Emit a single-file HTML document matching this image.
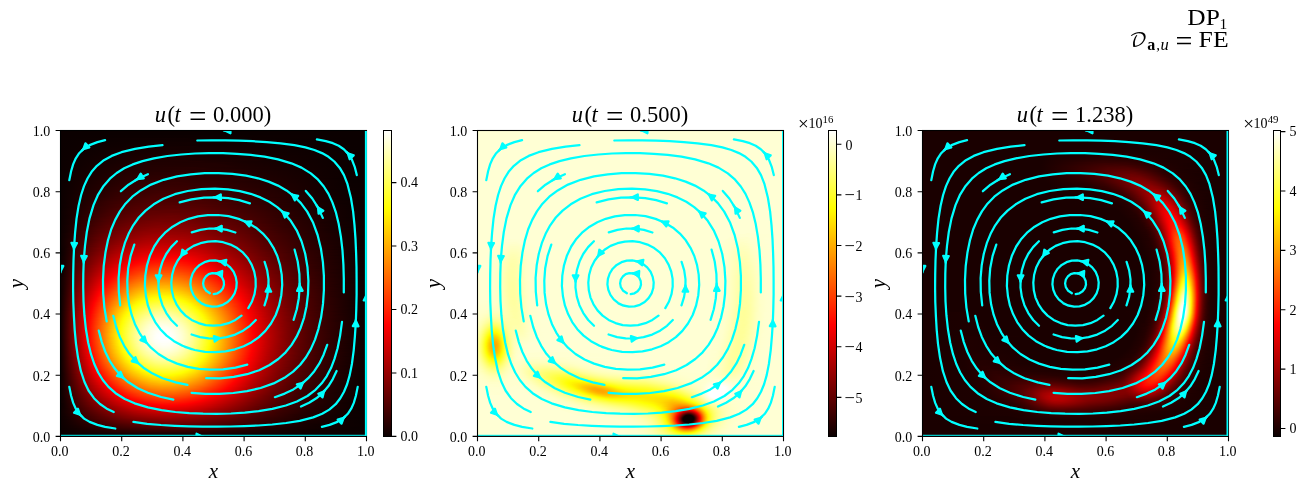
<!DOCTYPE html>
<html><head><meta charset="utf-8"><title>u(t)</title>
<style>
html,body{margin:0;padding:0;background:#fff}
#w{position:relative;width:1306px;height:491px;overflow:hidden;background:#fff}
.h{position:absolute;top:130px;width:307px;height:307px;overflow:hidden}
.h i{display:block;width:307px;height:1px}
svg{position:absolute;left:0;top:0}
text{font-family:"Liberation Serif",serif;fill:#000}
</style></head><body><div id="w">
<div class="h" style="left:60px"><i style="background:linear-gradient(90deg,#0b0000 0px,#0b0000 150px,#0b0000 300px,#0b0000 307px)"></i><i style="background:linear-gradient(90deg,#0b0000 0px,#0b0000 150px,#0b0000 300px,#0b0000 307px)"></i><i style="background:linear-gradient(90deg,#0b0000 0px,#0b0000 150px,#0b0000 300px,#0b0000 307px)"></i><i style="background:linear-gradient(90deg,#0b0000 0px,#0b0000 150px,#0b0000 300px,#0b0000 307px)"></i><i style="background:linear-gradient(90deg,#0b0000 0px,#0b0000 150px,#0b0000 300px,#0b0000 307px)"></i><i style="background:linear-gradient(90deg,#0b0000 0px,#0d0000 150px,#0b0000 300px,#0b0000 307px)"></i><i style="background:linear-gradient(90deg,#0b0000 0px,#0d0000 150px,#0b0000 300px,#0b0000 307px)"></i><i style="background:linear-gradient(90deg,#0b0000 0px,#0d0000 150px,#0b0000 300px,#0b0000 307px)"></i><i style="background:linear-gradient(90deg,#0b0000 0px,#100000 126px,#0d0000 132px,#0b0000 282px,#0b0000 307px)"></i><i style="background:linear-gradient(90deg,#0b0000 0px,#100000 150px,#0b0000 240px,#0b0000 307px)"></i><i style="background:linear-gradient(90deg,#0b0000 0px,#100000 134px,#0b0000 284px,#0b0000 307px)"></i><i style="background:linear-gradient(90deg,#0b0000 0px,#100000 118px,#0b0000 268px,#0b0000 307px)"></i><i style="background:linear-gradient(90deg,#0b0000 0px,#120000 129px,#0b0000 279px,#0b0000 307px)"></i><i style="background:linear-gradient(90deg,#0b0000 0px,#120000 129px,#0b0000 279px,#0b0000 307px)"></i><i style="background:linear-gradient(90deg,#0b0000 0px,#120000 113px,#0b0000 263px,#0b0000 307px)"></i><i style="background:linear-gradient(90deg,#0b0000 0px,#120000 102px,#0d0000 252px,#0b0000 307px)"></i><i style="background:linear-gradient(90deg,#0b0000 0px,#150000 133px,#120000 139px,#0b0000 289px,#0b0000 307px)"></i><i style="background:linear-gradient(90deg,#0b0000 0px,#150000 113px,#0b0000 263px,#0b0000 307px)"></i><i style="background:linear-gradient(90deg,#0b0000 0px,#150000 101px,#100000 228px,#0d0000 234px,#0b0000 307px)"></i><i style="background:linear-gradient(90deg,#0b0000 0px,#150000 93px,#120000 201px,#0b0000 290px,#0b0000 307px)"></i><i style="background:linear-gradient(90deg,#0b0000 0px,#180000 110px,#0d0000 260px,#0b0000 307px)"></i><i style="background:linear-gradient(90deg,#0b0000 0px,#180000 104px,#150000 182px,#120000 188px,#0b0000 307px)"></i><i style="background:linear-gradient(90deg,#0b0000 0px,#180000 95px,#150000 188px,#120000 194px,#0b0000 307px)"></i><i style="background:linear-gradient(90deg,#0b0000 0px,#180000 89px,#180000 166px,#150000 172px,#0b0000 304px,#0b0000 307px)"></i><i style="background:linear-gradient(90deg,#0b0000 0px,#1a0000 95px,#150000 197px,#120000 203px,#0b0000 307px)"></i><i style="background:linear-gradient(90deg,#0b0000 0px,#1a0000 90px,#180000 178px,#150000 184px,#0b0000 304px,#0b0000 307px)"></i><i style="background:linear-gradient(90deg,#0b0000 0px,#1a0000 84px,#180000 183px,#150000 189px,#0b0000 303px,#0b0000 307px)"></i><i style="background:linear-gradient(90deg,#0b0000 0px,#1a0000 80px,#1d0000 133px,#1a0000 139px,#0d0000 278px,#0b0000 307px)"></i><i style="background:linear-gradient(90deg,#0b0000 0px,#1a0000 75px,#1d0000 144px,#1a0000 150px,#0b0000 300px,#0b0000 307px)"></i><i style="background:linear-gradient(90deg,#0b0000 0px,#1d0000 87px,#1a0000 176px,#0b0000 282px,#0b0000 307px)"></i><i style="background:linear-gradient(90deg,#0b0000 0px,#1d0000 84px,#200000 126px,#1d0000 132px,#180000 199px,#150000 205px,#0b0000 303px,#0b0000 307px)"></i><i style="background:linear-gradient(90deg,#0b0000 0px,#1d0000 80px,#200000 140px,#1d0000 146px,#0b0000 296px,#0b0000 307px)"></i><i style="background:linear-gradient(90deg,#0b0000 0px,#200000 90px,#1d0000 170px,#1a0000 176px,#0b0000 298px,#0b0000 307px)"></i><i style="background:linear-gradient(90deg,#0b0000 0px,#200000 86px,#200000 155px,#1d0000 161px,#0b0000 297px,#0b0000 307px)"></i><i style="background:linear-gradient(90deg,#0b0000 0px,#200000 82px,#200000 161px,#1d0000 167px,#0b0000 296px,#0b0000 307px)"></i><i style="background:linear-gradient(90deg,#0b0000 0px,#220000 87px,#200000 166px,#1d0000 172px,#0b0000 294px,#0b0000 307px)"></i><i style="background:linear-gradient(90deg,#0b0000 0px,#220000 83px,#200000 170px,#1d0000 176px,#0b0000 294px,#0b0000 307px)"></i><i style="background:linear-gradient(90deg,#0b0000 0px,#220000 79px,#250000 135px,#220000 141px,#180000 218px,#150000 224px,#0b0000 304px,#0b0000 307px)"></i><i style="background:linear-gradient(90deg,#0b0000 0px,#220000 75px,#250000 143px,#220000 149px,#100000 265px,#0b0000 305px,#0b0000 307px)"></i><i style="background:linear-gradient(90deg,#0b0000 0px,#220000 73px,#250000 119px,#200000 181px,#1d0000 187px,#0b0000 295px,#0b0000 307px)"></i><i style="background:linear-gradient(90deg,#0b0000 0px,#220000 69px,#270000 123px,#1d0000 198px,#1a0000 204px,#0b0000 299px,#0b0000 307px)"></i><i style="background:linear-gradient(90deg,#0b0000 0px,#250000 75px,#250000 160px,#220000 166px,#0b0000 293px,#0b0000 307px)"></i><i style="background:linear-gradient(90deg,#0b0000 0px,#250000 73px,#2a0000 123px,#270000 129px,#200000 190px,#1d0000 196px,#0b0000 295px,#0b0000 307px)"></i><i style="background:linear-gradient(90deg,#0b0000 0px,#250000 70px,#2a0000 118px,#200000 193px,#1d0000 199px,#0b0000 294px,#0b0000 307px)"></i><i style="background:linear-gradient(90deg,#0b0000 0px,#270000 74px,#2a0000 143px,#270000 149px,#0b0000 295px,#0b0000 307px)"></i><i style="background:linear-gradient(90deg,#0b0000 0px,#270000 71px,#2d0000 122px,#150000 246px,#120000 252px,#0b0000 307px)"></i><i style="background:linear-gradient(90deg,#0b0000 0px,#270000 68px,#2d0000 109px,#2a0000 154px,#270000 160px,#0b0000 293px,#0b0000 307px)"></i><i style="background:linear-gradient(90deg,#0b0000 0px,#270000 66px,#2d0000 100px,#2a0000 158px,#270000 164px,#0b0000 294px,#0b0000 307px)"></i><i style="background:linear-gradient(90deg,#0b0000 0px,#2a0000 72px,#2f0000 122px,#270000 174px,#0d0000 278px,#0b0000 307px)"></i><i style="background:linear-gradient(90deg,#0b0000 0px,#1d0000 40px,#250000 56px,#2f0000 94px,#2d0000 154px,#2a0000 160px,#0b0000 292px,#0b0000 307px)"></i><i style="background:linear-gradient(90deg,#0b0000 0px,#2a0000 67px,#320000 117px,#250000 190px,#220000 196px,#0b0000 293px,#0b0000 307px)"></i><i style="background:linear-gradient(90deg,#0b0000 0px,#2d0000 71px,#320000 115px,#2d0000 162px,#270000 174px,#0b0000 295px,#0b0000 307px)"></i><i style="background:linear-gradient(90deg,#0b0000 0px,#2d0000 69px,#350000 119px,#320000 125px,#2d0000 166px,#270000 178px,#0b0000 294px,#0b0000 307px)"></i><i style="background:linear-gradient(90deg,#0b0000 0px,#2d0000 68px,#350000 107px,#320000 148px,#2f0000 153px,#0d0000 285px,#0b0000 307px)"></i><i style="background:linear-gradient(90deg,#0b0000 0px,#2d0000 65px,#350000 99px,#320000 152px,#2f0000 157px,#0d0000 285px,#0b0000 307px)"></i><i style="background:linear-gradient(90deg,#0b0000 0px,#2f0000 67px,#370000 105px,#320000 156px,#2f0000 161px,#0d0000 284px,#0b0000 307px)"></i><i style="background:linear-gradient(90deg,#0b0000 0px,#320000 71px,#370000 109px,#350000 150px,#2f0000 162px,#0d0000 286px,#0b0000 307px)"></i><i style="background:linear-gradient(90deg,#0b0000 0px,#1d0000 32px,#2d0000 58px,#3a0000 100px,#350000 154px,#2f0000 166px,#0d0000 285px,#0b0000 307px)"></i><i style="background:linear-gradient(90deg,#0b0000 0px,#320000 66px,#3a0000 102px,#370000 148px,#120000 265px,#0b0000 307px)"></i><i style="background:linear-gradient(90deg,#0b0000 0px,#320000 64px,#3c0000 104px,#370000 152px,#100000 272px,#0b0000 307px)"></i><i style="background:linear-gradient(90deg,#0b0000 0px,#320000 63px,#3c0000 95px,#3a0000 146px,#370000 152px,#100000 274px,#0b0000 307px)"></i><i style="background:linear-gradient(90deg,#0b0000 0px,#320000 61px,#3f0000 101px,#3a0000 151px,#350000 161px,#100000 274px,#0b0000 307px)"></i><i style="background:linear-gradient(90deg,#0b0000 0px,#1d0000 28px,#350000 62px,#3f0000 102px,#3c0000 145px,#120000 267px,#0b0000 307px)"></i><i style="background:linear-gradient(90deg,#0b0000 0px,#150000 16px,#350000 61px,#420000 104px,#3f0000 140px,#3c0000 146px,#100000 275px,#0b0000 307px)"></i><i style="background:linear-gradient(90deg,#0b0000 0px,#350000 60px,#420000 98px,#3f0000 145px,#3a0000 155px,#100000 276px,#0b0000 307px)"></i><i style="background:linear-gradient(90deg,#0b0000 0px,#370000 61px,#440000 99px,#420000 140px,#3c0000 152px,#100000 276px,#0b0000 307px)"></i><i style="background:linear-gradient(90deg,#0b0000 0px,#3a0000 64px,#440000 94px,#420000 144px,#3c0000 156px,#120000 270px,#0b0000 307px)"></i><i style="background:linear-gradient(90deg,#0b0000 0px,#1d0000 24px,#370000 57px,#440000 89px,#470000 128px,#440000 134px,#3a0000 170px,#270000 208px,#0b0000 298px,#0b0000 307px)"></i><i style="background:linear-gradient(90deg,#0b0000 0px,#1a0000 20px,#2f0000 44px,#440000 81px,#4a0000 119px,#470000 125px,#3f0000 160px,#2f0000 192px,#100000 279px,#0b0000 307px)"></i><i style="background:linear-gradient(90deg,#0b0000 0px,#1a0000 20px,#350000 50px,#470000 87px,#4a0000 129px,#2d0000 204px,#220000 226px,#0b0000 299px,#0b0000 307px)"></i><i style="background:linear-gradient(90deg,#0b0000 0px,#370000 53px,#4a0000 88px,#4a0000 136px,#440000 148px,#200000 236px,#0d0000 290px,#0b0000 307px)"></i><i style="background:linear-gradient(90deg,#0b0000 0px,#1d0000 22px,#370000 50px,#4a0000 85px,#4a0000 141px,#3c0000 169px,#150000 263px,#0b0000 307px)"></i><i style="background:linear-gradient(90deg,#0b0000 0px,#1a0000 18px,#3a0000 52px,#4c0000 88px,#4f0000 127px,#4c0000 132px,#420000 165px,#220000 229px,#0b0000 300px,#0b0000 307px)"></i><i style="background:linear-gradient(90deg,#0b0000 0px,#1a0000 18px,#350000 45px,#4c0000 82px,#510000 120px,#420000 168px,#320000 195px,#100000 280px,#0b0000 307px)"></i><i style="background:linear-gradient(90deg,#0b0000 0px,#1d0000 20px,#3f0000 56px,#510000 92px,#4f0000 139px,#270000 219px,#0b0000 299px,#0b0000 307px)"></i><i style="background:linear-gradient(90deg,#0b0000 0px,#1d0000 20px,#3c0000 51px,#4f0000 82px,#540000 110px,#4f0000 144px,#1d0000 244px,#0b0000 304px,#0b0000 307px)"></i><i style="background:linear-gradient(90deg,#0b0000 0px,#1a0000 17px,#2f0000 35px,#4a0000 69px,#570000 103px,#540000 132px,#4c0000 148px,#3f0000 180px,#220000 232px,#0b0000 301px,#0b0000 307px)"></i><i style="background:linear-gradient(90deg,#0b0000 0px,#150000 12px,#350000 40px,#4f0000 75px,#570000 99px,#540000 138px,#1a0000 252px,#0b0000 306px,#0b0000 307px)"></i><i style="background:linear-gradient(90deg,#0b0000 0px,#470000 59px,#590000 95px,#570000 135px,#200000 242px,#0b0000 302px,#0b0000 307px)"></i><i style="background:linear-gradient(90deg,#0b0000 0px,#440000 54px,#570000 85px,#5c0000 111px,#570000 140px,#1d0000 248px,#0b0000 305px,#0b0000 307px)"></i><i style="background:linear-gradient(90deg,#0b0000 0px,#220000 22px,#420000 50px,#590000 84px,#5f0000 116px,#4f0000 160px,#250000 231px,#0b0000 301px,#0b0000 307px)"></i><i style="background:linear-gradient(90deg,#0b0000 0px,#4a0000 57px,#5f0000 93px,#5c0000 136px,#200000 243px,#0b0000 303px,#0b0000 307px)"></i><i style="background:linear-gradient(90deg,#0b0000 0px,#2f0000 32px,#4a0000 55px,#5f0000 89px,#5f0000 133px,#1d0000 250px,#0b0000 304px,#0b0000 307px)"></i><i style="background:linear-gradient(90deg,#0b0000 0px,#1d0000 16px,#470000 51px,#5f0000 84px,#640000 110px,#5f0000 138px,#220000 241px,#0b0000 302px,#0b0000 307px)"></i><i style="background:linear-gradient(90deg,#0b0000 0px,#1d0000 16px,#420000 45px,#5f0000 79px,#660000 109px,#5f0000 142px,#220000 241px,#0b0000 302px,#0b0000 307px)"></i><i style="background:linear-gradient(90deg,#0b0000 0px,#150000 10px,#350000 32px,#590000 68px,#660000 94px,#690000 116px,#660000 122px,#5c0000 151px,#270000 231px,#0b0000 302px,#0b0000 307px)"></i><i style="background:linear-gradient(90deg,#0b0000 0px,#150000 9px,#4f0000 54px,#660000 86px,#6c0000 111px,#690000 117px,#640000 139px,#220000 242px,#0b0000 303px,#0b0000 307px)"></i><i style="background:linear-gradient(90deg,#0b0000 0px,#150000 9px,#4a0000 48px,#640000 78px,#6c0000 101px,#690000 132px,#4f0000 176px,#2f0000 220px,#100000 287px,#0b0000 307px)"></i><i style="background:linear-gradient(90deg,#0b0000 0px,#150000 9px,#420000 40px,#640000 74px,#6e0000 99px,#6c0000 131px,#470000 189px,#270000 234px,#0b0000 302px,#0b0000 307px)"></i><i style="background:linear-gradient(90deg,#0b0000 0px,#1a0000 12px,#4a0000 45px,#660000 75px,#710000 100px,#6e0000 130px,#4f0000 180px,#370000 211px,#1a0000 262px,#0b0000 306px,#0b0000 307px)"></i><i style="background:linear-gradient(90deg,#0b0000 0px,#1a0000 12px,#4a0000 44px,#690000 75px,#740000 102px,#710000 129px,#540000 175px,#2d0000 227px,#0d0000 294px,#0b0000 307px)"></i><i style="background:linear-gradient(90deg,#0b0000 0px,#1a0000 12px,#2a0000 21px,#5c0000 58px,#740000 90px,#740000 128px,#540000 177px,#350000 216px,#150000 274px,#0b0000 307px)"></i><i style="background:linear-gradient(90deg,#0b0000 0px,#150000 8px,#4a0000 42px,#6c0000 73px,#790000 99px,#760000 128px,#5c0000 169px,#3f0000 203px,#1a0000 263px,#0b0000 307px)"></i><i style="background:linear-gradient(90deg,#0b0000 0px,#150000 8px,#4a0000 41px,#6c0000 70px,#7b0000 97px,#790000 127px,#5c0000 171px,#3a0000 211px,#1a0000 265px,#0b0000 306px,#0b0000 307px)"></i><i style="background:linear-gradient(90deg,#0b0000 0px,#150000 8px,#3a0000 29px,#640000 60px,#790000 86px,#7e0000 108px,#790000 133px,#2f0000 229px,#120000 283px,#0b0000 307px)"></i><i style="background:linear-gradient(90deg,#0b0000 0px,#200000 14px,#570000 48px,#740000 74px,#810000 101px,#7e0000 127px,#640000 165px,#370000 217px,#1a0000 266px,#0b0000 306px,#0b0000 307px)"></i><i style="background:linear-gradient(90deg,#0b0000 0px,#1d0000 12px,#4f0000 41px,#740000 71px,#830000 98px,#810000 126px,#690000 161px,#370000 218px,#1a0000 267px,#0b0000 305px,#0b0000 307px)"></i><i style="background:linear-gradient(90deg,#0b0000 0px,#1d0000 12px,#420000 32px,#6c0000 62px,#810000 86px,#860000 106px,#810000 132px,#570000 184px,#320000 226px,#0d0000 294px,#0b0000 307px)"></i><i style="background:linear-gradient(90deg,#0b0000 0px,#1a0000 10px,#4a0000 36px,#740000 66px,#890000 96px,#860000 127px,#690000 166px,#3c0000 214px,#1a0000 267px,#0b0000 307px)"></i><i style="background:linear-gradient(90deg,#0b0000 0px,#1a0000 10px,#4f0000 38px,#790000 69px,#8b0000 94px,#890000 127px,#690000 168px,#3f0000 211px,#1a0000 267px,#0b0000 307px)"></i><i style="background:linear-gradient(90deg,#0b0000 0px,#150000 7px,#4f0000 37px,#790000 67px,#8e0000 93px,#8e0000 121px,#790000 153px,#3c0000 216px,#1a0000 267px,#0b0000 307px)"></i><i style="background:linear-gradient(90deg,#0b0000 0px,#150000 7px,#350000 22px,#710000 58px,#8b0000 83px,#930000 109px,#890000 136px,#370000 224px,#1a0000 269px,#0b0000 306px,#0b0000 307px)"></i><i style="background:linear-gradient(90deg,#0b0000 0px,#120000 5px,#4c0000 34px,#7b0000 64px,#8e0000 83px,#960000 104px,#930000 123px,#7e0000 152px,#3c0000 218px,#1a0000 269px,#0b0000 306px,#0b0000 307px)"></i><i style="background:linear-gradient(90deg,#0b0000 0px,#270000 15px,#610000 45px,#810000 67px,#930000 86px,#980000 106px,#930000 129px,#6c0000 173px,#510000 196px,#270000 247px,#0b0000 303px,#0b0000 307px)"></i><i style="background:linear-gradient(90deg,#0b0000 0px,#270000 15px,#5f0000 42px,#890000 71px,#9b0000 95px,#980000 125px,#7b0000 160px,#420000 214px,#220000 256px,#0b0000 305px,#0b0000 307px)"></i><i style="background:linear-gradient(90deg,#0b0000 0px,#1d0000 10px,#4f0000 33px,#810000 62px,#9b0000 88px,#a00000 112px,#960000 134px,#5f0000 188px,#4c0000 204px,#250000 252px,#0b0000 304px,#0b0000 307px)"></i><i style="background:linear-gradient(90deg,#0b0000 0px,#1a0000 8px,#640000 43px,#8b0000 68px,#9e0000 88px,#a30000 108px,#9b0000 131px,#740000 171px,#4c0000 205px,#250000 253px,#0b0000 303px,#0b0000 307px)"></i><i style="background:linear-gradient(90deg,#0b0000 0px,#1a0000 8px,#570000 35px,#890000 64px,#9e0000 84px,#a50000 100px,#a30000 123px,#8b0000 152px,#470000 211px,#220000 257px,#0b0000 304px,#0b0000 307px)"></i><i style="background:linear-gradient(90deg,#0b0000 0px,#2a0000 15px,#5f0000 38px,#8b0000 64px,#a30000 85px,#ab0000 108px,#a00000 132px,#810000 163px,#470000 212px,#220000 258px,#0b0000 305px,#0b0000 307px)"></i><i style="background:linear-gradient(90deg,#0b0000 0px,#740000 48px,#9b0000 73px,#ad0000 97px,#ab0000 121px,#930000 149px,#470000 213px,#220000 259px,#0b0000 305px,#0b0000 307px)"></i><i style="background:linear-gradient(90deg,#0b0000 0px,#6e0000 44px,#930000 65px,#ab0000 86px,#b30000 107px,#a80000 129px,#930000 152px,#4c0000 209px,#250000 255px,#0b0000 303px,#0b0000 307px)"></i><i style="background:linear-gradient(90deg,#0b0000 0px,#2f0000 16px,#660000 39px,#900000 61px,#ab0000 82px,#b50000 100px,#b30000 120px,#9b0000 148px,#4c0000 210px,#270000 253px,#0b0000 302px,#0b0000 307px)"></i><i style="background:linear-gradient(90deg,#0b0000 0px,#1d0000 8px,#710000 43px,#9e0000 68px,#b30000 88px,#b80000 102px,#b50000 122px,#9e0000 148px,#510000 207px,#2a0000 249px,#0b0000 303px,#0b0000 307px)"></i><i style="background:linear-gradient(90deg,#0b0000 0px,#1d0000 8px,#640000 36px,#980000 62px,#b30000 83px,#bd0000 103px,#b80000 124px,#9e0000 150px,#4c0000 212px,#220000 261px,#0b0000 305px,#0b0000 307px)"></i><i style="background:linear-gradient(90deg,#0b0000 0px,#1d0000 8px,#740000 42px,#a80000 70px,#b80000 85px,#c00000 99px,#bd0000 121px,#ab0000 142px,#4c0000 213px,#250000 257px,#0b0000 304px,#0b0000 307px)"></i><i style="background:linear-gradient(90deg,#0b0000 0px,#1d0000 8px,#570000 29px,#960000 57px,#b80000 80px,#c50000 98px,#c20000 119px,#ab0000 145px,#570000 205px,#2f0000 244px,#0b0000 302px,#0b0000 307px)"></i><i style="background:linear-gradient(90deg,#0b0000 0px,#1a0000 7px,#250000 10px,#860000 48px,#ad0000 69px,#c20000 86px,#ca0000 104px,#c50000 121px,#ab0000 147px,#590000 204px,#350000 239px,#150000 283px,#0b0000 307px)"></i><i style="background:linear-gradient(90deg,#0b0000 0px,#150000 5px,#5f0000 31px,#9e0000 58px,#bd0000 78px,#cd0000 96px,#ca0000 120px,#b00000 146px,#590000 206px,#350000 239px,#150000 283px,#0b0000 307px)"></i><i style="background:linear-gradient(90deg,#0b0000 0px,#120000 4px,#200000 8px,#740000 38px,#ab0000 63px,#c80000 83px,#d20000 104px,#cd0000 122px,#b30000 146px,#590000 206px,#2f0000 246px,#0b0000 302px,#0b0000 307px)"></i><i style="background:linear-gradient(90deg,#0b0000 0px,#100000 3px,#570000 27px,#a00000 56px,#c80000 79px,#d50000 97px,#d50000 116px,#c00000 139px,#570000 209px,#370000 239px,#1a0000 275px,#0b0000 307px)"></i><i style="background:linear-gradient(90deg,#0b0000 0px,#100000 3px,#640000 31px,#a80000 58px,#ca0000 78px,#da0000 96px,#d70000 119px,#c00000 142px,#590000 208px,#2f0000 247px,#0b0000 303px,#0b0000 307px)"></i><i style="background:linear-gradient(90deg,#0b0000 0px,#0d0000 2px,#4f0000 23px,#a30000 54px,#ca0000 75px,#dd0000 92px,#dd0000 118px,#c20000 143px,#5c0000 207px,#320000 245px,#120000 290px,#0b0000 307px)"></i><i style="background:linear-gradient(90deg,#0b0000 0px,#0d0000 2px,#6c0000 32px,#b30000 60px,#d20000 78px,#e20000 94px,#e20000 116px,#d20000 134px,#9e0000 168px,#740000 192px,#440000 227px,#220000 265px,#0b0000 305px,#0b0000 307px)"></i><i style="background:linear-gradient(90deg,#0b0000 0px,#0d0000 2px,#4f0000 22px,#890000 42px,#c00000 64px,#dd0000 82px,#ea0000 102px,#e40000 119px,#d20000 137px,#5c0000 209px,#320000 246px,#0d0000 298px,#0b0000 307px)"></i><i style="background:linear-gradient(90deg,#0b0000 0px,#0d0000 2px,#540000 23px,#a80000 52px,#cd0000 69px,#e70000 88px,#ef0000 106px,#e70000 122px,#c80000 147px,#660000 203px,#370000 241px,#120000 290px,#0b0000 307px)"></i><i style="background:linear-gradient(90deg,#0b0000 0px,#0d0000 2px,#5f0000 26px,#ab0000 52px,#d50000 71px,#ec0000 88px,#f20000 100px,#ef0000 118px,#d50000 141px,#690000 202px,#3c0000 237px,#1a0000 277px,#0b0000 307px)"></i><i style="background:linear-gradient(90deg,#0b0000 0px,#150000 4px,#740000 32px,#b30000 54px,#d70000 70px,#f20000 89px,#f70000 103px,#f40000 117px,#e20000 135px,#610000 208px,#370000 242px,#100000 294px,#0b0000 307px)"></i><i style="background:linear-gradient(90deg,#0b0000 0px,#150000 4px,#740000 31px,#b30000 53px,#da0000 69px,#f40000 86px,#fc0000 100px,#f90000 117px,#ea0000 132px,#bd0000 159px,#860000 187px,#4f0000 222px,#270000 260px,#0b0000 305px,#0b0000 307px)"></i><i style="background:linear-gradient(90deg,#0b0000 0px,#150000 4px,#6c0000 28px,#b80000 53px,#e40000 72px,#f90000 86px,#ff0200 96px,#ff0000 117px,#ea0000 135px,#ab0000 170px,#760000 197px,#4c0000 225px,#220000 267px,#0b0000 305px,#0b0000 307px)"></i><i style="background:linear-gradient(90deg,#0b0000 0px,#150000 4px,#5f0000 24px,#ab0000 47px,#e70000 71px,#ff0000 87px,#ff0800 100px,#ff0500 116px,#fc0000 125px,#d70000 149px,#760000 198px,#4c0000 226px,#270000 261px,#0b0000 304px,#0b0000 307px)"></i><i style="background:linear-gradient(90deg,#0b0000 0px,#120000 3px,#810000 33px,#ca0000 57px,#ea0000 70px,#ff0000 83px,#ff0d00 97px,#ff0a00 116px,#ff0000 127px,#d70000 151px,#7b0000 196px,#510000 223px,#2f0000 253px,#0b0000 303px,#0b0000 307px)"></i><i style="background:linear-gradient(90deg,#0b0000 0px,#120000 3px,#6e0000 27px,#c00000 52px,#f70000 74px,#ff0200 81px,#ff1000 93px,#ff1000 116px,#ff0000 130px,#dd0000 150px,#810000 194px,#510000 223px,#2d0000 256px,#0b0000 303px,#0b0000 307px)"></i><i style="background:linear-gradient(90deg,#0b0000 0px,#120000 3px,#740000 28px,#bd0000 50px,#e20000 63px,#ff0000 76px,#ff1200 89px,#ff1a00 106px,#ff1000 122px,#ff0000 134px,#bd0000 167px,#890000 191px,#5f0000 215px,#370000 246px,#1a0000 280px,#0b0000 307px)"></i><i style="background:linear-gradient(90deg,#0b0000 0px,#120000 3px,#540000 19px,#ab0000 43px,#ea0000 64px,#ff0000 74px,#ff1500 86px,#ff1f00 102px,#ff1a00 117px,#ff0200 135px,#e70000 149px,#8b0000 191px,#590000 219px,#320000 251px,#0b0000 303px,#0b0000 307px)"></i><i style="background:linear-gradient(90deg,#0b0000 0px,#120000 3px,#4a0000 16px,#c00000 48px,#ef0000 64px,#ff0200 72px,#ff1d00 88px,#ff2500 104px,#ff1d00 120px,#ff0000 139px,#810000 197px,#4c0000 229px,#250000 266px,#0b0000 305px,#0b0000 307px)"></i><i style="background:linear-gradient(90deg,#0b0000 0px,#100000 2px,#8e0000 33px,#dd0000 56px,#ff0200 70px,#ff1d00 84px,#ff2a00 98px,#ff2700 114px,#ff0d00 135px,#ff0000 141px,#830000 197px,#510000 226px,#2d0000 258px,#0b0000 303px,#0b0000 307px)"></i><i style="background:linear-gradient(90deg,#0b0000 0px,#100000 2px,#900000 33px,#dd0000 55px,#ff0000 67px,#ff1d00 80px,#ff2f00 96px,#ff2c00 115px,#ff1d00 128px,#ff0000 144px,#860000 196px,#570000 223px,#2f0000 255px,#0b0000 303px,#0b0000 307px)"></i><i style="background:linear-gradient(90deg,#0b0000 0px,#100000 2px,#9e0000 36px,#f20000 60px,#ff0200 66px,#ff1d00 77px,#ff3200 93px,#ff3700 106px,#ff2c00 121px,#ff1500 136px,#ff0000 146px,#900000 192px,#590000 222px,#320000 253px,#0b0000 303px,#0b0000 307px)"></i><i style="background:linear-gradient(90deg,#0b0000 0px,#100000 2px,#960000 33px,#dd0000 52px,#ff0000 63px,#ff2500 78px,#ff3a00 95px,#ff3a00 113px,#ff2500 130px,#ff0000 148px,#900000 193px,#5c0000 221px,#2f0000 256px,#0b0000 304px,#0b0000 307px)"></i><i style="background:linear-gradient(90deg,#0b0000 0px,#100000 2px,#8b0000 30px,#dd0000 51px,#ff0000 62px,#ff1f00 73px,#ff3c00 90px,#ff4100 104px,#ff3c00 117px,#ff2500 133px,#ff0000 150px,#9e0000 188px,#6e0000 211px,#440000 238px,#200000 274px,#0b0000 305px,#0b0000 307px)"></i><i style="background:linear-gradient(90deg,#0b0000 0px,#100000 2px,#8e0000 30px,#da0000 49px,#ff0000 60px,#ff2700 74px,#ff3f00 88px,#ff4700 98px,#ff4700 112px,#ff3200 129px,#ff0800 148px,#fc0000 152px,#8e0000 196px,#590000 224px,#2f0000 257px,#0b0000 303px,#0b0000 307px)"></i><i style="background:linear-gradient(90deg,#0b0000 0px,#100000 2px,#760000 24px,#d20000 46px,#ff0200 59px,#ff2f00 75px,#ff4700 89px,#ff4f00 102px,#ff4c00 113px,#ff3200 132px,#ff0000 153px,#8b0000 198px,#570000 226px,#320000 255px,#0d0000 299px,#0b0000 307px)"></i><i style="background:linear-gradient(90deg,#0b0000 0px,#100000 2px,#930000 30px,#ec0000 52px,#ff0000 57px,#ff2a00 71px,#ff4700 84px,#ff5400 98px,#ff5100 114px,#ff3f00 128px,#ff0d00 150px,#fc0000 156px,#a00000 190px,#690000 216px,#440000 240px,#220000 272px,#0b0000 306px,#0b0000 307px)"></i><i style="background:linear-gradient(90deg,#0b0000 0px,#100000 2px,#960000 30px,#f20000 52px,#ff0000 56px,#ff2200 66px,#ff4900 82px,#ff5900 95px,#ff5c00 108px,#ff4f00 122px,#ff2a00 140px,#ff0000 156px,#980000 194px,#660000 218px,#3c0000 247px,#200000 275px,#0b0000 306px,#0b0000 307px)"></i><i style="background:linear-gradient(90deg,#0b0000 0px,#100000 2px,#740000 22px,#e20000 47px,#ff0200 55px,#ff2a00 67px,#ff5100 83px,#ff6100 97px,#ff5e00 114px,#ff4400 131px,#ff0d00 153px,#fc0000 159px,#b50000 184px,#830000 204px,#540000 230px,#2f0000 259px,#0b0000 303px,#0b0000 307px)"></i><i style="background:linear-gradient(90deg,#0b0000 0px,#100000 2px,#6c0000 20px,#900000 28px,#e20000 46px,#ff0200 54px,#ff2c00 66px,#ff5400 81px,#ff6600 95px,#ff6900 108px,#ff5900 123px,#ff3a00 138px,#ff0000 159px,#b50000 185px,#810000 206px,#510000 232px,#2f0000 259px,#0b0000 303px,#0b0000 307px)"></i><i style="background:linear-gradient(90deg,#0b0000 0px,#100000 2px,#860000 25px,#ea0000 47px,#ff0000 52px,#ff3f00 70px,#ff6100 85px,#ff6e00 98px,#ff6b00 113px,#ff5c00 125px,#ff3700 141px,#ff0200 160px,#b50000 186px,#7e0000 208px,#4f0000 234px,#270000 267px,#0b0000 306px,#0b0000 307px)"></i><i style="background:linear-gradient(90deg,#0b0000 0px,#1d0000 4px,#bd0000 36px,#ff0000 51px,#ff3700 66px,#ff5c00 79px,#ff7100 93px,#ff7600 103px,#ff7100 115px,#ff5400 132px,#ff1000 157px,#ff0200 161px,#fc0000 163px,#ca0000 179px,#790000 211px,#4a0000 238px,#270000 268px,#0b0000 305px,#0b0000 307px)"></i><i style="background:linear-gradient(90deg,#0b0000 0px,#1d0000 4px,#a80000 31px,#ff0000 50px,#ff3a00 65px,#ff6600 81px,#ff7900 94px,#ff7e00 104px,#ff7100 120px,#ff4f00 136px,#ff1000 158px,#ff0000 163px,#a50000 193px,#660000 221px,#370000 253px,#100000 296px,#0b0000 307px)"></i><i style="background:linear-gradient(90deg,#0b0000 0px,#1d0000 4px,#cd0000 38px,#f90000 48px,#ff0000 49px,#ff3c00 64px,#ff6600 78px,#ff7e00 92px,#ff8300 104px,#ff7b00 117px,#ff5c00 133px,#ff2500 153px,#ff1000 159px,#ff0000 164px,#ad0000 191px,#7e0000 210px,#510000 234px,#2d0000 263px,#0b0000 304px,#0b0000 307px)"></i><i style="background:linear-gradient(90deg,#0b0000 0px,#1d0000 4px,#b80000 33px,#ca0000 37px,#ff0000 48px,#ff4100 64px,#ff6900 77px,#ff8300 90px,#ff8b00 104px,#ff8300 116px,#ff6e00 128px,#ff5600 138px,#ff0200 165px,#ad0000 192px,#790000 213px,#540000 233px,#2f0000 261px,#0b0000 303px,#0b0000 307px)"></i><i style="background:linear-gradient(90deg,#0b0000 0px,#1d0000 4px,#9b0000 27px,#ff0000 47px,#ff4700 64px,#ff6900 75px,#ff8300 86px,#ff9000 97px,#ff8e00 112px,#ff7900 126px,#ff5600 140px,#ff0000 167px,#df0000 176px,#a50000 196px,#740000 216px,#4a0000 240px,#270000 269px,#0b0000 305px,#0b0000 307px)"></i><i style="background:linear-gradient(90deg,#0b0000 0px,#1d0000 4px,#a30000 28px,#f90000 45px,#ff0200 47px,#ff3400 58px,#ff6400 71px,#ff7e00 80px,#ff9300 92px,#ff9800 104px,#ff9300 114px,#ff7b00 128px,#ff4900 146px,#ff0000 168px,#df0000 177px,#900000 204px,#5c0000 229px,#3a0000 252px,#120000 293px,#0b0000 307px)"></i><i style="background:linear-gradient(90deg,#0b0000 0px,#1d0000 4px,#960000 25px,#fc0000 45px,#ff1a00 51px,#ff4f00 63px,#ff7900 76px,#ff9300 87px,#ffa000 101px,#ff9800 115px,#ff8300 127px,#ff4f00 146px,#ff0200 168px,#ff0000 169px,#d50000 181px,#980000 202px,#640000 225px,#3c0000 251px,#1a0000 284px,#0b0000 306px,#0b0000 307px)"></i><i style="background:linear-gradient(90deg,#0b0000 0px,#1d0000 4px,#9e0000 26px,#ff0200 45px,#ff3f00 58px,#ff7100 71px,#ff8b00 80px,#ffa000 92px,#ffa500 102px,#ffa200 112px,#ff8e00 125px,#ff7900 134px,#ff6b00 138px,#ff4900 149px,#ff0000 170px,#d50000 182px,#a50000 198px,#710000 219px,#470000 243px,#220000 275px,#0b0000 306px,#0b0000 307px)"></i><i style="background:linear-gradient(90deg,#0b0000 0px,#180000 3px,#890000 22px,#ff0000 44px,#ff3700 55px,#ff7300 70px,#ff9b00 84px,#ffaa00 95px,#ffad00 107px,#ffa000 119px,#ff8600 131px,#ff4f00 149px,#ff0000 171px,#ca0000 186px,#8b0000 208px,#590000 232px,#2f0000 262px,#0b0000 304px,#0b0000 307px)"></i><i style="background:linear-gradient(90deg,#0b0000 0px,#180000 3px,#a80000 27px,#ff0000 43px,#ff5600 61px,#ff8600 74px,#ff9b00 82px,#ffb000 93px,#ffb500 106px,#ffaa00 117px,#ff8e00 130px,#ff6b00 142px,#ff0000 172px,#c00000 190px,#810000 213px,#510000 237px,#270000 270px,#0b0000 305px,#0b0000 307px)"></i><i style="background:linear-gradient(90deg,#0b0000 0px,#180000 3px,#810000 20px,#f70000 41px,#ff0200 43px,#ff4f00 58px,#ff8300 71px,#ffa800 84px,#ffba00 97px,#ffb700 112px,#ffa800 122px,#ff8e00 133px,#ff8000 137px,#ff4700 154px,#ff0200 172px,#ff0000 173px,#c20000 190px,#790000 217px,#470000 244px,#1d0000 281px,#0b0000 306px,#0b0000 307px)"></i><i style="background:linear-gradient(90deg,#0b0000 0px,#120000 2px,#890000 21px,#fc0000 41px,#ff1200 45px,#ff6100 61px,#ff9300 74px,#ffa800 81px,#ffbd00 93px,#ffc200 103px,#ffbd00 113px,#ffa800 125px,#ff8300 138px,#ff3c00 158px,#ff0200 173px,#ff0000 174px,#c20000 191px,#830000 213px,#510000 238px,#2f0000 263px,#0b0000 305px,#0b0000 307px)"></i><i style="background:linear-gradient(90deg,#0b0000 0px,#120000 2px,#8b0000 21px,#ff0000 41px,#ff3200 50px,#ff4400 54px,#ff7300 64px,#ffa000 76px,#ffbf00 89px,#ffca00 101px,#ffc500 113px,#ffad00 125px,#ff8300 140px,#ff2500 165px,#ff0200 174px,#b80000 195px,#7b0000 217px,#4f0000 240px,#270000 271px,#0b0000 305px,#0b0000 307px)"></i><i style="background:linear-gradient(90deg,#0b0000 0px,#120000 2px,#810000 19px,#fc0000 40px,#ff1f00 46px,#ff7100 62px,#ffa000 74px,#ffb700 82px,#ffcf00 96px,#ffd200 104px,#ffc500 117px,#ffa800 130px,#ff7300 146px,#ff0200 175px,#ad0000 199px,#830000 214px,#540000 237px,#2f0000 264px,#0b0000 304px,#0b0000 307px)"></i><i style="background:linear-gradient(90deg,#0b0000 0px,#120000 2px,#9b0000 23px,#fc0000 39px,#ff1200 43px,#ff5400 55px,#ff9300 69px,#ffb500 79px,#ffcc00 89px,#ffd700 98px,#ffd400 111px,#ffc200 122px,#ff9500 138px,#ff4900 158px,#ff0000 176px,#b50000 197px,#760000 220px,#4a0000 244px,#270000 271px,#0b0000 305px,#0b0000 307px)"></i><i style="background:linear-gradient(90deg,#0b0000 0px,#120000 2px,#710000 16px,#ff0000 39px,#ff6400 57px,#ffa800 73px,#ffca00 84px,#ffdc00 96px,#ffdf00 107px,#ffd200 118px,#ffb200 131px,#ff7600 148px,#ff0000 177px,#ba0000 196px,#830000 215px,#590000 235px,#2f0000 264px,#0b0000 304px,#0b0000 307px)"></i><i style="background:linear-gradient(90deg,#0b0000 0px,#120000 2px,#860000 19px,#fc0000 38px,#ff0800 40px,#ff5e00 55px,#ff9b00 68px,#ffc500 80px,#ffdc00 90px,#ffe700 102px,#ffdc00 116px,#ffb500 132px,#ff7300 150px,#ff0200 177px,#ff0000 178px,#c20000 194px,#830000 216px,#540000 238px,#2a0000 269px,#0b0000 305px,#0b0000 307px)"></i><i style="background:linear-gradient(90deg,#0b0000 0px,#120000 2px,#810000 18px,#ff0000 38px,#ff4c00 51px,#ff9800 66px,#ffc200 77px,#ffda00 85px,#ffec00 97px,#ffe900 111px,#ffd200 124px,#ffaa00 137px,#ff4100 163px,#ff0200 178px,#ab0000 202px,#810000 217px,#510000 240px,#2a0000 269px,#0b0000 305px,#0b0000 307px)"></i><i style="background:linear-gradient(90deg,#0b0000 0px,#0d0000 1px,#ca0000 29px,#fc0000 37px,#ff0200 38px,#ff4c00 50px,#ffa200 67px,#ffd200 80px,#ffec00 91px,#fff400 101px,#fff100 110px,#ffdf00 121px,#ffba00 134px,#ff7900 151px,#ff0000 179px,#b30000 200px,#760000 222px,#4f0000 242px,#2f0000 265px,#0d0000 301px,#0b0000 307px)"></i><i style="background:linear-gradient(90deg,#0b0000 0px,#0d0000 1px,#c00000 27px,#ff0000 37px,#ff5c00 52px,#ffa800 67px,#ffd200 78px,#ffe900 86px,#fff900 97px,#fffc00 105px,#ffef00 117px,#ffd400 128px,#ff9300 146px,#ff0800 178px,#ff0000 180px,#c20000 196px,#830000 217px,#540000 239px,#270000 272px,#0b0000 306px,#0b0000 307px)"></i><i style="background:linear-gradient(90deg,#0b0000 0px,#0d0000 1px,#b50000 25px,#fc0000 36px,#ff2500 42px,#ff8600 59px,#ffbf00 71px,#ffe700 83px,#fffc00 93px,#ffff03 108px,#fff900 114px,#ffec00 121px,#ffca00 133px,#ff7e00 152px,#ff0200 180px,#ad0000 203px,#710000 225px,#440000 249px,#200000 280px,#0b0000 306px,#0b0000 307px)"></i><i style="background:linear-gradient(90deg,#0b0000 0px,#0d0000 1px,#b00000 24px,#ff0000 36px,#ff5900 50px,#ffa500 64px,#ffdc00 77px,#fff600 86px,#ffff03 92px,#ffff0f 100px,#ffff0f 107px,#fffc00 116px,#ffe700 126px,#ffad00 142px,#ff0500 180px,#fc0000 182px,#c20000 197px,#8b0000 215px,#5f0000 234px,#350000 261px,#0d0000 301px,#0b0000 307px)"></i><i style="background:linear-gradient(90deg,#0b0000 0px,#0d0000 1px,#b30000 24px,#fc0000 35px,#ff0200 36px,#ff5100 48px,#ffa000 62px,#ffdf00 76px,#fffe00 87px,#ffff13 94px,#ffff1b 102px,#ffff17 109px,#fffe00 119px,#ffda00 132px,#ff8300 153px,#ff1000 178px,#ff0000 182px,#bd0000 199px,#900000 214px,#610000 233px,#350000 261px,#0d0000 301px,#0b0000 307px)"></i><i style="background:linear-gradient(90deg,#0b0000 0px,#0d0000 1px,#980000 20px,#ff0000 35px,#ff7300 53px,#ffb500 65px,#ffef00 79px,#ffff03 85px,#ffff1f 95px,#ffff22 108px,#ffff0f 117px,#ffff03 120px,#fff900 124px,#ffd400 135px,#ff9000 151px,#ff0a00 180px,#fc0000 183px,#b50000 202px,#8b0000 216px,#5c0000 236px,#370000 260px,#120000 295px,#0b0000 307px)"></i><i style="background:linear-gradient(90deg,#0b0000 0px,#0d0000 1px,#bd0000 25px,#fc0000 34px,#ff0200 35px,#ff7e00 54px,#ffba00 65px,#ffef00 77px,#ffff03 83px,#ffff1b 89px,#ffff2a 97px,#ffff2e 105px,#ffff1f 115px,#fffe00 124px,#ffd200 137px,#ff7900 157px,#ff0d00 180px,#ff0000 183px,#ba0000 201px,#8b0000 216px,#590000 238px,#2f0000 266px,#0b0000 304px,#0b0000 307px)"></i><i style="background:linear-gradient(90deg,#0b0000 0px,#0d0000 1px,#a30000 21px,#ff0000 34px,#ff7600 52px,#ffbf00 65px,#fff400 77px,#ffff03 81px,#ffff26 90px,#ffff36 98px,#ffff36 108px,#ffff26 116px,#fffe00 126px,#ffdc00 136px,#ff7900 158px,#ff2f00 173px,#ff0000 184px,#dd0000 192px,#9e0000 210px,#610000 234px,#370000 260px,#120000 295px,#0b0000 307px)"></i><i style="background:linear-gradient(90deg,#0b0000 0px,#0d0000 1px,#ba0000 24px,#ff0200 34px,#ff6100 48px,#ffc500 65px,#fff900 77px,#ffff07 80px,#ffff1f 85px,#ffff3a 94px,#ffff42 101px,#ffff3e 109px,#ffff32 115px,#ffff0f 125px,#ffff03 127px,#fff400 131px,#ffcc00 141px,#ff0500 183px,#fc0000 185px,#bd0000 201px,#8b0000 217px,#5c0000 237px,#320000 264px,#0d0000 301px,#0b0000 307px)"></i><i style="background:linear-gradient(90deg,#0b0000 0px,#0d0000 1px,#ad0000 22px,#fc0000 33px,#ff1f00 38px,#ff7e00 52px,#ffc200 64px,#fff400 74px,#fffe00 77px,#ffff1f 83px,#ffff42 93px,#ffff4a 100px,#ffff4a 108px,#ffff32 118px,#fffe00 130px,#ffcc00 142px,#ff0800 183px,#ff0000 185px,#c50000 199px,#830000 220px,#510000 243px,#2a0000 271px,#0b0000 305px,#0b0000 307px)"></i><i style="background:linear-gradient(90deg,#0b0000 0px,#0d0000 1px,#a80000 21px,#ff0000 33px,#ff6e00 49px,#ffbd00 62px,#fff900 74px,#ffff07 77px,#ffff1f 81px,#ffff2e 85px,#ffff36 86px,#ffff3a 88px,#ffff4e 94px,#ffff56 102px,#ffff52 109px,#ffff42 116px,#ffff17 127px,#fffe00 131px,#ffc500 145px,#ff1200 181px,#fc0000 186px,#c00000 201px,#900000 216px,#610000 235px,#3c0000 257px,#150000 292px,#0b0000 307px)"></i><i style="background:linear-gradient(90deg,#0b0000 0px,#0d0000 1px,#c80000 25px,#ff0200 33px,#ff7900 50px,#ffc700 63px,#fffe00 74px,#ffff0b 76px,#ffff32 83px,#ffff4a 89px,#ffff5e 99px,#ffff5e 107px,#ffff4e 115px,#ffff32 123px,#ffff26 125px,#ffff1b 128px,#ffff03 132px,#ffe900 138px,#ff8e00 157px,#ff2c00 176px,#ff0000 186px,#c50000 200px,#900000 216px,#640000 234px,#3c0000 257px,#150000 292px,#0b0000 307px)"></i><i style="background:linear-gradient(90deg,#0b0000 0px,#0d0000 1px,#e70000 29px,#fc0000 32px,#ff2200 37px,#ff9000 53px,#ffd700 65px,#fffe00 73px,#ffff26 79px,#ffff4a 87px,#ffff5e 93px,#ffff69 102px,#ffff65 108px,#ffff5a 114px,#ffff3e 122px,#ffff13 131px,#fffe00 134px,#ffd700 143px,#ff1700 181px,#ff0200 186px,#ad0000 207px,#760000 226px,#470000 250px,#220000 279px,#0b0000 306px,#0b0000 307px)"></i><i style="background:linear-gradient(90deg,#0b0000 0px,#0d0000 1px,#960000 18px,#ff0000 32px,#ff8e00 52px,#ffdc00 65px,#fffc00 71px,#fffe00 72px,#ffff2e 79px,#ffff52 87px,#ffff69 94px,#ffff71 101px,#ffff6d 109px,#ffff5a 117px,#ffff3a 125px,#ffff13 132px,#fffe00 135px,#ffd700 144px,#ff1500 182px,#ff0000 187px,#cf0000 198px,#980000 214px,#5f0000 237px,#370000 261px,#0d0000 301px,#0b0000 307px)"></i><i style="background:linear-gradient(90deg,#0b0000 0px,#0d0000 1px,#cd0000 25px,#ff0200 32px,#ff7600 48px,#ffca00 61px,#fffc00 70px,#fffe00 71px,#ffff2a 77px,#ffff4e 84px,#ffff6d 92px,#ffff79 99px,#ffff79 107px,#ffff69 115px,#ffff3e 126px,#ffff03 136px,#ffe400 142px,#ff1700 182px,#ff0200 187px,#ba0000 204px,#8b0000 219px,#610000 236px,#3a0000 259px,#120000 295px,#0b0000 307px)"></i><i style="background:linear-gradient(90deg,#0b0000 0px,#0d0000 1px,#fc0000 31px,#ff1200 34px,#ff5600 43px,#ffc200 59px,#fffe00 70px,#ffff32 77px,#ffff65 87px,#ffff69 89px,#ffff7d 95px,#ffff81 103px,#ffff81 108px,#ffff71 115px,#ffff61 120px,#ffff3a 128px,#ffff03 137px,#ffe400 143px,#ff9d00 157px,#ff6600 167px,#ff0200 187px,#ff0000 188px,#cf0000 199px,#9e0000 213px,#710000 229px,#440000 252px,#1d0000 284px,#0b0000 306px,#0b0000 307px)"></i><i style="background:linear-gradient(90deg,#0b0000 0px,#0d0000 1px,#890000 16px,#ff0000 31px,#ff9800 52px,#ffef00 66px,#fffe00 69px,#ffff3a 77px,#ffff6d 87px,#ffff85 95px,#ffff8d 103px,#ffff85 111px,#ffff65 121px,#ffff42 128px,#ffff0b 137px,#fffc00 139px,#ff8000 163px,#ff1700 183px,#ff0000 188px,#bd0000 204px,#7e0000 224px,#540000 243px,#270000 274px,#0b0000 305px,#0b0000 307px)"></i><i style="background:linear-gradient(90deg,#0b0000 0px,#0d0000 1px,#890000 16px,#ff0000 31px,#ff8000 48px,#ffdc00 62px,#fffe00 68px,#ffff3a 76px,#ffff5e 82px,#ffff7d 89px,#ffff91 97px,#ffff95 105px,#ffff89 113px,#ffff6d 121px,#ffff61 123px,#ffff56 126px,#ffff0b 138px,#fffc00 140px,#ffba00 153px,#ff4c00 173px,#ff0200 188px,#a50000 211px,#690000 233px,#3f0000 256px,#1d0000 284px,#0b0000 306px,#0b0000 307px)"></i><i style="background:linear-gradient(90deg,#0b0000 0px,#0d0000 1px,#930000 17px,#ff0200 31px,#ff6600 44px,#ffd400 60px,#fffc00 67px,#ffff03 68px,#ffff17 70px,#ffff2a 73px,#ffff4e 78px,#ffff6d 84px,#ffff81 88px,#ffff85 90px,#ffff95 95px,#ffff9d 102px,#ffff99 109px,#ffff85 117px,#ffff61 125px,#ffff3a 132px,#ffff03 140px,#ffe100 146px,#ff2a00 180px,#ff0000 189px,#cf0000 200px,#900000 218px,#5f0000 238px,#370000 262px,#120000 296px,#0b0000 307px)"></i><i style="background:linear-gradient(90deg,#0b0000 0px,#0d0000 1px,#830000 15px,#fc0000 30px,#ff2c00 36px,#ffa200 52px,#ffe400 62px,#ffff03 67px,#ffff42 75px,#ffff71 83px,#ffff99 93px,#ffffa4 102px,#ffffa0 109px,#ffff95 114px,#ffff81 120px,#ffff75 122px,#ffff5a 128px,#ffff17 138px,#ffff07 140px,#fffc00 142px,#ff3c00 177px,#ff0200 189px,#b50000 207px,#7b0000 226px,#4c0000 248px,#220000 279px,#0b0000 306px,#0b0000 307px)"></i><i style="background:linear-gradient(90deg,#0b0000 0px,#0d0000 1px,#9e0000 18px,#fc0000 30px,#ff2c00 36px,#ff9000 49px,#fff400 64px,#fffe00 66px,#ffff3a 73px,#ffff6d 81px,#ffff85 86px,#ffff9d 92px,#ffffa8 98px,#ffffac 105px,#ffffa4 110px,#ffff99 115px,#ffff75 124px,#ffff3a 134px,#fffe00 142px,#ff9d00 160px,#ff4400 176px,#ff0200 189px,#b30000 208px,#7b0000 226px,#4c0000 248px,#270000 275px,#0b0000 305px,#0b0000 307px)"></i><i style="background:linear-gradient(90deg,#0b0000 0px,#0d0000 1px,#c80000 23px,#ff0000 30px,#ff9300 49px,#ffe400 61px,#fffc00 65px,#ffff2e 71px,#ffff4e 75px,#ffff89 85px,#ffffa4 92px,#ffffb4 102px,#ffffac 110px,#ffff9d 116px,#ffff7d 124px,#ffff3a 135px,#ffff13 140px,#fffe00 143px,#ff4100 177px,#ff0000 190px,#c20000 204px,#900000 219px,#5c0000 240px,#370000 262px,#0d0000 301px,#0b0000 307px)"></i><i style="background:linear-gradient(90deg,#0b0000 0px,#0d0000 1px,#b00000 20px,#ff0200 30px,#ff9500 49px,#fff400 63px,#ffff03 65px,#ffff46 73px,#ffff79 81px,#ffff9d 88px,#ffffb4 96px,#ffffb8 101px,#ffffb8 108px,#ffffa4 116px,#ffff8d 122px,#ffff61 130px,#ffff1b 140px,#ffff03 143px,#ffe100 149px,#ff3700 179px,#ff0200 190px,#c00000 205px,#8b0000 221px,#5c0000 240px,#370000 262px,#0d0000 301px,#0b0000 307px)"></i><i style="background:linear-gradient(90deg,#0b0000 0px,#0d0000 1px,#a00000 18px,#f90000 29px,#ff0200 30px,#ff5400 40px,#ffd700 58px,#fffe00 64px,#ffff5a 75px,#ffff85 82px,#ffff9d 87px,#ffffb4 93px,#ffffc0 100px,#ffffc0 107px,#ffffa8 117px,#ffff85 125px,#ffff46 135px,#fffe00 144px,#ffb700 157px,#ff4400 177px,#ff0200 190px,#ab0000 211px,#7b0000 227px,#570000 243px,#2d0000 270px,#0b0000 305px,#0b0000 307px)"></i><i style="background:linear-gradient(90deg,#0b0000 0px,#0d0000 1px,#a00000 18px,#fc0000 29px,#ff2c00 35px,#ffb000 52px,#fff400 62px,#ffff03 64px,#ffff26 68px,#ffff6d 77px,#ffff9d 85px,#ffffc0 95px,#ffffc8 103px,#ffffc0 111px,#ffffa4 119px,#ffff95 123px,#ffff5a 133px,#fffe00 145px,#ff4100 178px,#ff0000 191px,#ba0000 207px,#830000 224px,#570000 243px,#2f0000 268px,#0b0000 304px,#0b0000 307px)"></i><i style="background:linear-gradient(90deg,#0b0000 0px,#0d0000 1px,#b30000 20px,#fc0000 29px,#ff1500 32px,#ff9500 48px,#fffe00 63px,#ffff5e 74px,#ffff69 76px,#ffff85 80px,#ffffa0 85px,#ffffc0 93px,#ffffcc 99px,#ffffcc 108px,#ffffb8 116px,#ffff91 125px,#ffff4a 136px,#ffff03 145px,#ffdf00 151px,#ff3700 180px,#ff0000 191px,#ba0000 207px,#7b0000 227px,#4c0000 249px,#250000 277px,#0b0000 306px,#0b0000 307px)"></i><i style="background:linear-gradient(90deg,#0b0000 0px,#0d0000 1px,#ab0000 19px,#f40000 28px,#ff0000 29px,#ff8800 46px,#ffe700 59px,#ffff03 63px,#ffff52 72px,#ffff91 81px,#ffffb4 88px,#ffffcc 95px,#ffffd4 102px,#ffffd0 109px,#ffffbc 116px,#ffff91 126px,#ffff56 135px,#fffe00 146px,#ff3f00 179px,#ff0200 191px,#b80000 208px,#790000 228px,#510000 246px,#270000 275px,#0b0000 305px,#0b0000 307px)"></i><i style="background:linear-gradient(90deg,#0b0000 0px,#0d0000 1px,#9b0000 17px,#ff0000 29px,#ffb700 52px,#fffc00 62px,#ffff32 68px,#ffff46 70px,#ffff89 79px,#ffffac 85px,#ffffcc 93px,#ffffd8 100px,#ffffd8 107px,#ffffcc 113px,#ffffb4 120px,#ffff7d 130px,#ffff32 140px,#ffff03 146px,#ffdf00 152px,#ff5100 176px,#ff0200 191px,#ad0000 211px,#830000 225px,#590000 242px,#370000 263px,#150000 293px,#0b0000 307px)"></i><i style="background:linear-gradient(90deg,#0b0000 0px,#0d0000 1px,#b50000 20px,#ff0000 29px,#ff8300 45px,#fff900 61px,#fffe00 62px,#ffff52 71px,#ffff95 80px,#ffffb4 86px,#ffffd4 94px,#ffffdf 102px,#ffffd8 110px,#ffffc4 117px,#ffffa0 125px,#ffff6d 133px,#ffff32 141px,#ffff1f 143px,#fffe00 147px,#ff4100 179px,#ff0000 192px,#cd0000 203px,#900000 220px,#590000 242px,#370000 263px,#150000 293px,#0b0000 307px)"></i><i style="background:linear-gradient(90deg,#0b0000 0px,#0d0000 1px,#790000 13px,#ff0200 29px,#ffca00 54px,#fff900 61px,#ffff03 62px,#ffff56 71px,#ffff99 80px,#ffffc8 89px,#ffffdc 96px,#ffffe3 103px,#ffffdf 109px,#ffffd0 115px,#ffffb4 122px,#ffff79 132px,#ffff2e 142px,#ffff1b 144px,#ffff03 147px,#ffe400 152px,#ff5400 176px,#ff0000 192px,#ba0000 208px,#830000 225px,#5c0000 241px,#3a0000 261px,#1a0000 288px,#0b0000 306px,#0b0000 307px)"></i><i style="background:linear-gradient(90deg,#0b0000 0px,#0d0000 1px,#8b0000 15px,#f90000 28px,#ff0200 29px,#ff7600 43px,#ffe100 57px,#fffc00 61px,#ffff22 65px,#ffff52 70px,#ffff9d 80px,#ffffcc 89px,#ffffe3 97px,#ffffe7 105px,#ffffdc 113px,#ffffb4 123px,#ffff7d 132px,#ffff3a 141px,#ffff26 143px,#fffe00 148px,#ff4900 178px,#ff0200 192px,#ba0000 208px,#830000 225px,#5c0000 241px,#370000 263px,#150000 293px,#0b0000 307px)"></i><i style="background:linear-gradient(90deg,#0b0000 0px,#0d0000 1px,#a50000 18px,#f90000 28px,#ff0200 29px,#ff4f00 38px,#ffc500 53px,#fffe00 61px,#ffff4a 69px,#ffff6d 73px,#ffffa0 80px,#ffffcc 88px,#ffffe3 95px,#ffffeb 102px,#ffffeb 107px,#ffffd8 115px,#ffffb8 123px,#ffff81 132px,#ffff46 140px,#ffff32 142px,#ffff0b 147px,#fffe00 148px,#ffca00 157px,#ff5600 176px,#ff0200 192px,#c00000 207px,#8b0000 222px,#5c0000 241px,#370000 263px,#150000 293px,#0b0000 307px)"></i><i style="background:linear-gradient(90deg,#0b0000 0px,#0d0000 1px,#c00000 21px,#f90000 28px,#ff0500 29px,#ffb000 50px,#fffe00 61px,#ffff2a 65px,#ffff81 75px,#ffffb4 83px,#ffffd8 90px,#ffffeb 98px,#ffffef 103px,#ffffef 107px,#ffffdc 115px,#ffffbc 123px,#ffff85 132px,#ffff17 146px,#ffff03 148px,#ffe400 153px,#ff6400 174px,#ff0200 192px,#b00000 211px,#7b0000 228px,#540000 245px,#2f0000 269px,#0b0000 305px,#0b0000 307px)"></i><i style="background:linear-gradient(90deg,#0b0000 0px,#0d0000 1px,#c00000 21px,#fc0000 28px,#ff1500 31px,#ff8800 45px,#fff400 59px,#ffff03 61px,#ffff52 69px,#ffffa0 79px,#ffffc8 86px,#ffffe7 94px,#fffff3 102px,#ffffef 109px,#ffffe3 114px,#ffffc4 122px,#ffff89 132px,#fffe00 149px,#ff4100 180px,#ff0200 192px,#ff0000 193px,#cf0000 203px,#900000 221px,#6c0000 234px,#440000 254px,#200000 282px,#0b0000 306px,#0b0000 307px)"></i><i style="background:linear-gradient(90deg,#0b0000 0px,#0d0000 1px,#830000 14px,#fc0000 28px,#ff0d00 30px,#ffb200 50px,#fffc00 60px,#ffff03 61px,#ffff2e 65px,#ffff7d 74px,#ffffa8 80px,#ffffcc 86px,#ffffef 96px,#fffff7 104px,#ffffef 111px,#ffffd0 120px,#ffffac 127px,#ffff6d 136px,#ffff13 147px,#fffe00 149px,#ff4900 179px,#ff0d00 190px,#ff0000 193px,#c00000 207px,#810000 226px,#540000 245px,#2f0000 269px,#0b0000 305px,#0b0000 307px)"></i><i style="background:linear-gradient(90deg,#0b0000 0px,#0d0000 1px,#960000 16px,#fc0000 28px,#ff0d00 30px,#ff7300 42px,#ffef00 58px,#fffc00 60px,#ffff0f 62px,#ffff3a 66px,#ffff6d 72px,#ffffa4 79px,#ffffc8 85px,#ffffe3 91px,#fffff7 99px,#fffff7 108px,#ffffe3 116px,#ffffc0 124px,#ffff8d 132px,#ffff5a 139px,#ffff46 141px,#ffff03 149px,#ffdc00 155px,#ff6600 174px,#ff0000 193px,#c50000 206px,#960000 219px,#6e0000 233px,#3c0000 259px,#180000 290px,#0b0000 306px,#0b0000 307px)"></i><i style="background:linear-gradient(90deg,#0b0000 0px,#0d0000 1px,#960000 16px,#fc0000 28px,#ff0500 29px,#ff6b00 41px,#ffef00 58px,#fffe00 60px,#ffff42 67px,#ffff56 69px,#ffff99 77px,#ffffc4 84px,#ffffdc 89px,#ffffef 94px,#fffffb 101px,#fffffb 107px,#ffffeb 114px,#ffffc8 123px,#ffff89 133px,#ffff17 147px,#ffff03 149px,#ffe400 154px,#ff6100 175px,#ff0000 193px,#b50000 210px,#7b0000 228px,#4c0000 250px,#2f0000 269px,#0b0000 305px,#0b0000 307px)"></i><i style="background:linear-gradient(90deg,#0b0000 0px,#0d0000 1px,#960000 16px,#fc0000 28px,#ff0500 29px,#ff6b00 41px,#ffef00 58px,#fffe00 60px,#ffff26 64px,#ffff61 70px,#ffffa8 79px,#ffffdc 88px,#fffff3 95px,#fffffb 100px,#fffffb 108px,#ffffeb 115px,#ffffd4 121px,#ffff99 131px,#ffff5e 139px,#ffff4a 141px,#ffff07 149px,#fffc00 150px,#ff5600 177px,#ff0000 193px,#b50000 210px,#760000 230px,#440000 254px,#200000 282px,#0b0000 306px,#0b0000 307px)"></i><i style="background:linear-gradient(90deg,#0b0000 0px,#0d0000 1px,#960000 16px,#fc0000 28px,#ff0500 29px,#ff6b00 41px,#ffbd00 51px,#fffe00 60px,#ffff5a 69px,#ffffb0 80px,#ffffdc 88px,#fffff7 96px,#ffffff 103px,#fffffb 109px,#ffffef 114px,#ffffcc 123px,#ffff8d 133px,#ffff1b 147px,#ffff07 149px,#fffe00 150px,#ff5100 178px,#ff0500 192px,#fc0000 194px,#bd0000 208px,#7e0000 227px,#4f0000 248px,#2f0000 269px,#0b0000 305px,#0b0000 307px)"></i><i style="background:linear-gradient(90deg,#0b0000 0px,#0d0000 1px,#960000 16px,#fc0000 28px,#ff0500 29px,#ff6b00 41px,#ffc500 52px,#fffe00 60px,#ffff5a 69px,#ffff79 73px,#ffff8d 75px,#ffffc4 83px,#ffffdf 89px,#fffffb 97px,#ffffff 105px,#fffff7 112px,#ffffdc 120px,#ffffb0 128px,#ffff85 134px,#ffff13 148px,#fffe00 150px,#ff4c00 179px,#ff0a00 191px,#fc0000 194px,#bd0000 208px,#8b0000 223px,#710000 232px,#440000 254px,#200000 282px,#0b0000 306px,#0b0000 307px)"></i><i style="background:linear-gradient(90deg,#0b0000 0px,#0d0000 1px,#960000 16px,#fc0000 28px,#ff0500 29px,#ff6b00 41px,#ffc500 52px,#fffe00 60px,#ffff5a 69px,#ffff9d 77px,#ffffa8 79px,#ffffc4 83px,#ffffdc 88px,#fffff7 95px,#ffffff 100px,#ffffff 108px,#ffffeb 116px,#ffffd8 121px,#ffff9d 131px,#ffff61 139px,#fffe00 150px,#ff4c00 179px,#ff1000 190px,#fc0000 194px,#ca0000 205px,#900000 221px,#710000 232px,#440000 254px,#200000 282px,#0b0000 306px,#0b0000 307px)"></i><i style="background:linear-gradient(90deg,#0b0000 0px,#0d0000 1px,#960000 16px,#fc0000 28px,#ff0500 29px,#ff6b00 41px,#ffbd00 51px,#fffe00 60px,#ffff5a 69px,#ffff9d 77px,#ffffa8 79px,#ffffc4 83px,#ffffdc 88px,#ffffe7 90px,#ffffeb 92px,#fffffb 97px,#ffffff 102px,#ffffff 108px,#fffff3 114px,#ffffd4 122px,#ffffa4 130px,#ffff69 138px,#fffe00 150px,#ff4c00 179px,#ff1000 190px,#fc0000 194px,#ca0000 205px,#900000 221px,#710000 232px,#440000 254px,#1a0000 287px,#0b0000 307px)"></i><i style="background:linear-gradient(90deg,#0b0000 0px,#0d0000 1px,#960000 16px,#fc0000 28px,#ff0500 29px,#ff6b00 41px,#fff100 58px,#fffe00 60px,#ffff5a 69px,#ffff79 73px,#ffff8d 75px,#ffffc4 83px,#ffffdf 89px,#fffff7 95px,#ffffff 100px,#ffffff 108px,#fffff3 114px,#ffffd4 122px,#ffffa4 130px,#ffff69 138px,#ffff26 146px,#fffe00 150px,#ff4c00 179px,#ff1500 189px,#fc0000 194px,#ca0000 205px,#900000 221px,#710000 232px,#440000 254px,#1a0000 287px,#0b0000 307px)"></i><i style="background:linear-gradient(90deg,#0b0000 0px,#0d0000 1px,#830000 14px,#fc0000 28px,#ff0d00 30px,#ff7300 42px,#ffef00 58px,#fffe00 60px,#ffff26 64px,#ffff61 70px,#ffffb0 80px,#ffffd8 87px,#fffff7 95px,#ffffff 100px,#ffffff 108px,#ffffef 115px,#ffffd4 122px,#ffffa4 130px,#ffff69 138px,#ffff26 146px,#fffe00 150px,#ff4c00 179px,#ff1500 189px,#fc0000 194px,#bd0000 208px,#7e0000 227px,#510000 247px,#2f0000 269px,#0b0000 304px,#0b0000 307px)"></i><i style="background:linear-gradient(90deg,#0b0000 0px,#0d0000 1px,#c00000 21px,#fc0000 28px,#ff0d00 30px,#ff9b00 47px,#fffe00 60px,#ffff26 64px,#ffff69 71px,#ffffa8 79px,#ffffd8 87px,#fffff3 94px,#ffffff 101px,#ffffff 108px,#ffffeb 116px,#ffffd8 121px,#ffff9d 131px,#ffff5a 140px,#ffff46 142px,#ffff0b 149px,#fffe00 150px,#ff4c00 179px,#ff1000 190px,#fc0000 194px,#bd0000 208px,#7e0000 227px,#510000 247px,#320000 267px,#0d0000 301px,#0b0000 307px)"></i><i style="background:linear-gradient(90deg,#0b0000 0px,#0d0000 1px,#c00000 21px,#fc0000 28px,#ff1500 31px,#ffba00 51px,#fffc00 60px,#ffff0f 62px,#ffff3a 66px,#ffff89 75px,#ffffc0 83px,#ffffdf 89px,#fffff7 96px,#ffffff 103px,#fffffb 110px,#ffffe3 118px,#ffffc8 124px,#ffff95 132px,#ffff75 136px,#ffff69 138px,#fffe00 150px,#ff4c00 179px,#ff0a00 191px,#fc0000 194px,#bd0000 208px,#810000 226px,#540000 245px,#2f0000 269px,#0b0000 304px,#0b0000 307px)"></i><i style="background:linear-gradient(90deg,#0b0000 0px,#0d0000 1px,#c00000 21px,#f90000 28px,#ff0500 29px,#ffa800 49px,#fffc00 60px,#ffff03 61px,#ffff2e 65px,#ffff65 71px,#ffffac 80px,#ffffd4 87px,#fffff3 95px,#fffffb 100px,#fffffb 109px,#ffffe7 116px,#ffffcc 123px,#ffff8d 133px,#ffff13 148px,#fffe00 150px,#ff3400 183px,#ff0200 193px,#b50000 210px,#7b0000 228px,#4c0000 249px,#220000 280px,#0b0000 305px,#0b0000 307px)"></i><i style="background:linear-gradient(90deg,#0b0000 0px,#0d0000 1px,#a50000 18px,#f90000 28px,#ff0200 29px,#ff7900 43px,#fff400 59px,#ffff03 61px,#ffff52 69px,#ffff9d 78px,#ffffa8 80px,#ffffd8 88px,#fffff3 96px,#fffffb 103px,#fffff7 110px,#ffffe3 117px,#ffffd4 121px,#ffffac 128px,#ffff75 136px,#ffff1b 147px,#ffff07 149px,#fffe00 150px,#ff5100 178px,#ff0000 193px,#b50000 210px,#7b0000 228px,#4c0000 249px,#270000 275px,#0b0000 305px,#0b0000 307px)"></i><i style="background:linear-gradient(90deg,#0b0000 0px,#0d0000 1px,#790000 13px,#f90000 28px,#ff0200 29px,#ff7600 43px,#fff900 60px,#fffe00 61px,#ffff3e 67px,#ffff71 73px,#ffffa0 79px,#ffffd0 87px,#fffff3 97px,#fffff7 105px,#fffff3 111px,#ffffd0 121px,#ffffb8 126px,#ffff9d 130px,#ffff91 132px,#ffff69 137px,#ffff65 138px,#ffff07 149px,#fffc00 150px,#ff5600 177px,#ff0000 193px,#c50000 206px,#960000 219px,#660000 236px,#3f0000 257px,#1a0000 287px,#0b0000 307px)"></i><i style="background:linear-gradient(90deg,#0b0000 0px,#0d0000 1px,#b50000 20px,#ff0200 29px,#ffc500 53px,#fffe00 61px,#ffff42 68px,#ffff56 70px,#ffffa4 80px,#ffffcc 87px,#ffffeb 95px,#fffff7 103px,#fffff3 109px,#ffffdc 118px,#ffffc0 124px,#ffff89 133px,#ffff0f 148px,#ffff03 149px,#ffe400 154px,#ff4900 179px,#ff0000 193px,#b80000 209px,#830000 225px,#590000 242px,#2f0000 268px,#0b0000 304px,#0b0000 307px)"></i><i style="background:linear-gradient(90deg,#0b0000 0px,#0d0000 1px,#9b0000 17px,#ff0000 29px,#ff8300 45px,#ffef00 59px,#fffc00 61px,#ffff22 65px,#ffff52 70px,#ffff8d 77px,#ffffc0 85px,#ffffd0 89px,#ffffdc 91px,#ffffef 99px,#fffff3 104px,#ffffef 110px,#ffffd8 118px,#ffffb8 125px,#ffff85 133px,#ffff1f 146px,#ffff0b 148px,#ffff03 149px,#ffdc00 155px,#ff4900 179px,#ff1200 189px,#ff0000 193px,#c80000 205px,#980000 218px,#640000 237px,#3f0000 257px,#1a0000 287px,#0b0000 307px)"></i><i style="background:linear-gradient(90deg,#0b0000 0px,#0d0000 1px,#ab0000 19px,#ff0000 29px,#ffaa00 50px,#fff900 61px,#ffff03 62px,#ffff46 69px,#ffff89 77px,#ffffbc 85px,#ffffdc 92px,#ffffeb 99px,#ffffef 104px,#ffffeb 110px,#ffffd4 118px,#ffffc0 123px,#ffff91 131px,#ffff3e 142px,#ffff2a 144px,#fffe00 149px,#ff3700 182px,#ff0200 192px,#ff0000 193px,#cf0000 203px,#980000 218px,#610000 238px,#370000 262px,#120000 296px,#0b0000 307px)"></i><i style="background:linear-gradient(90deg,#0b0000 0px,#0d0000 1px,#d50000 24px,#fc0000 29px,#ff2f00 35px,#ffb700 52px,#fffe00 62px,#ffff3a 68px,#ffff7d 76px,#ffffb8 85px,#ffffd8 92px,#ffffe7 99px,#ffffeb 104px,#ffffe7 110px,#ffffd8 116px,#ffffbc 123px,#ffff79 134px,#fffe00 149px,#ff4100 180px,#ff0200 192px,#b30000 210px,#8b0000 222px,#570000 243px,#370000 262px,#120000 296px,#0b0000 307px)"></i><i style="background:linear-gradient(90deg,#0b0000 0px,#0d0000 1px,#ba0000 21px,#fc0000 29px,#ff1d00 33px,#ffbd00 53px,#fffc00 62px,#ffff2a 67px,#ffff5a 72px,#ffff9d 81px,#ffffc0 88px,#ffffdc 95px,#ffffe7 104px,#ffffe3 110px,#ffffd4 116px,#ffffb8 123px,#ffff89 131px,#ffff46 140px,#ffff1f 145px,#ffff0b 147px,#fffc00 149px,#ff5100 177px,#ff1a00 187px,#fc0000 193px,#c20000 206px,#900000 220px,#710000 231px,#440000 253px,#220000 279px,#0b0000 306px,#0b0000 307px)"></i><i style="background:linear-gradient(90deg,#0b0000 0px,#0d0000 1px,#a00000 18px,#f90000 29px,#ff0500 30px,#ff7e00 45px,#ffec00 60px,#ffff03 63px,#ffff65 74px,#ffff9d 82px,#ffffbc 88px,#ffffd8 95px,#ffffe3 104px,#ffffdc 112px,#ffffc0 120px,#ffffa4 126px,#ffff71 134px,#ffff13 146px,#fffe00 148px,#ffca00 157px,#ff5600 176px,#ff0000 192px,#b50000 209px,#7b0000 227px,#4f0000 247px,#2f0000 268px,#0b0000 304px,#0b0000 307px)"></i><i style="background:linear-gradient(90deg,#0b0000 0px,#0d0000 1px,#b00000 20px,#f90000 29px,#ff0200 30px,#ff9300 48px,#fff600 62px,#fffc00 63px,#ffff2a 68px,#ffff3e 70px,#ffff85 79px,#ffffb4 87px,#ffffd0 94px,#ffffdc 101px,#ffffdc 109px,#ffffc8 117px,#ffffa0 126px,#ffff6d 134px,#ffff07 147px,#fffc00 148px,#ff4900 178px,#ff0000 192px,#c50000 205px,#960000 218px,#690000 234px,#3f0000 256px,#1d0000 284px,#0b0000 306px,#0b0000 307px)"></i><i style="background:linear-gradient(90deg,#0b0000 0px,#0d0000 1px,#c80000 23px,#ff0000 30px,#ff9000 48px,#fff400 62px,#ffff03 64px,#ffff42 71px,#ffff8d 81px,#ffffbc 90px,#ffffd4 98px,#ffffd8 106px,#ffffd4 110px,#ffffc0 118px,#ffff95 127px,#ffff5a 136px,#ffff03 147px,#ffe400 152px,#ff3c00 180px,#ff0000 192px,#c80000 204px,#980000 217px,#640000 236px,#3f0000 256px,#200000 281px,#0b0000 306px,#0b0000 307px)"></i><i style="background:linear-gradient(90deg,#0b0000 0px,#0d0000 1px,#9e0000 18px,#ff0000 30px,#ffba00 54px,#fffe00 64px,#ffff5e 75px,#ffff99 84px,#ffffc4 94px,#ffffd0 100px,#ffffd4 105px,#ffffc8 113px,#ffffb8 118px,#ffff91 127px,#ffff56 136px,#fffe00 147px,#ff4100 179px,#ff0200 191px,#ba0000 207px,#830000 224px,#570000 242px,#2d0000 269px,#0b0000 305px,#0b0000 307px)"></i><i style="background:linear-gradient(90deg,#0b0000 0px,#0d0000 1px,#830000 15px,#fc0000 30px,#ff2c00 36px,#ffb000 53px,#fff900 64px,#ffff03 65px,#ffff36 71px,#ffff75 79px,#ffff9d 86px,#ffffb4 91px,#ffffcc 101px,#ffffcc 108px,#ffffb4 118px,#ffff91 126px,#ffff52 136px,#ffff03 146px,#ffdf00 152px,#ff6100 173px,#ff0a00 189px,#fc0000 192px,#ca0000 203px,#900000 219px,#570000 242px,#370000 261px,#120000 295px,#0b0000 307px)"></i><i style="background:linear-gradient(90deg,#0b0000 0px,#0d0000 1px,#930000 17px,#ff0200 31px,#ff8e00 49px,#ffdc00 60px,#fffc00 65px,#ffff32 71px,#ffff5a 76px,#ffff8d 84px,#ffffa8 90px,#ffffbc 96px,#ffffc4 101px,#ffffc4 109px,#ffffb4 116px,#ffff95 124px,#ffff5a 134px,#fffe00 146px,#ff4400 178px,#ff0000 191px,#b50000 208px,#7b0000 226px,#4f0000 246px,#2f0000 267px,#0d0000 301px,#0b0000 307px)"></i><i style="background:linear-gradient(90deg,#0b0000 0px,#0d0000 1px,#890000 16px,#f90000 30px,#ff0200 31px,#ffa200 52px,#fff900 65px,#fffe00 66px,#ffff42 74px,#ffff75 81px,#ffff99 88px,#ffffb8 97px,#ffffc0 106px,#ffffb4 114px,#ffff99 122px,#ffff61 132px,#ffff36 138px,#fffe00 145px,#ffb000 159px,#ff3c00 179px,#ff0200 190px,#ff0000 191px,#d50000 200px,#980000 216px,#690000 233px,#3f0000 255px,#220000 279px,#0b0000 306px,#0b0000 307px)"></i><i style="background:linear-gradient(90deg,#0b0000 0px,#0d0000 1px,#c00000 23px,#ff0000 31px,#ffad00 54px,#fffc00 66px,#ffff0b 68px,#ffff3e 74px,#ffff65 80px,#ffff89 86px,#ffffac 95px,#ffffb8 103px,#ffffb4 110px,#ffff9d 119px,#ffff79 127px,#ffff4e 134px,#ffff0b 143px,#fffc00 145px,#ff3400 180px,#ff0200 190px,#ba0000 206px,#830000 223px,#590000 240px,#370000 261px,#1a0000 286px,#0b0000 307px)"></i><i style="background:linear-gradient(90deg,#0b0000 0px,#0d0000 1px,#fc0000 31px,#ff2c00 37px,#ffa200 53px,#fff100 65px,#ffff03 68px,#ffff17 70px,#ffff5a 79px,#ffff81 86px,#ffffa4 95px,#ffffb0 103px,#ffffac 111px,#ffff95 119px,#ffff7d 125px,#ffff42 135px,#ffff07 143px,#fffe00 144px,#ff4400 177px,#ff0000 190px,#ba0000 206px,#8b0000 220px,#570000 241px,#2f0000 266px,#0b0000 304px,#0b0000 307px)"></i><i style="background:linear-gradient(90deg,#0b0000 0px,#0d0000 1px,#dd0000 27px,#ff0200 32px,#ff5e00 44px,#ffd400 61px,#fffe00 68px,#ffff5a 80px,#ffff7d 87px,#ffff85 89px,#ffff8d 90px,#ffff91 92px,#ffff9d 95px,#ffffa8 104px,#ffffa4 111px,#ffff95 117px,#ffff71 126px,#ffff3a 135px,#fffe00 143px,#ffa800 159px,#ff4c00 175px,#ff0200 189px,#ff0000 190px,#cd0000 201px,#a00000 213px,#760000 227px,#4c0000 247px,#270000 273px,#0b0000 306px,#0b0000 307px)"></i><i style="background:linear-gradient(90deg,#0b0000 0px,#0d0000 1px,#760000 14px,#a30000 20px,#ff0000 32px,#ff8e00 51px,#ffef00 66px,#fffe00 69px,#ffff52 80px,#ffff75 87px,#ffff95 95px,#ffffa0 103px,#ffff9d 111px,#ffff89 118px,#ffff5a 129px,#ffff1f 138px,#ffff03 142px,#ffe100 148px,#ff4400 176px,#ff0200 189px,#b80000 206px,#830000 222px,#5c0000 238px,#370000 260px,#120000 295px,#0b0000 307px)"></i><i style="background:linear-gradient(90deg,#0b0000 0px,#0d0000 1px,#f70000 31px,#ff0500 33px,#ff7b00 49px,#ffe400 65px,#fffe00 70px,#ffff4a 80px,#ffff6d 87px,#ffff89 94px,#ffff95 100px,#ffff99 107px,#ffff8d 114px,#ffff7d 119px,#ffff52 129px,#ffff0b 140px,#fffc00 142px,#ff1700 184px,#ff0000 189px,#ba0000 205px,#8b0000 219px,#590000 239px,#370000 260px,#120000 295px,#0b0000 307px)"></i><i style="background:linear-gradient(90deg,#0b0000 0px,#0d0000 1px,#c00000 24px,#f90000 32px,#ff0200 33px,#ff7100 48px,#ffdf00 65px,#fffe00 71px,#ffff3a 79px,#ffff5e 85px,#ffff81 94px,#ffff8d 101px,#ffff8d 110px,#ffff7d 117px,#ffff5a 126px,#ffff13 138px,#ffff03 140px,#ffe400 146px,#ff2f00 179px,#ff0200 188px,#ad0000 208px,#710000 228px,#470000 249px,#270000 272px,#0b0000 305px,#0b0000 307px)"></i><i style="background:linear-gradient(90deg,#0b0000 0px,#0d0000 1px,#cd0000 26px,#ff0000 33px,#ff8800 52px,#ffda00 65px,#fffc00 71px,#fffe00 72px,#ffff32 79px,#ffff5e 87px,#ffff7d 96px,#ffff85 103px,#ffff85 109px,#ffff75 117px,#ffff52 126px,#ffff0b 138px,#fffc00 140px,#ffa500 157px,#ff2c00 179px,#ff0000 188px,#ba0000 204px,#810000 222px,#5c0000 237px,#370000 259px,#120000 294px,#0b0000 307px)"></i><i style="background:linear-gradient(90deg,#0b0000 0px,#0d0000 1px,#d20000 27px,#fc0000 33px,#ff2a00 39px,#ffa500 57px,#ffdf00 67px,#fffe00 73px,#ffff2a 79px,#ffff5e 89px,#ffff75 97px,#ffff7d 104px,#ffff79 111px,#ffff65 119px,#ffff4a 126px,#ffff03 138px,#ffe400 144px,#ff1f00 181px,#ff0000 188px,#cd0000 199px,#900000 216px,#590000 238px,#370000 259px,#120000 294px,#0b0000 307px)"></i><i style="background:linear-gradient(90deg,#0b0000 0px,#0d0000 1px,#b30000 23px,#ff0200 34px,#ff8600 53px,#ffcf00 65px,#fffe00 74px,#ffff32 82px,#ffff56 90px,#ffff69 96px,#ffff71 101px,#ffff71 110px,#ffff5a 120px,#ffff32 129px,#ffff03 137px,#ffe400 143px,#ff9300 159px,#ff5100 171px,#ff0000 187px,#b80000 204px,#790000 224px,#510000 242px,#2a0000 269px,#0b0000 305px,#0b0000 307px)"></i><i style="background:linear-gradient(90deg,#0b0000 0px,#0d0000 1px,#d50000 28px,#ff0000 34px,#ff8800 54px,#ffcf00 66px,#fffc00 75px,#ffff0f 78px,#ffff1f 80px,#ffff36 85px,#ffff42 87px,#ffff5e 95px,#ffff69 104px,#ffff65 111px,#ffff56 118px,#ffff1f 131px,#fffe00 136px,#ffbd00 150px,#ff0200 186px,#ff0000 187px,#cd0000 198px,#8b0000 217px,#5c0000 236px,#370000 258px,#1a0000 285px,#0b0000 306px,#0b0000 307px)"></i><i style="background:linear-gradient(90deg,#0b0000 0px,#0d0000 1px,#a00000 21px,#fc0000 34px,#ff0200 35px,#ff7100 51px,#ffc500 65px,#fffc00 76px,#ffff13 80px,#ffff2a 84px,#ffff4e 93px,#ffff5e 101px,#ffff5e 110px,#ffff52 116px,#ffff36 124px,#ffff0b 133px,#fffe00 135px,#ffbd00 149px,#ff1700 181px,#ff0500 185px,#fc0000 187px,#c80000 199px,#900000 215px,#590000 237px,#370000 258px,#1a0000 285px,#0b0000 306px,#0b0000 307px)"></i><i style="background:linear-gradient(90deg,#0b0000 0px,#0d0000 1px,#a50000 22px,#ff0000 35px,#ff8600 55px,#ffca00 67px,#fffe00 78px,#ffff1f 84px,#ffff3e 91px,#ffff52 99px,#ffff56 108px,#ffff4a 115px,#ffff32 123px,#ffff07 132px,#fffe00 133px,#ffda00 142px,#ff0200 185px,#a50000 208px,#6e0000 227px,#420000 250px,#220000 277px,#0b0000 305px,#0b0000 307px)"></i><i style="background:linear-gradient(90deg,#0b0000 0px,#0d0000 1px,#e20000 31px,#fc0000 35px,#ff2500 41px,#ff9300 58px,#ffd400 70px,#fffc00 79px,#fffe00 80px,#ffff1f 86px,#ffff42 96px,#ffff4a 103px,#ffff4a 109px,#ffff36 119px,#ffff13 128px,#ffff07 130px,#fff900 133px,#ffc700 145px,#ff0d00 182px,#ff0000 185px,#c00000 200px,#8b0000 216px,#5c0000 235px,#370000 257px,#120000 294px,#0b0000 307px)"></i><i style="background:linear-gradient(90deg,#0b0000 0px,#0d0000 1px,#ca0000 28px,#ff0000 36px,#ff8e00 58px,#ffc500 68px,#fffc00 81px,#ffff13 86px,#ffff1f 88px,#ffff2a 92px,#ffff36 96px,#ffff3e 101px,#ffff3e 110px,#ffff2e 118px,#ffff13 126px,#ffff07 128px,#fffe00 130px,#ffc200 145px,#ff0a00 182px,#fc0000 185px,#b00000 204px,#7b0000 221px,#4c0000 243px,#270000 270px,#0b0000 304px,#0b0000 307px)"></i><i style="background:linear-gradient(90deg,#0b0000 0px,#0d0000 1px,#e20000 32px,#fc0000 36px,#ff2500 42px,#ff8e00 59px,#ffdf00 75px,#fffe00 84px,#ffff1b 90px,#ffff2e 98px,#ffff36 106px,#ffff2e 114px,#ffff17 122px,#fffe00 128px,#ffda00 138px,#ff9b00 152px,#ff0800 182px,#ff0000 184px,#cf0000 195px,#900000 213px,#5c0000 234px,#370000 257px,#1a0000 284px,#0b0000 306px,#0b0000 307px)"></i><i style="background:linear-gradient(90deg,#0b0000 0px,#0d0000 1px,#df0000 32px,#ff0000 37px,#ff7100 55px,#ffc200 70px,#fff600 83px,#ffff03 87px,#ffff1f 95px,#ffff2a 104px,#ffff26 112px,#ffff13 120px,#fffe00 125px,#ffe400 134px,#ff9b00 151px,#ff1200 179px,#ff0000 183px,#b30000 202px,#7b0000 220px,#4c0000 242px,#270000 270px,#0b0000 304px,#0b0000 307px)"></i><i style="background:linear-gradient(90deg,#0b0000 0px,#120000 2px,#810000 18px,#fc0000 37px,#ff0200 38px,#ff6600 54px,#ffb200 68px,#ffe100 79px,#fffe00 89px,#ffff13 95px,#ffff1f 103px,#ffff1f 109px,#ffff13 116px,#fffe00 123px,#ffda00 135px,#ff9500 151px,#ff0200 182px,#ad0000 203px,#830000 217px,#5f0000 232px,#3c0000 252px,#1a0000 283px,#0b0000 307px)"></i><i style="background:linear-gradient(90deg,#0b0000 0px,#120000 2px,#7e0000 18px,#ff0000 38px,#ff7e00 59px,#ffc200 73px,#ffe700 83px,#fffc00 91px,#ffff13 102px,#ffff13 110px,#fffe00 120px,#ffd700 134px,#ff9500 150px,#ff0200 181px,#ff0000 182px,#cf0000 193px,#860000 215px,#540000 237px,#370000 256px,#1a0000 283px,#0b0000 307px)"></i><i style="background:linear-gradient(90deg,#0b0000 0px,#120000 2px,#ef0000 36px,#ff0200 39px,#ff5c00 54px,#ffb700 72px,#ffe700 85px,#fffe00 96px,#ffff07 103px,#ffff07 110px,#fffe00 114px,#fff400 121px,#ffcf00 134px,#ff9d00 147px,#ff0000 181px,#ba0000 198px,#830000 216px,#5f0000 231px,#370000 255px,#120000 293px,#0b0000 307px)"></i><i style="background:linear-gradient(90deg,#0b0000 0px,#120000 2px,#9b0000 23px,#fc0000 39px,#ff2200 45px,#ff7100 59px,#ffb500 73px,#ffdf00 85px,#fff400 95px,#fffc00 103px,#fff900 113px,#ffe400 125px,#ffc200 136px,#ff7900 154px,#ff1200 176px,#fc0000 181px,#c00000 196px,#810000 216px,#540000 236px,#370000 255px,#1d0000 280px,#0b0000 306px,#0b0000 307px)"></i><i style="background:linear-gradient(90deg,#0b0000 0px,#120000 2px,#ab0000 26px,#ff0000 40px,#ff5c00 56px,#ff9800 68px,#ffc500 79px,#ffe400 90px,#fff400 101px,#fff100 113px,#ffdc00 125px,#ffb500 138px,#ff4f00 162px,#ff0200 179px,#b30000 199px,#8b0000 212px,#5f0000 230px,#370000 254px,#120000 292px,#0b0000 307px)"></i><i style="background:linear-gradient(90deg,#0b0000 0px,#120000 2px,#a80000 26px,#fc0000 40px,#ff1200 44px,#ff6100 58px,#ff9b00 70px,#ffca00 83px,#ffe400 94px,#ffec00 104px,#ffe900 113px,#ffd700 124px,#ffb500 136px,#ff6900 155px,#ff0200 178px,#ff0000 179px,#dd0000 187px,#a30000 203px,#6e0000 222px,#440000 244px,#220000 273px,#0b0000 305px,#0b0000 307px)"></i><i style="background:linear-gradient(90deg,#0b0000 0px,#180000 3px,#8e0000 22px,#fc0000 41px,#ff0200 42px,#ff3c00 52px,#ff8b00 68px,#ffbd00 81px,#ffda00 93px,#ffe400 105px,#ffdf00 115px,#ffcf00 124px,#ffaa00 137px,#ff7100 152px,#ff0200 177px,#ff0000 178px,#d20000 189px,#980000 206px,#660000 225px,#3a0000 251px,#1a0000 282px,#0b0000 306px,#0b0000 307px)"></i><i style="background:linear-gradient(90deg,#0b0000 0px,#180000 3px,#dd0000 36px,#ff0000 42px,#ff4700 55px,#ff5900 59px,#ff8800 69px,#ffb500 81px,#ffd200 93px,#ffdc00 103px,#ffda00 113px,#ffc500 125px,#ff9d00 139px,#ff3c00 163px,#ff0200 176px,#ff0000 177px,#b50000 196px,#8b0000 210px,#610000 227px,#3f0000 247px,#220000 272px,#0b0000 305px,#0b0000 307px)"></i><i style="background:linear-gradient(90deg,#0b0000 0px,#180000 3px,#ea0000 39px,#ff0000 43px,#ff3200 52px,#ff4400 56px,#ff7e00 68px,#ffb000 82px,#ffca00 93px,#ffd400 103px,#ffcf00 115px,#ffba00 127px,#ff8800 143px,#ff0000 176px,#ba0000 194px,#8b0000 209px,#5c0000 229px,#350000 254px,#1a0000 282px,#0b0000 306px,#0b0000 307px)"></i><i style="background:linear-gradient(90deg,#0b0000 0px,#1d0000 4px,#c50000 33px,#ff0200 44px,#ff6100 63px,#ff9500 76px,#ffbd00 90px,#ffca00 101px,#ffca00 113px,#ffb200 127px,#ff8800 141px,#ff1500 170px,#ff0000 175px,#ba0000 193px,#7e0000 213px,#4c0000 237px,#270000 266px,#0b0000 305px,#0b0000 307px)"></i><i style="background:linear-gradient(90deg,#0b0000 0px,#1d0000 4px,#b00000 30px,#fc0000 44px,#ff1200 48px,#ff6400 65px,#ff9800 79px,#ffb500 91px,#ffc200 100px,#ffbf00 115px,#ffa800 128px,#ff7b00 143px,#ff0000 174px,#c20000 190px,#900000 206px,#610000 225px,#370000 251px,#1a0000 281px,#0b0000 306px,#0b0000 307px)"></i><i style="background:linear-gradient(90deg,#0b0000 0px,#1d0000 4px,#cd0000 36px,#ff0200 46px,#ff4700 60px,#ff8300 75px,#ffa800 88px,#ffba00 101px,#ffb700 115px,#ffa000 128px,#ff7b00 141px,#ff0800 171px,#ff0000 173px,#c20000 189px,#8b0000 207px,#5c0000 227px,#370000 251px,#1a0000 281px,#0b0000 306px,#0b0000 307px)"></i><i style="background:linear-gradient(90deg,#0b0000 0px,#1d0000 4px,#d50000 38px,#e70000 42px,#ff0200 47px,#ff4900 62px,#ff8300 77px,#ffa800 92px,#ffb200 102px,#ffb000 114px,#ff9b00 127px,#ff7100 142px,#ff0000 172px,#c20000 188px,#830000 209px,#590000 228px,#370000 250px,#1a0000 280px,#0b0000 307px)"></i><i style="background:linear-gradient(90deg,#0b0000 0px,#1d0000 4px,#f20000 45px,#ff0200 48px,#ff3f00 61px,#ff7100 74px,#ff9800 88px,#ffa800 100px,#ffa800 114px,#ff9300 127px,#ff6400 144px,#ff0200 170px,#b30000 192px,#7e0000 210px,#540000 230px,#370000 250px,#1a0000 280px,#0b0000 307px)"></i><i style="background:linear-gradient(90deg,#0b0000 0px,#1d0000 4px,#ef0000 45px,#ff0200 49px,#ff4c00 66px,#ff7900 79px,#ff9500 91px,#ffa200 104px,#ff9b00 118px,#ff8600 129px,#ff5900 145px,#ff0200 169px,#b30000 191px,#900000 203px,#610000 222px,#3c0000 245px,#200000 272px,#0b0000 304px,#0b0000 307px)"></i><i style="background:linear-gradient(90deg,#0b0000 0px,#250000 6px,#b00000 33px,#ff0200 50px,#ff4900 67px,#ff7100 79px,#ff8b00 90px,#ff9800 101px,#ff9500 115px,#ff8300 127px,#ff6e00 136px,#ff2200 159px,#ff0000 168px,#b50000 189px,#6e0000 215px,#440000 238px,#220000 269px,#0b0000 304px,#0b0000 307px)"></i><i style="background:linear-gradient(90deg,#0b0000 0px,#100000 2px,#9e0000 30px,#c20000 38px,#ff0000 51px,#ff4700 68px,#ff7100 82px,#ff8600 92px,#ff9000 102px,#ff8e00 115px,#ff7900 128px,#ff5e00 139px,#ff1500 161px,#ff0000 167px,#c20000 184px,#980000 198px,#660000 218px,#3f0000 241px,#220000 268px,#0b0000 305px,#0b0000 307px)"></i><i style="background:linear-gradient(90deg,#0b0000 0px,#100000 2px,#960000 29px,#f90000 51px,#ff0000 52px,#ff4900 71px,#ff7100 85px,#ff8600 99px,#ff8600 114px,#ff7100 128px,#ff4f00 142px,#ff4100 146px,#ff0500 164px,#fc0000 166px,#b30000 188px,#900000 200px,#610000 220px,#3c0000 243px,#1d0000 274px,#0b0000 305px,#0b0000 307px)"></i><i style="background:linear-gradient(90deg,#0b0000 0px,#100000 2px,#b30000 36px,#fc0000 53px,#ff1200 58px,#ff3f00 70px,#ff6900 85px,#ff7e00 99px,#ff7e00 114px,#ff6b00 127px,#ff4f00 139px,#ff0a00 161px,#ff0000 164px,#d50000 176px,#a00000 193px,#690000 215px,#420000 238px,#220000 267px,#0b0000 304px,#0b0000 307px)"></i><i style="background:linear-gradient(90deg,#0b0000 0px,#100000 2px,#b80000 38px,#ff0000 55px,#ff3200 68px,#ff6100 85px,#ff7600 100px,#ff7300 116px,#ff5c00 131px,#ff2200 152px,#ff0000 162px,#a50000 190px,#690000 214px,#420000 237px,#220000 266px,#0b0000 305px,#0b0000 307px)"></i><i style="background:linear-gradient(90deg,#0b0000 0px,#100000 2px,#b80000 39px,#ff0000 56px,#ff3c00 74px,#ff5e00 88px,#ff6b00 98px,#ff6e00 112px,#ff5c00 127px,#ff3c00 141px,#ff0200 160px,#a50000 189px,#690000 213px,#3c0000 240px,#1a0000 276px,#0b0000 307px)"></i><i style="background:linear-gradient(90deg,#0b0000 0px,#100000 2px,#b00000 38px,#ff0000 58px,#ff2c00 71px,#ff5400 87px,#ff6400 100px,#ff6400 115px,#ff4c00 131px,#ff2500 147px,#ff1700 151px,#ff0000 159px,#ea0000 165px,#a50000 188px,#690000 212px,#3c0000 239px,#1d0000 272px,#0b0000 305px,#0b0000 307px)"></i><i style="background:linear-gradient(90deg,#0b0000 0px,#100000 2px,#b80000 41px,#fc0000 59px,#ff1200 65px,#ff3a00 79px,#ff4f00 89px,#ff5c00 101px,#ff5c00 114px,#ff4700 130px,#ff1000 152px,#ff0200 156px,#fc0000 158px,#b50000 181px,#890000 197px,#5c0000 218px,#3c0000 239px,#220000 265px,#0b0000 304px,#0b0000 307px)"></i><i style="background:linear-gradient(90deg,#0b0000 0px,#100000 2px,#c00000 44px,#ff0200 62px,#ff2f00 77px,#ff4c00 92px,#ff5400 105px,#ff5100 116px,#ff3f00 130px,#ff0000 155px,#a50000 185px,#740000 205px,#4c0000 226px,#270000 258px,#0d0000 298px,#0b0000 307px)"></i><i style="background:linear-gradient(90deg,#0b0000 0px,#100000 2px,#b30000 42px,#f70000 61px,#ff0500 65px,#ff2a00 78px,#ff4400 93px,#ff4c00 106px,#ff4700 119px,#ff2f00 134px,#ff0000 153px,#a50000 184px,#710000 205px,#470000 229px,#270000 257px,#0b0000 302px,#0b0000 307px)"></i><i style="background:linear-gradient(90deg,#0b0000 0px,#120000 3px,#350000 11px,#c50000 48px,#f70000 63px,#ff0500 67px,#ff2a00 82px,#ff3f00 96px,#ff4400 110px,#ff3700 125px,#ff1500 142px,#ff0000 150px,#930000 189px,#610000 212px,#3c0000 236px,#220000 263px,#0b0000 303px,#0b0000 307px)"></i><i style="background:linear-gradient(90deg,#0b0000 0px,#120000 3px,#900000 35px,#f20000 63px,#ff0200 69px,#ff2500 83px,#ff3a00 99px,#ff3700 118px,#ff1f00 134px,#ff0000 148px,#860000 193px,#540000 218px,#2f0000 247px,#150000 281px,#0b0000 307px)"></i><i style="background:linear-gradient(90deg,#0b0000 0px,#120000 3px,#890000 34px,#e20000 60px,#ff0000 70px,#ff2500 88px,#ff3200 102px,#ff2f00 117px,#ff1a00 133px,#ff0000 145px,#830000 193px,#510000 219px,#2d0000 248px,#120000 287px,#0b0000 307px)"></i><i style="background:linear-gradient(90deg,#0b0000 0px,#120000 3px,#9e0000 41px,#ea0000 65px,#ff0200 74px,#ff1d00 88px,#ff2a00 102px,#ff2700 117px,#ff0d00 136px,#ff0000 142px,#7b0000 195px,#4c0000 221px,#270000 253px,#0b0000 301px,#0b0000 307px)"></i><i style="background:linear-gradient(90deg,#0b0000 0px,#150000 4px,#890000 36px,#d70000 61px,#ff0000 77px,#ff1500 88px,#ff2200 104px,#ff1d00 119px,#ff0800 134px,#ff0000 139px,#760000 196px,#470000 223px,#270000 252px,#0b0000 301px,#0b0000 307px)"></i><i style="background:linear-gradient(90deg,#0b0000 0px,#150000 4px,#8e0000 39px,#dd0000 65px,#ff0000 80px,#ff1500 95px,#ff1a00 108px,#ff1000 124px,#ff0000 135px,#c80000 160px,#7b0000 192px,#4a0000 220px,#2d0000 245px,#120000 285px,#0b0000 307px)"></i><i style="background:linear-gradient(90deg,#0b0000 0px,#0d0000 2px,#660000 28px,#b80000 54px,#f20000 77px,#ff0000 86px,#ff1000 100px,#ff0d00 118px,#ff0000 130px,#d50000 152px,#760000 193px,#4a0000 219px,#2d0000 244px,#120000 284px,#0b0000 307px)"></i><i style="background:linear-gradient(90deg,#0b0000 0px,#0d0000 2px,#640000 28px,#b80000 56px,#e20000 73px,#ff0000 91px,#ff0800 105px,#ff0500 118px,#fc0000 126px,#e70000 140px,#690000 198px,#440000 222px,#270000 249px,#0d0000 296px,#0b0000 307px)"></i><i style="background:linear-gradient(90deg,#0b0000 0px,#0d0000 2px,#790000 36px,#c00000 61px,#ea0000 81px,#fc0000 98px,#ff0000 113px,#ef0000 130px,#cd0000 150px,#740000 191px,#470000 218px,#270000 248px,#0d0000 295px,#0b0000 307px)"></i><i style="background:linear-gradient(90deg,#0b0000 0px,#100000 3px,#640000 30px,#c50000 66px,#e40000 83px,#f40000 98px,#f70000 111px,#ec0000 126px,#ca0000 148px,#660000 196px,#3c0000 225px,#200000 257px,#0b0000 302px,#0b0000 307px)"></i><i style="background:linear-gradient(90deg,#0b0000 0px,#120000 4px,#200000 8px,#810000 42px,#c50000 69px,#e40000 89px,#ec0000 100px,#ef0000 110px,#e20000 128px,#c00000 150px,#690000 193px,#3f0000 221px,#220000 253px,#0b0000 300px,#0b0000 307px)"></i><i style="background:linear-gradient(90deg,#0b0000 0px,#150000 5px,#810000 43px,#c00000 70px,#dd0000 89px,#e40000 104px,#e20000 120px,#cd0000 138px,#890000 175px,#640000 194px,#3c0000 222px,#200000 255px,#0b0000 300px,#0b0000 307px)"></i><i style="background:linear-gradient(90deg,#0b0000 0px,#1d0000 8px,#5f0000 32px,#a00000 58px,#c80000 79px,#dd0000 99px,#da0000 120px,#c50000 139px,#590000 199px,#370000 225px,#1a0000 263px,#0b0000 304px,#0b0000 307px)"></i><i style="background:linear-gradient(90deg,#0b0000 0px,#1d0000 8px,#890000 50px,#b80000 73px,#cd0000 90px,#d50000 104px,#d20000 120px,#b80000 143px,#5c0000 195px,#370000 224px,#200000 252px,#0b0000 299px,#0b0000 307px)"></i><i style="background:linear-gradient(90deg,#0b0000 0px,#1d0000 8px,#860000 51px,#b00000 73px,#c80000 92px,#cd0000 108px,#c80000 123px,#ab0000 147px,#660000 186px,#3a0000 219px,#220000 248px,#0d0000 293px,#0b0000 307px)"></i><i style="background:linear-gradient(90deg,#0b0000 0px,#3c0000 22px,#810000 51px,#b30000 79px,#c50000 101px,#c20000 120px,#b00000 138px,#890000 164px,#660000 184px,#3a0000 217px,#200000 249px,#0d0000 293px,#0b0000 307px)"></i><i style="background:linear-gradient(90deg,#0b0000 0px,#2a0000 15px,#710000 46px,#a30000 73px,#b80000 93px,#bd0000 109px,#b30000 130px,#890000 161px,#660000 181px,#370000 218px,#1d0000 252px,#0b0000 300px,#0b0000 307px)"></i><i style="background:linear-gradient(90deg,#0b0000 0px,#1a0000 8px,#7e0000 55px,#a30000 78px,#b50000 102px,#b00000 124px,#960000 148px,#4c0000 197px,#270000 234px,#100000 282px,#0b0000 307px)"></i><i style="background:linear-gradient(90deg,#0b0000 0px,#270000 15px,#6c0000 48px,#960000 74px,#ab0000 96px,#ab0000 119px,#960000 143px,#440000 201px,#250000 236px,#100000 280px,#0b0000 307px)"></i><i style="background:linear-gradient(90deg,#0b0000 0px,#120000 5px,#6c0000 51px,#930000 77px,#a30000 97px,#a30000 120px,#8e0000 144px,#440000 199px,#250000 234px,#120000 274px,#0b0000 307px)"></i><i style="background:linear-gradient(90deg,#0b0000 0px,#1a0000 10px,#540000 40px,#810000 68px,#980000 91px,#9e0000 111px,#900000 135px,#4c0000 191px,#370000 209px,#1d0000 245px,#0b0000 297px,#0b0000 307px)"></i><i style="background:linear-gradient(90deg,#0b0000 0px,#1d0000 12px,#4f0000 39px,#810000 73px,#930000 97px,#960000 111px,#890000 135px,#370000 206px,#200000 238px,#0d0000 287px,#0b0000 307px)"></i><i style="background:linear-gradient(90deg,#0b0000 0px,#150000 8px,#540000 45px,#810000 80px,#8b0000 98px,#8e0000 111px,#810000 136px,#370000 204px,#200000 236px,#100000 277px,#0b0000 307px)"></i><i style="background:linear-gradient(90deg,#0b0000 0px,#150000 8px,#570000 50px,#790000 79px,#860000 105px,#7e0000 130px,#570000 171px,#3c0000 194px,#200000 233px,#0d0000 284px,#0b0000 307px)"></i><i style="background:linear-gradient(90deg,#0b0000 0px,#1a0000 12px,#570000 54px,#740000 82px,#7e0000 108px,#740000 135px,#2f0000 206px,#180000 247px,#0b0000 300px,#0b0000 307px)"></i><i style="background:linear-gradient(90deg,#0b0000 0px,#150000 9px,#570000 58px,#710000 88px,#760000 111px,#6c0000 136px,#2d0000 206px,#180000 245px,#0b0000 298px,#0b0000 307px)"></i><i style="background:linear-gradient(90deg,#0b0000 0px,#1d0000 16px,#4f0000 56px,#660000 83px,#6e0000 105px,#690000 128px,#540000 157px,#2d0000 202px,#150000 250px,#0b0000 302px,#0b0000 307px)"></i><i style="background:linear-gradient(90deg,#0b0000 0px,#270000 27px,#420000 49px,#5f0000 83px,#660000 111px,#5c0000 139px,#270000 207px,#120000 255px,#0b0000 307px)"></i><i style="background:linear-gradient(90deg,#0b0000 0px,#1a0000 17px,#350000 40px,#570000 80px,#5f0000 112px,#4f0000 149px,#270000 202px,#120000 254px,#0b0000 307px)"></i><i style="background:linear-gradient(90deg,#0b0000 0px,#1a0000 19px,#270000 30px,#4c0000 74px,#570000 106px,#4f0000 138px,#220000 207px,#100000 259px,#0b0000 307px)"></i><i style="background:linear-gradient(90deg,#0b0000 0px,#1d0000 24px,#3f0000 64px,#4c0000 91px,#4f0000 116px,#4c0000 121px,#420000 150px,#2f0000 177px,#150000 234px,#0b0000 295px,#0b0000 307px)"></i><i style="background:linear-gradient(90deg,#0b0000 0px,#150000 17px,#350000 57px,#440000 91px,#470000 117px,#440000 123px,#3a0000 153px,#1a0000 213px,#0d0000 272px,#0b0000 307px)"></i><i style="background:linear-gradient(90deg,#0b0000 0px,#1a0000 27px,#2f0000 57px,#3c0000 89px,#3f0000 119px,#3c0000 125px,#320000 157px,#1d0000 199px,#0d0000 261px,#0b0000 307px)"></i><i style="background:linear-gradient(90deg,#0b0000 0px,#350000 84px,#350000 133px,#2f0000 145px,#120000 228px,#0b0000 300px,#0b0000 307px)"></i><i style="background:linear-gradient(90deg,#0b0000 0px,#1d0000 44px,#250000 60px,#2f0000 96px,#2d0000 136px,#270000 148px,#100000 233px,#0b0000 307px)"></i><i style="background:linear-gradient(90deg,#0b0000 0px,#250000 81px,#250000 141px,#220000 147px,#100000 224px,#0b0000 304px,#0b0000 307px)"></i><i style="background:linear-gradient(90deg,#0b0000 0px,#200000 94px,#1d0000 148px,#1a0000 154px,#0d0000 236px,#0b0000 307px)"></i><i style="background:linear-gradient(90deg,#0b0000 0px,#180000 97px,#150000 160px,#120000 166px,#0b0000 272px,#0b0000 307px)"></i><i style="background:linear-gradient(90deg,#0b0000 0px,#100000 126px,#0b0000 276px,#0b0000 307px)"></i><i style="background:linear-gradient(90deg,#0b0000 0px,#0b0000 150px,#0b0000 300px,#0b0000 307px)"></i></div>
<div class="h" style="left:477px"><i style="background:linear-gradient(90deg,#ffffd4 0px,#ffffd4 150px,#ffffd4 300px,#ffffd4 307px)"></i><i style="background:linear-gradient(90deg,#ffffd4 0px,#ffffd4 150px,#ffffd4 300px,#ffffd4 307px)"></i><i style="background:linear-gradient(90deg,#ffffd4 0px,#ffffd4 150px,#ffffd4 300px,#ffffd4 307px)"></i><i style="background:linear-gradient(90deg,#ffffd4 0px,#ffffd4 150px,#ffffd4 300px,#ffffd4 307px)"></i><i style="background:linear-gradient(90deg,#ffffd4 0px,#ffffd4 150px,#ffffd4 300px,#ffffd4 307px)"></i><i style="background:linear-gradient(90deg,#ffffd4 0px,#ffffd4 150px,#ffffd4 300px,#ffffd4 307px)"></i><i style="background:linear-gradient(90deg,#ffffd4 0px,#ffffd4 150px,#ffffd4 300px,#ffffd4 307px)"></i><i style="background:linear-gradient(90deg,#ffffd4 0px,#ffffd4 150px,#ffffd4 300px,#ffffd4 307px)"></i><i style="background:linear-gradient(90deg,#ffffd4 0px,#ffffd4 150px,#ffffd4 300px,#ffffd4 307px)"></i><i style="background:linear-gradient(90deg,#ffffd4 0px,#ffffd4 150px,#ffffd4 300px,#ffffd4 307px)"></i><i style="background:linear-gradient(90deg,#ffffd4 0px,#ffffd4 150px,#ffffd4 300px,#ffffd4 307px)"></i><i style="background:linear-gradient(90deg,#ffffd4 0px,#ffffd4 150px,#ffffd4 300px,#ffffd4 307px)"></i><i style="background:linear-gradient(90deg,#ffffd4 0px,#ffffd4 150px,#ffffd4 300px,#ffffd4 307px)"></i><i style="background:linear-gradient(90deg,#ffffd4 0px,#ffffd4 150px,#ffffd4 300px,#ffffd4 307px)"></i><i style="background:linear-gradient(90deg,#ffffd4 0px,#ffffd4 150px,#ffffd4 300px,#ffffd4 307px)"></i><i style="background:linear-gradient(90deg,#ffffd4 0px,#ffffd4 150px,#ffffd4 300px,#ffffd4 307px)"></i><i style="background:linear-gradient(90deg,#ffffd4 0px,#ffffd4 150px,#ffffd4 300px,#ffffd4 307px)"></i><i style="background:linear-gradient(90deg,#ffffd4 0px,#ffffd4 150px,#ffffd4 300px,#ffffd4 307px)"></i><i style="background:linear-gradient(90deg,#ffffd4 0px,#ffffd4 150px,#ffffd4 300px,#ffffd4 307px)"></i><i style="background:linear-gradient(90deg,#ffffd4 0px,#ffffd4 150px,#ffffd4 300px,#ffffd4 307px)"></i><i style="background:linear-gradient(90deg,#ffffd4 0px,#ffffd4 150px,#ffffd4 300px,#ffffd4 307px)"></i><i style="background:linear-gradient(90deg,#ffffd4 0px,#ffffd4 150px,#ffffd4 300px,#ffffd4 307px)"></i><i style="background:linear-gradient(90deg,#ffffd4 0px,#ffffd4 150px,#ffffd4 300px,#ffffd4 307px)"></i><i style="background:linear-gradient(90deg,#ffffd4 0px,#ffffd4 150px,#ffffd4 300px,#ffffd4 307px)"></i><i style="background:linear-gradient(90deg,#ffffd4 0px,#ffffd4 150px,#ffffd4 300px,#ffffd4 307px)"></i><i style="background:linear-gradient(90deg,#ffffd4 0px,#ffffd4 150px,#ffffd4 300px,#ffffd4 307px)"></i><i style="background:linear-gradient(90deg,#ffffd4 0px,#ffffd4 150px,#ffffd4 300px,#ffffd4 307px)"></i><i style="background:linear-gradient(90deg,#ffffd4 0px,#ffffd4 150px,#ffffd4 300px,#ffffd4 307px)"></i><i style="background:linear-gradient(90deg,#ffffd4 0px,#ffffd4 150px,#ffffd4 300px,#ffffd4 307px)"></i><i style="background:linear-gradient(90deg,#ffffd4 0px,#ffffd4 150px,#ffffd4 300px,#ffffd4 307px)"></i><i style="background:linear-gradient(90deg,#ffffd4 0px,#ffffd4 150px,#ffffd4 300px,#ffffd4 307px)"></i><i style="background:linear-gradient(90deg,#ffffd4 0px,#ffffd4 150px,#ffffd4 300px,#ffffd4 307px)"></i><i style="background:linear-gradient(90deg,#ffffd4 0px,#ffffd4 150px,#ffffd4 300px,#ffffd4 307px)"></i><i style="background:linear-gradient(90deg,#ffffd4 0px,#ffffd4 150px,#ffffd4 300px,#ffffd4 307px)"></i><i style="background:linear-gradient(90deg,#ffffd4 0px,#ffffd4 150px,#ffffd4 300px,#ffffd4 307px)"></i><i style="background:linear-gradient(90deg,#ffffd4 0px,#ffffd4 150px,#ffffd4 300px,#ffffd4 307px)"></i><i style="background:linear-gradient(90deg,#ffffd4 0px,#ffffd4 150px,#ffffd4 300px,#ffffd4 307px)"></i><i style="background:linear-gradient(90deg,#ffffd4 0px,#ffffd4 150px,#ffffd4 300px,#ffffd4 307px)"></i><i style="background:linear-gradient(90deg,#ffffd4 0px,#ffffd4 150px,#ffffd4 300px,#ffffd4 307px)"></i><i style="background:linear-gradient(90deg,#ffffd4 0px,#ffffd4 150px,#ffffd4 300px,#ffffd4 307px)"></i><i style="background:linear-gradient(90deg,#ffffd4 0px,#ffffd4 150px,#ffffd4 300px,#ffffd4 307px)"></i><i style="background:linear-gradient(90deg,#ffffd4 0px,#ffffd4 150px,#ffffd4 300px,#ffffd4 307px)"></i><i style="background:linear-gradient(90deg,#ffffd4 0px,#ffffd4 150px,#ffffd4 300px,#ffffd4 307px)"></i><i style="background:linear-gradient(90deg,#ffffd4 0px,#ffffd4 150px,#ffffd4 300px,#ffffd4 307px)"></i><i style="background:linear-gradient(90deg,#ffffd4 0px,#ffffd4 150px,#ffffd4 300px,#ffffd4 307px)"></i><i style="background:linear-gradient(90deg,#ffffd4 0px,#ffffd4 150px,#ffffd4 300px,#ffffd4 307px)"></i><i style="background:linear-gradient(90deg,#ffffd4 0px,#ffffd4 150px,#ffffd4 300px,#ffffd4 307px)"></i><i style="background:linear-gradient(90deg,#ffffd4 0px,#ffffd4 150px,#ffffd4 300px,#ffffd4 307px)"></i><i style="background:linear-gradient(90deg,#ffffd4 0px,#ffffd4 150px,#ffffd4 300px,#ffffd4 307px)"></i><i style="background:linear-gradient(90deg,#ffffd4 0px,#ffffd4 150px,#ffffd4 300px,#ffffd4 307px)"></i><i style="background:linear-gradient(90deg,#ffffd4 0px,#ffffd4 150px,#ffffd4 300px,#ffffd4 307px)"></i><i style="background:linear-gradient(90deg,#ffffd4 0px,#ffffd4 150px,#ffffd4 300px,#ffffd4 307px)"></i><i style="background:linear-gradient(90deg,#ffffd4 0px,#ffffd4 150px,#ffffd4 300px,#ffffd4 307px)"></i><i style="background:linear-gradient(90deg,#ffffd4 0px,#ffffd4 150px,#ffffd4 300px,#ffffd4 307px)"></i><i style="background:linear-gradient(90deg,#ffffd4 0px,#ffffd4 150px,#ffffd4 300px,#ffffd4 307px)"></i><i style="background:linear-gradient(90deg,#ffffd4 0px,#ffffd4 150px,#ffffd4 300px,#ffffd4 307px)"></i><i style="background:linear-gradient(90deg,#ffffd4 0px,#ffffd4 150px,#ffffd4 300px,#ffffd4 307px)"></i><i style="background:linear-gradient(90deg,#ffffd4 0px,#ffffd4 150px,#ffffd4 300px,#ffffd4 307px)"></i><i style="background:linear-gradient(90deg,#ffffd4 0px,#ffffd4 150px,#ffffd4 300px,#ffffd4 307px)"></i><i style="background:linear-gradient(90deg,#ffffd4 0px,#ffffd4 150px,#ffffd4 300px,#ffffd4 307px)"></i><i style="background:linear-gradient(90deg,#ffffd4 0px,#ffffd4 150px,#ffffd4 300px,#ffffd4 307px)"></i><i style="background:linear-gradient(90deg,#ffffd4 0px,#ffffd4 150px,#ffffd4 300px,#ffffd4 307px)"></i><i style="background:linear-gradient(90deg,#ffffd4 0px,#ffffd4 150px,#ffffd4 300px,#ffffd4 307px)"></i><i style="background:linear-gradient(90deg,#ffffd4 0px,#ffffd4 150px,#ffffd4 300px,#ffffd4 307px)"></i><i style="background:linear-gradient(90deg,#ffffd4 0px,#ffffd4 150px,#ffffd4 300px,#ffffd4 307px)"></i><i style="background:linear-gradient(90deg,#ffffd4 0px,#ffffd4 150px,#ffffd4 300px,#ffffd4 307px)"></i><i style="background:linear-gradient(90deg,#ffffd4 0px,#ffffd4 150px,#ffffd4 300px,#ffffd4 307px)"></i><i style="background:linear-gradient(90deg,#ffffd4 0px,#ffffd4 150px,#ffffd4 300px,#ffffd4 307px)"></i><i style="background:linear-gradient(90deg,#ffffd4 0px,#ffffd4 150px,#ffffd4 300px,#ffffd4 307px)"></i><i style="background:linear-gradient(90deg,#ffffd4 0px,#ffffd4 150px,#ffffd4 300px,#ffffd4 307px)"></i><i style="background:linear-gradient(90deg,#ffffd4 0px,#ffffd4 150px,#ffffd4 300px,#ffffd4 307px)"></i><i style="background:linear-gradient(90deg,#ffffd4 0px,#ffffd4 150px,#ffffd4 300px,#ffffd4 307px)"></i><i style="background:linear-gradient(90deg,#ffffd4 0px,#ffffd4 150px,#ffffd4 300px,#ffffd4 307px)"></i><i style="background:linear-gradient(90deg,#ffffd4 0px,#ffffd4 150px,#ffffd4 300px,#ffffd4 307px)"></i><i style="background:linear-gradient(90deg,#ffffd4 0px,#ffffd4 150px,#ffffd4 300px,#ffffd4 307px)"></i><i style="background:linear-gradient(90deg,#ffffd4 0px,#ffffd4 150px,#ffffd4 300px,#ffffd4 307px)"></i><i style="background:linear-gradient(90deg,#ffffd4 0px,#ffffd4 150px,#ffffd4 300px,#ffffd4 307px)"></i><i style="background:linear-gradient(90deg,#ffffd4 0px,#ffffd4 150px,#ffffd4 300px,#ffffd4 307px)"></i><i style="background:linear-gradient(90deg,#ffffd4 0px,#ffffd4 150px,#ffffd4 300px,#ffffd4 307px)"></i><i style="background:linear-gradient(90deg,#ffffd4 0px,#ffffd4 150px,#ffffd4 300px,#ffffd4 307px)"></i><i style="background:linear-gradient(90deg,#ffffd4 0px,#ffffd4 150px,#ffffd4 300px,#ffffd4 307px)"></i><i style="background:linear-gradient(90deg,#ffffd4 0px,#ffffd4 150px,#ffffd4 300px,#ffffd4 307px)"></i><i style="background:linear-gradient(90deg,#ffffd4 0px,#ffffd4 150px,#ffffd4 300px,#ffffd4 307px)"></i><i style="background:linear-gradient(90deg,#ffffd4 0px,#ffffd4 150px,#ffffd4 300px,#ffffd4 307px)"></i><i style="background:linear-gradient(90deg,#ffffd4 0px,#ffffd4 150px,#ffffd4 300px,#ffffd4 307px)"></i><i style="background:linear-gradient(90deg,#ffffd4 0px,#ffffd4 150px,#ffffd4 300px,#ffffd4 307px)"></i><i style="background:linear-gradient(90deg,#ffffd4 0px,#ffffd4 150px,#ffffd4 300px,#ffffd4 307px)"></i><i style="background:linear-gradient(90deg,#ffffd4 0px,#ffffd4 150px,#ffffd4 300px,#ffffd4 307px)"></i><i style="background:linear-gradient(90deg,#ffffd4 0px,#ffffd4 150px,#ffffd4 300px,#ffffd4 307px)"></i><i style="background:linear-gradient(90deg,#ffffd4 0px,#ffffd4 150px,#ffffd4 300px,#ffffd4 307px)"></i><i style="background:linear-gradient(90deg,#ffffd4 0px,#ffffd4 150px,#ffffd4 300px,#ffffd4 307px)"></i><i style="background:linear-gradient(90deg,#ffffd4 0px,#ffffd4 150px,#ffffd4 300px,#ffffd4 307px)"></i><i style="background:linear-gradient(90deg,#ffffd4 0px,#ffffd4 150px,#ffffd4 300px,#ffffd4 307px)"></i><i style="background:linear-gradient(90deg,#ffffd4 0px,#ffffd4 150px,#ffffd4 300px,#ffffd4 307px)"></i><i style="background:linear-gradient(90deg,#ffffd4 0px,#ffffd4 150px,#ffffd4 300px,#ffffd4 307px)"></i><i style="background:linear-gradient(90deg,#ffffd4 0px,#ffffd4 150px,#ffffd4 300px,#ffffd4 307px)"></i><i style="background:linear-gradient(90deg,#ffffd4 0px,#ffffd4 150px,#ffffd4 300px,#ffffd4 307px)"></i><i style="background:linear-gradient(90deg,#ffffd4 0px,#ffffd4 150px,#ffffd4 300px,#ffffd4 307px)"></i><i style="background:linear-gradient(90deg,#ffffd4 0px,#ffffd4 150px,#ffffd4 300px,#ffffd4 307px)"></i><i style="background:linear-gradient(90deg,#ffffd4 0px,#ffffd4 150px,#ffffd4 300px,#ffffd4 307px)"></i><i style="background:linear-gradient(90deg,#ffffd4 0px,#ffffd4 150px,#ffffd4 300px,#ffffd4 307px)"></i><i style="background:linear-gradient(90deg,#ffffd4 0px,#ffffd4 150px,#ffffd4 300px,#ffffd4 307px)"></i><i style="background:linear-gradient(90deg,#ffffd4 0px,#ffffd4 150px,#ffffd4 300px,#ffffd4 307px)"></i><i style="background:linear-gradient(90deg,#ffffd4 0px,#ffffd4 150px,#ffffd4 268px,#ffffd0 270px,#ffffd4 283px,#ffffd4 307px)"></i><i style="background:linear-gradient(90deg,#ffffd4 0px,#ffffd4 150px,#ffffd4 261px,#ffffd0 263px,#ffffd4 303px,#ffffd4 307px)"></i><i style="background:linear-gradient(90deg,#ffffd4 0px,#ffffd4 150px,#ffffd4 257px,#ffffd0 259px,#ffffd4 307px)"></i><i style="background:linear-gradient(90deg,#ffffd4 0px,#ffffd4 150px,#ffffd4 255px,#ffffd0 257px,#ffffd4 307px)"></i><i style="background:linear-gradient(90deg,#ffffd4 0px,#ffffd4 150px,#ffffd4 251px,#ffffd0 253px,#ffffcc 270px,#ffffd0 272px,#ffffd4 298px,#ffffd4 307px)"></i><i style="background:linear-gradient(90deg,#ffffd4 0px,#ffffd4 150px,#ffffd4 250px,#ffffd0 252px,#ffffcc 268px,#ffffd4 289px,#ffffd4 307px)"></i><i style="background:linear-gradient(90deg,#ffffd4 0px,#ffffd4 27px,#ffffd0 29px,#ffffd4 45px,#ffffd4 195px,#ffffd4 248px,#ffffd0 250px,#ffffcc 262px,#ffffc8 264px,#ffffcc 265px,#ffffc8 266px,#ffffcc 268px,#ffffd4 291px,#ffffd4 307px)"></i><i style="background:linear-gradient(90deg,#ffffd4 0px,#ffffd4 25px,#ffffd0 27px,#ffffd4 61px,#ffffd4 211px,#ffffd4 246px,#ffffd0 248px,#ffffcc 259px,#ffffc8 261px,#ffffcc 274px,#ffffd0 276px,#ffffd4 297px,#ffffd4 307px)"></i><i style="background:linear-gradient(90deg,#ffffd4 0px,#ffffd0 42px,#ffffd4 44px,#ffffd4 194px,#ffffd4 245px,#ffffd0 247px,#ffffcc 257px,#ffffc8 259px,#ffffc8 270px,#ffffcc 272px,#ffffd4 290px,#ffffd4 307px)"></i><i style="background:linear-gradient(90deg,#ffffd4 0px,#ffffd4 22px,#ffffd0 24px,#ffffcc 39px,#ffffd0 41px,#ffffd4 51px,#ffffd4 201px,#ffffd4 244px,#ffffd0 246px,#ffffcc 256px,#ffffc8 258px,#ffffc4 266px,#ffffc8 268px,#ffffd0 281px,#ffffd4 291px,#ffffd4 307px)"></i><i style="background:linear-gradient(90deg,#ffffd4 0px,#ffffd4 21px,#ffffd0 23px,#ffffcc 41px,#ffffd0 43px,#ffffd4 56px,#ffffd4 206px,#ffffd4 244px,#ffffd0 246px,#ffffcc 255px,#ffffc4 260px,#ffffc4 269px,#ffffcc 274px,#ffffd4 291px,#ffffd4 307px)"></i><i style="background:linear-gradient(90deg,#ffffd4 0px,#ffffd4 20px,#ffffd0 22px,#ffffcc 33px,#ffffc8 35px,#ffffcc 44px,#ffffd0 46px,#ffffd4 56px,#ffffd4 206px,#ffffd4 243px,#ffffd0 245px,#ffffcc 254px,#ffffc4 259px,#ffffc4 263px,#ffffc0 264px,#ffffc4 266px,#ffffc8 274px,#ffffd0 279px,#ffffd4 300px,#ffffd4 307px)"></i><i style="background:linear-gradient(90deg,#ffffd4 0px,#ffffd4 19px,#ffffd0 21px,#ffffcc 31px,#ffffc8 33px,#ffffc8 42px,#ffffd0 47px,#ffffd4 60px,#ffffd4 210px,#ffffd4 243px,#ffffd0 245px,#ffffcc 253px,#ffffc4 258px,#ffffc0 267px,#ffffcc 275px,#ffffd4 292px,#ffffd4 307px)"></i><i style="background:linear-gradient(90deg,#ffffd4 0px,#ffffd4 18px,#ffffd0 20px,#ffffcc 29px,#ffffc4 34px,#ffffc4 40px,#ffffd0 48px,#ffffd4 61px,#ffffd4 211px,#ffffd4 242px,#ffffd0 244px,#ffffcc 253px,#ffffc0 261px,#ffffc0 269px,#ffffcc 277px,#ffffd4 293px,#ffffd4 307px)"></i><i style="background:linear-gradient(90deg,#ffffd4 0px,#ffffd4 17px,#ffffd0 19px,#ffffd0 25px,#ffffc4 33px,#ffffc4 42px,#ffffd0 48px,#ffffd4 64px,#ffffd4 214px,#ffffd4 242px,#ffffd0 244px,#ffffcc 252px,#ffffc0 260px,#ffffbc 264px,#ffffc0 265px,#ffffbc 266px,#ffffc8 274px,#ffffd0 282px,#ffffd4 298px,#ffffd4 307px)"></i><i style="background:linear-gradient(90deg,#ffffd4 0px,#ffffd4 17px,#ffffd0 19px,#ffffcc 27px,#ffffc0 35px,#ffffc4 43px,#ffffd0 49px,#ffffd4 62px,#ffffd4 212px,#ffffd4 242px,#ffffd0 244px,#ffffcc 252px,#ffffbc 262px,#ffffc0 271px,#ffffcc 277px,#ffffd4 294px,#ffffd4 307px)"></i><i style="background:linear-gradient(90deg,#ffffd4 0px,#ffffd4 16px,#ffffd0 18px,#ffffcc 26px,#ffffc0 34px,#ffffc0 41px,#ffffcc 47px,#ffffd4 58px,#ffffd4 208px,#ffffd4 241px,#ffffd0 243px,#ffffcc 251px,#ffffbc 261px,#ffffbc 269px,#ffffd0 281px,#ffffd4 302px,#ffffd4 307px)"></i><i style="background:linear-gradient(90deg,#ffffd4 0px,#ffffd4 15px,#ffffd0 17px,#ffffcc 25px,#ffffbc 35px,#ffffc0 42px,#ffffd0 50px,#ffffd4 66px,#ffffd4 216px,#ffffd4 241px,#ffffd0 243px,#ffffcc 251px,#ffffbc 261px,#ffffbc 264px,#ffffb8 265px,#ffffbc 267px,#ffffc0 272px,#ffffd0 282px,#ffffd4 300px,#ffffd4 307px)"></i><i style="background:linear-gradient(90deg,#ffffd4 0px,#ffffd4 15px,#ffffd0 17px,#ffffcc 25px,#ffffbc 33px,#ffffbc 40px,#ffffd0 51px,#ffffd4 64px,#ffffd4 214px,#ffffd4 241px,#ffffd0 243px,#ffffcc 251px,#ffffbc 259px,#ffffb8 267px,#ffffd0 283px,#ffffd4 301px,#ffffd4 307px)"></i><i style="background:linear-gradient(90deg,#ffffd4 0px,#ffffd4 14px,#ffffd0 16px,#ffffcc 24px,#ffffb8 35px,#ffffbc 42px,#ffffcc 48px,#ffffd4 61px,#ffffd4 211px,#ffffd4 240px,#ffffd0 242px,#ffffd0 248px,#ffffb8 262px,#ffffb8 268px,#ffffd0 283px,#ffffd4 301px,#ffffd4 307px)"></i><i style="background:linear-gradient(90deg,#ffffd4 0px,#ffffd4 14px,#ffffd0 16px,#ffffcc 24px,#ffffb8 34px,#ffffb8 40px,#ffffd0 52px,#ffffd4 65px,#ffffd4 215px,#ffffd4 240px,#ffffd0 242px,#ffffcc 250px,#ffffb8 261px,#ffffb8 269px,#ffffcc 280px,#ffffd4 294px,#ffffd4 307px)"></i><i style="background:linear-gradient(90deg,#ffffd4 0px,#ffffd4 13px,#ffffd0 15px,#ffffcc 23px,#ffffb4 35px,#ffffb8 41px,#ffffcc 49px,#ffffd4 62px,#ffffd4 212px,#ffffd4 240px,#ffffd0 242px,#ffffcc 250px,#ffffb4 263px,#ffffb8 270px,#ffffcc 280px,#ffffd4 294px,#ffffd4 307px)"></i><i style="background:linear-gradient(90deg,#ffffd4 0px,#ffffd4 13px,#ffffd0 15px,#ffffcc 23px,#ffffb4 33px,#ffffb4 39px,#ffffd0 53px,#ffffd4 66px,#ffffd4 216px,#ffffd4 240px,#ffffd0 242px,#ffffcc 250px,#ffffb4 263px,#ffffb8 271px,#ffffd0 283px,#ffffd4 304px,#ffffd4 307px)"></i><i style="background:linear-gradient(90deg,#ffffd4 0px,#ffffd4 13px,#ffffd0 15px,#ffffcc 22px,#ffffb4 32px,#ffffb4 35px,#ffffb0 36px,#ffffbc 44px,#ffffc8 48px,#ffffd0 53px,#ffffd4 66px,#ffffd4 216px,#ffffd4 240px,#ffffd0 242px,#ffffcc 250px,#ffffb4 262px,#ffffb4 269px,#ffffcc 281px,#ffffd4 295px,#ffffd4 307px)"></i><i style="background:linear-gradient(90deg,#ffffd4 0px,#ffffd4 12px,#ffffd0 14px,#ffffcc 22px,#ffffb0 34px,#ffffb4 41px,#ffffc8 48px,#ffffd0 55px,#ffffd4 65px,#ffffd4 215px,#ffffd4 240px,#ffffd0 242px,#ffffcc 250px,#ffffb4 262px,#ffffb4 269px,#ffffcc 281px,#ffffd4 295px,#ffffd4 307px)"></i><i style="background:linear-gradient(90deg,#ffffd4 0px,#ffffd4 12px,#ffffd0 14px,#ffffd0 19px,#ffffb0 33px,#ffffb0 39px,#ffffcc 50px,#ffffd4 63px,#ffffd4 213px,#ffffd4 240px,#ffffd0 242px,#ffffcc 250px,#ffffb0 264px,#ffffb4 270px,#ffffd0 284px,#ffffd4 302px,#ffffd4 307px)"></i><i style="background:linear-gradient(90deg,#ffffd4 0px,#ffffd4 12px,#ffffd0 14px,#ffffcc 21px,#ffffb0 32px,#ffffac 37px,#ffffbc 45px,#ffffc8 49px,#ffffd0 54px,#ffffd4 67px,#ffffd4 217px,#ffffd4 240px,#ffffd0 242px,#ffffcc 250px,#ffffb0 264px,#ffffb0 268px,#ffffd0 284px,#ffffd4 302px,#ffffd4 307px)"></i><i style="background:linear-gradient(90deg,#ffffd4 0px,#ffffd0 18px,#ffffc0 26px,#ffffb4 30px,#ffffac 35px,#ffffb0 40px,#ffffcc 51px,#ffffd4 61px,#ffffd4 211px,#ffffd4 240px,#ffffd0 242px,#ffffcc 250px,#ffffb4 260px,#ffffb0 268px,#ffffcc 282px,#ffffd4 296px,#ffffd4 307px)"></i><i style="background:linear-gradient(90deg,#ffffd4 0px,#ffffd0 18px,#ffffb0 32px,#ffffac 34px,#ffffac 39px,#ffffc8 49px,#ffffd0 56px,#ffffd4 66px,#ffffd4 216px,#ffffd4 240px,#ffffd0 242px,#ffffcc 250px,#ffffb4 260px,#ffffb0 268px,#ffffcc 282px,#ffffd4 296px,#ffffd4 307px)"></i><i style="background:linear-gradient(90deg,#ffffd4 0px,#ffffd0 18px,#ffffac 33px,#ffffac 39px,#ffffcc 51px,#ffffd4 64px,#ffffd4 214px,#ffffd4 240px,#ffffd0 242px,#ffffcc 250px,#ffffb0 262px,#ffffb0 270px,#ffffc8 280px,#ffffd0 287px,#ffffd4 300px,#ffffd4 307px)"></i><i style="background:linear-gradient(90deg,#ffffd4 0px,#ffffd4 11px,#ffffd0 13px,#ffffcc 20px,#ffffb8 28px,#ffffac 32px,#ffffa8 36px,#ffffb8 44px,#ffffcc 51px,#ffffd4 64px,#ffffd4 214px,#ffffd4 240px,#ffffd0 242px,#ffffcc 250px,#ffffb0 262px,#ffffac 267px,#ffffd0 285px,#ffffd4 303px,#ffffd4 307px)"></i><i style="background:linear-gradient(90deg,#ffffd4 0px,#ffffd4 11px,#ffffd0 13px,#ffffcc 20px,#ffffa8 34px,#ffffac 40px,#ffffc8 49px,#ffffd0 56px,#ffffd4 66px,#ffffd4 216px,#ffffd4 240px,#ffffd0 242px,#ffffcc 250px,#ffffb0 262px,#ffffac 267px,#ffffb4 272px,#ffffcc 282px,#ffffd4 296px,#ffffd4 307px)"></i><i style="background:linear-gradient(90deg,#ffffd4 0px,#ffffd4 11px,#ffffd0 13px,#ffffcc 20px,#ffffa8 34px,#ffffac 40px,#ffffc8 49px,#ffffd0 56px,#ffffd4 66px,#ffffd4 216px,#ffffd4 240px,#ffffd0 242px,#ffffcc 250px,#ffffb0 262px,#ffffac 267px,#ffffb4 273px,#ffffc8 280px,#ffffd0 287px,#ffffd4 300px,#ffffd4 307px)"></i><i style="background:linear-gradient(90deg,#ffffd4 0px,#ffffd4 11px,#ffffd0 13px,#ffffcc 20px,#ffffa8 33px,#ffffa8 38px,#ffffcc 51px,#ffffd4 64px,#ffffd4 214px,#ffffd4 240px,#ffffd0 242px,#ffffcc 250px,#ffffac 263px,#ffffac 269px,#ffffcc 283px,#ffffd4 297px,#ffffd4 307px)"></i><i style="background:linear-gradient(90deg,#ffffd4 0px,#ffffd4 11px,#ffffd0 13px,#ffffcc 20px,#ffffac 31px,#ffffa8 36px,#ffffac 40px,#ffffc8 49px,#ffffd0 56px,#ffffd4 66px,#ffffd4 216px,#ffffd4 240px,#ffffd0 242px,#ffffcc 250px,#ffffac 263px,#ffffac 270px,#ffffc8 281px,#ffffd0 288px,#ffffd4 301px,#ffffd4 307px)"></i><i style="background:linear-gradient(90deg,#ffffd4 0px,#ffffd0 17px,#ffffb8 27px,#ffffac 31px,#ffffa8 36px,#ffffac 40px,#ffffc8 49px,#ffffd0 56px,#ffffd4 66px,#ffffd4 216px,#ffffd4 240px,#ffffd0 242px,#ffffcc 250px,#ffffac 263px,#ffffac 270px,#ffffc8 281px,#ffffd0 288px,#ffffd4 301px,#ffffd4 307px)"></i><i style="background:linear-gradient(90deg,#ffffd4 0px,#ffffd0 17px,#ffffb8 27px,#ffffa8 32px,#ffffa8 38px,#ffffcc 51px,#ffffd4 64px,#ffffd4 214px,#ffffd4 240px,#ffffd0 242px,#ffffcc 250px,#ffffac 263px,#ffffa8 267px,#ffffbc 277px,#ffffc8 281px,#ffffd0 288px,#ffffd4 301px,#ffffd4 307px)"></i><i style="background:linear-gradient(90deg,#ffffd4 0px,#ffffd0 17px,#ffffb8 27px,#ffffa8 32px,#ffffa8 34px,#ffffa4 35px,#ffffac 40px,#ffffc8 49px,#ffffd0 56px,#ffffd4 66px,#ffffd4 216px,#ffffd4 240px,#ffffd0 242px,#ffffcc 250px,#ffffac 263px,#ffffa8 268px,#ffffb4 274px,#ffffc8 281px,#ffffd0 288px,#ffffd4 301px,#ffffd4 307px)"></i><i style="background:linear-gradient(90deg,#ffffd4 0px,#ffffd0 17px,#ffffb8 27px,#ffffa8 32px,#ffffa4 36px,#ffffb0 42px,#ffffc8 49px,#ffffd0 56px,#ffffd4 66px,#ffffd4 216px,#ffffd4 240px,#ffffd0 242px,#ffffcc 250px,#ffffac 263px,#ffffa8 268px,#ffffb8 276px,#ffffcc 283px,#ffffd4 297px,#ffffd4 307px)"></i><i style="background:linear-gradient(90deg,#ffffd4 0px,#ffffd0 16px,#ffffc0 24px,#ffffac 30px,#ffffa4 35px,#ffffa8 39px,#ffffc8 49px,#ffffd0 56px,#ffffd4 66px,#ffffd4 216px,#ffffd4 240px,#ffffd0 242px,#ffffcc 250px,#ffffa8 264px,#ffffa8 269px,#ffffc8 282px,#ffffd0 287px,#ffffd4 303px,#ffffd4 307px)"></i><i style="background:linear-gradient(90deg,#ffffd4 0px,#ffffd0 16px,#ffffc0 24px,#ffffa8 31px,#ffffa4 36px,#ffffb0 42px,#ffffc8 49px,#ffffd0 56px,#ffffd4 66px,#ffffd4 216px,#ffffd4 240px,#ffffd0 242px,#ffffcc 250px,#ffffa8 264px,#ffffa8 269px,#ffffcc 284px,#ffffd4 297px,#ffffd4 307px)"></i><i style="background:linear-gradient(90deg,#ffffd4 0px,#ffffd0 16px,#ffffc0 24px,#ffffa8 31px,#ffffa4 36px,#ffffb0 42px,#ffffc8 49px,#ffffd0 56px,#ffffd4 66px,#ffffd4 216px,#ffffd4 240px,#ffffd0 242px,#ffffcc 250px,#ffffa8 264px,#ffffa8 270px,#ffffcc 284px,#ffffd4 297px,#ffffd4 307px)"></i><i style="background:linear-gradient(90deg,#ffffd4 0px,#ffffd0 16px,#ffffc0 24px,#ffffa8 31px,#ffffa4 36px,#ffffb0 42px,#ffffc8 49px,#ffffd0 56px,#ffffd4 66px,#ffffd4 216px,#ffffd4 240px,#ffffd0 242px,#ffffcc 250px,#ffffa8 263px,#ffffa8 270px,#ffffcc 284px,#ffffd4 298px,#ffffd4 307px)"></i><i style="background:linear-gradient(90deg,#ffffd4 0px,#ffffd0 16px,#ffffc0 24px,#ffffa8 31px,#ffffa4 36px,#ffffb0 42px,#ffffc8 49px,#ffffd0 56px,#ffffd4 66px,#ffffd4 216px,#ffffd4 240px,#ffffd0 242px,#ffffcc 250px,#ffffa8 263px,#ffffa8 266px,#ffffa4 267px,#ffffac 272px,#ffffc8 282px,#ffffd0 289px,#ffffd4 302px,#ffffd4 307px)"></i><i style="background:linear-gradient(90deg,#ffffd4 0px,#ffffd0 16px,#ffffc0 24px,#ffffac 29px,#ffffa4 34px,#ffffa4 38px,#ffffcc 51px,#ffffd4 64px,#ffffd4 214px,#ffffd4 240px,#ffffd0 242px,#ffffcc 250px,#ffffa8 263px,#ffffa4 268px,#ffffb0 274px,#ffffc8 282px,#ffffd0 289px,#ffffd4 302px,#ffffd4 307px)"></i><i style="background:linear-gradient(90deg,#ffffd4 0px,#ffffd0 16px,#ffffc4 22px,#ffffa4 32px,#ffffa4 38px,#ffffcc 51px,#ffffd4 64px,#ffffd4 214px,#ffffd4 240px,#ffffd0 242px,#ffffcc 250px,#ffffa8 263px,#ffffa4 268px,#ffffb0 274px,#ffffcc 284px,#ffffd4 298px,#ffffd4 307px)"></i><i style="background:linear-gradient(90deg,#ffffd4 0px,#ffffd0 16px,#ffffc4 22px,#ffffa4 32px,#ffffa4 38px,#ffffcc 51px,#ffffd4 64px,#ffffd4 214px,#ffffd4 240px,#ffffd0 242px,#ffffcc 250px,#ffffa8 263px,#ffffa4 268px,#ffffb4 276px,#ffffc8 282px,#ffffd0 289px,#ffffd4 302px,#ffffd4 307px)"></i><i style="background:linear-gradient(90deg,#ffffd4 0px,#ffffd0 16px,#ffffc4 22px,#ffffa4 32px,#ffffa4 38px,#ffffcc 51px,#ffffd4 64px,#ffffd4 214px,#ffffd4 240px,#ffffd0 242px,#ffffcc 250px,#ffffa8 263px,#ffffa4 268px,#ffffb4 276px,#ffffc8 282px,#ffffd0 289px,#ffffd4 302px,#ffffd4 307px)"></i><i style="background:linear-gradient(90deg,#ffffd4 0px,#ffffd0 16px,#ffffc4 22px,#ffffa4 32px,#ffffa4 34px,#ffffa0 35px,#ffffac 41px,#ffffc4 48px,#ffffd0 55px,#ffffd4 68px,#ffffd4 218px,#ffffd4 240px,#ffffd0 242px,#ffffcc 250px,#ffffa8 263px,#ffffa4 268px,#ffffa8 272px,#ffffc8 282px,#ffffd0 289px,#ffffd4 302px,#ffffd4 307px)"></i><i style="background:linear-gradient(90deg,#ffffd4 0px,#ffffd0 16px,#ffffc4 22px,#ffffa4 32px,#ffffa0 36px,#ffffb4 44px,#ffffc4 48px,#ffffd0 55px,#ffffd4 68px,#ffffd4 218px,#ffffd4 240px,#ffffd0 242px,#ffffcc 250px,#ffffa4 264px,#ffffa4 270px,#ffffc8 283px,#ffffd0 288px,#ffffd4 304px,#ffffd4 307px)"></i><i style="background:linear-gradient(90deg,#ffffd4 0px,#ffffd0 16px,#ffffc4 22px,#ffffa4 32px,#ffffa0 36px,#ffffa8 40px,#ffffc8 50px,#ffffd0 55px,#ffffd4 68px,#ffffd4 218px,#ffffd4 240px,#ffffd0 242px,#ffffcc 250px,#ffffa4 264px,#ffffa4 270px,#ffffc8 283px,#ffffd0 288px,#ffffd4 304px,#ffffd4 307px)"></i><i style="background:linear-gradient(90deg,#ffffd4 0px,#ffffd0 16px,#ffffc4 22px,#ffffa4 32px,#ffffa0 36px,#ffffa8 40px,#ffffc8 50px,#ffffd0 55px,#ffffd4 68px,#ffffd4 218px,#ffffd4 240px,#ffffd0 242px,#ffffcc 250px,#ffffa4 264px,#ffffa4 270px,#ffffb0 275px,#ffffc4 281px,#ffffd0 289px,#ffffd4 302px,#ffffd4 307px)"></i><i style="background:linear-gradient(90deg,#ffffd4 0px,#ffffd0 16px,#ffffc4 22px,#ffffa4 32px,#ffffa0 37px,#ffffc8 50px,#ffffd0 55px,#ffffd4 71px,#ffffd4 221px,#ffffd4 240px,#ffffd0 242px,#ffffcc 250px,#ffffa4 264px,#ffffa0 268px,#ffffac 274px,#ffffc4 281px,#ffffd0 289px,#ffffd4 302px,#ffffd4 307px)"></i><i style="background:linear-gradient(90deg,#ffffd4 0px,#ffffd0 16px,#ffffc4 22px,#ffffa4 32px,#ffffa0 37px,#ffffb4 44px,#ffffc4 48px,#ffffd0 55px,#ffffd4 71px,#ffffd4 221px,#ffffd4 240px,#ffffd0 242px,#ffffcc 250px,#ffffa4 264px,#ffffa0 268px,#ffffac 274px,#ffffc4 281px,#ffffd0 289px,#ffffd4 302px,#ffffd4 307px)"></i><i style="background:linear-gradient(90deg,#ffffd4 0px,#ffffd0 16px,#ffffc4 22px,#ffffa4 32px,#ffffa0 37px,#ffffb4 44px,#ffffc8 50px,#ffffd0 55px,#ffffd4 71px,#ffffd4 221px,#ffffd4 240px,#ffffd0 242px,#ffffcc 250px,#ffffa4 264px,#ffffa0 269px,#ffffac 274px,#ffffc4 281px,#ffffd0 289px,#ffffd4 302px,#ffffd4 307px)"></i><i style="background:linear-gradient(90deg,#ffffd4 0px,#ffffd0 16px,#ffffc4 22px,#ffffa4 32px,#ffffa0 37px,#ffffb4 44px,#ffffc8 50px,#ffffd0 57px,#ffffd4 67px,#ffffd4 217px,#ffffd4 240px,#ffffd0 242px,#ffffcc 250px,#ffffb8 257px,#ffffa4 263px,#ffffa0 269px,#ffffb4 277px,#ffffc4 281px,#ffffd0 289px,#ffffd4 302px,#ffffd4 307px)"></i><i style="background:linear-gradient(90deg,#ffffd4 0px,#ffffd0 16px,#ffffc0 24px,#ffffa8 30px,#ffffa0 35px,#ffffa4 39px,#ffffc4 49px,#ffffd0 55px,#ffffd4 71px,#ffffd4 221px,#ffffd4 240px,#ffffd0 242px,#ffffcc 250px,#ffffb8 257px,#ffffa0 265px,#ffffa0 269px,#ffffb4 277px,#ffffc4 281px,#ffffd0 289px,#ffffd4 302px,#ffffd4 307px)"></i><i style="background:linear-gradient(90deg,#ffffd4 0px,#ffffd0 16px,#ffffc0 24px,#ffffa8 30px,#ffffa0 35px,#ffffa4 39px,#ffffc4 49px,#ffffd0 55px,#ffffd4 71px,#ffffd4 221px,#ffffd4 240px,#ffffd0 242px,#ffffcc 250px,#ffffb8 257px,#ffffa4 263px,#ffffa0 268px,#ffffa0 270px,#ffffc8 283px,#ffffd0 290px,#ffffd4 300px,#ffffd4 307px)"></i><i style="background:linear-gradient(90deg,#ffffd4 0px,#ffffd0 16px,#ffffc0 24px,#ffffa8 30px,#ffffa0 35px,#ffffa4 39px,#ffffcc 52px,#ffffd4 65px,#ffffd4 215px,#ffffd4 240px,#ffffd0 242px,#ffffcc 250px,#ffffb8 257px,#ffffa4 263px,#ffffa0 268px,#ffffa4 272px,#ffffc8 283px,#ffffd0 290px,#ffffd4 300px,#ffffd4 307px)"></i><i style="background:linear-gradient(90deg,#ffffd4 0px,#ffffd0 16px,#ffffc0 24px,#ffffa4 32px,#ffffa0 37px,#ffffac 42px,#ffffc8 50px,#ffffd0 57px,#ffffd4 67px,#ffffd4 217px,#ffffd4 240px,#ffffd0 242px,#ffffcc 250px,#ffffa4 263px,#ffffa0 268px,#ffffa4 272px,#ffffc8 283px,#ffffd0 290px,#ffffd4 303px,#ffffd4 307px)"></i><i style="background:linear-gradient(90deg,#ffffd4 0px,#ffffd0 16px,#ffffc0 24px,#ffffa4 32px,#ffffa0 37px,#ffffa8 41px,#ffffc4 49px,#ffffd0 55px,#ffffd4 71px,#ffffd4 221px,#ffffd4 240px,#ffffd0 242px,#ffffcc 250px,#ffffa4 263px,#ffffa0 268px,#ffffa4 272px,#ffffc8 283px,#ffffd0 290px,#ffffd4 303px,#ffffd4 307px)"></i><i style="background:linear-gradient(90deg,#ffffd4 0px,#ffffd0 16px,#ffffc0 24px,#ffffa4 32px,#ffffa0 37px,#ffffa8 41px,#ffffc4 49px,#ffffd0 55px,#ffffd4 71px,#ffffd4 221px,#ffffd4 240px,#ffffd0 242px,#ffffcc 250px,#ffffa4 263px,#ffffa0 265px,#ffffa0 270px,#ffffb4 277px,#ffffc8 283px,#ffffd0 290px,#ffffd4 303px,#ffffd4 307px)"></i><i style="background:linear-gradient(90deg,#ffffd4 0px,#ffffd0 16px,#ffffc0 24px,#ffffa4 32px,#ffffa0 37px,#ffffa8 41px,#ffffcc 52px,#ffffd4 65px,#ffffd4 215px,#ffffd4 240px,#ffffd0 242px,#ffffd0 247px,#ffffb8 257px,#ffffa0 264px,#ffffa0 271px,#ffffc8 283px,#ffffd0 290px,#ffffd4 303px,#ffffd4 307px)"></i><i style="background:linear-gradient(90deg,#ffffd4 0px,#ffffd0 16px,#ffffc0 24px,#ffffa4 32px,#ffffa0 37px,#ffffa8 41px,#ffffc8 51px,#ffffd0 56px,#ffffd4 69px,#ffffd4 219px,#ffffd4 240px,#ffffd0 242px,#ffffd0 247px,#ffffb8 257px,#ffffa4 262px,#ffff9d 268px,#ffffa8 274px,#ffffc0 280px,#ffffd0 288px,#ffffd4 306px,#ffffd4 307px)"></i><i style="background:linear-gradient(90deg,#ffffd4 0px,#ffffd0 16px,#ffffc0 24px,#ffffa0 34px,#ffffa0 38px,#ffffc8 51px,#ffffd0 56px,#ffffd4 69px,#ffffd4 219px,#ffffd4 240px,#ffffd0 242px,#ffffd0 247px,#ffffb8 257px,#ffffa4 262px,#ffff9d 268px,#ffffa8 274px,#ffffc8 283px,#ffffd0 290px,#ffffd4 303px,#ffffd4 307px)"></i><i style="background:linear-gradient(90deg,#ffffd4 0px,#ffffd0 16px,#ffffc0 24px,#ffffa4 33px,#ffffa0 38px,#ffffc8 51px,#ffffd0 56px,#ffffd4 69px,#ffffd4 219px,#ffffd4 240px,#ffffd0 242px,#ffffd0 247px,#ffffb8 257px,#ffffa4 262px,#ffff9d 268px,#ffffa8 274px,#ffffc8 283px,#ffffd0 290px,#ffffd4 303px,#ffffd4 307px)"></i><i style="background:linear-gradient(90deg,#ffffd4 0px,#ffffd0 16px,#ffffc0 24px,#ffffa4 33px,#ffffa0 38px,#ffffb4 45px,#ffffc4 49px,#ffffd0 56px,#ffffd4 69px,#ffffd4 219px,#ffffd4 240px,#ffffd0 242px,#ffffd0 247px,#ffffc0 254px,#ffffa0 264px,#ffff9d 269px,#ffffa8 274px,#ffffc8 283px,#ffffd0 290px,#ffffd4 303px,#ffffd4 307px)"></i><i style="background:linear-gradient(90deg,#ffffd4 0px,#ffffd0 16px,#ffffbc 26px,#ffffa8 31px,#ffffa0 36px,#ffffa4 40px,#ffffc0 48px,#ffffd0 56px,#ffffd4 69px,#ffffd4 219px,#ffffd4 240px,#ffffd0 242px,#ffffd0 247px,#ffffc0 254px,#ffffa0 263px,#ffff9d 269px,#ffffa8 274px,#ffffc8 283px,#ffffd0 290px,#ffffd4 303px,#ffffd4 307px)"></i><i style="background:linear-gradient(90deg,#ffffd4 0px,#ffffcc 19px,#ffffb8 27px,#ffffa4 33px,#ffffa0 38px,#ffffb4 45px,#ffffc8 51px,#ffffd0 56px,#ffffd4 69px,#ffffd4 219px,#ffffd4 240px,#ffffd0 242px,#ffffcc 249px,#ffffc0 254px,#ffffa0 263px,#ffff9d 269px,#ffffa8 274px,#ffffc8 283px,#ffffd0 290px,#ffffd4 303px,#ffffd4 307px)"></i><i style="background:linear-gradient(90deg,#ffffd4 0px,#ffffcc 19px,#ffffb8 27px,#ffffa4 33px,#ffffa0 38px,#ffffb4 45px,#ffffc8 51px,#ffffd0 56px,#ffffd4 69px,#ffffd4 219px,#ffffd4 240px,#ffffd0 242px,#ffffcc 249px,#ffffc0 254px,#ffffa0 263px,#ffff9d 270px,#ffffb0 276px,#ffffc8 283px,#ffffd0 290px,#ffffd4 303px,#ffffd4 307px)"></i><i style="background:linear-gradient(90deg,#ffffd4 0px,#ffffd0 8px,#ffffcc 18px,#ffffbc 26px,#ffffa4 33px,#ffffa0 38px,#ffffac 43px,#ffffc8 51px,#ffffd0 56px,#ffffd4 69px,#ffffd4 219px,#ffffd4 240px,#ffffd0 242px,#ffffcc 249px,#ffffb8 256px,#ffffa0 263px,#ffff9d 270px,#ffffb0 276px,#ffffc8 283px,#ffffd0 290px,#ffffd4 303px,#ffffd4 307px)"></i><i style="background:linear-gradient(90deg,#ffffd4 0px,#ffffd0 5px,#ffffcc 18px,#ffffbc 26px,#ffffa8 32px,#ffffa0 37px,#ffffac 43px,#ffffc8 51px,#ffffd0 56px,#ffffd4 69px,#ffffd4 219px,#ffffd4 240px,#ffffd0 242px,#ffffcc 249px,#ffffb8 256px,#ffffa4 261px,#ffff9d 265px,#ffffa0 272px,#ffffbc 279px,#ffffc8 284px,#ffffd0 289px,#ffffd4 305px,#ffffd4 307px)"></i><i style="background:linear-gradient(90deg,#ffffd4 0px,#ffffd0 2px,#ffffcc 17px,#ffffc0 24px,#ffffa4 34px,#ffffa4 36px,#ffffa0 37px,#ffffac 43px,#ffffc8 51px,#ffffd0 58px,#ffffd4 66px,#ffffd4 216px,#ffffd4 240px,#ffffd0 242px,#ffffcc 249px,#ffffb8 256px,#ffffa4 261px,#ffff9d 265px,#ffffa0 272px,#ffffbc 279px,#ffffc8 284px,#ffffd0 289px,#ffffd4 305px,#ffffd4 307px)"></i><i style="background:linear-gradient(90deg,#ffffd0 0px,#ffffcc 16px,#ffffbc 26px,#ffffa4 34px,#ffffa4 40px,#ffffcc 53px,#ffffd4 64px,#ffffd4 214px,#ffffd4 240px,#ffffd0 242px,#ffffcc 249px,#ffffb8 256px,#ffffa4 261px,#ffff9d 265px,#ffffa0 272px,#ffffbc 279px,#ffffc8 284px,#ffffd0 289px,#ffffd4 305px,#ffffd4 307px)"></i><i style="background:linear-gradient(90deg,#ffffd0 0px,#ffffcc 14px,#ffffc8 16px,#ffffc4 22px,#ffffa4 35px,#ffffa4 40px,#ffffcc 53px,#ffffd4 64px,#ffffd4 214px,#ffffd4 240px,#ffffd0 242px,#ffffcc 249px,#ffffb4 257px,#ffffa0 262px,#ffff99 268px,#ffffa4 273px,#ffffc8 283px,#ffffd0 290px,#ffffd4 303px,#ffffd4 307px)"></i><i style="background:linear-gradient(90deg,#ffffd0 0px,#ffffcc 12px,#ffffc8 14px,#ffffc0 24px,#ffffa4 35px,#ffffa4 40px,#ffffcc 53px,#ffffd4 64px,#ffffd4 214px,#ffffd4 239px,#ffffd0 241px,#ffffcc 249px,#ffffb4 257px,#ffffa0 262px,#ffff99 268px,#ffffa4 273px,#ffffc8 283px,#ffffd0 290px,#ffffd4 303px,#ffffd4 307px)"></i><i style="background:linear-gradient(90deg,#ffffd0 0px,#ffffcc 10px,#ffffc8 12px,#ffffc0 23px,#ffffb4 29px,#ffffa8 33px,#ffffa4 38px,#ffffa8 42px,#ffffc4 50px,#ffffd0 56px,#ffffd4 69px,#ffffd4 219px,#ffffd4 239px,#ffffd0 241px,#ffffcc 249px,#ffffac 259px,#ffffa0 262px,#ffff99 268px,#ffffa4 273px,#ffffc8 283px,#ffffd0 290px,#ffffd4 300px,#ffffd4 307px)"></i><i style="background:linear-gradient(90deg,#ffffd0 0px,#ffffcc 8px,#ffffc4 13px,#ffffc0 23px,#ffffa4 36px,#ffffa4 40px,#ffffcc 53px,#ffffd4 64px,#ffffd4 214px,#ffffd4 239px,#ffffd0 241px,#ffffcc 249px,#ffffac 259px,#ffff9d 263px,#ffff99 268px,#ffffa4 273px,#ffffc8 283px,#ffffd0 290px,#ffffd4 300px,#ffffd4 307px)"></i><i style="background:linear-gradient(90deg,#ffffd0 0px,#ffffc8 10px,#ffffc0 15px,#ffffbc 25px,#ffffa4 35px,#ffffa4 40px,#ffffcc 53px,#ffffd4 66px,#ffffd4 216px,#ffffd4 239px,#ffffd0 241px,#ffffd0 246px,#ffffc0 253px,#ffff9d 263px,#ffff99 268px,#ffffa4 273px,#ffffc8 283px,#ffffd0 290px,#ffffd4 300px,#ffffd4 307px)"></i><i style="background:linear-gradient(90deg,#ffffd0 0px,#ffffc8 9px,#ffffc0 13px,#ffffb8 27px,#ffffa8 34px,#ffffa4 39px,#ffffb0 45px,#ffffcc 53px,#ffffd4 66px,#ffffd4 216px,#ffffd4 239px,#ffffd0 241px,#ffffd0 246px,#ffffc0 253px,#ffffa8 259px,#ffff99 266px,#ffffa0 272px,#ffffc0 280px,#ffffd0 288px,#ffffd4 304px,#ffffd4 307px)"></i><i style="background:linear-gradient(90deg,#ffffd0 0px,#ffffc4 10px,#ffffb8 16px,#ffffb8 26px,#ffffa4 37px,#ffffa8 42px,#ffffc8 52px,#ffffd0 57px,#ffffd4 70px,#ffffd4 220px,#ffffd4 239px,#ffffd0 241px,#ffffd0 246px,#ffffc0 253px,#ffffa4 260px,#ffff99 266px,#ffffa0 272px,#ffffc0 280px,#ffffd0 288px,#ffffd4 304px,#ffffd4 307px)"></i><i style="background:linear-gradient(90deg,#ffffd0 0px,#ffffc0 10px,#ffffb4 16px,#ffffb4 28px,#ffffa4 37px,#ffffa8 42px,#ffffc8 52px,#ffffd0 57px,#ffffd4 70px,#ffffd4 220px,#ffffd4 239px,#ffffd0 241px,#ffffcc 248px,#ffffc0 253px,#ffffa4 260px,#ffff99 266px,#ffffa0 272px,#ffffc0 280px,#ffffd0 288px,#ffffd4 304px,#ffffd4 307px)"></i><i style="background:linear-gradient(90deg,#ffffd0 0px,#ffffb0 16px,#ffffb0 23px,#ffffb4 25px,#ffffac 33px,#ffffa4 38px,#ffffa8 42px,#ffffc8 52px,#ffffd0 57px,#ffffd4 70px,#ffffd4 220px,#ffffd4 239px,#ffffd0 241px,#ffffcc 248px,#ffffb8 255px,#ffffa0 261px,#ffff99 267px,#ffffa4 273px,#ffffc0 280px,#ffffd0 288px,#ffffd4 304px,#ffffd4 307px)"></i><i style="background:linear-gradient(90deg,#ffffcc 0px,#ffffc8 4px,#ffffac 15px,#ffffb0 30px,#ffffa4 38px,#ffffa8 42px,#ffffc8 52px,#ffffd0 57px,#ffffd4 70px,#ffffd4 220px,#ffffd4 239px,#ffffd0 241px,#ffffcc 248px,#ffffb8 255px,#ffffa0 261px,#ffff99 265px,#ffff9d 270px,#ffffa8 274px,#ffffc0 280px,#ffffd0 288px,#ffffd4 304px,#ffffd4 307px)"></i><i style="background:linear-gradient(90deg,#ffffcc 0px,#ffffbc 8px,#ffffac 12px,#ffffa4 19px,#ffffb0 29px,#ffffa4 37px,#ffffa8 42px,#ffffcc 54px,#ffffd4 64px,#ffffd4 214px,#ffffd4 239px,#ffffd0 241px,#ffffcc 248px,#ffffb8 255px,#ffffa0 261px,#ffff99 265px,#ffff9d 270px,#ffffa8 274px,#ffffc4 281px,#ffffd0 289px,#ffffd4 302px,#ffffd4 307px)"></i><i style="background:linear-gradient(90deg,#ffffcc 0px,#ffffc4 4px,#ffffa4 13px,#ffffa0 18px,#ffffa4 23px,#ffffac 28px,#ffffa8 37px,#ffffa4 39px,#ffffb0 45px,#ffffc8 52px,#ffffd0 57px,#ffffd4 70px,#ffffd4 220px,#ffffd4 239px,#ffffd0 241px,#ffffcc 248px,#ffffb4 256px,#ffff9d 262px,#ffff99 267px,#ffffa8 274px,#ffffc4 281px,#ffffd0 288px,#ffffd4 304px,#ffffd4 307px)"></i><i style="background:linear-gradient(90deg,#ffffcc 0px,#ffffb4 8px,#ffffa4 11px,#ffff99 16px,#ffff99 20px,#ffffac 29px,#ffffa8 42px,#ffffcc 54px,#ffffd4 65px,#ffffd4 215px,#ffffd4 238px,#ffffd0 240px,#ffffcc 248px,#ffffb4 256px,#ffff9d 262px,#ffff99 267px,#ffffa8 274px,#ffffc4 281px,#ffffd0 288px,#ffffd4 304px,#ffffd4 307px)"></i><i style="background:linear-gradient(90deg,#ffffcc 0px,#ffffb4 7px,#ffffa8 9px,#ffff91 15px,#ffff91 20px,#ffffa8 28px,#ffffac 33px,#ffffa8 35px,#ffffa8 42px,#ffffcc 54px,#ffffd4 65px,#ffffd4 215px,#ffffd4 238px,#ffffd0 240px,#ffffcc 248px,#ffffa8 259px,#ffff99 264px,#ffff99 268px,#ffffb0 276px,#ffffc4 281px,#ffffd0 288px,#ffffd4 304px,#ffffd4 307px)"></i><i style="background:linear-gradient(90deg,#ffffc8 0px,#ffffc4 2px,#ffff8d 14px,#ffff85 18px,#ffff99 25px,#ffffa8 30px,#ffffa8 42px,#ffffbc 49px,#ffffcc 54px,#ffffd4 65px,#ffffd4 215px,#ffffd4 238px,#ffffd0 240px,#ffffd0 245px,#ffffc0 252px,#ffff9d 262px,#ffff99 267px,#ffffa0 271px,#ffffc4 281px,#ffffd0 287px,#ffffd4 305px,#ffffd4 307px)"></i><i style="background:linear-gradient(90deg,#ffffc8 0px,#ffffb0 6px,#ffff8d 12px,#ffff7d 16px,#ffff7d 19px,#ffff85 21px,#ffff85 22px,#ffff91 24px,#ffffa4 29px,#ffffa8 34px,#ffffa8 42px,#ffffbc 49px,#ffffcc 54px,#ffffd4 65px,#ffffd4 215px,#ffffd4 238px,#ffffd0 240px,#ffffd0 245px,#ffffc0 252px,#ffffa4 259px,#ffff99 265px,#ffff9d 270px,#ffffc4 281px,#ffffd0 287px,#ffffd4 305px,#ffffd4 307px)"></i><i style="background:linear-gradient(90deg,#ffffc8 0px,#ffffac 6px,#ffff7d 13px,#ffff71 17px,#ffff79 21px,#ffff9d 28px,#ffffa8 32px,#ffffa8 42px,#ffffbc 49px,#ffffcc 54px,#ffffd4 65px,#ffffd4 215px,#ffffd4 238px,#ffffd0 240px,#ffffcc 247px,#ffffc0 252px,#ffffa4 259px,#ffff99 265px,#ffff9d 270px,#ffffc8 282px,#ffffd0 289px,#ffffd4 299px,#ffffd4 307px)"></i><i style="background:linear-gradient(90deg,#ffffc4 0px,#ffffb4 4px,#ffff79 12px,#ffff69 16px,#ffff69 19px,#ffff79 23px,#ffff9d 29px,#ffffa8 33px,#ffffa8 41px,#ffffb4 47px,#ffffc4 51px,#ffffd0 58px,#ffffd4 68px,#ffffd4 218px,#ffffd4 238px,#ffffd0 240px,#ffffcc 247px,#ffffb8 254px,#ffffa0 260px,#ffff99 266px,#ffff99 268px,#ffffac 274px,#ffffc8 282px,#ffffd0 289px,#ffffd4 299px,#ffffd4 307px)"></i><i style="background:linear-gradient(90deg,#ffffc4 0px,#ffffb0 4px,#ffff69 13px,#ffff5a 17px,#ffff69 22px,#ffff95 28px,#ffffa8 33px,#ffffac 43px,#ffffc8 53px,#ffffd0 58px,#ffffd4 68px,#ffffd4 218px,#ffffd4 238px,#ffffd0 240px,#ffffcc 247px,#ffffb8 254px,#ffffa0 260px,#ffff99 264px,#ffff99 268px,#ffffac 274px,#ffffc8 282px,#ffffd0 289px,#ffffd4 299px,#ffffd4 307px)"></i><i style="background:linear-gradient(90deg,#ffffc0 0px,#ffffac 4px,#ffff79 10px,#ffff65 12px,#ffff52 15px,#ffff4e 18px,#ffff65 23px,#ffff95 29px,#ffffa4 32px,#ffffac 37px,#ffffac 43px,#ffffc8 53px,#ffffd0 58px,#ffffd4 68px,#ffffd4 218px,#ffffd4 237px,#ffffd0 239px,#ffffcc 247px,#ffffb4 255px,#ffff9d 261px,#ffff99 266px,#ffffa4 272px,#ffffc0 279px,#ffffd0 287px,#ffffd4 303px,#ffffd4 307px)"></i><i style="background:linear-gradient(90deg,#ffffc0 0px,#ffffa8 4px,#ffff52 13px,#ffff42 16px,#ffff42 19px,#ffff4e 21px,#ffff99 30px,#ffffac 36px,#ffffac 42px,#ffffb8 48px,#ffffc8 53px,#ffffd0 58px,#ffffd4 68px,#ffffd4 218px,#ffffd4 237px,#ffffd0 239px,#ffffcc 247px,#ffffac 257px,#ffff99 263px,#ffff99 267px,#ffffa8 273px,#ffffc4 280px,#ffffd0 287px,#ffffd4 303px,#ffffd4 307px)"></i><i style="background:linear-gradient(90deg,#ffffbc 0px,#ffffb4 2px,#ffff91 6px,#ffff4e 12px,#ffff3e 14px,#ffff32 17px,#ffff36 19px,#ffff42 21px,#ffff65 25px,#ffff8d 29px,#ffffa4 33px,#ffffac 37px,#ffffb0 44px,#ffffcc 55px,#ffffd4 65px,#ffffd4 215px,#ffffd4 237px,#ffffd0 239px,#ffffd0 244px,#ffffc0 251px,#ffff9d 261px,#ffff99 266px,#ffffa8 273px,#ffffc4 280px,#ffffd0 287px,#ffffd4 303px,#ffffd4 307px)"></i><i style="background:linear-gradient(90deg,#ffffbc 0px,#ffffb0 2px,#ffff95 5px,#ffff42 12px,#ffff2a 15px,#ffff26 17px,#ffff26 19px,#ffff32 21px,#ffff91 30px,#ffffa8 34px,#ffffb0 41px,#ffffb4 46px,#ffffcc 54px,#ffffd4 65px,#ffffd4 215px,#ffffd4 237px,#ffffd0 239px,#ffffd0 244px,#ffffc0 251px,#ffffa8 257px,#ffff99 264px,#ffff9d 269px,#ffffc4 280px,#ffffd0 287px,#ffffd4 303px,#ffffd4 307px)"></i><i style="background:linear-gradient(90deg,#ffffbc 0px,#ffff91 5px,#ffff36 12px,#ffff22 14px,#ffff17 17px,#ffff1b 19px,#ffff2e 22px,#ffff8d 30px,#ffff9d 32px,#ffffb0 38px,#ffffb4 45px,#ffffcc 55px,#ffffd4 65px,#ffffd4 215px,#ffffd4 237px,#ffffd0 239px,#ffffcc 246px,#ffffc0 251px,#ffffa4 258px,#ffff99 264px,#ffff9d 269px,#ffffbc 277px,#ffffcc 284px,#ffffd4 294px,#ffffd4 307px)"></i><i style="background:linear-gradient(90deg,#ffffb8 0px,#ffff95 4px,#ffff56 9px,#ffff2a 12px,#ffff0f 15px,#ffff07 17px,#ffff0b 19px,#ffff22 22px,#ffff7d 29px,#ffff91 31px,#ffffa4 34px,#ffffb0 37px,#ffffb4 45px,#ffffcc 55px,#ffffd4 65px,#ffffd4 215px,#ffffd4 237px,#ffffd0 239px,#ffffcc 246px,#ffffb8 253px,#ffffa0 259px,#ffff99 263px,#ffff99 267px,#ffffac 273px,#ffffc8 281px,#ffffd0 288px,#ffffd4 298px,#ffffd4 307px)"></i><i style="background:linear-gradient(90deg,#ffffb8 0px,#ffff9d 3px,#ffff79 6px,#ffff3a 10px,#ffff07 14px,#fffe00 15px,#fff900 17px,#ffff03 20px,#ffff22 23px,#ffff79 29px,#ffff99 32px,#ffffb0 37px,#ffffb8 46px,#ffffd0 56px,#ffffd4 72px,#ffffd4 222px,#ffffd4 236px,#ffffd0 238px,#ffffcc 246px,#ffffb4 254px,#ffffa0 259px,#ffff99 263px,#ffff99 267px,#ffffac 273px,#ffffc8 281px,#ffffd0 288px,#ffffd4 298px,#ffffd4 307px)"></i><i style="background:linear-gradient(90deg,#ffffb4 0px,#ffff99 3px,#ffff81 5px,#ffff13 12px,#fffc00 14px,#fff100 16px,#fff600 20px,#fffe00 21px,#ffff26 24px,#ffff81 30px,#ffffa4 34px,#ffffb4 38px,#ffffb8 46px,#ffffc4 50px,#ffffd0 57px,#ffffd4 67px,#ffffd4 217px,#ffffd4 236px,#ffffd0 238px,#ffffcc 246px,#ffffac 256px,#ffff99 262px,#ffff99 266px,#ffffa4 271px,#ffffc0 278px,#ffffd0 286px,#ffffd4 302px,#ffffd4 307px)"></i><i style="background:linear-gradient(90deg,#ffffb4 0px,#ffff89 4px,#ffff07 12px,#fff900 13px,#ffec00 15px,#ffe700 18px,#fff400 21px,#fffc00 22px,#ffff1b 24px,#ffff6d 29px,#ffff89 31px,#ffffa4 34px,#ffffb4 38px,#ffffbc 47px,#ffffd0 57px,#ffffd4 67px,#ffffd4 217px,#ffffd4 236px,#ffffd0 238px,#ffffd0 243px,#ffffc0 250px,#ffff9d 260px,#ffff99 265px,#ffffa8 272px,#ffffc4 279px,#ffffd0 286px,#ffffd4 302px,#ffffd4 307px)"></i><i style="background:linear-gradient(90deg,#ffffb0 0px,#ffff91 3px,#ffff75 5px,#ffff56 7px,#ffff0b 11px,#fffc00 12px,#ffe900 14px,#ffdc00 17px,#ffdf00 19px,#fff400 22px,#fffe00 23px,#ffff69 29px,#ffff91 32px,#ffffa8 35px,#ffffb8 39px,#ffffbc 46px,#ffffd0 56px,#ffffd4 69px,#ffffd4 219px,#ffffd4 236px,#ffffd0 238px,#ffffcc 245px,#ffffc0 250px,#ffffa4 257px,#ffff99 263px,#ffff9d 268px,#ffffc4 279px,#ffffd0 286px,#ffffd4 302px,#ffffd4 307px)"></i><i style="background:linear-gradient(90deg,#ffffb0 0px,#ffff9d 2px,#ffff61 6px,#fffe00 11px,#ffe100 14px,#ffd700 16px,#ffd400 18px,#ffdc00 20px,#fff600 23px,#ffff07 24px,#ffff52 28px,#ffff81 31px,#ffff99 33px,#ffffb4 37px,#ffffbc 42px,#ffffc0 48px,#ffffd0 56px,#ffffd4 66px,#ffffd4 216px,#ffffd4 236px,#ffffd0 238px,#ffffcc 245px,#ffffb8 252px,#ffffa0 258px,#ffff99 264px,#ffff9d 268px,#ffffc4 279px,#ffffd0 285px,#ffffd4 303px,#ffffd4 307px)"></i><i style="background:linear-gradient(90deg,#ffffac 0px,#ffff8d 3px,#ffff5a 6px,#ffff0b 10px,#fff900 11px,#ffe100 13px,#ffcc00 16px,#ffcc00 18px,#ffd400 20px,#ffe400 22px,#fffc00 24px,#ffff0f 25px,#ffff4e 28px,#ffff8d 32px,#ffffa0 34px,#ffffb0 36px,#ffffbc 40px,#ffffc4 49px,#ffffd0 55px,#ffffd4 68px,#ffffd4 218px,#ffffd4 235px,#ffffd0 237px,#ffffcc 245px,#ffffb8 252px,#ffffa0 258px,#ffff99 262px,#ffff99 266px,#ffffac 272px,#ffffc8 280px,#ffffd0 287px,#ffffd4 300px,#ffffd4 307px)"></i><i style="background:linear-gradient(90deg,#ffffac 0px,#ffff89 3px,#ffff56 6px,#ffff03 10px,#ffda00 13px,#ffc500 16px,#ffc200 17px,#ffcc00 20px,#fff600 24px,#ffff07 25px,#ffff32 27px,#ffff6d 30px,#ffff89 32px,#ffffa8 35px,#ffffb4 37px,#ffffbc 39px,#ffffc8 51px,#ffffd0 55px,#ffffd4 65px,#ffffd4 215px,#ffffd4 235px,#ffffd0 237px,#ffffcc 245px,#ffffb4 253px,#ffff9d 259px,#ffff99 264px,#ffffa4 270px,#ffffc0 277px,#ffffd0 285px,#ffffd4 301px,#ffffd4 307px)"></i><i style="background:linear-gradient(90deg,#ffffa8 0px,#ffff95 2px,#ffff52 6px,#ffff0f 9px,#fffc00 10px,#ffdf00 12px,#ffc200 15px,#ffbd00 17px,#ffbf00 19px,#ffcc00 21px,#ffff03 25px,#ffff69 30px,#ffff89 32px,#ffffa8 35px,#ffffb4 37px,#ffffc0 40px,#ffffc8 50px,#ffffd4 58px,#ffffd4 208px,#ffffd4 235px,#ffffd0 237px,#ffffd0 242px,#ffffc0 249px,#ffff9d 259px,#ffff99 264px,#ffffa8 271px,#ffffc4 278px,#ffffd0 286px,#ffffd4 299px,#ffffd4 307px)"></i><i style="background:linear-gradient(90deg,#ffffa8 0px,#ffff85 3px,#ffff4e 6px,#ffff0b 9px,#fff600 10px,#ffcf00 13px,#ffb700 16px,#ffb500 18px,#ffc700 21px,#ffec00 24px,#fffc00 25px,#ffff65 30px,#ffff95 33px,#ffffb0 36px,#ffffc0 40px,#ffffd0 54px,#ffffd4 59px,#ffffd4 209px,#ffffd4 235px,#ffffd0 237px,#ffffcc 244px,#ffffc0 249px,#ffffa4 256px,#ffff99 262px,#ffff9d 267px,#ffffb8 275px,#ffffc8 280px,#ffffd0 285px,#ffffd4 301px,#ffffd4 307px)"></i><i style="background:linear-gradient(90deg,#ffffa8 0px,#ffff91 2px,#ffff5e 5px,#ffff1b 8px,#ffff03 9px,#ffbf00 14px,#ffb200 16px,#ffb200 19px,#ffcc00 22px,#fff600 25px,#ffff0b 26px,#ffff4e 29px,#ffff85 32px,#ffffa8 35px,#ffffbc 38px,#ffffc8 44px,#ffffd0 54px,#ffffd4 56px,#ffffd4 206px,#ffffd4 235px,#ffffd0 237px,#ffffcc 244px,#ffffb8 251px,#ffffa0 257px,#ffff99 263px,#ffff9d 267px,#ffffc4 278px,#ffffd0 285px,#ffffd4 301px,#ffffd4 307px)"></i><i style="background:linear-gradient(90deg,#ffffa8 0px,#ffff81 3px,#ffff46 6px,#fffe00 9px,#ffc500 13px,#ffb200 15px,#ffaa00 17px,#ffaa00 18px,#ffb500 20px,#ffe400 24px,#fff400 25px,#ffff07 26px,#ffff4e 29px,#ffff85 32px,#ffffa8 35px,#ffffc0 39px,#ffffc8 43px,#ffffd4 55px,#ffffd4 205px,#ffffd4 234px,#ffffd0 236px,#ffffcc 244px,#ffffb4 252px,#ffffa0 257px,#ffff99 261px,#ffff99 265px,#ffffac 271px,#ffffc8 279px,#ffffd0 286px,#ffffd4 299px,#ffffd4 307px)"></i><i style="background:linear-gradient(90deg,#ffffa4 0px,#ffff9d 1px,#ffff5a 5px,#fffc00 9px,#ffcf00 12px,#ffb700 14px,#ffaa00 16px,#ffaa00 19px,#ffba00 21px,#fff100 25px,#ffff07 26px,#ffff4a 29px,#ffff81 32px,#ffff9d 34px,#ffffb8 37px,#ffffc8 42px,#ffffd4 54px,#ffffd4 204px,#ffffd4 234px,#ffffd0 236px,#ffffd0 241px,#ffffb8 251px,#ffff9d 258px,#ffff99 263px,#ffffa4 269px,#ffffc0 276px,#ffffd0 284px,#ffffd4 300px,#ffffd4 307px)"></i><i style="background:linear-gradient(90deg,#ffffa4 0px,#ffff8d 2px,#ffff56 5px,#fffc00 9px,#ffbf00 13px,#ffad00 15px,#ffa500 17px,#ffa800 19px,#ffb700 21px,#ffff03 26px,#ffff4a 29px,#ffff81 32px,#ffff9d 34px,#ffffb8 37px,#ffffc8 41px,#ffffd4 52px,#ffffd4 202px,#ffffd4 234px,#ffffd0 236px,#ffffcc 243px,#ffffc0 248px,#ffffa8 254px,#ffff99 261px,#ffff9d 266px,#ffffb0 272px,#ffffc8 279px,#ffffd0 286px,#ffffd4 296px,#ffffd4 307px)"></i><i style="background:linear-gradient(90deg,#ffffa4 0px,#ffff8d 2px,#ffff56 5px,#fffc00 9px,#ffda00 11px,#ffb500 14px,#ffaa00 15px,#ffa200 17px,#ffa200 18px,#ffad00 20px,#ffc200 22px,#ffff03 26px,#ffff4a 29px,#ffff81 32px,#ffff9d 34px,#ffffb8 37px,#ffffcc 42px,#ffffd4 50px,#ffffd4 200px,#ffffd4 234px,#ffffd0 236px,#ffffcc 243px,#ffffb8 250px,#ffffa4 255px,#ffff99 261px,#ffff9d 266px,#ffffc0 276px,#ffffd0 284px,#ffffd4 300px,#ffffd4 307px)"></i><i style="background:linear-gradient(90deg,#ffffa4 0px,#ffff8d 2px,#ffff56 5px,#ffff13 8px,#fff900 9px,#ffbf00 13px,#ffaa00 15px,#ffa200 17px,#ffa200 18px,#ffad00 20px,#ffc200 22px,#ffff03 26px,#ffff4a 29px,#ffff81 32px,#ffff9d 34px,#ffffb8 37px,#ffffc8 40px,#ffffd4 48px,#ffffd4 198px,#ffffd4 233px,#ffffd0 235px,#ffffcc 243px,#ffffb4 251px,#ffffa0 256px,#ffff99 262px,#ffff9d 266px,#ffffc4 277px,#ffffd0 284px,#ffffd4 300px,#ffffd4 307px)"></i><i style="background:linear-gradient(90deg,#ffffa4 0px,#ffff8d 2px,#ffff56 5px,#fffc00 9px,#ffbf00 13px,#ffad00 15px,#ffa500 17px,#ffa800 19px,#ffb700 21px,#ffff03 26px,#ffff4a 29px,#ffff81 32px,#ffff9d 34px,#ffffc0 38px,#ffffd0 43px,#ffffd4 56px,#ffffd4 206px,#ffffd4 233px,#ffffd0 235px,#ffffd0 240px,#ffffb8 250px,#ffff9d 257px,#ffff99 262px,#ffff99 264px,#ffffac 270px,#ffffc8 278px,#ffffd0 285px,#ffffd4 298px,#ffffd4 307px)"></i><i style="background:linear-gradient(90deg,#ffffa4 0px,#ffff8d 2px,#ffff5a 5px,#ffff13 8px,#fffc00 9px,#ffcf00 12px,#ffb700 14px,#ffa800 16px,#ffa500 17px,#ffb000 20px,#ffc500 22px,#ffff03 26px,#ffff4a 29px,#ffff81 32px,#ffff9d 34px,#ffffc0 38px,#ffffd0 43px,#ffffd4 56px,#ffffd4 206px,#ffffd4 233px,#ffffd0 235px,#ffffcc 242px,#ffffc0 247px,#ffff9d 257px,#ffff99 262px,#ffffa8 269px,#ffffc0 275px,#ffffd0 283px,#ffffd4 299px,#ffffd4 307px)"></i><i style="background:linear-gradient(90deg,#ffffa8 0px,#ffff8d 2px,#ffff5a 5px,#fffe00 9px,#ffc500 13px,#ffb200 15px,#ffaa00 17px,#ffad00 19px,#ffc700 22px,#fff400 25px,#ffff07 26px,#ffff4e 29px,#ffff85 32px,#ffffa0 34px,#ffffb4 36px,#ffffcc 41px,#ffffd4 51px,#ffffd4 201px,#ffffd4 233px,#ffffd0 235px,#ffffcc 242px,#ffffb8 249px,#ffffa4 254px,#ffff99 260px,#ffff9d 265px,#ffffb8 273px,#ffffc8 278px,#ffffd0 285px,#ffffd4 295px,#ffffd4 307px)"></i><i style="background:linear-gradient(90deg,#ffffa8 0px,#ffff91 2px,#ffff5e 5px,#ffff03 9px,#ffc700 13px,#ffb500 15px,#ffad00 17px,#ffb200 19px,#ffb700 20px,#ffda00 23px,#fff600 25px,#ffff0b 26px,#ffff4e 29px,#ffff85 32px,#ffffa0 34px,#ffffb4 36px,#ffffc0 38px,#ffffd0 43px,#ffffd4 56px,#ffffd4 206px,#ffffd4 232px,#ffffd0 234px,#ffffcc 242px,#ffffb4 250px,#ffffa0 255px,#ffff99 261px,#ffff9d 265px,#ffffc4 276px,#ffffd0 283px,#ffffd4 299px,#ffffd4 307px)"></i><i style="background:linear-gradient(90deg,#ffffa8 0px,#ffff91 2px,#ffff5e 5px,#ffff1f 8px,#ffff07 9px,#fff600 10px,#ffcc00 13px,#ffba00 15px,#ffb200 17px,#ffbd00 20px,#ffdc00 23px,#fff900 25px,#ffff0f 26px,#ffff52 29px,#ffff89 32px,#ffffac 35px,#ffffbc 37px,#ffffcc 41px,#ffffd4 51px,#ffffd4 201px,#ffffd4 232px,#ffffd0 234px,#ffffd0 239px,#ffffb8 249px,#ffff9d 256px,#ffff99 261px,#ffff99 263px,#ffffac 269px,#ffffc8 277px,#ffffd0 284px,#ffffd4 297px,#ffffd4 307px)"></i><i style="background:linear-gradient(90deg,#ffffa8 0px,#ffff95 2px,#ffff75 4px,#ffff0f 9px,#fff900 10px,#ffc700 14px,#ffba00 17px,#ffbd00 19px,#ffcc00 21px,#ffe100 23px,#fffe00 25px,#ffff56 29px,#ffff99 33px,#ffffbc 37px,#ffffcc 41px,#ffffd4 51px,#ffffd0 67px,#ffffd4 115px,#ffffd4 232px,#ffffd0 234px,#ffffd0 239px,#ffffc0 246px,#ffff9d 256px,#ffff99 261px,#ffffa4 267px,#ffffc0 274px,#ffffd0 282px,#ffffd4 300px,#ffffd4 307px)"></i><i style="background:linear-gradient(90deg,#ffffac 0px,#ffff89 3px,#ffff52 6px,#fffe00 10px,#ffcf00 14px,#ffc200 16px,#ffbf00 17px,#ffca00 20px,#ffdc00 22px,#fff600 24px,#ffff07 25px,#ffff6d 30px,#ffff8d 32px,#ffffac 35px,#ffffc8 39px,#ffffd0 44px,#ffffd4 49px,#ffffd0 51px,#ffffd4 155px,#ffffd4 232px,#ffffd0 234px,#ffffcc 241px,#ffffb8 248px,#ffffa4 253px,#ffff99 259px,#ffff9d 264px,#ffffb8 272px,#ffffc8 277px,#ffffd0 284px,#ffffd4 294px,#ffffd4 307px)"></i><i style="background:linear-gradient(90deg,#ffffac 0px,#ffff99 2px,#ffff7d 4px,#ffff32 8px,#ffff07 10px,#fff600 11px,#ffdf00 13px,#ffca00 16px,#ffc700 17px,#ffd200 20px,#ffef00 23px,#fffc00 24px,#ffff22 26px,#ffff71 30px,#ffff91 32px,#ffffb8 36px,#ffffc8 39px,#ffffd0 43px,#ffffd0 46px,#ffffd4 47px,#ffffd0 49px,#ffffd4 171px,#ffffd4 232px,#ffffd0 234px,#ffffcc 241px,#ffffb8 248px,#ffffa0 254px,#ffff99 260px,#ffff9d 264px,#ffffc4 275px,#ffffd0 282px,#ffffd4 298px,#ffffd4 307px)"></i><i style="background:linear-gradient(90deg,#ffffb0 0px,#ffff81 4px,#ffff36 8px,#ffff0f 10px,#fffe00 11px,#ffe700 13px,#ffd200 16px,#ffd400 19px,#ffe900 22px,#ffff03 24px,#ffff65 29px,#ffff85 31px,#ffffa8 34px,#ffffc0 37px,#ffffd0 42px,#ffffd4 192px,#ffffd4 231px,#ffffd0 233px,#ffffcc 241px,#ffffb4 249px,#ffffa0 254px,#ffff99 260px,#ffffa4 266px,#ffffc8 276px,#ffffd0 283px,#ffffd4 296px,#ffffd4 307px)"></i><i style="background:linear-gradient(90deg,#ffffb0 0px,#ffff91 3px,#ffff75 5px,#ffff07 11px,#fff900 12px,#ffe100 15px,#ffda00 17px,#ffdc00 19px,#fff100 22px,#fffc00 23px,#ffff32 26px,#ffff5a 28px,#ffff89 31px,#ffffac 34px,#ffffc4 38px,#ffffd0 42px,#ffffd4 192px,#ffffd4 231px,#ffffd0 233px,#ffffd0 238px,#ffffc0 245px,#ffffa0 254px,#ffff99 260px,#ffffa8 267px,#ffffc0 273px,#ffffd0 281px,#ffffd4 299px,#ffffd4 307px)"></i><i style="background:linear-gradient(90deg,#ffffb0 0px,#ffff95 3px,#ffff79 5px,#ffff36 9px,#ffff13 11px,#ffff03 12px,#ffe400 16px,#ffe700 19px,#fff100 21px,#fffc00 22px,#ffff07 23px,#ffff5e 28px,#ffff8d 31px,#ffffac 34px,#ffffbc 36px,#ffffcc 40px,#ffffd0 45px,#ffffcc 55px,#ffffd0 108px,#ffffd4 110px,#ffffd4 231px,#ffffd0 233px,#ffffcc 240px,#ffffc0 245px,#ffff9d 255px,#ffff99 260px,#ffffa4 265px,#ffffc4 274px,#ffffd0 282px,#ffffd4 295px,#ffffd4 307px)"></i><i style="background:linear-gradient(90deg,#ffffb4 0px,#ffff99 3px,#ffff61 7px,#ffff1f 11px,#ffff03 13px,#ffec00 17px,#fff400 20px,#fffc00 21px,#ffff13 23px,#ffff75 29px,#ffff9d 32px,#ffffb8 35px,#ffffcc 40px,#ffffd0 44px,#ffffcc 46px,#ffffcc 88px,#ffffd0 90px,#ffffd4 151px,#ffffd4 231px,#ffffd0 233px,#ffffcc 240px,#ffffb8 247px,#ffffa4 252px,#ffff99 259px,#ffffa4 265px,#ffffbc 271px,#ffffd0 281px,#ffffd4 297px,#ffffd4 307px)"></i><i style="background:linear-gradient(90deg,#ffffb4 0px,#ffffb0 1px,#ffff85 5px,#ffff1b 12px,#ffff03 14px,#fff600 18px,#fffe00 20px,#ffff13 22px,#ffff3e 25px,#ffff89 30px,#ffffa8 33px,#ffffc4 37px,#ffffcc 41px,#ffffc8 57px,#ffffc8 82px,#ffffcc 84px,#ffffd4 133px,#ffffd4 231px,#ffffd0 233px,#ffffcc 240px,#ffffb8 247px,#ffffa4 252px,#ffff99 259px,#ffffac 267px,#ffffc8 275px,#ffffd0 282px,#ffffd4 295px,#ffffd4 307px)"></i><i style="background:linear-gradient(90deg,#ffffb8 0px,#ffff95 4px,#ffff61 8px,#ffff26 12px,#ffff0b 15px,#ffff03 17px,#ffff07 19px,#ffff0b 20px,#ffff2a 23px,#ffff8d 30px,#ffffac 33px,#ffffc4 37px,#ffffcc 39px,#ffffc4 55px,#ffffc4 79px,#ffffc8 81px,#ffffd0 107px,#ffffd4 149px,#ffffd4 230px,#ffffd0 232px,#ffffcc 240px,#ffffb4 248px,#ffffa0 253px,#ffff9d 261px,#ffffa8 265px,#ffffc8 275px,#ffffd0 282px,#ffffd4 292px,#ffffd4 307px)"></i><i style="background:linear-gradient(90deg,#ffffb8 0px,#ffffac 2px,#ffff8d 5px,#ffff4e 10px,#ffff32 12px,#ffff1f 14px,#ffff13 16px,#ffff13 18px,#ffff22 21px,#ffff36 23px,#ffff6d 27px,#ffff9d 31px,#ffffb0 33px,#ffffc8 38px,#ffffc4 51px,#ffffc0 53px,#ffffc0 78px,#ffffc4 80px,#ffffd0 109px,#ffffd4 167px,#ffffd4 230px,#ffffd0 232px,#ffffd0 237px,#ffffc0 244px,#ffffa0 253px,#ffff9d 261px,#ffffb0 267px,#ffffc4 273px,#ffffd0 280px,#ffffd4 296px,#ffffd4 307px)"></i><i style="background:linear-gradient(90deg,#ffffbc 0px,#ffffa8 3px,#ffff7d 7px,#ffff4a 11px,#ffff26 15px,#ffff22 17px,#ffff22 19px,#ffff42 23px,#ffff99 30px,#ffffb8 34px,#ffffc8 38px,#ffffc4 46px,#ffffbc 51px,#ffffbc 79px,#ffffc0 81px,#ffffc8 97px,#ffffcc 102px,#ffffd0 115px,#ffffd0 150px,#ffffd4 152px,#ffffd0 168px,#ffffd4 192px,#ffffd4 230px,#ffffd0 232px,#ffffcc 239px,#ffffc0 244px,#ffffa0 253px,#ffff9d 260px,#ffffb0 267px,#ffffc8 274px,#ffffd0 281px,#ffffd4 294px,#ffffd4 307px)"></i><i style="background:linear-gradient(90deg,#ffffbc 0px,#ffffb0 2px,#ffff99 5px,#ffff42 13px,#ffff36 15px,#ffff2e 17px,#ffff32 19px,#ffff3e 21px,#ffff4e 23px,#ffff89 28px,#ffffac 32px,#ffffc4 36px,#ffffc8 41px,#ffffbc 50px,#ffffb8 51px,#ffffbc 52px,#ffffb8 54px,#ffffb4 76px,#ffffb8 78px,#ffffc0 91px,#ffffc4 93px,#ffffd0 114px,#ffffd4 230px,#ffffd0 232px,#ffffcc 239px,#ffffb8 246px,#ffffa0 253px,#ffff9d 259px,#ffffa8 264px,#ffffc4 272px,#ffffd0 280px,#ffffd4 296px,#ffffd4 307px)"></i><i style="background:linear-gradient(90deg,#ffffc0 0px,#ffffb4 2px,#ffff95 6px,#ffff56 12px,#ffff3e 16px,#ffff3e 18px,#ffff4a 21px,#ffff6d 25px,#ffff99 29px,#ffffb8 33px,#ffffc8 38px,#ffffc4 44px,#ffffbc 46px,#ffffb0 59px,#ffffb0 79px,#ffffb4 81px,#ffffc0 96px,#ffffc4 98px,#ffffcc 111px,#ffffd0 124px,#ffffd4 229px,#ffffd0 231px,#ffffcc 239px,#ffffa4 252px,#ffff9d 256px,#ffffa0 261px,#ffffc0 270px,#ffffd0 279px,#ffffd4 295px,#ffffd4 307px)"></i><i style="background:linear-gradient(90deg,#ffffc0 0px,#ffffb8 2px,#ffff89 8px,#ffff61 12px,#ffff4a 17px,#ffff4e 19px,#ffff56 21px,#ffff89 27px,#ffff9d 29px,#ffffb4 32px,#ffffc4 36px,#ffffc8 40px,#ffffb4 50px,#ffffac 58px,#ffffa8 68px,#ffffa8 78px,#ffffb0 83px,#ffffb4 90px,#ffffc0 98px,#ffffcc 114px,#ffffd0 135px,#ffffd4 229px,#ffffd0 231px,#ffffcc 239px,#ffffa4 252px,#ffff9d 256px,#ffffa0 260px,#ffffc8 273px,#ffffd0 280px,#ffffd4 293px,#ffffd4 307px)"></i><i style="background:linear-gradient(90deg,#ffffc4 0px,#ffffa0 6px,#ffff65 13px,#ffff5a 16px,#ffff5a 19px,#ffff61 21px,#ffffb0 31px,#ffffc0 34px,#ffffc8 38px,#ffffc0 44px,#ffffb4 48px,#ffffac 53px,#ffffa8 55px,#ffffa0 68px,#ffffa0 79px,#ffffac 87px,#ffffc4 107px,#ffffcc 120px,#ffffd0 141px,#ffffd4 229px,#ffffd0 231px,#ffffcc 238px,#ffffb8 246px,#ffffa0 253px,#ffffa0 259px,#ffffc8 273px,#ffffd0 280px,#ffffd4 290px,#ffffd4 307px)"></i><i style="background:linear-gradient(90deg,#ffffc4 0px,#ffffac 5px,#ffff7d 11px,#ffff65 16px,#ffff65 19px,#ffff79 23px,#ffffa8 29px,#ffffc0 34px,#ffffc8 38px,#ffffc0 44px,#ffffac 51px,#ffffa0 59px,#ffff99 69px,#ffff99 80px,#ffffa8 90px,#ffffb0 97px,#ffffbc 103px,#ffffc8 116px,#ffffcc 129px,#ffffd0 158px,#ffffd4 229px,#ffffd0 231px,#ffffcc 238px,#ffffc0 243px,#ffffa8 250px,#ffffa0 255px,#ffffa4 260px,#ffffcc 274px,#ffffd4 288px,#ffffd4 307px)"></i><i style="background:linear-gradient(90deg,#ffffc4 0px,#ffffc0 2px,#ffff71 15px,#ffff71 19px,#ffff89 24px,#ffffac 29px,#ffffc0 33px,#ffffc8 37px,#ffffc4 42px,#ffffb4 47px,#ffffa0 55px,#ffff95 64px,#ffff8d 74px,#ffff99 88px,#ffffc0 110px,#ffffc8 123px,#ffffcc 136px,#ffffd0 203px,#ffffd4 205px,#ffffd4 228px,#ffffd0 230px,#ffffcc 238px,#ffffa4 252px,#ffffa0 257px,#ffffcc 274px,#ffffd4 288px,#ffffd4 307px)"></i><i style="background:linear-gradient(90deg,#ffffc8 0px,#ffffb4 5px,#ffff85 13px,#ffff79 17px,#ffff81 21px,#ffffb4 30px,#ffffc4 34px,#ffffc8 39px,#ffffbc 45px,#ffffa0 53px,#ffff89 67px,#ffff85 77px,#ffff8d 87px,#ffffb8 109px,#ffffc4 121px,#ffffcc 142px,#ffffd0 206px,#ffffd4 208px,#ffffd4 228px,#ffffd0 230px,#ffffcc 238px,#ffffa4 252px,#ffffa4 258px,#ffffb8 266px,#ffffcc 273px,#ffffd4 287px,#ffffd4 307px)"></i><i style="background:linear-gradient(90deg,#ffffc8 0px,#ffffb8 5px,#ffff91 12px,#ffff85 16px,#ffff85 19px,#ffffa8 27px,#ffffb4 29px,#ffffc4 33px,#ffffc8 38px,#ffffc4 42px,#ffff95 57px,#ffff81 67px,#ffff79 76px,#ffff7d 77px,#ffff79 78px,#ffff7d 80px,#ffff81 87px,#ffffac 107px,#ffffbc 117px,#ffffc4 128px,#ffffc8 144px,#ffffc8 171px,#ffffcc 173px,#ffffd4 226px,#ffffd0 231px,#ffffcc 238px,#ffffa8 251px,#ffffa4 256px,#ffffb4 264px,#ffffc4 269px,#ffffd0 277px,#ffffd4 293px,#ffffd4 307px)"></i><i style="background:linear-gradient(90deg,#ffffc8 0px,#ffffc4 2px,#ffff91 14px,#ffff8d 18px,#ffffa0 24px,#ffffc0 31px,#ffffc8 35px,#ffffc8 40px,#ffffbc 45px,#ffff95 56px,#ffff89 62px,#ffff7d 66px,#ffff75 71px,#ffff71 72px,#ffff75 73px,#ffff71 75px,#ffff71 84px,#ffff8d 98px,#ffff9d 103px,#ffffb8 118px,#ffffc4 135px,#ffffcc 191px,#ffffd0 193px,#ffffd4 227px,#ffffd0 229px,#ffffd0 235px,#ffffc0 243px,#ffffac 249px,#ffffa8 254px,#ffffa8 258px,#ffffcc 272px,#ffffd4 286px,#ffffd4 307px)"></i><i style="background:linear-gradient(90deg,#ffffcc 0px,#ffffbc 5px,#ffff99 14px,#ffff95 18px,#ffffa4 24px,#ffffbc 29px,#ffffc8 34px,#ffffcc 37px,#ffffc4 42px,#ffffc0 44px,#ffff81 62px,#ffff6d 70px,#ffff65 80px,#ffff6d 90px,#ffffa4 111px,#ffffb8 124px,#ffffc0 140px,#ffffc4 161px,#ffffc8 184px,#ffffcc 186px,#ffffd4 226px,#ffffd0 228px,#ffffd0 235px,#ffffc0 243px,#ffffac 250px,#ffffa8 256px,#ffffb8 264px,#ffffc8 269px,#ffffd0 277px,#ffffd4 290px,#ffffd4 307px)"></i><i style="background:linear-gradient(90deg,#ffffcc 0px,#ffffc0 5px,#ffffa8 11px,#ffff9d 17px,#ffffa0 21px,#ffffc4 31px,#ffffcc 36px,#ffffc8 42px,#ffff79 64px,#ffff75 66px,#ffff65 71px,#ffff5e 78px,#ffff5e 80px,#ffff5a 81px,#ffff5e 82px,#ffff5a 84px,#ffff5e 86px,#ffff61 91px,#ffff75 99px,#ffff8d 106px,#ffffa8 118px,#ffffb4 128px,#ffffbc 142px,#ffffc0 160px,#ffffc4 181px,#ffffc8 183px,#ffffd0 206px,#ffffd0 222px,#ffffd4 223px,#ffffd0 225px,#ffffd0 235px,#ffffbc 245px,#ffffb0 249px,#ffffac 254px,#ffffb0 259px,#ffffcc 271px,#ffffd4 285px,#ffffd4 307px)"></i><i style="background:linear-gradient(90deg,#ffffcc 0px,#ffffc0 6px,#ffffa8 13px,#ffffa4 18px,#ffffb0 24px,#ffffc4 30px,#ffffcc 35px,#ffffcc 40px,#ffffb8 48px,#ffffb0 49px,#ffffac 51px,#ffffa4 52px,#ffff9d 55px,#ffff95 56px,#ffff95 57px,#ffff8d 58px,#ffff8d 59px,#ffff85 60px,#ffff81 62px,#ffff69 68px,#ffff5a 75px,#ffff52 80px,#ffff4e 85px,#ffff52 86px,#ffff4e 87px,#ffff61 97px,#ffff91 112px,#ffffa8 124px,#ffffb4 137px,#ffffbc 161px,#ffffbc 173px,#ffffc0 175px,#ffffd0 207px,#ffffd0 235px,#ffffb0 251px,#ffffb0 257px,#ffffd0 273px,#ffffd4 294px,#ffffd4 307px)"></i><i style="background:linear-gradient(90deg,#ffffcc 0px,#ffffc8 4px,#ffffac 14px,#ffffac 20px,#ffffcc 33px,#ffffcc 41px,#ffffb8 48px,#ffff7d 63px,#ffff75 64px,#ffff75 65px,#ffff6d 66px,#ffff5e 72px,#ffff4a 79px,#ffff42 84px,#ffff46 85px,#ffff42 86px,#ffff46 87px,#ffff42 89px,#ffff52 97px,#ffff89 114px,#ffff99 121px,#ffffa8 131px,#ffffb4 152px,#ffffb4 167px,#ffffb8 169px,#ffffc0 185px,#ffffc4 187px,#ffffd0 211px,#ffffd0 235px,#ffffc0 245px,#ffffb4 251px,#ffffb4 258px,#ffffcc 270px,#ffffd4 284px,#ffffd4 307px)"></i><i style="background:linear-gradient(90deg,#ffffd0 0px,#ffffb0 16px,#ffffb0 20px,#ffffcc 32px,#ffffcc 41px,#ffffb8 49px,#ffff99 57px,#ffff8d 59px,#ffff79 64px,#ffff71 65px,#ffff71 66px,#ffff69 67px,#ffff65 69px,#ffff5e 70px,#ffff5a 72px,#ffff4a 77px,#ffff36 87px,#ffff3a 94px,#ffff65 108px,#ffff81 116px,#ffff9d 130px,#ffffac 149px,#ffffb0 171px,#ffffb4 173px,#ffffcc 204px,#ffffd0 217px,#ffffd0 236px,#ffffb8 251px,#ffffb8 258px,#ffffd0 272px,#ffffd4 293px,#ffffd4 307px)"></i><i style="background:linear-gradient(90deg,#ffffd0 0px,#ffffb4 16px,#ffffb8 22px,#ffffcc 32px,#ffffd0 39px,#ffffc0 47px,#ffffa4 55px,#ffff5a 71px,#ffff5a 72px,#ffff4e 74px,#ffff4a 76px,#ffff32 83px,#ffff2a 90px,#ffff2a 94px,#ffff46 104px,#ffff71 116px,#ffff85 124px,#ffff95 132px,#ffffa4 151px,#ffffa8 170px,#ffffb0 175px,#ffffbc 190px,#ffffc4 195px,#ffffd0 214px,#ffffd0 238px,#ffffbc 251px,#ffffbc 259px,#ffffc8 265px,#ffffd0 273px,#ffffd4 289px,#ffffd4 307px)"></i><i style="background:linear-gradient(90deg,#ffffd0 0px,#ffffb8 16px,#ffffbc 22px,#ffffcc 31px,#ffffd0 39px,#ffffc4 47px,#ffffac 54px,#ffffa4 55px,#ffffa0 57px,#ffff65 69px,#ffff52 74px,#ffff4a 75px,#ffff4a 76px,#ffff42 77px,#ffff3e 79px,#ffff36 80px,#ffff32 82px,#ffff22 87px,#ffff1f 96px,#ffff3a 106px,#ffff69 119px,#ffff7d 127px,#ffff8d 135px,#ffff9d 153px,#ffffa0 170px,#ffffac 178px,#ffffc8 204px,#ffffd0 218px,#ffffd0 230px,#ffffd4 232px,#ffffcc 244px,#ffffc0 252px,#ffffc0 259px,#ffffcc 267px,#ffffd4 283px,#ffffd4 307px)"></i><i style="background:linear-gradient(90deg,#ffffd0 0px,#ffffbc 17px,#ffffc4 26px,#ffffcc 30px,#ffffd0 38px,#ffffcc 44px,#ffffb8 52px,#ffff95 60px,#ffff52 74px,#ffff26 84px,#ffff13 91px,#ffff13 93px,#ffff0f 94px,#ffff1b 102px,#ffff36 111px,#ffff5e 121px,#ffff79 132px,#ffff89 142px,#ffff95 159px,#ffff99 171px,#ffffa8 181px,#ffffbc 197px,#ffffc8 205px,#ffffd0 222px,#ffffd4 240px,#ffffc4 254px,#ffffc8 264px,#ffffd0 269px,#ffffd4 293px,#ffffd4 307px)"></i><i style="background:linear-gradient(90deg,#ffffd0 0px,#ffffc8 10px,#ffffc0 15px,#ffffc4 24px,#ffffd0 32px,#ffffd0 42px,#ffffc0 50px,#ffffa4 58px,#ffff42 78px,#ffff36 80px,#ffff13 88px,#ffff07 92px,#ffff03 97px,#ffff13 107px,#ffff36 117px,#ffff5e 127px,#ffff75 138px,#ffff85 151px,#ffff8d 169px,#ffffc8 208px,#ffffd4 233px,#ffffd8 235px,#ffffd8 244px,#ffffc8 254px,#ffffcc 267px,#ffffd0 269px,#ffffd4 290px,#ffffd4 307px)"></i><i style="background:linear-gradient(90deg,#ffffd0 0px,#ffffcc 8px,#ffffc4 13px,#ffffc4 22px,#ffffcc 27px,#ffffd0 37px,#ffffd0 43px,#ffffbc 53px,#ffff99 62px,#ffff6d 70px,#ffff3a 80px,#ffff17 86px,#ffff17 87px,#ffff0b 89px,#fffe00 93px,#fff900 99px,#ffff03 109px,#ffff26 119px,#ffff36 123px,#ffff3e 124px,#ffff42 126px,#ffff5e 134px,#ffff71 145px,#ffff7d 158px,#ffff81 168px,#ffffc4 208px,#ffffd0 223px,#ffffd4 231px,#ffffdc 236px,#ffffdf 243px,#ffffcc 256px,#ffffd0 275px,#ffffd4 277px,#ffffd4 307px)"></i><i style="background:linear-gradient(90deg,#ffffd0 0px,#ffffc8 16px,#ffffcc 29px,#ffffd0 31px,#ffffd0 44px,#ffffbc 54px,#ffff91 65px,#ffff32 82px,#ffff03 90px,#fff400 96px,#ffef00 106px,#fffe00 116px,#ffff42 131px,#ffff56 138px,#ffff6d 154px,#ffff75 168px,#ffffb0 200px,#ffffc4 210px,#ffffd0 227px,#ffffe3 237px,#ffffe3 242px,#ffffe7 243px,#ffffd0 256px,#ffffcc 263px,#ffffd0 265px,#ffffd4 294px,#ffffd4 307px)"></i><i style="background:linear-gradient(90deg,#ffffd0 0px,#ffffcc 12px,#ffffc8 14px,#ffffcc 28px,#ffffd0 30px,#ffffd0 45px,#ffffbc 55px,#ffffa4 62px,#ffff8d 67px,#ffff56 77px,#ffff0f 88px,#fffe00 91px,#ffe700 101px,#ffe400 111px,#fffe00 122px,#ffff26 130px,#ffff4a 140px,#ffff5e 152px,#ffff69 168px,#ffffc4 213px,#ffffd4 229px,#ffffdf 233px,#ffffeb 240px,#ffffeb 246px,#ffffd8 254px,#ffffd0 259px,#ffffd4 301px,#ffffd4 307px)"></i><i style="background:linear-gradient(90deg,#ffffd0 0px,#ffffcc 21px,#ffffd0 37px,#ffffd0 46px,#ffffc4 54px,#ffff95 67px,#ffff52 79px,#ffff46 81px,#ffff26 85px,#ffff03 91px,#ffec00 97px,#ffda00 105px,#ffd700 113px,#ffef00 123px,#ffff03 128px,#ffff1b 133px,#ffff3a 141px,#ffff4e 152px,#ffff61 172px,#ffffac 204px,#ffffb8 208px,#ffffd4 228px,#fffff3 239px,#fffff7 243px,#ffffdf 253px,#ffffd4 257px,#ffffd0 265px,#ffffd4 289px,#ffffd4 307px)"></i><i style="background:linear-gradient(90deg,#ffffd0 0px,#ffffcc 25px,#ffffd0 27px,#ffffd0 37px,#ffffd4 38px,#ffffd0 40px,#ffffd0 47px,#ffffc0 57px,#ffffa0 66px,#ffff89 71px,#ffff4e 81px,#ffff07 91px,#fffc00 93px,#ffdc00 102px,#ffcc00 109px,#ffcc00 117px,#ffe700 126px,#fffe00 132px,#ffff22 140px,#ffff36 147px,#ffff42 155px,#ffff52 171px,#ffff65 179px,#ffff71 185px,#ffffb4 209px,#ffffcc 223px,#ffffd8 229px,#fffff7 237px,#ffffff 243px,#fffff3 248px,#ffffe3 252px,#ffffd0 261px,#ffffd4 295px,#ffffd4 307px)"></i><i style="background:linear-gradient(90deg,#ffffd4 0px,#ffffd0 2px,#ffffcc 22px,#ffffd0 24px,#ffffd0 35px,#ffffd4 37px,#ffffcc 52px,#ffffc0 58px,#ffffa4 66px,#ffff8d 72px,#ffff5e 80px,#ffff07 92px,#fffc00 94px,#ffcc00 106px,#ffbd00 114px,#ffc200 119px,#ffd200 125px,#fffc00 136px,#ffff17 142px,#ffff2e 151px,#ffff42 169px,#ffff69 187px,#ffffac 208px,#ffffd0 226px,#ffffff 238px,#ffffff 246px,#fffff3 249px,#fffff3 250px,#ffffe7 252px,#ffffd4 259px,#ffffd0 269px,#ffffd4 279px,#ffffd4 307px)"></i><i style="background:linear-gradient(90deg,#ffffd4 0px,#ffffd0 2px,#ffffd0 33px,#ffffd4 35px,#ffffd0 50px,#ffffc0 60px,#ffff91 73px,#ffff61 81px,#ffff0b 93px,#fffe00 95px,#ffc700 107px,#ffb700 113px,#ffb200 118px,#ffc500 126px,#fff900 139px,#ffff03 142px,#ffff1b 149px,#ffff36 171px,#ffff65 190px,#ffffb0 212px,#ffffc8 223px,#ffffd8 228px,#fffffb 235px,#ffffff 237px,#ffffff 248px,#fffff3 250px,#ffffdc 256px,#ffffd0 264px,#ffffd4 285px,#ffffd4 307px)"></i><i style="background:linear-gradient(90deg,#ffffd4 0px,#ffffd0 5px,#ffffd0 32px,#ffffd4 34px,#ffffd0 51px,#ffffc0 61px,#ffffa8 69px,#ffff91 75px,#ffff61 83px,#ffff03 96px,#ffe100 102px,#ffb200 113px,#ffaa00 118px,#ffb000 123px,#ffc200 129px,#ffef00 140px,#fffe00 145px,#ffff17 155px,#ffff2a 172px,#ffff52 188px,#ffff75 198px,#ffffa0 209px,#ffffa4 211px,#ffffb8 217px,#ffffc0 221px,#ffffd0 226px,#fffff7 233px,#ffffff 235px,#ffffff 248px,#ffffdc 256px,#ffffd0 264px,#ffffd4 285px,#ffffd4 307px)"></i><i style="background:linear-gradient(90deg,#ffffd4 0px,#ffffd0 10px,#ffffd4 44px,#ffffd0 46px,#ffffd0 53px,#ffffc0 63px,#ffffa8 71px,#ffff95 76px,#ffff52 87px,#fffe00 98px,#ffec00 102px,#ffca00 108px,#ffad00 115px,#ffa500 120px,#ffaa00 125px,#ffc200 132px,#ffe700 141px,#fffc00 149px,#ffff0f 161px,#ffff22 175px,#ffff2e 179px,#ffff3a 185px,#ffff69 199px,#ffff8d 207px,#ffffb8 219px,#ffffbc 221px,#ffffd0 226px,#fffffb 233px,#ffffff 235px,#ffffff 248px,#ffffdc 256px,#ffffd0 264px,#ffffd4 282px,#ffffd4 307px)"></i><i style="background:linear-gradient(90deg,#ffffd4 0px,#ffffd0 13px,#ffffd4 46px,#ffffd0 48px,#ffffcc 58px,#ffffb8 68px,#ffff95 78px,#ffff65 86px,#ffff1f 96px,#ffff07 99px,#ffff03 100px,#ffdf00 106px,#ffad00 116px,#ffa200 122px,#ffa800 127px,#ffbf00 134px,#ffda00 140px,#fff400 149px,#fffe00 158px,#ffff0f 171px,#ffff2e 186px,#ffff52 196px,#ffff56 198px,#ffff61 200px,#ffff95 211px,#ffffc0 223px,#ffffe3 229px,#fffffb 232px,#ffffff 234px,#ffffff 249px,#ffffe7 253px,#ffffd4 259px,#ffffd0 270px,#ffffd4 272px,#ffffd4 307px)"></i><i style="background:linear-gradient(90deg,#ffffd4 0px,#ffffd0 16px,#ffffd4 47px,#ffffd0 49px,#ffffd0 56px,#ffffc4 64px,#ffffb8 70px,#ffff99 79px,#ffff5a 90px,#ffff0b 101px,#fffc00 103px,#ffc200 113px,#ffa800 120px,#ffa500 127px,#ffbd00 135px,#ffdc00 143px,#ffef00 151px,#fffe00 166px,#ffff0b 176px,#ffff26 188px,#ffff42 196px,#ffff65 204px,#ffff7d 208px,#ffff9d 215px,#ffffb8 222px,#ffffff 233px,#ffffff 248px,#ffffdf 255px,#ffffd4 259px,#ffffd0 269px,#ffffd4 274px,#ffffd4 307px)"></i><i style="background:linear-gradient(90deg,#ffffd4 0px,#ffffd0 21px,#ffffd4 39px,#ffffd0 58px,#ffffc0 68px,#ffffac 76px,#ffff99 81px,#ffff56 93px,#ffff07 104px,#fffc00 105px,#ffc500 115px,#ffb500 119px,#ffa800 125px,#ffad00 130px,#ffe700 149px,#fff400 160px,#fffe00 176px,#ffff22 192px,#ffff46 201px,#ffff81 211px,#ffffb4 222px,#fffff3 231px,#ffffff 233px,#ffffff 248px,#ffffe3 253px,#ffffd4 259px,#ffffd0 269px,#ffffd4 274px,#ffffd4 307px)"></i><i style="background:linear-gradient(90deg,#ffffd4 0px,#ffffd0 24px,#ffffd4 29px,#ffffd4 50px,#ffffd0 52px,#ffffd0 59px,#ffffc4 67px,#ffffc0 71px,#ffffac 78px,#ffff95 84px,#ffff52 96px,#ffff13 105px,#ffff03 107px,#ffdf00 113px,#ffba00 121px,#ffb000 126px,#ffb500 132px,#ffbd00 136px,#ffdf00 147px,#ffef00 158px,#fff900 178px,#ffff03 185px,#ffff22 197px,#ffff95 217px,#ffffa8 221px,#fffff3 231px,#ffffff 233px,#ffffff 247px,#ffffdf 254px,#ffffd4 258px,#ffffd0 268px,#ffffd4 276px,#ffffd4 307px)"></i><i style="background:linear-gradient(90deg,#ffffd4 0px,#ffffd0 23px,#ffffd4 25px,#ffffd4 51px,#ffffd0 53px,#ffffd0 61px,#ffffc4 69px,#ffffc0 73px,#ffffac 80px,#ffff8d 88px,#ffff56 98px,#ffff36 103px,#fffe00 110px,#ffd200 119px,#ffbd00 126px,#ffba00 132px,#ffe400 151px,#ffef00 167px,#fff600 183px,#ffff03 192px,#ffff17 198px,#ffff3e 205px,#ffff56 208px,#ffff7d 215px,#ffff8d 217px,#ffff95 219px,#ffffd0 227px,#fffffb 232px,#ffffff 234px,#ffffff 247px,#ffffe7 251px,#ffffd4 257px,#ffffd0 265px,#ffffd4 281px,#ffffd4 307px)"></i><i style="background:linear-gradient(90deg,#ffffd4 0px,#ffffd4 53px,#ffffd0 55px,#ffffd0 63px,#ffffc8 68px,#ffffc4 73px,#ffffb0 81px,#ffff81 93px,#ffff5a 100px,#ffff36 106px,#ffff03 113px,#ffe400 119px,#ffcf00 125px,#ffc700 129px,#ffca00 137px,#ffdf00 147px,#ffe900 157px,#fff100 186px,#fffe00 196px,#ffff1b 202px,#ffff52 210px,#ffff85 218px,#ffffff 233px,#ffffff 246px,#ffffe7 250px,#ffffd4 256px,#ffffd0 266px,#ffffd4 279px,#ffffd4 307px)"></i><i style="background:linear-gradient(90deg,#ffffd4 0px,#ffffd4 55px,#ffffd0 57px,#ffffd0 65px,#ffffc8 70px,#ffffc4 75px,#ffffac 85px,#ffff85 95px,#ffff4e 105px,#ffff2a 111px,#fffe00 117px,#ffdc00 126px,#ffd400 131px,#ffd700 140px,#ffe700 152px,#ffec00 189px,#fff600 197px,#ffff03 201px,#ffff65 215px,#ffff8d 220px,#ffff91 221px,#ffffa4 223px,#fffff3 232px,#ffffff 234px,#ffffff 244px,#ffffdc 252px,#ffffd0 258px,#ffffd4 292px,#ffffd4 307px)"></i><i style="background:linear-gradient(90deg,#ffffd4 0px,#ffffd4 56px,#ffffd0 58px,#ffffd0 67px,#ffffcc 69px,#ffffc8 75px,#ffffb0 86px,#ffff85 98px,#ffff79 100px,#ffff5e 106px,#ffff07 120px,#fff900 123px,#ffe700 129px,#ffe100 135px,#ffe400 144px,#ffec00 155px,#ffe400 189px,#ffe900 196px,#fff900 202px,#fffe00 203px,#ffff1b 207px,#ffff56 215px,#ffff99 223px,#ffffe3 231px,#fffffb 235px,#ffffff 237px,#ffffff 243px,#ffffdf 250px,#ffffd4 254px,#ffffd0 262px,#ffffd4 286px,#ffffd4 307px)"></i><i style="background:linear-gradient(90deg,#ffffd4 0px,#ffffd4 58px,#ffffd0 60px,#ffffd0 69px,#ffffcc 71px,#ffffc8 77px,#ffffb4 87px,#ffff91 98px,#ffff5a 110px,#ffff1b 121px,#fffe00 127px,#fff100 134px,#ffef00 163px,#ffe100 183px,#ffe100 197px,#fff100 203px,#fffe00 206px,#ffff46 215px,#ffff52 216px,#ffff56 217px,#ffffc8 229px,#ffffe7 233px,#fffff7 237px,#fffff7 242px,#ffffd4 252px,#ffffd0 260px,#ffffd4 289px,#ffffd4 307px)"></i><i style="background:linear-gradient(90deg,#ffffd4 0px,#ffffd4 60px,#ffffd0 62px,#ffffd0 71px,#ffffcc 73px,#ffffc8 79px,#ffffac 93px,#ffff89 103px,#ffff4a 117px,#ffff2e 122px,#ffff07 132px,#fffc00 138px,#fff400 161px,#ffd400 196px,#ffe900 204px,#ffff03 209px,#ffff2a 214px,#ffffc8 230px,#ffffdc 233px,#ffffeb 237px,#ffffeb 242px,#ffffd0 253px,#ffffd4 303px,#ffffd4 307px)"></i><i style="background:linear-gradient(90deg,#ffffd4 0px,#ffffd4 61px,#ffffd0 63px,#ffffd0 73px,#ffffcc 75px,#ffffc4 85px,#ffffa8 97px,#ffff8d 105px,#ffff1f 132px,#ffff0b 142px,#fffc00 157px,#ffe100 182px,#ffcc00 195px,#ffd200 200px,#ffe400 206px,#fffe00 211px,#ffff2a 216px,#ffff56 220px,#ffffa8 228px,#ffffb8 230px,#ffffc4 231px,#ffffdc 236px,#ffffdf 242px,#ffffd0 252px,#ffffcc 257px,#ffffd0 259px,#ffffd4 293px,#ffffd4 307px)"></i><i style="background:linear-gradient(90deg,#ffffd4 0px,#ffffd4 63px,#ffffd0 65px,#ffffd0 76px,#ffffcc 78px,#ffffc8 84px,#ffffb8 94px,#ffff8d 109px,#ffff46 127px,#ffff42 129px,#ffff32 133px,#ffff1f 142px,#ffff13 152px,#ffff03 160px,#fff100 172px,#ffdf00 183px,#ffc500 195px,#ffc700 200px,#ffd200 205px,#fff900 213px,#ffff03 214px,#ffff61 223px,#ffff91 227px,#ffffc4 233px,#ffffd4 237px,#ffffd4 246px,#ffffd0 248px,#ffffcc 258px,#ffffd0 263px,#ffffd4 287px,#ffffd4 307px)"></i><i style="background:linear-gradient(90deg,#ffffd4 0px,#ffffd4 65px,#ffffd0 67px,#ffffd0 78px,#ffffcc 80px,#ffffc4 90px,#ffffac 102px,#ffff89 114px,#ffff5e 126px,#ffff5a 128px,#ffff42 135px,#ffff0f 161px,#ffff03 165px,#ffef00 177px,#ffc200 193px,#ffba00 198px,#ffc200 204px,#ffcf00 208px,#fff600 215px,#fffe00 216px,#ffff2a 220px,#ffff75 226px,#ffff9d 230px,#ffffc0 235px,#ffffcc 241px,#ffffd0 271px,#ffffd4 273px,#ffffd4 307px)"></i><i style="background:linear-gradient(90deg,#ffffd4 0px,#ffffd4 67px,#ffffd0 69px,#ffffd0 80px,#ffffcc 82px,#ffffc8 90px,#ffffb0 104px,#ffff81 121px,#ffff5e 132px,#ffff2a 155px,#fffe00 171px,#ffec00 180px,#ffc700 191px,#ffb500 196px,#ffb200 202px,#ffb700 206px,#ffbf00 209px,#ffec00 216px,#fffc00 218px,#ffff13 220px,#ffff56 225px,#ffff99 231px,#ffffb0 235px,#ffffc0 240px,#ffffcc 256px,#ffffd4 279px,#ffffd4 307px)"></i><i style="background:linear-gradient(90deg,#ffffd4 0px,#ffffd4 70px,#ffffd0 72px,#ffffd0 83px,#ffffcc 85px,#ffffc4 96px,#ffffa0 114px,#ffff5e 139px,#ffff4a 149px,#ffff13 168px,#fffe00 175px,#ffdf00 185px,#ffb200 195px,#ffa200 202px,#ffa500 206px,#ffb500 211px,#ffdc00 217px,#fff900 220px,#ffff03 221px,#ffff42 225px,#ffff75 229px,#ffff99 233px,#ffffb4 239px,#ffffc4 249px,#ffffd0 264px,#ffffd4 285px,#ffffd4 307px)"></i><i style="background:linear-gradient(90deg,#ffffd4 0px,#ffffd4 72px,#ffffd0 74px,#ffffd0 86px,#ffffcc 88px,#ffffc4 99px,#ffffa4 117px,#ffff5a 148px,#ffff52 152px,#ffff1f 168px,#ffff1b 170px,#fffe00 177px,#ffe700 184px,#ffa500 197px,#ff9500 202px,#ff9500 209px,#ffa000 212px,#ffc500 217px,#ffd700 219px,#fff900 222px,#ffff07 223px,#ffff2a 225px,#ffff56 228px,#ffff79 231px,#ffff99 235px,#ffffb4 242px,#ffffcc 257px,#ffffd4 278px,#ffffd4 307px)"></i><i style="background:linear-gradient(90deg,#ffffd4 0px,#ffffd4 74px,#ffffd0 76px,#ffffd0 88px,#ffffcc 90px,#ffffc8 99px,#ffffa8 119px,#ffff69 149px,#ffff3e 163px,#ffff07 178px,#fffe00 179px,#ffef00 183px,#ffa000 197px,#ff9500 199px,#ff8000 204px,#ff7b00 208px,#ff8000 211px,#ffa000 216px,#ffb200 218px,#fffe00 224px,#ffff42 228px,#ffff69 231px,#ffff8d 235px,#ffffa0 239px,#ffffb4 244px,#ffffcc 257px,#ffffd4 280px,#ffffd4 307px)"></i><i style="background:linear-gradient(90deg,#ffffd4 0px,#ffffd4 77px,#ffffd0 79px,#ffffd0 91px,#ffffcc 93px,#ffffc4 106px,#ffff99 132px,#ffff75 150px,#ffff42 166px,#ffff17 177px,#ffff03 180px,#fff900 182px,#ffd200 189px,#ff8300 200px,#ff6600 205px,#ff5e00 210px,#ff6e00 214px,#ff8800 217px,#fff600 225px,#ffff07 226px,#ffff2a 228px,#ffff5a 231px,#ffff81 235px,#ffffa4 241px,#ffffb8 247px,#ffffc8 255px,#ffffd0 265px,#ffffd4 286px,#ffffd4 307px)"></i><i style="background:linear-gradient(90deg,#ffffd4 0px,#ffffd4 79px,#ffffd0 81px,#ffffd0 94px,#ffffcc 96px,#ffffc8 106px,#ffffbc 114px,#ffffac 127px,#ffff95 139px,#ffff91 143px,#ffff79 153px,#ffff52 165px,#ffff36 173px,#ffff0f 180px,#fffe00 182px,#ffe100 187px,#ffc200 191px,#ff8800 198px,#ff6b00 201px,#ff4700 206px,#ff3c00 210px,#ff4900 214px,#ff7300 218px,#fff400 226px,#ffff03 227px,#ffff3a 230px,#ffff56 232px,#ffff75 235px,#ffff95 239px,#ffffb0 245px,#ffffc8 255px,#ffffd0 265px,#ffffd4 286px,#ffffd4 307px)"></i><i style="background:linear-gradient(90deg,#ffffd4 0px,#ffffd4 82px,#ffffd0 84px,#ffffd0 97px,#ffffcc 99px,#ffffc8 109px,#ffffc0 114px,#ffffb8 124px,#ffff95 146px,#ffff7d 156px,#ffff46 172px,#ffff2e 177px,#ffff03 183px,#ffdf00 188px,#ff9300 196px,#ff3200 205px,#ff1700 209px,#ff1700 213px,#ff3200 216px,#ff4f00 218px,#fff100 227px,#fffe00 228px,#ffff17 229px,#ffff4a 232px,#ffff81 237px,#ffffa4 243px,#ffffc0 251px,#ffffcc 259px,#ffffd4 275px,#ffffd4 307px)"></i><i style="background:linear-gradient(90deg,#ffffd4 0px,#ffffd4 84px,#ffffd0 86px,#ffffd0 101px,#ffffcc 103px,#ffffc8 113px,#ffffc4 115px,#ffffbc 125px,#ffffb0 133px,#ffffa0 146px,#ffff89 156px,#ffff4a 174px,#ffff2a 179px,#ffff03 184px,#ffda00 189px,#ff8e00 196px,#ff5900 200px,#ff2c00 203px,#ff0800 206px,#ff0000 207px,#f40000 208px,#e70000 211px,#ea0000 213px,#f90000 215px,#ff0800 216px,#ff2700 218px,#ffba00 225px,#fff100 228px,#ffff03 229px,#ffff3a 232px,#ffff5a 234px,#ffff81 238px,#ffff9d 242px,#ffffb0 246px,#ffffb4 248px,#ffffc4 253px,#ffffd0 263px,#ffffd4 289px,#ffffd4 307px)"></i><i style="background:linear-gradient(90deg,#ffffd4 0px,#ffffd4 87px,#ffffd0 89px,#ffffd0 104px,#ffffcc 106px,#ffffc8 117px,#ffffc4 119px,#ffffb8 134px,#ffffac 142px,#ffffa4 149px,#ffff8d 158px,#ffff5e 172px,#ffff3e 178px,#ffff1f 182px,#fffe00 185px,#ffdc00 189px,#ffb000 193px,#ff6b00 198px,#ff0500 204px,#e20000 206px,#ba0000 210px,#b50000 212px,#c00000 214px,#ca0000 215px,#ea0000 217px,#ff0000 218px,#ffba00 226px,#fff400 229px,#ffff07 230px,#ffff42 233px,#ffff75 237px,#ffff95 241px,#ffffbc 250px,#ffffcc 258px,#ffffd4 279px,#ffffd4 307px)"></i><i style="background:linear-gradient(90deg,#ffffd4 0px,#ffffd4 90px,#ffffd0 92px,#ffffd0 108px,#ffffcc 110px,#ffffc8 122px,#ffffc4 124px,#ffffb8 140px,#ffffa4 153px,#ffff81 165px,#ffff69 172px,#ffff46 178px,#ffff1f 183px,#ffff07 185px,#fffc00 186px,#ffbd00 192px,#ff7100 197px,#ff1000 202px,#f70000 203px,#bd0000 206px,#930000 209px,#830000 211px,#860000 213px,#9b0000 215px,#bd0000 217px,#ec0000 219px,#ff0800 220px,#ff9000 225px,#ffe900 229px,#fff900 230px,#ffff0f 231px,#ffff26 232px,#ffff4a 234px,#ffff71 237px,#ffff99 242px,#ffffbc 250px,#ffffcc 258px,#ffffd4 278px,#ffffd4 307px)"></i><i style="background:linear-gradient(90deg,#ffffd4 0px,#ffffd4 93px,#ffffd0 95px,#ffffd0 111px,#ffffcc 113px,#ffffc8 127px,#ffffc4 129px,#ffffbc 142px,#ffffac 152px,#ffff95 162px,#ffff71 172px,#ffff52 178px,#ffff26 183px,#ffff03 186px,#ffef00 188px,#ffb000 193px,#ff6900 197px,#ff1000 201px,#f40000 202px,#c50000 204px,#ad0000 205px,#640000 209px,#570000 210px,#510000 211px,#540000 213px,#5c0000 214px,#7e0000 216px,#ab0000 218px,#e40000 220px,#ff0500 221px,#ff7e00 225px,#ffca00 228px,#fff100 230px,#ffff07 231px,#ffff32 233px,#ffff61 236px,#ffff89 240px,#ffffa4 244px,#ffffbc 250px,#ffffcc 258px,#ffffd4 278px,#ffffd4 307px)"></i><i style="background:linear-gradient(90deg,#ffffd4 0px,#ffffd4 96px,#ffffd0 98px,#ffffd0 115px,#ffffcc 117px,#ffffc8 132px,#ffffc4 134px,#ffffbc 147px,#ffffa0 161px,#ffff81 171px,#ffff5a 178px,#ffff3a 182px,#fffc00 187px,#ffda00 190px,#ff9d00 194px,#ff6100 197px,#fc0000 201px,#8b0000 205px,#470000 208px,#350000 209px,#220000 211px,#250000 213px,#2f0000 214px,#510000 216px,#860000 218px,#e70000 221px,#ff0a00 222px,#ff6b00 225px,#ffa500 227px,#ffe900 230px,#fffc00 231px,#ffff3e 234px,#ffff5e 236px,#ffff81 239px,#ffff99 242px,#ffffbc 250px,#ffffcc 258px,#ffffd4 278px,#ffffd4 307px)"></i><i style="background:linear-gradient(90deg,#ffffd4 0px,#ffffd4 99px,#ffffd0 101px,#ffffd0 120px,#ffffcc 122px,#ffffc8 138px,#ffffc4 140px,#ffffbc 151px,#ffff9d 165px,#ffff81 173px,#ffff5a 179px,#ffff42 182px,#ffff1f 185px,#ffff03 187px,#ffdc00 190px,#ffad00 193px,#ff7100 196px,#ff4100 198px,#ff0800 200px,#ea0000 201px,#8b0000 204px,#370000 207px,#0d0000 209px,#0b0000 214px,#180000 215px,#470000 217px,#860000 219px,#f20000 222px,#ff1700 223px,#ff5e00 225px,#ff9b00 227px,#ffcf00 229px,#fff900 231px,#ffff0f 232px,#ffff4e 235px,#ffff75 238px,#ffff99 242px,#ffffc0 251px,#ffffcc 259px,#ffffd4 275px,#ffffd4 307px)"></i><i style="background:linear-gradient(90deg,#ffffd4 0px,#ffffd4 103px,#ffffd0 105px,#ffffd0 125px,#ffffcc 127px,#ffffc8 143px,#ffffc4 145px,#ffffc0 151px,#ffffa4 165px,#ffff8d 172px,#ffff69 178px,#ffff52 181px,#ffff26 185px,#ffff07 187px,#fff900 188px,#ffcf00 191px,#ff9b00 194px,#ff6e00 196px,#ff3a00 198px,#ff1a00 199px,#f90000 200px,#350000 206px,#180000 207px,#0b0000 208px,#0b0000 215px,#100000 216px,#4c0000 218px,#6e0000 219px,#e20000 222px,#ff0a00 223px,#ff5400 225px,#ffb000 228px,#ffe100 230px,#fff400 231px,#ffff0b 232px,#ffff3a 234px,#ffff69 237px,#ffff91 241px,#ffffa8 245px,#ffffc0 251px,#ffffd0 261px,#ffffd4 290px,#ffffd4 307px)"></i><i style="background:linear-gradient(90deg,#ffffd4 0px,#ffffd4 106px,#ffffd0 108px,#ffffd0 130px,#ffffcc 132px,#ffffc8 147px,#ffffbc 155px,#ffffb8 159px,#ffff9d 169px,#ffff85 175px,#ffff5a 181px,#ffff3a 184px,#fffc00 188px,#ffd400 191px,#ff9d00 194px,#ff6e00 196px,#ff1500 199px,#f20000 200px,#1d0000 206px,#0b0000 207px,#0b0000 216px,#180000 217px,#5f0000 219px,#ff0000 223px,#ff4c00 225px,#ff9000 227px,#ffc700 229px,#fff400 231px,#ffff0b 232px,#ffff3a 234px,#ffff69 237px,#ffff81 239px,#ffffa0 243px,#ffffb8 248px,#ffffcc 258px,#ffffd4 274px,#ffffd4 307px)"></i><i style="background:linear-gradient(90deg,#ffffd4 0px,#ffffd4 110px,#ffffd0 112px,#ffffd0 135px,#ffffcc 137px,#ffffc8 151px,#ffffb4 163px,#ffff99 172px,#ffff7d 177px,#ffff71 179px,#ffff4a 183px,#ffff32 185px,#ffff03 188px,#ffe700 190px,#ffc700 192px,#ff6e00 196px,#ff3200 198px,#ff1000 199px,#ef0000 200px,#320000 205px,#100000 206px,#0b0000 208px,#0b0000 216px,#100000 217px,#590000 219px,#fc0000 223px,#ff4c00 225px,#ff9000 227px,#ffc700 229px,#fff600 231px,#ffff0f 232px,#ffff4e 235px,#ffff79 238px,#ffff95 241px,#ffffb4 247px,#ffffc8 254px,#ffffd0 264px,#ffffd4 282px,#ffffd4 307px)"></i><i style="background:linear-gradient(90deg,#ffffd4 0px,#ffffd4 114px,#ffffd0 116px,#ffffd0 140px,#ffffcc 142px,#ffffcc 149px,#ffffc0 157px,#ffffbc 161px,#ffffa8 169px,#ffff95 174px,#ffff75 179px,#ffff52 183px,#ffff3a 185px,#ffff0b 188px,#fff900 189px,#ffca00 192px,#ff8b00 195px,#ff5400 197px,#ff1200 199px,#ef0000 200px,#2f0000 205px,#0d0000 206px,#0b0000 216px,#120000 217px,#5c0000 219px,#ff0200 223px,#ff7300 226px,#ffcc00 229px,#fff900 231px,#ffff13 232px,#ffff52 235px,#ffff85 239px,#ffff9d 242px,#ffffc0 250px,#ffffcc 258px,#ffffd4 274px,#ffffd4 307px)"></i><i style="background:linear-gradient(90deg,#ffffd4 0px,#ffffd4 118px,#ffffd0 120px,#ffffd0 144px,#ffffcc 146px,#ffffc8 155px,#ffffb8 165px,#ffff99 174px,#ffff81 178px,#ffff56 183px,#ffff32 186px,#fffe00 189px,#ffcf00 192px,#ffa800 194px,#ff7600 196px,#ff3c00 198px,#ff1a00 199px,#f40000 200px,#370000 205px,#150000 206px,#0b0000 207px,#0b0000 216px,#200000 217px,#690000 219px,#e40000 222px,#ff0d00 223px,#ff5900 225px,#ff9b00 227px,#ffd200 229px,#fffe00 231px,#ffff46 234px,#ffff71 237px,#ffff89 239px,#ffffa4 243px,#ffffac 245px,#ffffb4 246px,#ffffcc 256px,#ffffd4 277px,#ffffd4 307px)"></i><i style="background:linear-gradient(90deg,#ffffd4 0px,#ffffd4 122px,#ffffd0 124px,#ffffd0 147px,#ffffcc 149px,#ffffc8 157px,#ffffb0 169px,#ffff99 175px,#ffff79 180px,#ffff52 184px,#ffff36 186px,#ffff07 189px,#fff400 190px,#ffd700 192px,#ffb000 194px,#ff6400 197px,#ff0200 200px,#4a0000 205px,#270000 206px,#0d0000 207px,#0b0000 215px,#1a0000 216px,#5c0000 218px,#f70000 222px,#ff1d00 223px,#ff6600 225px,#ffa500 227px,#ffda00 229px,#fff100 230px,#ffff07 231px,#ffff22 232px,#ffff4a 234px,#ffff75 237px,#ffff8d 239px,#ffffac 244px,#ffffc4 251px,#ffffd0 261px,#ffffd4 285px,#ffffd4 307px)"></i><i style="background:linear-gradient(90deg,#ffffd4 0px,#ffffd4 127px,#ffffd0 129px,#ffffd0 150px,#ffffcc 152px,#ffffc8 159px,#ffffb4 169px,#ffff9d 175px,#ffff7d 180px,#ffff56 184px,#ffff3e 186px,#fffc00 190px,#ffdf00 192px,#ff8b00 196px,#ff5400 198px,#ff1000 200px,#ec0000 201px,#830000 204px,#440000 206px,#150000 208px,#0b0000 209px,#0b0000 213px,#100000 214px,#3f0000 216px,#7b0000 218px,#c20000 220px,#ea0000 221px,#ff1000 222px,#ff7900 225px,#ffb500 227px,#fff900 230px,#ffff13 231px,#ffff42 233px,#ffff71 236px,#ffff99 240px,#ffffc0 249px,#ffffd0 259px,#ffffd4 288px,#ffffd4 307px)"></i><i style="background:linear-gradient(90deg,#ffffd4 0px,#ffffd4 132px,#ffffd0 134px,#ffffd0 152px,#ffffcc 154px,#ffffc8 160px,#ffffb8 168px,#ffffa4 174px,#ffff81 180px,#ffff5e 184px,#ffff46 186px,#ffff07 190px,#fff600 191px,#ffc200 194px,#ff6400 198px,#ff0500 201px,#c20000 203px,#830000 205px,#510000 207px,#320000 209px,#270000 210px,#270000 212px,#2f0000 213px,#510000 215px,#830000 217px,#e40000 220px,#ff0a00 221px,#ff6e00 224px,#ffaa00 226px,#ffdc00 228px,#fff100 229px,#ffff07 230px,#ffff22 231px,#ffff4a 233px,#ffff75 236px,#ffff95 239px,#ffffac 243px,#ffffc4 250px,#ffffd0 260px,#ffffd4 284px,#ffffd4 307px)"></i><i style="background:linear-gradient(90deg,#ffffd4 0px,#ffffd4 136px,#ffffd0 138px,#ffffd0 153px,#ffffcc 155px,#ffffc8 161px,#ffffb8 169px,#ffff99 177px,#ffff75 182px,#ffff56 185px,#ffff32 188px,#fffe00 191px,#ffcf00 194px,#ff9000 197px,#ff0200 202px,#ad0000 205px,#6e0000 208px,#5c0000 210px,#590000 211px,#640000 213px,#830000 215px,#b30000 217px,#ec0000 219px,#ff0d00 220px,#ff8800 224px,#ffd400 227px,#fffe00 229px,#ffff42 232px,#ffff65 234px,#ffff89 237px,#ffffa4 241px,#ffffac 243px,#ffffb4 244px,#ffffcc 254px,#ffffd4 275px,#ffffd4 307px)"></i><i style="background:linear-gradient(90deg,#ffffd4 0px,#ffffd4 139px,#ffffd0 141px,#ffffd0 154px,#ffffcc 156px,#ffffc8 162px,#ffffb8 170px,#ffff95 178px,#ffff71 183px,#ffff52 186px,#ffff3a 188px,#ffff0b 191px,#fff900 192px,#ffdc00 194px,#ffb700 196px,#ff8b00 198px,#ff0800 203px,#ef0000 204px,#c20000 206px,#a30000 208px,#980000 209px,#930000 211px,#9e0000 213px,#ba0000 215px,#e40000 217px,#ff0000 218px,#ffa200 224px,#ffe700 227px,#fff900 228px,#ffff13 229px,#ffff52 232px,#ffff85 236px,#ffff9d 239px,#ffffc0 247px,#ffffcc 255px,#ffffd4 271px,#ffffd4 307px)"></i><i style="background:linear-gradient(90deg,#ffffd4 0px,#ffffd4 142px,#ffffd0 144px,#ffffd0 155px,#ffffcc 157px,#ffffc8 163px,#ffffb0 173px,#ffff8d 180px,#ffff5a 186px,#ffff1b 191px,#ffff07 192px,#fff600 193px,#ffda00 195px,#ff8b00 199px,#ff1a00 204px,#ff0800 205px,#f40000 206px,#e40000 207px,#d20000 209px,#cd0000 211px,#cf0000 212px,#e20000 214px,#ff0200 216px,#ff4400 219px,#ffbd00 224px,#fff900 227px,#ffff0f 228px,#ffff4e 231px,#ffff69 233px,#ffff8d 236px,#ffffb0 242px,#ffffc4 248px,#ffffd0 258px,#ffffd4 284px,#ffffd4 307px)"></i><i style="background:linear-gradient(90deg,#ffffd4 0px,#ffffd4 144px,#ffffd0 146px,#ffffd0 156px,#ffffcc 158px,#ffffc8 164px,#ffffb4 172px,#ffff9d 178px,#ffff7d 183px,#ffff42 189px,#ffff17 192px,#ffff07 193px,#fff600 194px,#ffda00 196px,#ff4400 204px,#ff1a00 207px,#ff0a00 209px,#ff0500 210px,#ff1000 213px,#ff2700 215px,#ff5c00 218px,#ffd700 224px,#fffc00 226px,#ffff4a 230px,#ffff75 233px,#ffff89 235px,#ffffa0 238px,#ffffb8 243px,#ffffcc 253px,#ffffd4 273px,#ffffd4 307px)"></i><i style="background:linear-gradient(90deg,#ffffd4 0px,#ffffd4 145px,#ffffd0 147px,#ffffd0 157px,#ffffc4 165px,#ffffc4 167px,#ffffac 175px,#ffff89 182px,#ffff4e 189px,#ffff36 191px,#ffff07 194px,#fff600 195px,#ffbd00 199px,#ff8b00 202px,#ff5400 206px,#ff3f00 209px,#ff3c00 211px,#ff4f00 214px,#ff7600 217px,#ffef00 224px,#fffe00 225px,#ffff2a 227px,#ffff4e 229px,#ffff81 233px,#ffffa0 237px,#ffffc0 245px,#ffffcc 253px,#ffffd4 269px,#ffffd4 307px)"></i><i style="background:linear-gradient(90deg,#ffffd4 0px,#ffffd4 146px,#ffffd0 148px,#ffffd0 158px,#ffffc4 166px,#ffffb8 172px,#ffff99 180px,#ffff69 187px,#ffff42 191px,#ffff0b 195px,#fff900 196px,#ff9500 204px,#ff7900 207px,#ff6e00 210px,#ff7300 212px,#ff8800 215px,#ffbd00 219px,#fff600 223px,#ffff0b 224px,#ffff42 227px,#ffff75 231px,#ffff89 233px,#ffffa4 237px,#ffffc0 244px,#ffffcc 252px,#ffffd4 268px,#ffffd4 307px)"></i><i style="background:linear-gradient(90deg,#ffffd4 0px,#ffffd4 147px,#ffffd0 149px,#ffffd0 158px,#ffffc4 166px,#ffffc0 170px,#ffffa4 178px,#ffff91 182px,#ffff71 187px,#ffff5a 190px,#ffff1f 195px,#ffff03 197px,#ffc200 203px,#ffa800 206px,#ff9b00 209px,#ffa000 212px,#ffb200 215px,#fff600 221px,#ffff03 222px,#ffff26 224px,#ffff56 227px,#ffff79 230px,#ffffa0 235px,#ffffbc 242px,#ffffcc 250px,#ffffd4 271px,#ffffd4 307px)"></i><i style="background:linear-gradient(90deg,#ffffd4 0px,#ffffd4 147px,#ffffd0 149px,#ffffd0 159px,#ffffc4 167px,#ffffb8 173px,#ffffa0 180px,#ffff79 187px,#ffff52 192px,#ffff0f 198px,#fffe00 199px,#ffca00 206px,#ffc200 210px,#ffcf00 214px,#fff900 219px,#ffff07 220px,#ffff42 224px,#ffff85 230px,#ffffa0 234px,#ffffbc 241px,#ffffcc 249px,#ffffd4 272px,#ffffd4 307px)"></i><i style="background:linear-gradient(90deg,#ffffd4 0px,#ffffd4 148px,#ffffd0 150px,#ffffd0 159px,#ffffcc 161px,#ffffc8 167px,#ffffb4 175px,#ffff91 184px,#ffff6d 190px,#ffff4e 194px,#ffff07 201px,#fffe00 202px,#fff100 204px,#ffe400 208px,#ffe700 212px,#fffc00 216px,#ffff13 218px,#ffff5a 224px,#ffff7d 228px,#ffff89 229px,#ffffac 235px,#ffffc4 243px,#ffffcc 250px,#ffffd4 266px,#ffffd4 307px)"></i><i style="background:linear-gradient(90deg,#ffffd4 0px,#ffffd4 148px,#ffffd0 150px,#ffffd0 160px,#ffffc4 168px,#ffffb4 176px,#ffff8d 186px,#ffff69 192px,#ffff2a 200px,#ffff0b 205px,#ffff03 207px,#ffff03 211px,#ffff0b 213px,#ffff3a 219px,#ffff75 225px,#ffff99 230px,#ffffb8 237px,#ffffcc 247px,#ffffd4 270px,#ffffd4 307px)"></i><i style="background:linear-gradient(90deg,#ffffd4 0px,#ffffd4 149px,#ffffd0 151px,#ffffd0 160px,#ffffcc 162px,#ffffc8 168px,#ffffb0 178px,#ffff85 189px,#ffff32 203px,#ffff26 206px,#ffff26 211px,#ffff3e 216px,#ffff7d 224px,#ffff9d 229px,#ffffc0 239px,#ffffcc 247px,#ffffd4 268px,#ffffd4 307px)"></i><i style="background:linear-gradient(90deg,#ffffd4 0px,#ffffd4 149px,#ffffd0 151px,#ffffd0 161px,#ffffc4 169px,#ffffc0 173px,#ffffac 180px,#ffff89 190px,#ffff6d 195px,#ffff46 204px,#ffff42 209px,#ffff4a 213px,#ffff69 219px,#ffff91 225px,#ffffb0 232px,#ffffc8 242px,#ffffd0 253px,#ffffd4 274px,#ffffd4 307px)"></i><i style="background:linear-gradient(90deg,#ffffd4 0px,#ffffd4 150px,#ffffd0 152px,#ffffd0 161px,#ffffcc 163px,#ffffc8 169px,#ffffb4 179px,#ffff81 194px,#ffff75 196px,#ffff5a 205px,#ffff5a 210px,#ffff6d 216px,#ffff95 224px,#ffffb8 233px,#ffffcc 244px,#ffffd4 267px,#ffffd4 307px)"></i></div>
<div class="h" style="left:922px"><i style="background:linear-gradient(90deg,#1a0000 0px,#1a0000 150px,#1a0000 300px,#1a0000 307px)"></i><i style="background:linear-gradient(90deg,#1a0000 0px,#1a0000 150px,#1a0000 300px,#1a0000 307px)"></i><i style="background:linear-gradient(90deg,#1a0000 0px,#1a0000 150px,#1a0000 300px,#1a0000 307px)"></i><i style="background:linear-gradient(90deg,#1a0000 0px,#1a0000 150px,#1a0000 300px,#1a0000 307px)"></i><i style="background:linear-gradient(90deg,#1a0000 0px,#1a0000 150px,#1a0000 300px,#1a0000 307px)"></i><i style="background:linear-gradient(90deg,#1a0000 0px,#1a0000 150px,#1a0000 300px,#1a0000 307px)"></i><i style="background:linear-gradient(90deg,#1a0000 0px,#1a0000 150px,#1a0000 300px,#1a0000 307px)"></i><i style="background:linear-gradient(90deg,#1a0000 0px,#1a0000 150px,#1a0000 300px,#1a0000 307px)"></i><i style="background:linear-gradient(90deg,#1a0000 0px,#1a0000 150px,#1a0000 300px,#1a0000 307px)"></i><i style="background:linear-gradient(90deg,#1a0000 0px,#1a0000 150px,#1a0000 300px,#1a0000 307px)"></i><i style="background:linear-gradient(90deg,#1a0000 0px,#1a0000 150px,#1a0000 300px,#1a0000 307px)"></i><i style="background:linear-gradient(90deg,#1a0000 0px,#1a0000 150px,#1a0000 300px,#1a0000 307px)"></i><i style="background:linear-gradient(90deg,#1a0000 0px,#1a0000 150px,#1a0000 300px,#1a0000 307px)"></i><i style="background:linear-gradient(90deg,#1a0000 0px,#1a0000 150px,#1a0000 300px,#1a0000 307px)"></i><i style="background:linear-gradient(90deg,#1a0000 0px,#1a0000 150px,#1a0000 300px,#1a0000 307px)"></i><i style="background:linear-gradient(90deg,#1a0000 0px,#1a0000 150px,#1a0000 300px,#1a0000 307px)"></i><i style="background:linear-gradient(90deg,#1a0000 0px,#1a0000 150px,#1a0000 300px,#1a0000 307px)"></i><i style="background:linear-gradient(90deg,#1a0000 0px,#1a0000 150px,#1a0000 300px,#1a0000 307px)"></i><i style="background:linear-gradient(90deg,#1a0000 0px,#1a0000 150px,#1d0000 195px,#1a0000 201px,#1a0000 307px)"></i><i style="background:linear-gradient(90deg,#1a0000 0px,#1a0000 149px,#1d0000 155px,#1a0000 305px,#1a0000 307px)"></i><i style="background:linear-gradient(90deg,#1a0000 0px,#1a0000 142px,#1d0000 148px,#1a0000 298px,#1a0000 307px)"></i><i style="background:linear-gradient(90deg,#1a0000 0px,#1a0000 138px,#1d0000 144px,#1a0000 294px,#1a0000 307px)"></i><i style="background:linear-gradient(90deg,#1a0000 0px,#1a0000 134px,#1d0000 140px,#200000 186px,#1d0000 192px,#1a0000 307px)"></i><i style="background:linear-gradient(90deg,#1a0000 0px,#1a0000 131px,#1d0000 137px,#200000 205px,#1d0000 211px,#1a0000 307px)"></i><i style="background:linear-gradient(90deg,#1a0000 0px,#1a0000 128px,#1d0000 134px,#200000 213px,#1d0000 219px,#1a0000 307px)"></i><i style="background:linear-gradient(90deg,#1a0000 0px,#1a0000 126px,#1d0000 132px,#220000 190px,#1a0000 261px,#1a0000 307px)"></i><i style="background:linear-gradient(90deg,#1a0000 0px,#1a0000 125px,#1d0000 131px,#250000 187px,#1a0000 258px,#1a0000 307px)"></i><i style="background:linear-gradient(90deg,#1a0000 0px,#1a0000 124px,#1d0000 130px,#270000 182px,#1a0000 258px,#1a0000 307px)"></i><i style="background:linear-gradient(90deg,#1a0000 0px,#1a0000 122px,#1d0000 128px,#2a0000 185px,#270000 191px,#220000 222px,#1a0000 250px,#1a0000 307px)"></i><i style="background:linear-gradient(90deg,#1a0000 0px,#1a0000 122px,#200000 134px,#2d0000 187px,#1a0000 253px,#1a0000 307px)"></i><i style="background:linear-gradient(90deg,#1a0000 0px,#1a0000 121px,#200000 133px,#2f0000 180px,#2a0000 212px,#1d0000 238px,#1a0000 307px)"></i><i style="background:linear-gradient(90deg,#1a0000 0px,#1a0000 120px,#200000 132px,#320000 180px,#2f0000 206px,#1d0000 242px,#1a0000 302px,#1a0000 307px)"></i><i style="background:linear-gradient(90deg,#1a0000 0px,#1a0000 120px,#320000 168px,#350000 202px,#1d0000 242px,#1a0000 307px)"></i><i style="background:linear-gradient(90deg,#1a0000 0px,#1a0000 119px,#3a0000 183px,#370000 206px,#200000 238px,#1a0000 268px,#1a0000 307px)"></i><i style="background:linear-gradient(90deg,#1a0000 0px,#1a0000 119px,#3c0000 180px,#3c0000 191px,#3f0000 193px,#350000 213px,#200000 240px,#1a0000 270px,#1a0000 307px)"></i><i style="background:linear-gradient(90deg,#1a0000 0px,#1a0000 119px,#420000 185px,#3f0000 207px,#220000 238px,#1a0000 266px,#1a0000 307px)"></i><i style="background:linear-gradient(90deg,#1a0000 0px,#1a0000 119px,#440000 183px,#470000 201px,#3a0000 218px,#220000 239px,#1a0000 269px,#1a0000 307px)"></i><i style="background:linear-gradient(90deg,#1a0000 0px,#1a0000 119px,#2f0000 151px,#4a0000 187px,#4a0000 206px,#220000 241px,#1a0000 271px,#1a0000 307px)"></i><i style="background:linear-gradient(90deg,#1a0000 0px,#1a0000 119px,#370000 161px,#4c0000 185px,#4f0000 206px,#3f0000 221px,#270000 238px,#1d0000 256px,#1a0000 298px,#1a0000 307px)"></i><i style="background:linear-gradient(90deg,#1a0000 0px,#1a0000 119px,#2f0000 150px,#4f0000 186px,#540000 200px,#4f0000 213px,#270000 239px,#1a0000 265px,#1a0000 307px)"></i><i style="background:linear-gradient(90deg,#1a0000 0px,#1a0000 119px,#2f0000 150px,#570000 193px,#570000 210px,#270000 242px,#1d0000 258px,#1a0000 300px,#1a0000 307px)"></i><i style="background:linear-gradient(90deg,#1a0000 0px,#1a0000 119px,#2f0000 150px,#5c0000 196px,#5f0000 206px,#4f0000 220px,#2f0000 237px,#200000 252px,#1a0000 277px,#1a0000 307px)"></i><i style="background:linear-gradient(90deg,#1a0000 0px,#1a0000 120px,#370000 160px,#610000 198px,#5f0000 213px,#470000 227px,#2a0000 242px,#1d0000 260px,#1a0000 307px)"></i><i style="background:linear-gradient(90deg,#1a0000 0px,#1a0000 120px,#2f0000 151px,#470000 175px,#640000 198px,#640000 213px,#4c0000 227px,#320000 239px,#220000 252px,#1a0000 274px,#1a0000 307px)"></i><i style="background:linear-gradient(90deg,#1a0000 0px,#1a0000 120px,#370000 162px,#690000 202px,#6c0000 209px,#5c0000 222px,#2f0000 242px,#200000 257px,#1a0000 277px,#1a0000 307px)"></i><i style="background:linear-gradient(90deg,#1a0000 0px,#1a0000 121px,#370000 163px,#690000 200px,#6e0000 210px,#690000 217px,#4f0000 230px,#350000 241px,#220000 254px,#1a0000 277px,#1a0000 307px)"></i><i style="background:linear-gradient(90deg,#1a0000 0px,#1a0000 121px,#320000 159px,#470000 178px,#6c0000 201px,#710000 209px,#6e0000 217px,#5c0000 227px,#320000 244px,#200000 258px,#1a0000 280px,#1a0000 307px)"></i><i style="background:linear-gradient(90deg,#1a0000 0px,#1a0000 122px,#370000 167px,#590000 190px,#6e0000 202px,#760000 211px,#710000 219px,#570000 231px,#2f0000 247px,#200000 260px,#1a0000 280px,#1a0000 307px)"></i><i style="background:linear-gradient(90deg,#1a0000 0px,#1a0000 122px,#320000 163px,#4c0000 184px,#740000 205px,#790000 215px,#710000 222px,#2d0000 250px,#1d0000 265px,#1a0000 307px)"></i><i style="background:linear-gradient(90deg,#1a0000 0px,#1a0000 123px,#2f0000 163px,#4a0000 184px,#760000 206px,#7b0000 216px,#710000 225px,#3a0000 245px,#220000 259px,#1a0000 279px,#1a0000 307px)"></i><i style="background:linear-gradient(90deg,#1a0000 0px,#1a0000 123px,#2f0000 165px,#470000 184px,#790000 208px,#7e0000 216px,#790000 223px,#570000 237px,#4c0000 240px,#2a0000 254px,#1d0000 268px,#1a0000 304px,#1a0000 307px)"></i><i style="background:linear-gradient(90deg,#1a0000 0px,#1a0000 124px,#250000 146px,#2a0000 161px,#3f0000 181px,#610000 198px,#790000 208px,#810000 216px,#7e0000 223px,#710000 230px,#370000 249px,#220000 261px,#1a0000 280px,#1a0000 307px)"></i><i style="background:linear-gradient(90deg,#1a0000 0px,#1a0000 125px,#200000 137px,#2a0000 164px,#3c0000 181px,#610000 199px,#7e0000 211px,#830000 219px,#7e0000 226px,#6e0000 233px,#370000 251px,#250000 260px,#1a0000 276px,#1a0000 307px)"></i><i style="background:linear-gradient(90deg,#1a0000 0px,#1a0000 126px,#200000 138px,#270000 163px,#3a0000 182px,#590000 197px,#810000 213px,#860000 221px,#810000 227px,#6e0000 235px,#370000 252px,#250000 261px,#1a0000 277px,#1a0000 307px)"></i><i style="background:linear-gradient(90deg,#1a0000 0px,#1a0000 127px,#200000 139px,#270000 166px,#370000 182px,#4c0000 193px,#810000 213px,#890000 221px,#860000 227px,#6e0000 237px,#370000 253px,#250000 262px,#1a0000 278px,#1a0000 307px)"></i><i style="background:linear-gradient(90deg,#1a0000 0px,#1a0000 128px,#1d0000 134px,#270000 169px,#3a0000 186px,#5c0000 201px,#860000 216px,#8b0000 224px,#860000 230px,#660000 241px,#350000 255px,#220000 264px,#1a0000 282px,#1a0000 307px)"></i><i style="background:linear-gradient(90deg,#1a0000 0px,#1a0000 129px,#1d0000 135px,#250000 168px,#320000 183px,#470000 194px,#890000 218px,#8e0000 224px,#8b0000 230px,#7e0000 236px,#370000 255px,#220000 265px,#1a0000 282px,#1a0000 307px)"></i><i style="background:linear-gradient(90deg,#1a0000 0px,#1a0000 130px,#1d0000 136px,#220000 167px,#320000 185px,#4c0000 198px,#890000 218px,#900000 225px,#8e0000 231px,#7b0000 239px,#3f0000 254px,#2a0000 261px,#1d0000 272px,#1a0000 307px)"></i><i style="background:linear-gradient(90deg,#1a0000 0px,#1a0000 132px,#1d0000 138px,#220000 170px,#2f0000 185px,#4a0000 199px,#890000 219px,#960000 227px,#8b0000 235px,#760000 242px,#370000 257px,#220000 267px,#1a0000 283px,#1a0000 307px)"></i><i style="background:linear-gradient(90deg,#1a0000 0px,#1a0000 134px,#1d0000 140px,#220000 173px,#320000 189px,#440000 198px,#6c0000 211px,#890000 219px,#980000 227px,#930000 235px,#7e0000 242px,#3f0000 256px,#270000 264px,#1a0000 279px,#1a0000 307px)"></i><i style="background:linear-gradient(90deg,#1a0000 0px,#1a0000 136px,#1d0000 142px,#200000 170px,#2d0000 188px,#440000 200px,#6c0000 212px,#8e0000 221px,#9b0000 229px,#980000 235px,#810000 243px,#420000 256px,#250000 266px,#1a0000 280px,#1a0000 307px)"></i><i style="background:linear-gradient(90deg,#1a0000 0px,#1a0000 139px,#1d0000 145px,#200000 173px,#2d0000 190px,#3f0000 199px,#5c0000 209px,#8b0000 221px,#9e0000 229px,#9e0000 235px,#930000 240px,#6e0000 248px,#3a0000 259px,#220000 269px,#1a0000 285px,#1a0000 307px)"></i><i style="background:linear-gradient(90deg,#1a0000 0px,#1a0000 143px,#1d0000 149px,#200000 176px,#2d0000 192px,#3f0000 201px,#5c0000 210px,#900000 223px,#a30000 231px,#a00000 237px,#8e0000 243px,#420000 258px,#270000 266px,#1d0000 276px,#1a0000 300px,#1a0000 307px)"></i><i style="background:linear-gradient(90deg,#1a0000 0px,#1a0000 147px,#1d0000 153px,#200000 179px,#2f0000 195px,#4c0000 207px,#960000 225px,#a80000 233px,#a30000 239px,#890000 246px,#4f0000 256px,#320000 263px,#220000 270px,#1a0000 284px,#1a0000 307px)"></i><i style="background:linear-gradient(90deg,#1a0000 0px,#1a0000 150px,#220000 185px,#320000 198px,#420000 205px,#640000 214px,#960000 225px,#ab0000 233px,#ab0000 238px,#9e0000 243px,#3f0000 260px,#220000 270px,#1a0000 286px,#1a0000 307px)"></i><i style="background:linear-gradient(90deg,#1a0000 0px,#1a0000 150px,#200000 183px,#2a0000 195px,#3f0000 205px,#570000 212px,#a00000 228px,#b00000 235px,#ad0000 240px,#a00000 244px,#790000 251px,#4f0000 258px,#320000 264px,#220000 271px,#1a0000 285px,#1a0000 307px)"></i><i style="background:linear-gradient(90deg,#1a0000 0px,#1a0000 150px,#200000 186px,#2d0000 199px,#3a0000 205px,#640000 216px,#a00000 228px,#b50000 235px,#b30000 241px,#980000 247px,#470000 260px,#350000 264px,#220000 272px,#1a0000 284px,#1a0000 307px)"></i><i style="background:linear-gradient(90deg,#1a0000 0px,#1a0000 150px,#1d0000 182px,#270000 197px,#3f0000 208px,#740000 220px,#b00000 232px,#ba0000 237px,#b80000 241px,#ab0000 245px,#860000 251px,#510000 259px,#2f0000 266px,#200000 274px,#1a0000 287px,#1a0000 307px)"></i><i style="background:linear-gradient(90deg,#1a0000 0px,#1a0000 150px,#1d0000 184px,#2a0000 200px,#3f0000 209px,#660000 218px,#ad0000 231px,#c00000 237px,#bd0000 242px,#ad0000 246px,#710000 255px,#4f0000 260px,#320000 266px,#200000 274px,#1a0000 287px,#1a0000 307px)"></i><i style="background:linear-gradient(90deg,#1a0000 0px,#1a0000 150px,#1d0000 186px,#270000 200px,#3f0000 210px,#6c0000 220px,#ad0000 231px,#c20000 237px,#c50000 241px,#b00000 247px,#860000 253px,#590000 259px,#3c0000 264px,#250000 271px,#1a0000 283px,#1a0000 307px)"></i><i style="background:linear-gradient(90deg,#1a0000 0px,#1a0000 150px,#1d0000 188px,#270000 201px,#420000 212px,#790000 223px,#b00000 232px,#c20000 236px,#ca0000 240px,#c00000 245px,#a30000 250px,#570000 260px,#3a0000 265px,#220000 273px,#1a0000 287px,#1a0000 307px)"></i><i style="background:linear-gradient(90deg,#1a0000 0px,#1a0000 150px,#1d0000 190px,#2a0000 204px,#3f0000 212px,#640000 220px,#960000 228px,#bd0000 234px,#cf0000 240px,#c80000 245px,#ab0000 250px,#540000 261px,#3c0000 265px,#250000 272px,#1a0000 284px,#1a0000 307px)"></i><i style="background:linear-gradient(90deg,#1a0000 0px,#1a0000 150px,#1d0000 192px,#270000 204px,#3c0000 212px,#5f0000 220px,#c80000 236px,#d20000 241px,#cd0000 245px,#c00000 248px,#930000 254px,#510000 262px,#2f0000 269px,#200000 276px,#1a0000 288px,#1a0000 307px)"></i><i style="background:linear-gradient(90deg,#1a0000 0px,#1a0000 150px,#1d0000 194px,#270000 205px,#3c0000 213px,#570000 219px,#740000 224px,#c20000 235px,#d50000 239px,#d50000 244px,#c00000 249px,#ab0000 252px,#660000 260px,#4a0000 264px,#2d0000 270px,#200000 276px,#1a0000 289px,#1a0000 307px)"></i><i style="background:linear-gradient(90deg,#1a0000 0px,#1a0000 150px,#1d0000 195px,#270000 206px,#3c0000 214px,#5c0000 221px,#860000 227px,#c20000 235px,#da0000 240px,#dd0000 243px,#d20000 247px,#c00000 250px,#6c0000 260px,#610000 261px,#3c0000 267px,#270000 272px,#1a0000 284px,#1a0000 307px)"></i><i style="background:linear-gradient(90deg,#1a0000 0px,#1a0000 150px,#1d0000 197px,#2d0000 210px,#440000 217px,#6c0000 224px,#c80000 236px,#dd0000 240px,#dd0000 246px,#c00000 251px,#570000 263px,#2f0000 270px,#200000 277px,#1a0000 289px,#1a0000 307px)"></i><i style="background:linear-gradient(90deg,#1a0000 0px,#1a0000 150px,#1d0000 198px,#2a0000 209px,#2f0000 212px,#4a0000 219px,#6e0000 225px,#c80000 236px,#dd0000 240px,#e20000 242px,#e20000 246px,#d50000 249px,#c00000 252px,#640000 262px,#470000 266px,#320000 270px,#250000 274px,#1a0000 286px,#1a0000 307px)"></i><i style="background:linear-gradient(90deg,#1a0000 0px,#1a0000 150px,#1d0000 199px,#2a0000 210px,#420000 218px,#640000 224px,#d50000 238px,#e40000 242px,#e70000 246px,#d50000 250px,#ab0000 255px,#5f0000 263px,#370000 269px,#220000 276px,#1a0000 288px,#1a0000 307px)"></i><i style="background:linear-gradient(90deg,#1a0000 0px,#1a0000 150px,#1a0000 192px,#250000 208px,#370000 216px,#4c0000 221px,#760000 227px,#cd0000 237px,#e40000 241px,#ec0000 245px,#df0000 249px,#cd0000 252px,#810000 260px,#5c0000 264px,#3a0000 269px,#250000 275px,#1a0000 285px,#1a0000 307px)"></i><i style="background:linear-gradient(90deg,#1a0000 0px,#1a0000 150px,#1a0000 193px,#250000 209px,#370000 217px,#540000 223px,#830000 229px,#d20000 238px,#ea0000 242px,#ef0000 246px,#e40000 249px,#d20000 252px,#a50000 257px,#5f0000 264px,#3c0000 269px,#250000 275px,#1a0000 287px,#1a0000 307px)"></i><i style="background:linear-gradient(90deg,#1a0000 0px,#1a0000 150px,#1a0000 195px,#220000 208px,#2f0000 215px,#420000 220px,#5f0000 225px,#900000 231px,#c00000 236px,#e40000 241px,#f20000 245px,#ef0000 248px,#da0000 252px,#ab0000 257px,#640000 264px,#3f0000 269px,#2d0000 273px,#200000 279px,#1a0000 289px,#1a0000 307px)"></i><i style="background:linear-gradient(90deg,#1a0000 0px,#1a0000 150px,#1a0000 196px,#220000 209px,#2f0000 216px,#4a0000 222px,#690000 227px,#d70000 239px,#ef0000 243px,#f40000 247px,#e70000 251px,#b30000 257px,#710000 263px,#470000 268px,#2a0000 274px,#1d0000 281px,#1a0000 307px)"></i><i style="background:linear-gradient(90deg,#1a0000 0px,#1a0000 150px,#1a0000 197px,#220000 210px,#2f0000 217px,#4a0000 223px,#7e0000 230px,#d50000 239px,#ef0000 243px,#f70000 245px,#f40000 249px,#ec0000 251px,#cd0000 255px,#760000 263px,#510000 267px,#270000 275px,#1d0000 283px,#1a0000 301px,#1a0000 307px)"></i><i style="background:linear-gradient(90deg,#1a0000 0px,#1a0000 150px,#1a0000 198px,#250000 213px,#3c0000 221px,#610000 227px,#8e0000 232px,#da0000 240px,#ef0000 243px,#f90000 246px,#f90000 249px,#f20000 251px,#dd0000 254px,#9e0000 260px,#710000 264px,#470000 269px,#320000 273px,#200000 279px,#1a0000 291px,#1a0000 307px)"></i><i style="background:linear-gradient(90deg,#1a0000 0px,#1a0000 150px,#1a0000 199px,#250000 214px,#3a0000 221px,#570000 226px,#890000 232px,#cf0000 239px,#f40000 244px,#fc0000 246px,#f90000 250px,#e20000 254px,#8e0000 262px,#6c0000 265px,#420000 270px,#270000 276px,#1a0000 286px,#1a0000 307px)"></i><i style="background:linear-gradient(90deg,#1a0000 0px,#1a0000 150px,#1a0000 200px,#220000 213px,#2f0000 219px,#510000 226px,#830000 232px,#d50000 240px,#f40000 244px,#ff0000 247px,#fc0000 250px,#ef0000 253px,#cd0000 257px,#660000 266px,#440000 270px,#270000 276px,#1d0000 284px,#1a0000 302px,#1a0000 307px)"></i><i style="background:linear-gradient(90deg,#1a0000 0px,#1a0000 150px,#1a0000 201px,#250000 215px,#3a0000 222px,#5c0000 228px,#a80000 236px,#e40000 242px,#f90000 245px,#ff0200 248px,#ff0000 251px,#ef0000 254px,#bd0000 259px,#610000 267px,#470000 270px,#2d0000 275px,#1d0000 282px,#1a0000 307px)"></i><i style="background:linear-gradient(90deg,#1a0000 0px,#1a0000 150px,#1a0000 202px,#250000 216px,#370000 222px,#440000 225px,#710000 231px,#e20000 242px,#f70000 245px,#ff0200 247px,#ff0500 250px,#ff0000 252px,#ec0000 255px,#da0000 257px,#710000 266px,#4c0000 270px,#370000 273px,#220000 279px,#1a0000 290px,#1a0000 307px)"></i><i style="background:linear-gradient(90deg,#1a0000 0px,#1a0000 150px,#1a0000 203px,#220000 215px,#2d0000 220px,#470000 226px,#640000 230px,#930000 235px,#df0000 242px,#fc0000 246px,#ff0800 250px,#ff0500 252px,#ff0000 253px,#ea0000 256px,#a50000 262px,#690000 267px,#3f0000 272px,#270000 277px,#1a0000 287px,#1a0000 307px)"></i><i style="background:linear-gradient(90deg,#1a0000 0px,#1a0000 150px,#1a0000 204px,#220000 215px,#320000 222px,#440000 226px,#710000 232px,#d20000 241px,#f70000 245px,#ff0200 247px,#ff0a00 249px,#ff0500 253px,#ff0000 254px,#dd0000 258px,#790000 266px,#510000 270px,#370000 274px,#270000 278px,#1d0000 284px,#1a0000 302px,#1a0000 307px)"></i><i style="background:linear-gradient(90deg,#1a0000 0px,#1a0000 150px,#1a0000 205px,#250000 218px,#370000 224px,#5c0000 230px,#810000 234px,#ec0000 244px,#fc0000 246px,#ff0d00 249px,#ff0a00 253px,#fc0000 255px,#d70000 259px,#740000 267px,#4c0000 271px,#320000 275px,#200000 281px,#1a0000 293px,#1a0000 307px)"></i><i style="background:linear-gradient(90deg,#1a0000 0px,#1a0000 150px,#1a0000 206px,#250000 218px,#3a0000 225px,#5f0000 231px,#a50000 238px,#ea0000 244px,#fc0000 246px,#ff1000 250px,#ff0d00 253px,#fc0000 256px,#ea0000 258px,#6c0000 268px,#3f0000 273px,#270000 278px,#1a0000 288px,#1a0000 307px)"></i><i style="background:linear-gradient(90deg,#1a0000 0px,#1a0000 150px,#1a0000 206px,#220000 217px,#2f0000 223px,#4c0000 229px,#760000 234px,#f20000 245px,#ff0200 247px,#ff0d00 249px,#ff1500 251px,#ff1000 254px,#ff0200 256px,#ef0000 258px,#b30000 263px,#890000 266px,#510000 271px,#370000 275px,#250000 279px,#1a0000 289px,#1a0000 307px)"></i><i style="background:linear-gradient(90deg,#1a0000 0px,#1a0000 150px,#1a0000 207px,#250000 219px,#2a0000 222px,#440000 228px,#5f0000 232px,#900000 237px,#ef0000 245px,#ff0200 247px,#ff1000 249px,#ff1700 252px,#ff1000 255px,#ff0000 257px,#ec0000 259px,#760000 268px,#4c0000 272px,#2d0000 277px,#1d0000 284px,#1a0000 307px)"></i><i style="background:linear-gradient(90deg,#1a0000 0px,#1a0000 150px,#1a0000 208px,#250000 220px,#370000 226px,#540000 231px,#810000 236px,#ec0000 245px,#ff0000 247px,#ff1500 250px,#ff1a00 253px,#ff1500 255px,#fc0000 258px,#cd0000 262px,#6e0000 269px,#470000 273px,#2a0000 278px,#1d0000 284px,#1a0000 307px)"></i><i style="background:linear-gradient(90deg,#1a0000 0px,#1a0000 150px,#1a0000 208px,#250000 221px,#3a0000 227px,#5f0000 233px,#7b0000 236px,#f40000 246px,#ff0000 247px,#ff1500 250px,#ff1d00 252px,#ff1a00 255px,#ff0500 258px,#ef0000 260px,#740000 269px,#5c0000 271px,#3c0000 275px,#270000 279px,#1a0000 289px,#1a0000 307px)"></i><i style="background:linear-gradient(90deg,#1a0000 0px,#1a0000 150px,#1a0000 209px,#250000 221px,#3a0000 228px,#5c0000 233px,#8e0000 238px,#f20000 246px,#fc0000 247px,#ff1d00 251px,#ff2200 254px,#ff1500 257px,#ff0200 259px,#ea0000 261px,#790000 269px,#4c0000 273px,#370000 276px,#270000 280px,#1d0000 286px,#1a0000 304px,#1a0000 307px)"></i><i style="background:linear-gradient(90deg,#1a0000 0px,#1a0000 150px,#1a0000 210px,#250000 222px,#2f0000 226px,#3c0000 229px,#690000 235px,#960000 239px,#fc0000 247px,#ff1d00 251px,#ff2500 253px,#ff2500 255px,#ff0a00 259px,#ff0000 260px,#710000 270px,#590000 272px,#3f0000 275px,#2a0000 279px,#1d0000 285px,#1a0000 307px)"></i><i style="background:linear-gradient(90deg,#1a0000 0px,#1a0000 150px,#1a0000 210px,#250000 222px,#3a0000 229px,#5c0000 234px,#790000 237px,#df0000 245px,#f90000 247px,#ff0500 248px,#ff1f00 251px,#ff2a00 254px,#ff2700 256px,#ff1200 259px,#ff0800 260px,#f90000 261px,#830000 269px,#540000 273px,#3a0000 276px,#270000 280px,#1d0000 286px,#1a0000 304px,#1a0000 307px)"></i><i style="background:linear-gradient(90deg,#1a0000 0px,#1a0000 150px,#1a0000 211px,#250000 223px,#2f0000 227px,#3c0000 230px,#610000 235px,#a50000 241px,#f70000 247px,#ff0500 248px,#ff2200 251px,#ff2f00 254px,#ff2c00 256px,#ff2200 258px,#ff1000 260px,#ff0200 261px,#e40000 263px,#890000 269px,#570000 273px,#3c0000 276px,#270000 280px,#1d0000 286px,#1a0000 304px,#1a0000 307px)"></i><i style="background:linear-gradient(90deg,#1a0000 0px,#1a0000 150px,#1a0000 212px,#270000 225px,#420000 231px,#660000 236px,#890000 239px,#e70000 246px,#f70000 247px,#ff0200 248px,#ff1a00 250px,#ff2f00 253px,#ff3400 255px,#ff2f00 257px,#ff0a00 261px,#fc0000 262px,#710000 271px,#4f0000 274px,#320000 278px,#220000 282px,#1a0000 292px,#1a0000 307px)"></i><i style="background:linear-gradient(90deg,#1a0000 0px,#1a0000 150px,#1a0000 212px,#250000 224px,#2f0000 228px,#510000 234px,#900000 240px,#f40000 247px,#ff0200 248px,#ff2500 251px,#ff3a00 255px,#ff2f00 258px,#ff1200 261px,#ff0500 262px,#e40000 264px,#830000 270px,#510000 274px,#350000 278px,#270000 281px,#1d0000 287px,#1a0000 305px,#1a0000 307px)"></i><i style="background:linear-gradient(90deg,#1a0000 0px,#1a0000 150px,#1a0000 213px,#220000 223px,#2a0000 227px,#470000 233px,#740000 238px,#c50000 244px,#ff0200 248px,#ff2700 251px,#ff3c00 254px,#ff3f00 256px,#ff3700 258px,#ff1a00 261px,#fc0000 263px,#790000 271px,#540000 274px,#3a0000 277px,#270000 281px,#1d0000 287px,#1a0000 305px,#1a0000 307px)"></i><i style="background:linear-gradient(90deg,#1a0000 0px,#1a0000 150px,#1a0000 213px,#250000 225px,#2f0000 229px,#4c0000 234px,#710000 238px,#960000 241px,#ff0000 248px,#ff1d00 250px,#ff3a00 253px,#ff4400 256px,#ff3700 259px,#ff1500 262px,#ff0500 263px,#e40000 265px,#7e0000 271px,#570000 274px,#3c0000 277px,#270000 281px,#1d0000 287px,#1a0000 305px,#1a0000 307px)"></i><i style="background:linear-gradient(90deg,#1a0000 0px,#1a0000 150px,#1a0000 214px,#220000 224px,#270000 227px,#420000 233px,#640000 237px,#930000 241px,#ff0000 248px,#ff2a00 251px,#ff3c00 253px,#ff4900 256px,#ff4400 258px,#ff2a00 261px,#fc0000 264px,#930000 270px,#660000 273px,#470000 276px,#320000 279px,#250000 282px,#1a0000 290px,#1a0000 307px)"></i><i style="background:linear-gradient(90deg,#1a0000 0px,#1a0000 150px,#1a0000 215px,#250000 226px,#3a0000 232px,#5f0000 237px,#8e0000 241px,#fc0000 248px,#ff2a00 251px,#ff4700 254px,#ff4c00 256px,#ff4900 258px,#ff3c00 260px,#ff2500 262px,#ff0500 264px,#f20000 265px,#980000 270px,#5f0000 274px,#510000 275px,#320000 279px,#220000 283px,#1a0000 292px,#1a0000 307px)"></i><i style="background:linear-gradient(90deg,#1a0000 0px,#1a0000 150px,#1a0000 215px,#220000 225px,#370000 232px,#5c0000 237px,#8b0000 241px,#ca0000 245px,#fc0000 248px,#ff3700 252px,#ff4f00 255px,#ff4f00 258px,#ff3700 261px,#ff1d00 263px,#ff0a00 264px,#f90000 265px,#ad0000 269px,#7b0000 272px,#540000 275px,#3a0000 278px,#270000 282px,#1a0000 290px,#1a0000 307px)"></i><i style="background:linear-gradient(90deg,#1a0000 0px,#1a0000 150px,#1a0000 216px,#250000 227px,#370000 232px,#510000 236px,#7b0000 240px,#b50000 244px,#f90000 248px,#ff0d00 249px,#ff3700 252px,#ff4c00 254px,#ff5600 256px,#ff5400 258px,#ff3f00 261px,#ff1200 264px,#ff0000 265px,#900000 271px,#570000 275px,#350000 279px,#270000 282px,#1a0000 290px,#1a0000 307px)"></i><i style="background:linear-gradient(90deg,#1a0000 0px,#1a0000 150px,#1a0000 216px,#220000 226px,#2f0000 231px,#470000 235px,#6c0000 239px,#a30000 243px,#f90000 248px,#ff0a00 249px,#ff3700 252px,#ff4c00 254px,#ff5900 256px,#ff5c00 257px,#ff4f00 260px,#ff2a00 263px,#ff0800 265px,#f40000 266px,#960000 271px,#660000 274px,#3c0000 278px,#270000 282px,#1d0000 288px,#1a0000 306px,#1a0000 307px)"></i><i style="background:linear-gradient(90deg,#1a0000 0px,#1a0000 150px,#1a0000 217px,#250000 228px,#370000 233px,#540000 237px,#830000 241px,#c00000 245px,#f70000 248px,#ff0800 249px,#ff2a00 251px,#ff4f00 254px,#ff5c00 256px,#ff5e00 258px,#ff5400 260px,#ff3f00 262px,#ff0d00 265px,#f90000 266px,#890000 272px,#510000 276px,#370000 279px,#250000 283px,#1a0000 291px,#1a0000 307px)"></i><i style="background:linear-gradient(90deg,#1a0000 0px,#1a0000 150px,#1a0000 217px,#220000 227px,#320000 232px,#4a0000 236px,#660000 239px,#7e0000 241px,#cf0000 246px,#f40000 248px,#ff0800 249px,#ff4400 253px,#ff5900 255px,#ff6100 257px,#ff5e00 259px,#ff4f00 261px,#ff3700 263px,#ff0200 266px,#8e0000 272px,#610000 275px,#4a0000 277px,#2d0000 281px,#200000 285px,#1a0000 295px,#1a0000 307px)"></i><i style="background:linear-gradient(90deg,#1a0000 0px,#1a0000 150px,#1a0000 218px,#250000 228px,#2f0000 232px,#4f0000 237px,#7b0000 241px,#ba0000 245px,#f20000 248px,#ff0500 249px,#ff3700 252px,#ff5900 255px,#ff6400 257px,#ff6400 259px,#ff5400 261px,#ff3c00 263px,#ff0800 266px,#f40000 267px,#900000 272px,#570000 276px,#3a0000 279px,#220000 284px,#1a0000 293px,#1a0000 307px)"></i><i style="background:linear-gradient(90deg,#1a0000 0px,#1a0000 150px,#1a0000 218px,#250000 229px,#350000 233px,#4c0000 237px,#790000 241px,#a50000 244px,#ff0000 249px,#ff3400 252px,#ff4f00 254px,#ff6100 256px,#ff6900 258px,#ff6100 260px,#ff4f00 262px,#ff3400 264px,#ff1000 266px,#f90000 267px,#960000 272px,#740000 274px,#4f0000 277px,#350000 280px,#270000 283px,#1d0000 288px,#1a0000 306px,#1a0000 307px)"></i><i style="background:linear-gradient(90deg,#1a0000 0px,#1a0000 150px,#1a0000 219px,#250000 229px,#320000 233px,#440000 236px,#690000 240px,#930000 243px,#d70000 247px,#fc0000 249px,#ff4100 253px,#ff6400 256px,#ff6b00 258px,#ff6600 260px,#ff5600 262px,#ff3a00 264px,#ff0000 267px,#9b0000 272px,#690000 275px,#4f0000 277px,#3c0000 279px,#270000 283px,#1a0000 291px,#1a0000 307px)"></i><i style="background:linear-gradient(90deg,#1a0000 0px,#1a0000 150px,#1a0000 219px,#250000 229px,#350000 234px,#510000 238px,#740000 241px,#9e0000 244px,#d20000 247px,#f90000 249px,#ff0d00 250px,#ff4f00 254px,#ff6400 256px,#ff6e00 258px,#ff6b00 260px,#ff5c00 262px,#ff2f00 265px,#ff0800 267px,#f20000 268px,#8b0000 273px,#510000 277px,#370000 280px,#250000 284px,#1a0000 292px,#1a0000 307px)"></i><i style="background:linear-gradient(90deg,#1a0000 0px,#1a0000 150px,#1a0000 219px,#250000 230px,#350000 234px,#470000 237px,#6e0000 241px,#ab0000 245px,#f40000 249px,#ff0a00 250px,#ff4f00 254px,#ff6b00 257px,#ff7100 258px,#ff6e00 260px,#ff6900 261px,#ff5400 263px,#ff2200 266px,#ff0d00 267px,#f70000 268px,#900000 273px,#6e0000 275px,#3f0000 279px,#270000 283px,#1a0000 291px,#1a0000 307px)"></i><i style="background:linear-gradient(90deg,#1a0000 0px,#1a0000 150px,#1a0000 220px,#250000 230px,#370000 235px,#4c0000 238px,#790000 242px,#960000 244px,#ca0000 247px,#f20000 249px,#ff0500 250px,#ff2c00 252px,#ff5900 255px,#ff6b00 257px,#ff7300 259px,#ff6e00 261px,#ff4c00 264px,#fc0000 268px,#960000 273px,#640000 276px,#420000 279px,#2d0000 282px,#200000 286px,#1a0000 294px,#1a0000 307px)"></i><i style="background:linear-gradient(90deg,#1a0000 0px,#1a0000 150px,#1a0000 220px,#250000 230px,#320000 234px,#4a0000 238px,#760000 242px,#a30000 245px,#ff0200 250px,#ff2a00 252px,#ff4c00 254px,#ff6e00 257px,#ff7600 259px,#ff7100 261px,#ff5e00 263px,#ff3f00 265px,#ff0500 268px,#d70000 270px,#860000 274px,#590000 277px,#440000 279px,#350000 281px,#220000 285px,#1a0000 294px,#1a0000 307px)"></i><i style="background:linear-gradient(90deg,#1a0000 0px,#1a0000 150px,#1a0000 220px,#220000 229px,#2f0000 234px,#470000 238px,#590000 240px,#8e0000 244px,#d50000 248px,#ff0000 250px,#ff4900 254px,#ff6400 256px,#ff7600 258px,#ff7900 260px,#ff6e00 262px,#ff5600 264px,#ff3400 266px,#ff0a00 268px,#f20000 269px,#b00000 272px,#790000 275px,#4f0000 278px,#350000 281px,#220000 285px,#1a0000 294px,#1a0000 307px)"></i><i style="background:linear-gradient(90deg,#1a0000 0px,#1a0000 150px,#1a0000 221px,#250000 231px,#2f0000 234px,#470000 238px,#610000 241px,#8b0000 244px,#d20000 248px,#f90000 250px,#ff1000 251px,#ff4700 254px,#ff6400 256px,#ff7600 258px,#ff7b00 260px,#ff7300 262px,#ff5c00 264px,#ff3a00 266px,#ff1000 268px,#f70000 269px,#a00000 273px,#6c0000 276px,#470000 279px,#3c0000 280px,#270000 284px,#1d0000 289px,#1a0000 307px)"></i><i style="background:linear-gradient(90deg,#1a0000 0px,#1a0000 150px,#1a0000 221px,#250000 231px,#320000 235px,#440000 238px,#5f0000 241px,#960000 245px,#e20000 249px,#f70000 250px,#ff0d00 251px,#ff4700 254px,#ff6400 256px,#ff7900 258px,#ff7e00 260px,#ff7600 262px,#ff6100 264px,#ff3f00 266px,#ff0000 269px,#ba0000 272px,#7e0000 275px,#5f0000 277px,#470000 279px,#2a0000 283px,#1d0000 289px,#1a0000 307px)"></i><i style="background:linear-gradient(90deg,#1a0000 0px,#1a0000 150px,#1a0000 221px,#220000 230px,#2f0000 235px,#4a0000 239px,#5c0000 241px,#930000 245px,#f20000 250px,#ff0800 251px,#ff4400 254px,#ff7100 257px,#ff7e00 259px,#ff8000 261px,#ff7100 263px,#ff5600 265px,#ff3200 267px,#ff0500 269px,#d50000 271px,#a80000 273px,#610000 277px,#370000 281px,#250000 285px,#1a0000 293px,#1a0000 307px)"></i><i style="background:linear-gradient(90deg,#1a0000 0px,#1a0000 150px,#1a0000 222px,#250000 232px,#350000 236px,#470000 239px,#590000 241px,#710000 243px,#b30000 247px,#ef0000 250px,#ff0500 251px,#ff5400 255px,#ff7100 257px,#ff8000 259px,#ff8300 261px,#ff7600 263px,#ff5c00 265px,#ff2200 268px,#ff0a00 269px,#f20000 270px,#ad0000 273px,#740000 276px,#570000 278px,#320000 282px,#250000 285px,#1a0000 293px,#1a0000 307px)"></i><i style="background:linear-gradient(90deg,#1a0000 0px,#1a0000 150px,#1a0000 222px,#250000 232px,#370000 237px,#440000 239px,#6e0000 243px,#8b0000 245px,#d70000 249px,#ff0200 251px,#ff5100 255px,#ff7100 257px,#ff8300 259px,#ff8600 261px,#ff7b00 263px,#ff7100 264px,#ff3c00 267px,#ff1000 269px,#f70000 270px,#9b0000 274px,#660000 277px,#420000 280px,#270000 284px,#1a0000 292px,#1a0000 307px)"></i><i style="background:linear-gradient(90deg,#1a0000 0px,#1a0000 150px,#1a0000 222px,#220000 231px,#320000 236px,#440000 239px,#5f0000 242px,#980000 246px,#e70000 250px,#ff0000 251px,#ff5100 255px,#ff7100 257px,#ff8300 259px,#ff8800 261px,#ff8000 263px,#ff7600 264px,#ff5600 266px,#fc0000 270px,#a00000 274px,#790000 276px,#4f0000 279px,#3a0000 281px,#250000 285px,#1a0000 293px,#1a0000 307px)"></i><i style="background:linear-gradient(90deg,#1a0000 0px,#1a0000 150px,#1a0000 223px,#250000 233px,#350000 237px,#510000 241px,#760000 244px,#ba0000 248px,#f90000 251px,#ff1200 252px,#ff6100 256px,#ff7e00 258px,#ff8b00 260px,#ff8e00 261px,#ff8300 263px,#ff6b00 265px,#ff5c00 266px,#ff1a00 269px,#ff0200 270px,#a30000 274px,#7b0000 276px,#5c0000 278px,#440000 280px,#2a0000 284px,#200000 287px,#1a0000 295px,#1a0000 307px)"></i><i style="background:linear-gradient(90deg,#1a0000 0px,#1a0000 150px,#1a0000 223px,#250000 233px,#2f0000 236px,#470000 240px,#590000 242px,#930000 246px,#e20000 250px,#f70000 251px,#ff1000 252px,#ff6100 256px,#ff7e00 258px,#ff8e00 260px,#ff8e00 262px,#ff7e00 264px,#ff6100 266px,#ff0800 270px,#ef0000 271px,#bd0000 273px,#6e0000 277px,#510000 279px,#350000 282px,#220000 286px,#1a0000 294px,#1a0000 307px)"></i><i style="background:linear-gradient(90deg,#1a0000 0px,#1a0000 150px,#1a0000 223px,#220000 232px,#320000 237px,#440000 240px,#710000 244px,#a00000 247px,#f40000 251px,#ff0d00 252px,#ff4f00 255px,#ff7100 257px,#ff8800 259px,#ff9300 261px,#ff8e00 263px,#ff7600 265px,#ff5400 267px,#ff0d00 270px,#f40000 271px,#ab0000 274px,#710000 277px,#470000 280px,#2a0000 284px,#220000 286px,#1a0000 294px,#1a0000 307px)"></i><i style="background:linear-gradient(90deg,#1a0000 0px,#1a0000 150px,#1a0000 224px,#220000 232px,#320000 237px,#440000 240px,#6e0000 244px,#9e0000 247px,#c50000 249px,#f20000 251px,#ff0a00 252px,#ff6100 256px,#ff8000 258px,#ff9300 260px,#ff9500 262px,#ff8800 264px,#ff6b00 266px,#ff4400 268px,#ff1200 270px,#f90000 271px,#980000 275px,#640000 278px,#3f0000 281px,#2a0000 284px,#1d0000 290px,#1a0000 307px)"></i><i style="background:linear-gradient(90deg,#1a0000 0px,#1a0000 150px,#1a0000 224px,#250000 234px,#350000 238px,#4a0000 241px,#6c0000 244px,#9b0000 247px,#c20000 249px,#ef0000 251px,#ff0800 252px,#ff6100 256px,#ff8e00 259px,#ff9b00 261px,#ff9b00 262px,#ff8e00 264px,#ff7100 266px,#ff3200 269px,#fc0000 271px,#b30000 274px,#760000 277px,#570000 279px,#370000 282px,#250000 286px,#1d0000 290px,#1a0000 307px)"></i><i style="background:linear-gradient(90deg,#1a0000 0px,#1a0000 150px,#1a0000 224px,#250000 234px,#2f0000 237px,#4a0000 241px,#510000 242px,#690000 244px,#980000 247px,#ef0000 251px,#ff0500 252px,#ff6100 256px,#ff8300 258px,#ff9800 260px,#ff9d00 262px,#ff9b00 263px,#ff8600 265px,#ff6400 267px,#ff3700 269px,#ff0200 271px,#8b0000 276px,#660000 278px,#420000 281px,#270000 285px,#1d0000 290px,#1a0000 307px)"></i><i style="background:linear-gradient(90deg,#1a0000 0px,#1a0000 150px,#1a0000 225px,#220000 233px,#320000 238px,#510000 242px,#760000 245px,#ab0000 248px,#ec0000 251px,#ff0500 252px,#ff6100 256px,#ff8300 258px,#ff9b00 260px,#ffa200 262px,#ffa000 263px,#ff8b00 265px,#ff7e00 266px,#ff3c00 269px,#ff0800 271px,#ec0000 272px,#a30000 275px,#690000 278px,#3a0000 282px,#270000 285px,#1d0000 290px,#1a0000 307px)"></i><i style="background:linear-gradient(90deg,#1a0000 0px,#1a0000 150px,#1a0000 225px,#220000 233px,#320000 238px,#4f0000 242px,#740000 245px,#a80000 248px,#ff0200 252px,#ff6100 256px,#ff8600 258px,#ff9d00 260px,#ffa500 261px,#ffa200 263px,#ff9300 265px,#ff7100 267px,#ff0d00 271px,#f20000 272px,#900000 276px,#5c0000 279px,#3a0000 282px,#270000 285px,#1a0000 293px,#1a0000 307px)"></i><i style="background:linear-gradient(90deg,#1a0000 0px,#1a0000 150px,#1a0000 225px,#250000 235px,#3c0000 240px,#640000 244px,#930000 247px,#ba0000 249px,#ff0200 252px,#ff7600 257px,#ff9500 259px,#ffa800 261px,#ffa800 263px,#ff9800 265px,#ff7600 267px,#ff4700 269px,#ff1200 271px,#f70000 272px,#ab0000 275px,#6e0000 278px,#440000 281px,#2d0000 284px,#200000 288px,#1a0000 296px,#1a0000 307px)"></i><i style="background:linear-gradient(90deg,#1a0000 0px,#1a0000 150px,#1a0000 225px,#250000 235px,#350000 239px,#570000 243px,#900000 247px,#e70000 251px,#ff0000 252px,#ff6100 256px,#ff8800 258px,#ff9800 259px,#ffb000 262px,#ffa800 264px,#ff8e00 266px,#ff4f00 269px,#ff1700 271px,#fc0000 272px,#ad0000 275px,#710000 278px,#510000 280px,#350000 283px,#220000 287px,#1a0000 295px,#1a0000 307px)"></i><i style="background:linear-gradient(90deg,#1a0000 0px,#1a0000 150px,#1a0000 226px,#270000 236px,#3c0000 240px,#4c0000 242px,#6e0000 245px,#a30000 248px,#e40000 251px,#ff0000 252px,#ff6100 256px,#ff8b00 258px,#ffa800 260px,#ffb000 261px,#ffb200 263px,#ffad00 264px,#ff9300 266px,#ff5400 269px,#ff0200 272px,#b30000 275px,#860000 277px,#610000 279px,#470000 281px,#2f0000 284px,#200000 288px,#1a0000 296px,#1a0000 307px)"></i><i style="background:linear-gradient(90deg,#1a0000 0px,#1a0000 150px,#1a0000 226px,#220000 234px,#2f0000 238px,#4a0000 242px,#6e0000 245px,#a00000 248px,#fc0000 252px,#ff6400 256px,#ff8e00 258px,#ffaa00 260px,#ffb700 262px,#ffb200 264px,#ff9b00 266px,#ff7100 268px,#ff2500 271px,#ff0800 272px,#ea0000 273px,#9e0000 276px,#640000 279px,#3f0000 282px,#2a0000 285px,#200000 288px,#1a0000 296px,#1a0000 307px)"></i><i style="background:linear-gradient(90deg,#1a0000 0px,#1a0000 150px,#1a0000 226px,#220000 234px,#2f0000 238px,#4a0000 242px,#6c0000 245px,#a00000 248px,#ca0000 250px,#fc0000 252px,#ff7b00 257px,#ffa000 259px,#ffb700 261px,#ffbd00 262px,#ffbd00 263px,#ffad00 265px,#ff8e00 267px,#ff7900 268px,#ff0d00 272px,#ef0000 273px,#ba0000 275px,#8b0000 277px,#660000 279px,#3f0000 282px,#2a0000 285px,#200000 288px,#1a0000 296px,#1a0000 307px)"></i><i style="background:linear-gradient(90deg,#1a0000 0px,#1a0000 150px,#1a0000 226px,#220000 234px,#320000 239px,#510000 243px,#8b0000 247px,#ca0000 250px,#fc0000 252px,#ff7b00 257px,#ffa200 259px,#ffba00 261px,#ffc200 263px,#ffbd00 264px,#ffa500 266px,#ff7e00 268px,#ff2f00 271px,#ff1200 272px,#f40000 273px,#bd0000 275px,#790000 278px,#4c0000 281px,#370000 283px,#220000 287px,#1a0000 295px,#1a0000 307px)"></i><i style="background:linear-gradient(90deg,#1a0000 0px,#1a0000 150px,#1a0000 226px,#220000 234px,#320000 239px,#470000 242px,#5c0000 244px,#8b0000 247px,#ca0000 250px,#fc0000 252px,#ff7e00 257px,#ffa500 259px,#ffb500 260px,#ffc500 262px,#ffc700 263px,#ffba00 265px,#ff9b00 267px,#ff5100 270px,#ff1700 272px,#f70000 273px,#a80000 276px,#7b0000 278px,#590000 280px,#420000 282px,#270000 286px,#1d0000 291px,#1a0000 303px,#1a0000 307px)"></i><i style="background:linear-gradient(90deg,#1a0000 0px,#1a0000 150px,#1a0000 227px,#250000 235px,#320000 239px,#470000 242px,#690000 245px,#9e0000 248px,#e20000 251px,#fc0000 252px,#ff6600 256px,#ff9500 258px,#ffb700 260px,#ffc500 261px,#ffcc00 263px,#ffbf00 265px,#ffa000 267px,#ff7100 269px,#fc0000 273px,#ab0000 276px,#7e0000 278px,#5c0000 280px,#420000 282px,#270000 286px,#1d0000 291px,#1a0000 303px,#1a0000 307px)"></i><i style="background:linear-gradient(90deg,#1a0000 0px,#1a0000 150px,#1a0000 227px,#250000 236px,#370000 240px,#5c0000 244px,#890000 247px,#c80000 250px,#fc0000 252px,#ff1700 253px,#ff8300 257px,#ffad00 259px,#ffbd00 260px,#ffcf00 262px,#ffd200 263px,#ffcf00 264px,#ffb700 266px,#ff9000 268px,#ff7900 269px,#ff0200 273px,#ad0000 276px,#6e0000 279px,#4f0000 281px,#320000 284px,#250000 287px,#1a0000 293px,#1a0000 307px)"></i><i style="background:linear-gradient(90deg,#1a0000 0px,#1a0000 150px,#1a0000 227px,#250000 236px,#370000 240px,#4f0000 243px,#790000 246px,#9b0000 248px,#e20000 251px,#fc0000 252px,#ff1700 253px,#ff8600 257px,#ffb000 259px,#ffc200 260px,#ffd400 262px,#ffd700 263px,#ffcc00 265px,#ffad00 267px,#ff7e00 269px,#ff0800 273px,#e70000 274px,#980000 277px,#6e0000 279px,#440000 282px,#320000 284px,#250000 287px,#1a0000 293px,#1a0000 307px)"></i><i style="background:linear-gradient(90deg,#1a0000 0px,#1a0000 150px,#1a0000 227px,#270000 237px,#3c0000 241px,#5c0000 244px,#760000 246px,#9b0000 248px,#fc0000 252px,#ff8800 257px,#ffb500 259px,#ffc700 260px,#ffdc00 262px,#ffdf00 263px,#ffdc00 264px,#ffc500 266px,#ffb500 267px,#ff6900 270px,#ff0d00 273px,#ec0000 274px,#9b0000 277px,#710000 279px,#510000 281px,#350000 284px,#270000 286px,#1d0000 291px,#1a0000 307px)"></i><i style="background:linear-gradient(90deg,#1a0000 0px,#1a0000 150px,#1a0000 227px,#270000 237px,#440000 242px,#760000 246px,#ca0000 250px,#ff0000 252px,#ff7100 256px,#ffa500 258px,#ffcc00 260px,#ffda00 261px,#ffe400 263px,#ffda00 265px,#ffba00 267px,#ff8b00 269px,#ff1200 273px,#f20000 274px,#9e0000 277px,#610000 280px,#3c0000 283px,#270000 286px,#1d0000 291px,#1a0000 307px)"></i><i style="background:linear-gradient(90deg,#1a0000 0px,#1a0000 150px,#1a0000 227px,#270000 237px,#440000 242px,#690000 245px,#890000 247px,#ca0000 250px,#ff0200 252px,#ff9000 257px,#ffbf00 259px,#ffd200 260px,#ffe700 262px,#ffec00 263px,#ffe100 265px,#ffc200 267px,#ff9300 269px,#ff1500 273px,#f40000 274px,#a00000 277px,#760000 279px,#540000 281px,#3c0000 283px,#250000 287px,#1d0000 291px,#1a0000 307px)"></i><i style="background:linear-gradient(90deg,#1a0000 0px,#1a0000 150px,#1a0000 227px,#270000 237px,#3c0000 241px,#4f0000 243px,#790000 246px,#9e0000 248px,#cd0000 250px,#ff0200 252px,#ff9500 257px,#ffc500 259px,#ffe700 261px,#ffef00 262px,#fff100 264px,#ffdc00 266px,#ffca00 267px,#ff9800 269px,#ff3c00 272px,#ff1a00 273px,#f90000 274px,#bd0000 276px,#8b0000 278px,#640000 280px,#350000 284px,#220000 288px,#1a0000 296px,#1a0000 307px)"></i><i style="background:linear-gradient(90deg,#1a0000 0px,#1a0000 150px,#1a0000 227px,#270000 237px,#440000 242px,#690000 245px,#9e0000 248px,#e70000 251px,#ff0500 252px,#ff9b00 257px,#ffca00 259px,#ffec00 261px,#fff600 262px,#fff900 263px,#fff100 265px,#ffcf00 267px,#ffba00 268px,#ff6100 271px,#fc0000 274px,#a50000 277px,#660000 280px,#3f0000 283px,#2f0000 285px,#200000 289px,#1a0000 297px,#1a0000 307px)"></i><i style="background:linear-gradient(90deg,#1a0000 0px,#1a0000 150px,#1a0000 227px,#270000 237px,#3c0000 241px,#5c0000 244px,#790000 246px,#a00000 248px,#ea0000 251px,#ff0800 252px,#ffa000 257px,#ffd200 259px,#fff400 261px,#ffff03 263px,#fffe00 264px,#ffe900 266px,#ffd700 267px,#ffa500 269px,#ff0200 274px,#a80000 277px,#660000 280px,#3f0000 283px,#2a0000 286px,#200000 289px,#1a0000 297px,#1a0000 307px)"></i><i style="background:linear-gradient(90deg,#1a0000 0px,#1a0000 150px,#1a0000 227px,#270000 237px,#3f0000 241px,#5c0000 244px,#7b0000 246px,#b80000 249px,#ec0000 251px,#ff0a00 252px,#ffa500 257px,#ffd700 259px,#fff900 261px,#ffff07 262px,#ffff0f 263px,#ffff0b 264px,#fffe00 265px,#ffdf00 267px,#ffaa00 269px,#ff8e00 270px,#ff0500 274px,#c80000 276px,#930000 278px,#7b0000 279px,#590000 281px,#3f0000 283px,#2a0000 286px,#200000 289px,#1a0000 297px,#1a0000 307px)"></i><i style="background:linear-gradient(90deg,#1a0000 0px,#1a0000 150px,#1a0000 227px,#270000 237px,#3f0000 241px,#5c0000 244px,#8e0000 247px,#ba0000 249px,#ef0000 251px,#ff1000 252px,#ff4c00 254px,#ff8b00 256px,#ffc500 258px,#fff100 260px,#ffff03 261px,#ffff13 262px,#ffff17 264px,#ffff0b 265px,#fff900 266px,#ffcc00 268px,#ff9300 270px,#ff0a00 274px,#e70000 275px,#930000 278px,#690000 280px,#3f0000 283px,#2a0000 286px,#200000 289px,#1a0000 297px,#1a0000 307px)"></i><i style="background:linear-gradient(90deg,#1a0000 0px,#1a0000 150px,#1a0000 227px,#270000 237px,#3f0000 241px,#510000 243px,#6c0000 245px,#a50000 248px,#d70000 250px,#f40000 251px,#ff1200 252px,#ffb000 257px,#ffe400 259px,#fff900 260px,#ffff0f 261px,#ffff1f 262px,#ffff22 264px,#fffe00 266px,#ffec00 267px,#ffb700 269px,#ff5400 272px,#ff0d00 274px,#ea0000 275px,#960000 278px,#7e0000 279px,#590000 281px,#2f0000 285px,#200000 289px,#1a0000 297px,#1a0000 307px)"></i><i style="background:linear-gradient(90deg,#1a0000 0px,#1a0000 150px,#1a0000 227px,#250000 236px,#370000 240px,#510000 243px,#900000 247px,#da0000 250px,#f70000 251px,#ff1500 252px,#ffd200 258px,#fffe00 260px,#ffff17 261px,#ffff26 262px,#ffff2e 263px,#ffff2a 264px,#ffff1f 265px,#ffff0b 266px,#fff100 267px,#ffda00 268px,#ff9d00 270px,#ff1000 274px,#ec0000 275px,#b00000 277px,#810000 279px,#5c0000 281px,#4c0000 282px,#2f0000 285px,#200000 289px,#1a0000 297px,#1a0000 307px)"></i><i style="background:linear-gradient(90deg,#1a0000 0px,#1a0000 150px,#1a0000 227px,#250000 236px,#370000 240px,#610000 244px,#6e0000 245px,#930000 247px,#dd0000 250px,#f90000 251px,#ff1a00 252px,#ff9d00 256px,#fff100 259px,#ffff0b 260px,#ffff22 261px,#ffff32 262px,#ffff3a 263px,#ffff36 264px,#ffff2a 265px,#ffff13 266px,#fff900 267px,#ffc200 269px,#ff5c00 272px,#ff1200 274px,#ef0000 275px,#b30000 277px,#810000 279px,#5c0000 281px,#4c0000 282px,#370000 284px,#220000 288px,#1a0000 296px,#1a0000 307px)"></i><i style="background:linear-gradient(90deg,#1a0000 0px,#1a0000 150px,#1a0000 227px,#250000 235px,#320000 239px,#540000 243px,#810000 246px,#ab0000 248px,#fc0000 251px,#ff5e00 254px,#ffc200 257px,#ffdf00 258px,#fff600 259px,#ffff13 260px,#ffff2e 261px,#ffff3e 262px,#ffff42 263px,#ffff3e 264px,#ffff32 265px,#ffff1f 266px,#fffe00 267px,#ffc700 269px,#ff3a00 273px,#ff1500 274px,#f20000 275px,#b50000 277px,#830000 279px,#5c0000 281px,#420000 283px,#2a0000 286px,#200000 289px,#1a0000 297px,#1a0000 307px)"></i><i style="background:linear-gradient(90deg,#1a0000 0px,#1a0000 150px,#1a0000 227px,#250000 235px,#2f0000 238px,#4a0000 242px,#710000 245px,#ad0000 248px,#ff0200 251px,#ffc700 257px,#fffe00 259px,#ffff1f 260px,#ffff36 261px,#ffff46 262px,#ffff4e 263px,#ffff4a 264px,#ffff3e 265px,#ffff26 266px,#ffff07 267px,#ffe900 268px,#ffaa00 270px,#ff6100 272px,#ff1700 274px,#f40000 275px,#b50000 277px,#830000 279px,#5c0000 281px,#420000 283px,#2a0000 286px,#200000 289px,#1a0000 297px,#1a0000 307px)"></i><i style="background:linear-gradient(90deg,#1a0000 0px,#1a0000 150px,#1a0000 227px,#250000 235px,#2f0000 238px,#420000 241px,#640000 244px,#860000 246px,#ca0000 249px,#e70000 250px,#ff0800 251px,#ffcf00 257px,#ffec00 258px,#ffff0b 259px,#ffff2a 260px,#ffff42 261px,#ffff52 262px,#ffff5a 263px,#ffff56 264px,#ffff32 266px,#ffff13 267px,#fff100 268px,#ffb000 270px,#ff1a00 274px,#f70000 275px,#b80000 277px,#830000 279px,#6e0000 280px,#420000 283px,#2a0000 286px,#200000 289px,#1a0000 297px,#1a0000 307px)"></i><i style="background:linear-gradient(90deg,#1a0000 0px,#1a0000 150px,#1a0000 227px,#250000 235px,#2f0000 238px,#4c0000 242px,#760000 245px,#b50000 248px,#ec0000 250px,#ff0a00 251px,#ffb500 256px,#fff400 258px,#ffff17 259px,#ffff36 260px,#ffff4e 261px,#ffff5e 262px,#ffff65 263px,#ffff61 264px,#ffff52 265px,#ffff3a 266px,#ffff1b 267px,#fff600 268px,#ffb500 270px,#ff1d00 274px,#f90000 275px,#b80000 277px,#860000 279px,#5f0000 281px,#440000 283px,#320000 285px,#200000 289px,#1a0000 297px,#1a0000 307px)"></i><i style="background:linear-gradient(90deg,#1a0000 0px,#1a0000 150px,#1a0000 226px,#220000 234px,#2f0000 238px,#440000 241px,#590000 243px,#8b0000 246px,#b80000 248px,#ef0000 250px,#ff1000 251px,#ffbd00 256px,#fffc00 258px,#ffff42 260px,#ffff5a 261px,#ffff69 262px,#ffff6d 263px,#ffff69 264px,#ffff5e 265px,#ffff46 266px,#fffc00 268px,#ffb700 270px,#ff4700 273px,#ff1f00 274px,#fc0000 275px,#ba0000 277px,#860000 279px,#5f0000 281px,#440000 283px,#320000 285px,#200000 289px,#1a0000 297px,#1a0000 307px)"></i><i style="background:linear-gradient(90deg,#1a0000 0px,#1a0000 150px,#1a0000 226px,#220000 234px,#2f0000 238px,#440000 241px,#690000 244px,#a30000 247px,#f40000 250px,#ff1500 251px,#ffc500 256px,#ffe400 257px,#ffff07 258px,#ffff2e 259px,#ffff4e 260px,#ffff65 261px,#ffff75 262px,#ffff79 263px,#ffff75 264px,#ffff65 265px,#ffff4e 266px,#ffff03 268px,#ffe100 269px,#ff7100 272px,#ff2200 274px,#fc0000 275px,#bd0000 277px,#860000 279px,#5f0000 281px,#3a0000 284px,#220000 288px,#1a0000 296px,#1a0000 307px)"></i><i style="background:linear-gradient(90deg,#1a0000 0px,#1a0000 150px,#1a0000 226px,#270000 236px,#3f0000 240px,#510000 242px,#6c0000 244px,#900000 246px,#da0000 249px,#f90000 250px,#ff1a00 251px,#ffec00 257px,#ffff13 258px,#ffff3a 259px,#ffff5a 260px,#ffff71 261px,#ffff81 262px,#ffff85 263px,#ffff81 264px,#ffff71 265px,#ffff36 267px,#ffff0b 268px,#ffe400 269px,#ff9b00 271px,#ff0000 275px,#bd0000 277px,#a00000 278px,#710000 280px,#510000 282px,#3a0000 284px,#220000 288px,#1a0000 296px,#1a0000 307px)"></i><i style="background:linear-gradient(90deg,#1a0000 0px,#1a0000 150px,#1a0000 226px,#250000 235px,#370000 239px,#5f0000 243px,#930000 246px,#c20000 248px,#ff0000 250px,#ff4100 252px,#ffd200 256px,#fff400 257px,#ffff1f 258px,#ffff46 259px,#ffff65 260px,#ffff7d 261px,#ffff8d 262px,#ffff91 263px,#ffff8d 264px,#ffff61 266px,#ffff3e 267px,#ffff13 268px,#ffe900 269px,#ff0200 275px,#bd0000 277px,#a00000 278px,#610000 281px,#440000 283px,#320000 285px,#200000 289px,#1a0000 297px,#1a0000 307px)"></i><i style="background:linear-gradient(90deg,#1a0000 0px,#1a0000 150px,#1a0000 226px,#250000 234px,#320000 238px,#540000 242px,#710000 244px,#ad0000 247px,#e40000 249px,#ff0500 250px,#ff4900 252px,#ffda00 256px,#fffc00 257px,#ffff52 259px,#ffff71 260px,#ffff89 261px,#ffff99 262px,#ffff9d 263px,#ffff95 264px,#ffff85 265px,#ffff69 266px,#ffff46 267px,#ffff17 268px,#ffef00 269px,#ff0200 275px,#a30000 278px,#740000 280px,#510000 282px,#3a0000 284px,#270000 287px,#1d0000 291px,#1a0000 307px)"></i><i style="background:linear-gradient(90deg,#1a0000 0px,#1a0000 150px,#1a0000 226px,#250000 234px,#2f0000 237px,#420000 240px,#640000 243px,#860000 245px,#b30000 247px,#ea0000 249px,#ff0a00 250px,#ff9800 254px,#ffe100 256px,#ffff07 257px,#ffff36 258px,#ffff5e 259px,#ffff7d 260px,#ffff95 261px,#ffffa4 262px,#ffffa0 264px,#ffff8d 265px,#ffff71 266px,#ffff1f 268px,#fff100 269px,#ff7b00 272px,#ff2a00 274px,#ff0500 275px,#c00000 277px,#890000 279px,#610000 281px,#440000 283px,#320000 285px,#200000 289px,#1a0000 297px,#1a0000 307px)"></i><i style="background:linear-gradient(90deg,#1a0000 0px,#1a0000 150px,#1a0000 225px,#220000 233px,#2f0000 237px,#3a0000 239px,#4c0000 241px,#760000 244px,#b50000 247px,#cf0000 248px,#ef0000 249px,#ff1000 250px,#ffe900 256px,#ffff13 257px,#ffff42 258px,#ffff69 259px,#ffff89 260px,#ffffa0 261px,#ffffac 262px,#ffffb0 263px,#ffffa8 264px,#ffff95 265px,#ffff79 266px,#ffff52 267px,#ffff22 268px,#fff400 269px,#ffa500 271px,#ff0500 275px,#c00000 277px,#890000 279px,#610000 281px,#440000 283px,#320000 285px,#200000 289px,#1a0000 297px,#1a0000 307px)"></i><i style="background:linear-gradient(90deg,#1a0000 0px,#1a0000 150px,#1a0000 225px,#220000 233px,#2f0000 237px,#440000 240px,#590000 242px,#8b0000 245px,#ba0000 247px,#f40000 249px,#ff1500 250px,#ff8000 253px,#fff100 256px,#ffff1f 257px,#ffff4e 258px,#ffff75 259px,#ffff95 260px,#ffffac 261px,#ffffb8 262px,#ffffb8 263px,#ffffb0 264px,#ffff9d 265px,#ffff81 266px,#ffff5a 267px,#ffff2a 268px,#fff600 269px,#ff0500 275px,#c00000 277px,#890000 279px,#610000 281px,#440000 283px,#320000 285px,#200000 289px,#1a0000 297px,#1a0000 307px)"></i><i style="background:linear-gradient(90deg,#1a0000 0px,#1a0000 150px,#1a0000 225px,#270000 235px,#3c0000 239px,#5c0000 242px,#8e0000 245px,#bd0000 247px,#f90000 249px,#ff1a00 250px,#ff3c00 251px,#ffd400 255px,#fff900 256px,#ffff2a 257px,#ffff5a 258px,#ffff81 259px,#ffffa0 260px,#ffffb4 261px,#ffffc0 262px,#ffffc0 263px,#ffffb8 264px,#ffffa4 265px,#ffff85 266px,#ffff5e 267px,#ffff2e 268px,#fff900 269px,#ff0500 275px,#c00000 277px,#890000 279px,#610000 281px,#440000 283px,#320000 285px,#200000 289px,#1a0000 297px,#1a0000 307px)"></i><i style="background:linear-gradient(90deg,#1a0000 0px,#1a0000 150px,#1a0000 225px,#250000 234px,#370000 238px,#510000 241px,#7e0000 244px,#a80000 246px,#df0000 248px,#ff0000 249px,#ff1f00 250px,#ffff03 256px,#ffff36 257px,#ffff89 259px,#ffffa8 260px,#ffffc0 261px,#ffffc8 262px,#ffffc8 263px,#ffffc0 264px,#ffffa8 265px,#ffff89 266px,#ffff61 267px,#fffc00 269px,#ff0500 275px,#c00000 277px,#890000 279px,#610000 281px,#440000 283px,#320000 285px,#200000 289px,#1a0000 297px,#1a0000 307px)"></i><i style="background:linear-gradient(90deg,#1a0000 0px,#1a0000 150px,#1a0000 225px,#250000 233px,#320000 237px,#3f0000 239px,#610000 242px,#810000 244px,#ad0000 246px,#e40000 248px,#ff0500 249px,#ff4900 251px,#ffe400 255px,#ffff0f 256px,#ffff6d 258px,#ffff95 259px,#ffffc8 261px,#ffffd0 262px,#ffffd0 263px,#ffffc4 264px,#ffffb0 265px,#ffff65 267px,#fffc00 269px,#ff0500 275px,#c00000 277px,#890000 279px,#610000 281px,#440000 283px,#320000 285px,#200000 289px,#1a0000 297px,#1a0000 307px)"></i><i style="background:linear-gradient(90deg,#1a0000 0px,#1a0000 150px,#1a0000 224px,#220000 232px,#2f0000 236px,#420000 239px,#640000 242px,#860000 244px,#b30000 246px,#ea0000 248px,#ff0a00 249px,#ff7600 252px,#ffe900 255px,#ffff17 256px,#ffff79 258px,#ffffbc 260px,#ffffd0 261px,#ffffd8 262px,#ffffd8 263px,#ffffcc 264px,#ffffb4 265px,#ffff69 267px,#fffe00 269px,#ff0500 275px,#c00000 277px,#890000 279px,#610000 281px,#440000 283px,#320000 285px,#200000 289px,#1a0000 297px,#1a0000 307px)"></i><i style="background:linear-gradient(90deg,#1a0000 0px,#1a0000 150px,#1a0000 224px,#220000 232px,#2f0000 236px,#4c0000 240px,#760000 243px,#b50000 246px,#ef0000 248px,#ff1000 249px,#fff100 255px,#ffff22 256px,#ffff56 257px,#ffffa8 259px,#ffffc4 260px,#ffffd8 261px,#ffffdf 262px,#ffffdc 263px,#ffffd0 264px,#ffffb8 265px,#ffff95 266px,#ffff69 267px,#fffe00 269px,#ff2c00 274px,#ff0500 275px,#c00000 277px,#890000 279px,#5f0000 281px,#3a0000 284px,#220000 288px,#1a0000 296px,#1a0000 307px)"></i><i style="background:linear-gradient(90deg,#1a0000 0px,#1a0000 150px,#1a0000 224px,#270000 234px,#3c0000 238px,#4f0000 240px,#790000 243px,#ba0000 246px,#f40000 248px,#ff1700 249px,#ff5e00 251px,#fffc00 255px,#ffff61 257px,#ffff8d 258px,#ffffd0 260px,#ffffdf 261px,#ffffe7 262px,#ffffe3 263px,#ffffd4 264px,#ffffbc 265px,#ffff99 266px,#ffff36 268px,#fffe00 269px,#ff0200 275px,#bd0000 277px,#a00000 278px,#710000 280px,#4f0000 282px,#320000 285px,#200000 289px,#1a0000 297px,#1a0000 307px)"></i><i style="background:linear-gradient(90deg,#1a0000 0px,#1a0000 150px,#1a0000 224px,#250000 233px,#370000 237px,#510000 240px,#6c0000 242px,#900000 244px,#c00000 246px,#fc0000 248px,#ff1d00 249px,#ff8e00 252px,#ffdc00 254px,#ffff07 255px,#ffff3e 256px,#ffff99 258px,#ffffbc 259px,#ffffd8 260px,#ffffe7 261px,#ffffef 262px,#ffffe7 263px,#ffffd8 264px,#ffffc0 265px,#ffff6d 267px,#fffe00 269px,#ff5100 273px,#ff0200 275px,#bd0000 277px,#860000 279px,#5f0000 281px,#440000 283px,#2a0000 286px,#200000 289px,#1a0000 297px,#1a0000 307px)"></i><i style="background:linear-gradient(90deg,#1a0000 0px,#1a0000 150px,#1a0000 223px,#220000 231px,#320000 236px,#540000 240px,#810000 243px,#c50000 246px,#ff0200 248px,#ff9500 252px,#ffe400 254px,#ffff13 255px,#ffff4a 256px,#ffffa4 258px,#ffffc8 259px,#ffffdf 260px,#ffffef 261px,#fffff3 262px,#ffffef 263px,#ffffdc 264px,#ffffc0 265px,#ffff9d 266px,#ffff6d 267px,#fffc00 269px,#ff2700 274px,#ff0000 275px,#ba0000 277px,#860000 279px,#5f0000 281px,#420000 283px,#2a0000 286px,#200000 289px,#1a0000 297px,#1a0000 307px)"></i><i style="background:linear-gradient(90deg,#1a0000 0px,#1a0000 150px,#1a0000 223px,#220000 231px,#2f0000 235px,#420000 238px,#640000 241px,#860000 243px,#ca0000 246px,#ea0000 247px,#ff0a00 248px,#ff7600 251px,#ffef00 254px,#ffff1f 255px,#ffff56 256px,#ffffb0 258px,#ffffd0 259px,#ffffe7 260px,#fffff7 261px,#fffffb 262px,#fffff3 263px,#ffffdf 264px,#ffffc4 265px,#ffff9d 266px,#ffff6d 267px,#fffc00 269px,#ff4f00 273px,#ff0000 275px,#ba0000 277px,#860000 279px,#6e0000 280px,#420000 283px,#2a0000 286px,#200000 289px,#1a0000 297px,#1a0000 307px)"></i><i style="background:linear-gradient(90deg,#1a0000 0px,#1a0000 150px,#1a0000 223px,#270000 233px,#3c0000 237px,#660000 241px,#890000 243px,#b50000 245px,#ef0000 247px,#ff1000 248px,#ff7e00 251px,#fff600 254px,#ffff2a 255px,#ffff61 256px,#ffff91 257px,#ffffdc 259px,#fffff3 260px,#ffffff 261px,#ffffff 262px,#fffff7 263px,#ffffe3 264px,#ffffc8 265px,#ffff6d 267px,#fffc00 269px,#ff2500 274px,#fc0000 275px,#b80000 277px,#830000 279px,#5c0000 281px,#370000 284px,#220000 288px,#1a0000 296px,#1a0000 307px)"></i><i style="background:linear-gradient(90deg,#1a0000 0px,#1a0000 150px,#1a0000 223px,#250000 232px,#370000 236px,#5c0000 240px,#7b0000 242px,#ba0000 245px,#f40000 247px,#ff1700 248px,#ff8600 251px,#fffe00 254px,#ffff6d 256px,#ffff9d 257px,#ffffc4 258px,#ffffe3 259px,#fffffb 260px,#ffffff 262px,#fffffb 263px,#ffffe7 264px,#ffffc8 265px,#ffff6d 267px,#ffff36 268px,#fff900 269px,#ff2200 274px,#f90000 275px,#b80000 277px,#830000 279px,#5c0000 281px,#4c0000 282px,#2f0000 285px,#200000 289px,#1a0000 297px,#1a0000 307px)"></i><i style="background:linear-gradient(90deg,#1a0000 0px,#1a0000 150px,#1a0000 222px,#220000 230px,#320000 235px,#3f0000 237px,#5f0000 240px,#7e0000 242px,#a80000 244px,#dd0000 246px,#fc0000 247px,#ff4100 249px,#ffdf00 253px,#ffff0b 254px,#ffff79 256px,#ffffcc 258px,#ffffeb 259px,#ffffff 260px,#ffffff 263px,#ffffe7 264px,#ffffc8 265px,#ffff6d 267px,#ffff32 268px,#fff600 269px,#ff1f00 274px,#f90000 275px,#b50000 277px,#810000 279px,#5c0000 281px,#4c0000 282px,#2f0000 285px,#200000 289px,#1a0000 297px,#1a0000 307px)"></i><i style="background:linear-gradient(90deg,#1a0000 0px,#1a0000 150px,#1a0000 222px,#220000 230px,#2f0000 234px,#4a0000 238px,#610000 240px,#960000 243px,#c80000 245px,#ff0200 247px,#ff4900 249px,#ffe700 253px,#ffff17 254px,#ffff81 256px,#ffffb0 257px,#ffffd8 258px,#fffff3 259px,#ffffff 260px,#ffffff 263px,#ffffeb 264px,#ffffc8 265px,#ffff9d 266px,#ffff69 267px,#ffff2e 268px,#fff600 269px,#ff4700 273px,#ff1d00 274px,#f70000 275px,#b50000 277px,#980000 278px,#590000 281px,#2f0000 285px,#200000 289px,#1a0000 297px,#1a0000 307px)"></i><i style="background:linear-gradient(90deg,#1a0000 0px,#1a0000 150px,#1a0000 222px,#270000 232px,#3c0000 236px,#4c0000 238px,#760000 241px,#9b0000 243px,#cd0000 245px,#ea0000 246px,#ff0a00 247px,#ff5100 249px,#ffef00 253px,#ffff22 254px,#ffff8d 256px,#ffffdf 258px,#fffffb 259px,#ffffff 261px,#ffffff 263px,#ffffe7 264px,#ffffc8 265px,#ffff65 267px,#ffff2a 268px,#fff100 269px,#ff1a00 274px,#f40000 275px,#b30000 277px,#7e0000 279px,#590000 281px,#3f0000 283px,#2a0000 286px,#200000 289px,#1a0000 297px,#1a0000 307px)"></i><i style="background:linear-gradient(90deg,#1a0000 0px,#1a0000 150px,#1a0000 221px,#250000 231px,#370000 235px,#4f0000 238px,#790000 241px,#a00000 243px,#d20000 245px,#ef0000 246px,#ff1200 247px,#ff5900 249px,#fff600 253px,#ffff2e 254px,#ffff65 255px,#ffffc0 257px,#ffffe3 258px,#ffffff 259px,#ffffff 263px,#ffffe7 264px,#ffffc4 265px,#ffff61 267px,#ffff26 268px,#ffef00 269px,#ff3f00 273px,#ff1700 274px,#f20000 275px,#b00000 277px,#7e0000 279px,#590000 281px,#3f0000 283px,#2a0000 286px,#200000 289px,#1a0000 297px,#1a0000 307px)"></i><i style="background:linear-gradient(90deg,#1a0000 0px,#1a0000 38px,#1d0000 44px,#1a0000 50px,#1a0000 200px,#1d0000 226px,#2d0000 233px,#3f0000 236px,#510000 238px,#6c0000 240px,#a50000 243px,#da0000 245px,#f70000 246px,#ff1700 247px,#ff8600 250px,#fffe00 253px,#ffff6d 255px,#ffffc8 257px,#ffffeb 258px,#ffffff 259px,#ffffff 263px,#ffffe3 264px,#ffffc0 265px,#ffff5e 267px,#ffff22 268px,#ffe900 269px,#ff3c00 273px,#ff1500 274px,#ef0000 275px,#ad0000 277px,#7b0000 279px,#570000 281px,#350000 284px,#220000 288px,#1a0000 296px,#1a0000 307px)"></i><i style="background:linear-gradient(90deg,#1a0000 0px,#1d0000 46px,#1a0000 52px,#1a0000 202px,#1d0000 225px,#2a0000 232px,#420000 236px,#610000 239px,#810000 241px,#c20000 244px,#fc0000 246px,#ff4100 248px,#ffdf00 252px,#ffff0b 253px,#ffff75 255px,#ffffd0 257px,#ffffef 258px,#ffffff 259px,#ffffff 263px,#ffffbc 265px,#ffff8d 266px,#ffff1b 268px,#ffe700 269px,#ff3a00 273px,#ff1000 274px,#ea0000 275px,#ab0000 277px,#790000 279px,#570000 281px,#350000 284px,#220000 288px,#1a0000 294px,#1a0000 307px)"></i><i style="background:linear-gradient(90deg,#1a0000 0px,#1d0000 47px,#1a0000 53px,#1a0000 203px,#1d0000 225px,#270000 231px,#440000 236px,#660000 239px,#860000 241px,#b00000 243px,#e40000 245px,#ff0500 246px,#ff6e00 249px,#ffe400 252px,#ffff13 253px,#ffff7d 255px,#ffffac 256px,#ffffd4 257px,#fffff3 258px,#ffffff 259px,#ffffff 262px,#fffffb 263px,#ffffdc 264px,#ffffb4 265px,#ffff85 266px,#ffff13 268px,#ffe100 269px,#ff3400 273px,#ff0d00 274px,#e70000 275px,#a80000 277px,#790000 279px,#540000 281px,#3c0000 283px,#250000 287px,#1d0000 291px,#1a0000 307px)"></i><i style="background:linear-gradient(90deg,#1a0000 0px,#1d0000 48px,#1a0000 54px,#1a0000 204px,#1d0000 225px,#2d0000 232px,#3f0000 235px,#5c0000 238px,#790000 240px,#b50000 243px,#ec0000 245px,#ff0d00 246px,#ff2c00 247px,#ffc500 251px,#ffec00 252px,#ffff1b 253px,#ffff85 255px,#ffffd8 257px,#fffff3 258px,#ffffff 259px,#ffffff 262px,#fffff3 263px,#ffffd4 264px,#ffffac 265px,#ffff46 267px,#ffff07 268px,#ffda00 269px,#ff2f00 273px,#ff0800 274px,#e40000 275px,#a50000 277px,#760000 279px,#540000 281px,#3c0000 283px,#270000 286px,#1d0000 291px,#1a0000 307px)"></i><i style="background:linear-gradient(90deg,#1a0000 0px,#1d0000 49px,#1a0000 55px,#1a0000 205px,#1d0000 224px,#2a0000 231px,#420000 235px,#5f0000 238px,#900000 241px,#ba0000 243px,#f20000 245px,#ff1200 246px,#ff7e00 249px,#fff100 252px,#ffff22 253px,#ffff5a 254px,#ffffb4 256px,#ffffd8 257px,#fffff3 258px,#ffffff 259px,#ffffff 262px,#ffffeb 263px,#ffffcc 264px,#ffff71 266px,#fffe00 268px,#ff5100 272px,#ff0200 274px,#a30000 277px,#740000 279px,#510000 281px,#350000 284px,#270000 286px,#1d0000 291px,#1a0000 307px)"></i><i style="background:linear-gradient(90deg,#1a0000 0px,#1d0000 50px,#1a0000 56px,#1a0000 206px,#1d0000 224px,#270000 230px,#3c0000 234px,#570000 237px,#810000 240px,#c20000 243px,#f90000 245px,#ff1a00 246px,#ff5e00 248px,#fff600 252px,#ffff2a 253px,#ffff8d 255px,#ffffb8 256px,#ffffdc 257px,#fffff3 258px,#ffffff 259px,#ffffff 261px,#fffffb 262px,#ffffc0 264px,#ffff65 266px,#ffff2e 267px,#fff400 268px,#ff2500 273px,#ff0000 274px,#ba0000 276px,#860000 278px,#610000 280px,#440000 282px,#320000 284px,#250000 287px,#1a0000 293px,#1a0000 307px)"></i><i style="background:linear-gradient(90deg,#1a0000 0px,#1d0000 51px,#1a0000 57px,#1a0000 207px,#1d0000 224px,#2d0000 231px,#3f0000 234px,#590000 237px,#860000 240px,#c80000 243px,#ff0200 245px,#ff6600 248px,#fffc00 252px,#ffff65 254px,#ffffb8 256px,#ffffdc 257px,#fffff3 258px,#ffffff 259px,#ffffff 261px,#ffffef 262px,#ffffd8 263px,#ffffb4 264px,#ffff89 265px,#ffff1f 267px,#ffec00 268px,#ff1d00 273px,#f70000 274px,#9b0000 277px,#830000 278px,#4f0000 281px,#320000 284px,#250000 287px,#1a0000 293px,#1a0000 307px)"></i><i style="background:linear-gradient(90deg,#1a0000 0px,#1d0000 52px,#1a0000 58px,#1a0000 208px,#1d0000 223px,#2a0000 230px,#3f0000 234px,#510000 236px,#8b0000 240px,#b50000 242px,#ea0000 244px,#ff0800 245px,#ff4900 247px,#ffdf00 251px,#ffff03 252px,#ffff3a 253px,#ffff95 255px,#ffffbc 256px,#ffffef 258px,#fffffb 259px,#ffffff 260px,#fffff7 261px,#ffffcc 263px,#ffffa8 264px,#ffff7d 265px,#ffff13 267px,#ffe100 268px,#ff1700 273px,#f20000 274px,#b30000 276px,#810000 278px,#5c0000 280px,#420000 282px,#270000 286px,#1d0000 291px,#1a0000 303px,#1a0000 307px)"></i><i style="background:linear-gradient(90deg,#1a0000 0px,#1d0000 53px,#1a0000 59px,#1a0000 209px,#1d0000 223px,#270000 229px,#3c0000 233px,#4c0000 235px,#6e0000 238px,#900000 240px,#d50000 243px,#f20000 244px,#ff1000 245px,#ff5100 247px,#ffe400 251px,#ffff0b 252px,#ffff6d 254px,#ffff99 255px,#ffffbc 256px,#ffffd8 257px,#ffffeb 258px,#fffff7 260px,#ffffeb 261px,#ffffd8 262px,#ffffbc 263px,#ffff99 264px,#ffff6d 265px,#ffff03 267px,#ffb000 269px,#ff1000 273px,#ec0000 274px,#ad0000 276px,#7e0000 278px,#590000 280px,#370000 283px,#220000 287px,#1a0000 295px,#1a0000 307px)"></i><i style="background:linear-gradient(90deg,#1a0000 0px,#1d0000 54px,#1a0000 60px,#1a0000 210px,#1d0000 222px,#270000 228px,#3c0000 233px,#660000 237px,#830000 239px,#c20000 242px,#f90000 244px,#ff1700 245px,#ffa000 249px,#ffe900 251px,#ffff13 252px,#ffff46 253px,#ffff99 255px,#ffffbc 256px,#ffffd4 257px,#ffffef 259px,#ffffeb 260px,#ffffdf 261px,#ffffcc 262px,#ffffb0 263px,#ffff5e 265px,#ffff2a 266px,#fff600 267px,#ff5400 271px,#ff0a00 273px,#e40000 274px,#ab0000 276px,#900000 277px,#690000 279px,#4a0000 281px,#2f0000 284px,#200000 288px,#1a0000 296px,#1a0000 307px)"></i><i style="background:linear-gradient(90deg,#1a0000 0px,#1d0000 54px,#1a0000 60px,#1a0000 210px,#1d0000 222px,#2a0000 229px,#470000 234px,#690000 237px,#9b0000 240px,#e40000 243px,#ff0000 244px,#ff6100 247px,#ffef00 251px,#ffff1b 252px,#ffff75 254px,#ffff9d 255px,#ffffd0 257px,#ffffdf 258px,#ffffe3 260px,#ffffc0 262px,#ffffa0 263px,#ffff79 264px,#ffff17 266px,#ffe900 267px,#ff2500 272px,#ff0200 273px,#c00000 275px,#760000 278px,#4a0000 281px,#2f0000 284px,#200000 288px,#1a0000 296px,#1a0000 307px)"></i><i style="background:linear-gradient(90deg,#1a0000 0px,#1d0000 55px,#1a0000 61px,#1a0000 211px,#1d0000 222px,#270000 228px,#3a0000 232px,#5f0000 236px,#7b0000 238px,#a00000 240px,#ea0000 243px,#ff0800 244px,#ff6900 247px,#fff400 251px,#ffff22 252px,#ffff79 254px,#ffff9d 255px,#ffffb8 256px,#ffffcc 257px,#ffffd8 258px,#ffffdc 259px,#ffffd8 260px,#ffffc8 261px,#ffffb0 262px,#ffff91 263px,#ffff69 264px,#ffff07 266px,#ffdf00 267px,#ff4100 271px,#ff1d00 272px,#f90000 273px,#ba0000 275px,#890000 277px,#640000 279px,#470000 281px,#350000 283px,#220000 287px,#1a0000 295px,#1a0000 307px)"></i><i style="background:linear-gradient(90deg,#1a0000 0px,#1d0000 56px,#1a0000 62px,#1a0000 212px,#200000 224px,#320000 230px,#440000 233px,#570000 235px,#810000 238px,#bd0000 241px,#f20000 243px,#ff1000 244px,#ff9300 248px,#ffda00 250px,#fff900 251px,#ffff2a 252px,#ffff56 253px,#ffff9d 255px,#ffffc8 257px,#ffffd4 259px,#ffffcc 260px,#ffffa0 262px,#ffff56 264px,#ffff26 265px,#fff600 266px,#ff1500 272px,#f20000 273px,#b50000 275px,#830000 277px,#5f0000 279px,#3c0000 282px,#2d0000 284px,#200000 288px,#1a0000 296px,#1a0000 307px)"></i><i style="background:linear-gradient(90deg,#1a0000 0px,#1d0000 57px,#1a0000 63px,#1a0000 213px,#220000 225px,#320000 230px,#510000 234px,#660000 236px,#980000 239px,#c20000 241px,#f70000 243px,#ff1500 244px,#fffe00 251px,#ffff5a 253px,#ffff9d 255px,#ffffb4 256px,#ffffc4 257px,#ffffc8 259px,#ffffc0 260px,#ffffac 261px,#ffff91 262px,#ffff46 264px,#ffff17 265px,#ffec00 266px,#ff2f00 271px,#ff0d00 272px,#ea0000 273px,#ca0000 274px,#960000 276px,#5c0000 279px,#3a0000 282px,#270000 285px,#1a0000 293px,#1a0000 307px)"></i><i style="background:linear-gradient(90deg,#1a0000 0px,#1d0000 57px,#1a0000 63px,#1a0000 213px,#220000 225px,#2f0000 229px,#4a0000 233px,#790000 237px,#b30000 240px,#e20000 242px,#ff0000 243px,#ff5c00 246px,#ffe400 250px,#ffff07 251px,#ffff5a 253px,#ffff7d 254px,#ffffb0 256px,#ffffbc 257px,#ffffc0 258px,#ffffbc 259px,#ffffb0 260px,#ffff9d 261px,#ffff81 262px,#ffff5e 263px,#ffff03 265px,#ffba00 267px,#ff2500 271px,#ff0200 272px,#900000 276px,#690000 278px,#4c0000 280px,#320000 283px,#250000 286px,#1d0000 290px,#1a0000 307px)"></i><i style="background:linear-gradient(90deg,#1a0000 0px,#1d0000 58px,#1a0000 64px,#1a0000 214px,#200000 223px,#320000 229px,#440000 232px,#6e0000 236px,#a30000 239px,#cf0000 241px,#ea0000 242px,#ff0500 243px,#ff4100 245px,#ffe700 250px,#ffff0b 251px,#ffff5e 253px,#ffff99 255px,#ffffac 256px,#ffffb8 258px,#ffffb4 259px,#ffffa4 260px,#ffff71 262px,#ffff1f 264px,#fff400 265px,#ff1d00 271px,#f90000 272px,#bd0000 274px,#8b0000 276px,#570000 279px,#370000 282px,#250000 286px,#1d0000 290px,#1a0000 307px)"></i><i style="background:linear-gradient(90deg,#1a0000 0px,#1d0000 59px,#1a0000 65px,#1a0000 215px,#250000 225px,#370000 230px,#590000 234px,#930000 238px,#d50000 241px,#ef0000 242px,#ff0d00 243px,#ff6900 246px,#ffec00 250px,#ffff0f 251px,#ffff5e 253px,#ffff95 255px,#ffffa4 256px,#ffffac 257px,#ffffac 258px,#ffffa4 259px,#ffff95 260px,#ffff7d 261px,#ffff3a 263px,#ffff0f 264px,#ffe700 265px,#ff1200 271px,#f20000 272px,#d20000 273px,#9e0000 275px,#740000 277px,#540000 279px,#2f0000 283px,#220000 286px,#1a0000 295px,#1a0000 307px)"></i><i style="background:linear-gradient(90deg,#1a0000 0px,#1d0000 59px,#1a0000 65px,#1a0000 215px,#250000 225px,#350000 229px,#510000 233px,#760000 236px,#980000 238px,#c20000 240px,#f70000 242px,#ff1200 243px,#ffcf00 249px,#ffef00 250px,#ffff13 251px,#ffff3a 252px,#ffff79 254px,#ffff9d 256px,#ffffa4 257px,#ffff99 259px,#ffff6d 261px,#ffff4e 262px,#fffc00 264px,#ffba00 266px,#ff2a00 270px,#ff0a00 271px,#ea0000 272px,#ca0000 273px,#980000 275px,#710000 277px,#510000 279px,#350000 282px,#220000 286px,#1a0000 294px,#1a0000 307px)"></i><i style="background:linear-gradient(90deg,#1a0000 0px,#1d0000 60px,#1a0000 66px,#1a0000 215px,#220000 223px,#320000 228px,#440000 231px,#540000 233px,#8b0000 237px,#ca0000 240px,#fc0000 242px,#ff3700 244px,#fff100 250px,#ffff13 251px,#ffff3a 252px,#ffff5a 253px,#ffff85 255px,#ffff95 256px,#ffff99 257px,#ffff95 258px,#ffff89 259px,#ffff5e 261px,#ffff13 263px,#ffef00 264px,#ff0000 271px,#df0000 272px,#930000 275px,#6c0000 277px,#4f0000 279px,#2d0000 283px,#200000 287px,#1a0000 295px,#1a0000 307px)"></i><i style="background:linear-gradient(90deg,#1a0000 0px,#1d0000 61px,#1a0000 67px,#1a0000 214px,#250000 224px,#370000 229px,#440000 231px,#710000 235px,#a30000 238px,#ff0200 242px,#ffb700 248px,#ffd700 249px,#fff100 250px,#ffff13 251px,#ffff56 253px,#ffff6d 254px,#ffff89 256px,#ffff8d 257px,#ffff79 259px,#ffff65 260px,#ffff4a 261px,#fffe00 263px,#ffc200 265px,#ff1700 270px,#f70000 271px,#d70000 272px,#a30000 274px,#790000 276px,#4c0000 279px,#320000 282px,#250000 285px,#1a0000 293px,#1a0000 307px)"></i><i style="background:linear-gradient(90deg,#1a0000 0px,#1d0000 61px,#1a0000 67px,#1a0000 214px,#250000 224px,#350000 228px,#470000 231px,#660000 234px,#a80000 238px,#d50000 240px,#ef0000 241px,#ff0a00 242px,#ff9d00 247px,#ffda00 249px,#fff400 250px,#ffff13 251px,#ffff36 252px,#ffff52 253px,#ffff75 255px,#ffff7d 256px,#ffff7d 257px,#ffff69 259px,#ffff36 261px,#ffff13 262px,#fff100 263px,#ffb500 265px,#ff2c00 269px,#ff0d00 270px,#ec0000 271px,#b50000 273px,#760000 276px,#570000 278px,#370000 281px,#250000 285px,#1a0000 293px,#1a0000 307px)"></i><i style="background:linear-gradient(90deg,#1a0000 0px,#1d0000 62px,#1a0000 68px,#1a0000 214px,#220000 222px,#320000 227px,#420000 230px,#5f0000 233px,#890000 236px,#ad0000 238px,#f40000 241px,#ff1000 242px,#ffda00 249px,#fff400 250px,#ffff13 251px,#ffff32 252px,#ffff5e 254px,#ffff6d 255px,#ffff71 257px,#ffff56 259px,#ffff22 261px,#fffe00 262px,#ffc500 264px,#ff0200 270px,#b00000 273px,#830000 275px,#610000 277px,#470000 279px,#2a0000 283px,#1d0000 289px,#1a0000 307px)"></i><i style="background:linear-gradient(90deg,#1a0000 0px,#1d0000 63px,#1a0000 69px,#1a0000 213px,#250000 223px,#370000 228px,#440000 230px,#6e0000 234px,#a00000 237px,#f90000 241px,#ff1500 242px,#ffdc00 249px,#fff400 250px,#ffff13 251px,#ffff46 253px,#ffff61 255px,#ffff65 256px,#ffff61 257px,#ffff56 258px,#ffff2a 260px,#ffff0f 261px,#ffef00 262px,#ff9800 265px,#ff1700 269px,#f90000 270px,#c00000 272px,#7e0000 275px,#5f0000 277px,#3c0000 280px,#270000 284px,#1d0000 288px,#1a0000 307px)"></i><i style="background:linear-gradient(90deg,#1a0000 0px,#1d0000 64px,#1a0000 70px,#1a0000 213px,#250000 223px,#350000 227px,#470000 230px,#660000 233px,#a50000 237px,#e70000 240px,#ff0200 241px,#ffa800 247px,#ffc500 248px,#fff400 250px,#ffff0f 251px,#ffff2a 252px,#ffff4e 254px,#ffff56 255px,#ffff52 257px,#ffff32 259px,#ffff17 260px,#fff900 261px,#ffc700 263px,#ff0d00 269px,#ef0000 270px,#b80000 272px,#8b0000 274px,#590000 277px,#3a0000 280px,#220000 285px,#1a0000 294px,#1a0000 307px)"></i><i style="background:linear-gradient(90deg,#1a0000 0px,#1d0000 64px,#1a0000 70px,#1a0000 212px,#220000 221px,#320000 226px,#440000 229px,#5f0000 232px,#980000 236px,#ec0000 240px,#ff0800 241px,#ff9000 246px,#ffc700 248px,#fff400 250px,#ffff0b 251px,#ffff36 253px,#ffff4a 255px,#ffff42 257px,#ffff1f 259px,#ffff03 260px,#ffec00 261px,#ff7e00 265px,#ff0200 269px,#b30000 272px,#860000 274px,#640000 276px,#420000 279px,#270000 283px,#1d0000 289px,#1a0000 307px)"></i><i style="background:linear-gradient(90deg,#1a0000 0px,#1d0000 44px,#200000 49px,#1d0000 55px,#1a0000 121px,#1a0000 212px,#250000 222px,#370000 227px,#570000 231px,#6e0000 233px,#b00000 237px,#f40000 240px,#ff0d00 241px,#ffb000 247px,#fff400 250px,#ffff07 251px,#ffff1f 252px,#ffff2e 253px,#ffff3a 255px,#ffff3a 256px,#ffff1f 258px,#ffff0b 259px,#fff400 260px,#ffaa00 263px,#ff1500 268px,#f70000 269px,#ab0000 272px,#810000 274px,#540000 277px,#370000 280px,#250000 284px,#1a0000 292px,#1a0000 307px)"></i><i style="background:linear-gradient(90deg,#1a0000 0px,#1d0000 43px,#200000 49px,#1a0000 79px,#1a0000 212px,#250000 222px,#350000 226px,#510000 230px,#740000 233px,#a30000 236px,#f90000 240px,#ff1500 241px,#ffca00 248px,#fff100 250px,#ffff03 251px,#ffff26 253px,#ffff2e 254px,#ffff2a 256px,#ffff1f 257px,#ffff0b 258px,#fff600 259px,#ffcf00 261px,#ff7e00 264px,#ff0a00 268px,#ec0000 269px,#a30000 272px,#7b0000 274px,#5c0000 276px,#3c0000 279px,#270000 283px,#1a0000 291px,#1a0000 307px)"></i><i style="background:linear-gradient(90deg,#1a0000 0px,#1d0000 42px,#200000 48px,#1a0000 82px,#1a0000 211px,#250000 221px,#320000 225px,#440000 228px,#5f0000 231px,#980000 235px,#d20000 238px,#ff0200 240px,#ffb500 247px,#fff100 250px,#fffe00 251px,#ffff13 252px,#ffff22 254px,#ffff22 255px,#ffff1b 256px,#fffc00 258px,#ffd700 260px,#ff8e00 263px,#ff0000 268px,#ca0000 270px,#9b0000 272px,#660000 275px,#3c0000 279px,#270000 283px,#1d0000 288px,#1a0000 306px,#1a0000 307px)"></i><i style="background:linear-gradient(90deg,#1a0000 0px,#1d0000 42px,#200000 48px,#1a0000 84px,#1a0000 211px,#250000 221px,#2f0000 224px,#470000 228px,#6e0000 232px,#c20000 237px,#ef0000 239px,#ff0800 240px,#ffa000 246px,#ffdf00 249px,#fffc00 251px,#ffff13 253px,#ffff17 254px,#ffff0b 256px,#fffc00 257px,#ffef00 258px,#ffca00 260px,#ff6400 264px,#ff1000 267px,#f20000 268px,#c00000 270px,#710000 274px,#4a0000 277px,#2d0000 281px,#220000 284px,#1a0000 293px,#1a0000 307px)"></i><i style="background:linear-gradient(90deg,#1a0000 0px,#1d0000 42px,#200000 48px,#1a0000 84px,#1a0000 210px,#220000 219px,#2f0000 224px,#4a0000 228px,#660000 231px,#a30000 235px,#df0000 238px,#f70000 239px,#ff1000 240px,#ffa200 246px,#ffdf00 249px,#fff900 251px,#ffff03 252px,#ffff0b 253px,#ffff0b 254px,#fffc00 256px,#ffe100 258px,#ffa500 261px,#ff0200 267px,#a30000 271px,#7b0000 273px,#510000 276px,#370000 279px,#250000 283px,#1a0000 291px,#1a0000 307px)"></i><i style="background:linear-gradient(90deg,#1a0000 0px,#1d0000 41px,#200000 47px,#1a0000 86px,#1a0000 210px,#250000 220px,#370000 225px,#540000 229px,#860000 233px,#cf0000 237px,#fc0000 239px,#ff2c00 241px,#ff8e00 245px,#ffba00 247px,#ffdc00 249px,#fff400 251px,#fffc00 252px,#fffe00 254px,#fff100 256px,#ffd400 258px,#ffad00 260px,#ff6400 263px,#ff1200 266px,#f70000 267px,#c50000 269px,#760000 273px,#440000 277px,#2f0000 280px,#200000 285px,#1a0000 295px,#1a0000 307px)"></i><i style="background:linear-gradient(90deg,#1a0000 0px,#1d0000 41px,#200000 47px,#1a0000 88px,#1a0000 209px,#250000 220px,#350000 224px,#470000 227px,#6e0000 231px,#ad0000 235px,#ec0000 238px,#ff0500 239px,#ffa800 246px,#ffdc00 249px,#fff100 251px,#fff600 253px,#fff600 254px,#ffe700 256px,#ffca00 258px,#ff7100 262px,#ff0800 266px,#ec0000 267px,#930000 271px,#710000 273px,#420000 277px,#2a0000 281px,#1d0000 287px,#1a0000 307px)"></i><i style="background:linear-gradient(90deg,#1a0000 0px,#1d0000 41px,#200000 47px,#1a0000 89px,#1a0000 208px,#220000 218px,#320000 223px,#4a0000 227px,#660000 230px,#900000 233px,#dd0000 237px,#f20000 238px,#ff0a00 239px,#ff9500 245px,#ffbd00 247px,#ffda00 249px,#ffec00 251px,#ffef00 253px,#ffe700 255px,#ffcc00 257px,#ffbd00 258px,#ff6400 262px,#ff1500 265px,#fc0000 266px,#ca0000 268px,#7b0000 272px,#540000 275px,#320000 279px,#220000 283px,#1a0000 293px,#1a0000 307px)"></i><i style="background:linear-gradient(90deg,#1a0000 0px,#1d0000 41px,#200000 47px,#1a0000 91px,#1a0000 208px,#250000 219px,#370000 224px,#4c0000 227px,#790000 231px,#960000 233px,#e20000 237px,#f90000 238px,#ff1000 239px,#ff8300 244px,#ffbd00 247px,#ffe100 250px,#ffe900 252px,#ffe400 254px,#ffcf00 256px,#ffb000 258px,#ff8600 260px,#ff0a00 265px,#f20000 266px,#ad0000 269px,#860000 271px,#4f0000 275px,#320000 279px,#250000 282px,#1a0000 290px,#1a0000 307px)"></i><i style="background:linear-gradient(90deg,#1a0000 0px,#1d0000 41px,#200000 47px,#1a0000 93px,#1a0000 207px,#220000 217px,#350000 223px,#470000 226px,#640000 229px,#9b0000 233px,#ea0000 237px,#ff0000 238px,#ff7100 243px,#ffad00 246px,#ffca00 248px,#ffdc00 250px,#ffe100 252px,#ffda00 254px,#ffc500 256px,#ffa500 258px,#ff6400 261px,#ff0000 265px,#ba0000 268px,#810000 271px,#570000 274px,#350000 278px,#270000 281px,#1d0000 287px,#1a0000 305px,#1a0000 307px)"></i><i style="background:linear-gradient(90deg,#1a0000 0px,#1d0000 41px,#200000 47px,#1a0000 96px,#1a0000 207px,#270000 219px,#3c0000 224px,#5f0000 228px,#740000 230px,#a00000 233px,#ef0000 237px,#ff0500 238px,#ff7600 243px,#ffbd00 247px,#ffd200 249px,#ffda00 251px,#ffd700 253px,#ffd200 254px,#ffba00 256px,#ff9800 258px,#ff3f00 262px,#ff0d00 264px,#f40000 265px,#8b0000 270px,#5f0000 273px,#3a0000 277px,#270000 281px,#1d0000 287px,#1a0000 305px,#1a0000 307px)"></i><i style="background:linear-gradient(90deg,#1a0000 0px,#1d0000 41px,#200000 47px,#1a0000 98px,#1a0000 206px,#250000 217px,#3a0000 223px,#570000 227px,#790000 230px,#b80000 234px,#f40000 237px,#ff0a00 238px,#ff7900 243px,#ffad00 246px,#ffc500 248px,#ffd200 250px,#ffd400 252px,#ffc700 254px,#ffb000 256px,#ff6100 260px,#ff0200 264px,#bd0000 267px,#860000 270px,#5c0000 273px,#370000 277px,#220000 282px,#1a0000 293px,#1a0000 307px)"></i><i style="background:linear-gradient(90deg,#1a0000 0px,#1d0000 41px,#200000 47px,#1a0000 100px,#1a0000 205px,#220000 215px,#370000 222px,#4a0000 225px,#660000 228px,#7e0000 230px,#c00000 234px,#f90000 237px,#ff1200 238px,#ff8e00 244px,#ffad00 246px,#ffca00 249px,#ffca00 252px,#ffbd00 254px,#ffa200 256px,#ff8000 258px,#ff1000 263px,#f70000 264px,#b50000 267px,#810000 270px,#570000 273px,#3c0000 276px,#270000 280px,#1d0000 286px,#1a0000 304px,#1a0000 307px)"></i><i style="background:linear-gradient(90deg,#1a0000 0px,#1d0000 41px,#200000 47px,#1a0000 103px,#1a0000 204px,#250000 216px,#3a0000 222px,#570000 226px,#860000 230px,#b30000 233px,#ff0200 237px,#ff7e00 243px,#ffb700 247px,#ffc500 249px,#ffc700 251px,#ffbd00 253px,#ff9800 256px,#ff4900 260px,#ff0500 263px,#d70000 265px,#9b0000 268px,#790000 270px,#4a0000 274px,#2f0000 278px,#200000 283px,#1a0000 293px,#1a0000 307px)"></i><i style="background:linear-gradient(90deg,#1a0000 0px,#1d0000 41px,#200000 47px,#1a0000 105px,#1a0000 204px,#250000 215px,#2f0000 219px,#4c0000 224px,#710000 228px,#a80000 232px,#f20000 236px,#ff0800 237px,#ff5900 241px,#ff8e00 244px,#ffaa00 246px,#ffbf00 249px,#ffbf00 251px,#ffb200 253px,#ff9b00 255px,#ff7b00 257px,#ff1000 262px,#f90000 263px,#a50000 267px,#660000 271px,#3f0000 275px,#2d0000 278px,#1d0000 285px,#1a0000 307px)"></i><i style="background:linear-gradient(90deg,#1a0000 0px,#1d0000 41px,#200000 47px,#1a0000 108px,#1a0000 203px,#250000 215px,#370000 220px,#4f0000 224px,#760000 228px,#a00000 231px,#d20000 234px,#f90000 236px,#ff0d00 237px,#ff5c00 241px,#ff9000 244px,#ffa800 246px,#ffb500 248px,#ffb500 251px,#ffa800 253px,#ff9000 255px,#ff5c00 258px,#ff0500 262px,#da0000 264px,#9e0000 267px,#6e0000 270px,#440000 274px,#2d0000 278px,#220000 281px,#1a0000 292px,#1a0000 307px)"></i><i style="background:linear-gradient(90deg,#1a0000 0px,#1d0000 41px,#200000 47px,#200000 69px,#1d0000 75px,#1a0000 135px,#1a0000 201px,#220000 213px,#350000 219px,#4c0000 223px,#710000 227px,#890000 229px,#da0000 234px,#ff0000 236px,#ff6100 241px,#ff9b00 245px,#ffad00 247px,#ffb200 250px,#ffa800 252px,#ff9300 254px,#ff4f00 258px,#ff1000 261px,#f90000 262px,#a80000 266px,#6c0000 270px,#4a0000 273px,#2f0000 277px,#220000 281px,#1a0000 292px,#1a0000 307px)"></i><i style="background:linear-gradient(90deg,#1a0000 0px,#1d0000 41px,#200000 47px,#200000 71px,#1d0000 77px,#1a0000 131px,#1a0000 200px,#220000 212px,#370000 219px,#510000 223px,#760000 227px,#ad0000 231px,#f40000 235px,#ff0800 236px,#ff6400 241px,#ff8e00 244px,#ffa200 246px,#ffaa00 248px,#ffa500 251px,#ff9300 253px,#ff7900 255px,#ff2f00 259px,#ff0500 261px,#da0000 263px,#900000 267px,#590000 271px,#3f0000 274px,#2a0000 278px,#1d0000 284px,#1a0000 307px)"></i><i style="background:linear-gradient(90deg,#1a0000 0px,#1d0000 41px,#220000 51px,#1a0000 104px,#1a0000 199px,#250000 213px,#3a0000 219px,#540000 223px,#710000 226px,#a50000 230px,#ea0000 234px,#fc0000 235px,#ff6600 241px,#ff8300 243px,#ff9800 245px,#ffa500 248px,#ffa000 250px,#ff9300 252px,#ff7b00 254px,#ff4900 257px,#ff1000 260px,#f90000 261px,#ab0000 265px,#6e0000 269px,#440000 273px,#2d0000 277px,#1d0000 284px,#1a0000 307px)"></i><i style="background:linear-gradient(90deg,#1a0000 0px,#1d0000 41px,#220000 51px,#1a0000 107px,#1a0000 197px,#220000 210px,#2f0000 216px,#510000 222px,#900000 228px,#cd0000 232px,#ff0200 235px,#ff3a00 238px,#ff7600 242px,#ff8e00 244px,#ff9b00 246px,#ff9d00 249px,#ff8800 252px,#ff7e00 253px,#ff4f00 256px,#ff0200 260px,#930000 266px,#690000 269px,#420000 273px,#2f0000 276px,#220000 280px,#1a0000 291px,#1a0000 307px)"></i><i style="background:linear-gradient(90deg,#1a0000 0px,#1d0000 41px,#220000 51px,#1a0000 110px,#1a0000 196px,#220000 209px,#320000 216px,#4f0000 221px,#740000 225px,#a50000 229px,#f70000 234px,#ff0a00 235px,#ff4f00 239px,#ff7900 242px,#ff9300 245px,#ff9800 248px,#ff9000 250px,#ff7e00 252px,#ff5400 255px,#ff1f00 258px,#ff0a00 259px,#f70000 260px,#8b0000 266px,#590000 270px,#3f0000 273px,#270000 278px,#1a0000 288px,#1a0000 307px)"></i><i style="background:linear-gradient(90deg,#1a0000 0px,#1d0000 41px,#220000 51px,#1a0000 113px,#1a0000 195px,#220000 209px,#3a0000 217px,#4c0000 220px,#6e0000 224px,#ad0000 229px,#ff0000 234px,#ff4400 238px,#ff7900 242px,#ff8800 244px,#ff9300 247px,#ff8e00 249px,#ff7300 252px,#ff4900 255px,#ff0000 259px,#a50000 264px,#6c0000 268px,#4c0000 271px,#370000 274px,#270000 278px,#1d0000 284px,#1a0000 307px)"></i><i style="background:linear-gradient(90deg,#1a0000 0px,#1d0000 41px,#220000 51px,#1a0000 116px,#1a0000 193px,#250000 209px,#2d0000 213px,#4a0000 219px,#6c0000 223px,#9b0000 227px,#c50000 230px,#f70000 233px,#ff0800 234px,#ff4900 238px,#ff6e00 241px,#ff8800 244px,#ff8e00 246px,#ff7e00 250px,#ff5c00 253px,#ff0800 258px,#f40000 259px,#ad0000 263px,#740000 267px,#510000 270px,#350000 274px,#250000 278px,#1a0000 288px,#1a0000 307px)"></i><i style="background:linear-gradient(90deg,#1a0000 0px,#1d0000 42px,#220000 52px,#1a0000 120px,#1a0000 192px,#250000 208px,#2f0000 213px,#470000 218px,#660000 222px,#890000 225px,#cd0000 230px,#ff0000 233px,#ff4c00 238px,#ff7100 241px,#ff8600 244px,#ff8600 247px,#ff7b00 249px,#ff5e00 252px,#ff3200 255px,#fc0000 258px,#b50000 262px,#790000 266px,#570000 269px,#3a0000 273px,#270000 277px,#1a0000 287px,#1a0000 307px)"></i><i style="background:linear-gradient(90deg,#1a0000 0px,#1d0000 42px,#220000 52px,#250000 63px,#220000 69px,#1a0000 118px,#1a0000 191px,#250000 207px,#2f0000 212px,#4c0000 218px,#6e0000 222px,#900000 225px,#c80000 229px,#f70000 232px,#ff0800 233px,#ff5100 238px,#ff6900 240px,#ff7e00 243px,#ff8300 245px,#ff8000 247px,#ff7300 249px,#ff5400 252px,#ff1500 256px,#ff0200 257px,#f20000 258px,#ad0000 262px,#740000 266px,#5c0000 268px,#370000 273px,#270000 277px,#1d0000 283px,#1a0000 307px)"></i><i style="background:linear-gradient(90deg,#1a0000 0px,#1d0000 42px,#250000 58px,#1a0000 118px,#1a0000 189px,#250000 206px,#2f0000 211px,#440000 216px,#610000 220px,#8b0000 224px,#cf0000 229px,#ff0000 232px,#ff5400 238px,#ff7900 242px,#ff7e00 246px,#ff6b00 249px,#ff4900 252px,#ff0a00 256px,#f70000 257px,#a30000 262px,#6e0000 266px,#470000 270px,#2f0000 274px,#1d0000 282px,#1a0000 307px)"></i><i style="background:linear-gradient(90deg,#1a0000 0px,#1d0000 42px,#250000 58px,#1a0000 122px,#1a0000 186px,#220000 202px,#2f0000 209px,#3f0000 214px,#5f0000 219px,#860000 223px,#d70000 229px,#f70000 231px,#ff0800 232px,#ff4c00 237px,#ff6b00 240px,#ff7900 243px,#ff7900 245px,#ff6b00 248px,#ff4c00 251px,#ff0000 256px,#ba0000 260px,#810000 264px,#540000 268px,#320000 273px,#220000 278px,#1a0000 290px,#1a0000 307px)"></i><i style="background:linear-gradient(90deg,#1a0000 0px,#1d0000 42px,#250000 58px,#200000 91px,#1d0000 97px,#1a0000 183px,#1d0000 189px,#220000 201px,#2f0000 208px,#440000 214px,#5f0000 218px,#790000 221px,#a80000 225px,#ef0000 230px,#ff0000 231px,#ff4400 236px,#ff6400 239px,#ff7100 241px,#ff7600 244px,#ff7100 246px,#ff4f00 250px,#ff0500 255px,#f40000 256px,#a30000 261px,#6e0000 265px,#510000 268px,#370000 272px,#270000 276px,#1a0000 286px,#1a0000 307px)"></i><i style="background:linear-gradient(90deg,#1a0000 0px,#1d0000 43px,#250000 59px,#220000 85px,#1d0000 105px,#1a0000 180px,#1d0000 186px,#220000 200px,#370000 210px,#4f0000 215px,#6c0000 219px,#a30000 224px,#f70000 230px,#ff0800 231px,#ff5400 237px,#ff6b00 240px,#ff7300 243px,#ff6900 246px,#ff4400 250px,#ff1a00 253px,#ff0a00 254px,#f90000 255px,#b80000 259px,#740000 264px,#4c0000 268px,#2f0000 273px,#1d0000 281px,#1a0000 307px)"></i><i style="background:linear-gradient(90deg,#1a0000 0px,#1d0000 43px,#250000 59px,#250000 80px,#200000 89px,#1a0000 164px,#200000 196px,#2f0000 206px,#4a0000 213px,#5c0000 216px,#7e0000 220px,#b80000 225px,#ff0000 230px,#ff2a00 233px,#ff5600 237px,#ff6900 240px,#ff6e00 243px,#ff6100 246px,#ff4700 249px,#ff1000 253px,#ff0000 254px,#930000 261px,#640000 265px,#420000 269px,#270000 275px,#1d0000 283px,#1a0000 301px,#1a0000 307px)"></i><i style="background:linear-gradient(90deg,#1a0000 0px,#1d0000 43px,#270000 62px,#1d0000 122px,#1a0000 173px,#1d0000 179px,#200000 195px,#2a0000 202px,#3c0000 209px,#540000 214px,#7b0000 219px,#a80000 223px,#f90000 229px,#ff0800 230px,#ff3a00 234px,#ff5600 237px,#ff6400 239px,#ff6900 243px,#ff6100 245px,#ff3c00 249px,#ff0500 253px,#e40000 255px,#8b0000 261px,#5f0000 265px,#3a0000 270px,#2d0000 273px,#200000 279px,#1a0000 291px,#1a0000 307px)"></i><i style="background:linear-gradient(90deg,#1a0000 0px,#1d0000 43px,#270000 62px,#1d0000 130px,#1a0000 168px,#1d0000 174px,#200000 193px,#2a0000 201px,#420000 209px,#690000 216px,#980000 221px,#ff0200 229px,#ff3400 233px,#ff5900 237px,#ff6600 240px,#ff6400 243px,#ff4900 247px,#ff1700 251px,#ff0a00 252px,#f90000 253px,#a00000 259px,#6e0000 263px,#510000 266px,#320000 271px,#250000 275px,#1a0000 287px,#1a0000 307px)"></i><i style="background:linear-gradient(90deg,#1a0000 0px,#1d0000 43px,#270000 62px,#200000 120px,#1d0000 126px,#1d0000 183px,#250000 197px,#370000 205px,#570000 212px,#830000 218px,#ba0000 223px,#fc0000 228px,#ff4100 234px,#ff5900 237px,#ff6100 239px,#ff6100 242px,#ff4900 246px,#ff1a00 250px,#ff0000 252px,#a50000 258px,#740000 262px,#4f0000 266px,#350000 270px,#220000 276px,#1a0000 288px,#1a0000 307px)"></i><i style="background:linear-gradient(90deg,#1a0000 0px,#1d0000 44px,#2a0000 70px,#200000 113px,#1d0000 180px,#250000 195px,#320000 202px,#440000 207px,#6c0000 214px,#960000 219px,#cf0000 224px,#f70000 227px,#ff0200 228px,#ff2700 231px,#ff4c00 235px,#ff5c00 238px,#ff5c00 241px,#ff5600 243px,#ff3f00 246px,#ff1000 250px,#ff0200 251px,#d70000 254px,#830000 260px,#510000 265px,#370000 269px,#220000 276px,#1a0000 288px,#1a0000 307px)"></i><i style="background:linear-gradient(90deg,#1a0000 0px,#1d0000 44px,#2a0000 70px,#1d0000 145px,#200000 185px,#2a0000 197px,#350000 202px,#4f0000 208px,#740000 214px,#960000 218px,#cd0000 223px,#ff0000 227px,#ff3f00 233px,#ff5600 237px,#ff5900 240px,#ff4f00 243px,#ff2c00 247px,#ff0500 250px,#ea0000 252px,#960000 258px,#5f0000 263px,#420000 267px,#270000 273px,#1d0000 281px,#1a0000 305px,#1a0000 307px)"></i><i style="background:linear-gradient(90deg,#1a0000 0px,#1d0000 44px,#2d0000 74px,#220000 114px,#1d0000 172px,#250000 188px,#2a0000 196px,#320000 200px,#4a0000 206px,#660000 211px,#a00000 218px,#e20000 224px,#f90000 226px,#ff0500 227px,#ff3200 231px,#ff4c00 235px,#ff5400 237px,#ff5400 240px,#ff3f00 244px,#ff1500 248px,#ff0800 249px,#f90000 250px,#8e0000 258px,#6c0000 261px,#4a0000 265px,#2f0000 270px,#200000 277px,#1a0000 289px,#1a0000 307px)"></i><i style="background:linear-gradient(90deg,#1a0000 0px,#1d0000 44px,#2d0000 72px,#1d0000 163px,#270000 192px,#3c0000 202px,#540000 207px,#7e0000 213px,#bd0000 220px,#f70000 225px,#ff0200 226px,#ff3400 231px,#ff4c00 235px,#ff5100 238px,#ff4400 242px,#ff2200 246px,#fc0000 249px,#7b0000 259px,#5f0000 262px,#420000 266px,#270000 272px,#1d0000 280px,#1a0000 304px,#1a0000 307px)"></i><i style="background:linear-gradient(90deg,#1a0000 0px,#1d0000 45px,#2d0000 72px,#200000 158px,#220000 180px,#2f0000 196px,#3c0000 201px,#610000 208px,#860000 213px,#d20000 221px,#ff0000 225px,#ff2f00 230px,#ff4400 233px,#ff4c00 237px,#ff4700 240px,#ff2200 245px,#ff0000 248px,#8b0000 257px,#590000 262px,#3f0000 266px,#2d0000 270px,#200000 276px,#1a0000 289px,#1a0000 307px)"></i><i style="background:linear-gradient(90deg,#1a0000 0px,#1d0000 45px,#2f0000 74px,#270000 128px,#200000 158px,#250000 181px,#320000 195px,#3a0000 199px,#540000 205px,#7e0000 211px,#e40000 222px,#f90000 224px,#ff0500 225px,#ff2a00 229px,#ff3f00 232px,#ff4700 234px,#ff4700 238px,#ff3200 242px,#ff0d00 246px,#ff0000 247px,#900000 256px,#660000 260px,#470000 264px,#2f0000 269px,#200000 276px,#1a0000 289px,#1a0000 307px)"></i><i style="background:linear-gradient(90deg,#1a0000 0px,#1d0000 45px,#2f0000 74px,#2d0000 119px,#270000 131px,#220000 163px,#270000 182px,#370000 196px,#4a0000 202px,#6e0000 208px,#cf0000 219px,#f70000 223px,#ff0200 224px,#ff2700 228px,#ff3f00 232px,#ff4400 236px,#ff3c00 239px,#ff1f00 243px,#ff0000 246px,#7e0000 257px,#590000 261px,#3f0000 265px,#270000 271px,#1d0000 279px,#1a0000 303px,#1a0000 307px)"></i><i style="background:linear-gradient(90deg,#1a0000 0px,#1d0000 46px,#320000 77px,#2f0000 123px,#250000 150px,#220000 161px,#250000 167px,#2a0000 181px,#3c0000 197px,#590000 204px,#8e0000 211px,#ff0000 223px,#ff2a00 228px,#ff3c00 232px,#ff3f00 236px,#ff2c00 240px,#ff0a00 244px,#ff0000 245px,#760000 257px,#4c0000 262px,#2f0000 268px,#200000 275px,#1a0000 288px,#1a0000 307px)"></i><i style="background:linear-gradient(90deg,#1a0000 0px,#1d0000 46px,#320000 77px,#350000 108px,#320000 114px,#2f0000 133px,#250000 158px,#2a0000 177px,#3f0000 196px,#540000 202px,#7b0000 208px,#f40000 221px,#ff0500 223px,#ff1700 225px,#ff3400 230px,#ff3c00 234px,#ff2f00 238px,#ff1d00 241px,#ff0000 244px,#830000 255px,#5f0000 259px,#440000 263px,#2a0000 269px,#1d0000 278px,#1a0000 307px)"></i><i style="background:linear-gradient(90deg,#1a0000 0px,#1d0000 46px,#350000 81px,#350000 131px,#2a0000 149px,#270000 165px,#370000 187px,#470000 197px,#590000 202px,#8b0000 209px,#f20000 220px,#ff0200 222px,#ff2700 227px,#ff3700 231px,#ff3400 235px,#ff2200 239px,#ff0000 243px,#860000 254px,#510000 260px,#320000 266px,#200000 274px,#1a0000 287px,#1a0000 307px)"></i><i style="background:linear-gradient(90deg,#1a0000 0px,#1d0000 47px,#350000 80px,#3c0000 116px,#370000 135px,#2d0000 153px,#2f0000 175px,#4a0000 196px,#590000 201px,#790000 206px,#a30000 211px,#ef0000 219px,#ff0000 221px,#ff2200 226px,#ff3200 230px,#ff2f00 234px,#ff2500 237px,#fc0000 242px,#df0000 245px,#7e0000 254px,#540000 259px,#3c0000 263px,#250000 270px,#1a0000 282px,#1a0000 307px)"></i><i style="background:linear-gradient(90deg,#1a0000 0px,#1d0000 47px,#370000 83px,#420000 119px,#3f0000 132px,#2f0000 157px,#320000 173px,#440000 189px,#570000 199px,#690000 203px,#8e0000 208px,#f40000 219px,#ff0500 221px,#ff2700 227px,#ff2c00 231px,#ff2a00 234px,#ff1500 238px,#fc0000 241px,#810000 253px,#570000 258px,#3a0000 263px,#220000 271px,#1a0000 287px,#1a0000 307px)"></i><i style="background:linear-gradient(90deg,#1a0000 0px,#1d0000 47px,#3a0000 86px,#470000 116px,#440000 134px,#350000 155px,#370000 174px,#510000 194px,#5f0000 200px,#7b0000 205px,#ad0000 211px,#ef0000 218px,#ff0000 220px,#ff2200 226px,#ff2700 230px,#ff2200 234px,#ff0a00 238px,#ff0200 239px,#dd0000 243px,#810000 252px,#510000 258px,#2f0000 265px,#200000 273px,#1a0000 286px,#1a0000 307px)"></i><i style="background:linear-gradient(90deg,#1a0000 0px,#1d0000 48px,#420000 96px,#4f0000 122px,#4a0000 136px,#3a0000 154px,#370000 165px,#440000 181px,#610000 199px,#790000 204px,#ba0000 212px,#ea0000 217px,#ff0200 220px,#ff1000 222px,#ff2200 227px,#ff1f00 232px,#ff0d00 236px,#ff0000 238px,#d20000 243px,#790000 252px,#540000 257px,#3f0000 261px,#2f0000 265px,#200000 272px,#1a0000 287px,#1a0000 307px)"></i><i style="background:linear-gradient(90deg,#1a0000 0px,#1d0000 48px,#320000 75px,#570000 121px,#540000 133px,#3f0000 156px,#3c0000 165px,#4f0000 185px,#690000 200px,#760000 203px,#ab0000 210px,#ea0000 217px,#ff0200 220px,#ff1500 224px,#ff1d00 228px,#ff1a00 231px,#ff0a00 235px,#ff0200 236px,#f40000 238px,#8e0000 249px,#6c0000 253px,#4a0000 258px,#2f0000 264px,#200000 272px,#1a0000 287px,#1a0000 307px)"></i><i style="background:linear-gradient(90deg,#1a0000 0px,#1d0000 49px,#370000 81px,#5f0000 122px,#5c0000 134px,#440000 157px,#470000 173px,#660000 196px,#710000 201px,#8e0000 206px,#f90000 219px,#ff0000 220px,#ff1200 224px,#ff1500 229px,#ff0500 234px,#f70000 236px,#b30000 244px,#7b0000 250px,#570000 255px,#440000 258px,#2a0000 265px,#1d0000 274px,#1a0000 307px)"></i><i style="background:linear-gradient(90deg,#1a0000 0px,#1d0000 49px,#2f0000 73px,#4a0000 96px,#590000 111px,#660000 120px,#690000 128px,#5c0000 142px,#4c0000 157px,#4c0000 171px,#660000 192px,#790000 202px,#9e0000 208px,#ef0000 218px,#ff0200 221px,#ff0d00 224px,#ff1000 227px,#ff0800 231px,#ff0000 233px,#cd0000 240px,#7b0000 249px,#510000 255px,#350000 261px,#220000 269px,#1a0000 285px,#1a0000 307px)"></i><i style="background:linear-gradient(90deg,#1a0000 0px,#1d0000 50px,#320000 76px,#590000 108px,#6e0000 120px,#710000 132px,#510000 158px,#540000 173px,#790000 201px,#900000 206px,#f20000 219px,#ff0000 222px,#ff0500 226px,#fc0000 231px,#df0000 236px,#c00000 240px,#740000 249px,#4c0000 255px,#2f0000 262px,#200000 270px,#1a0000 287px,#1a0000 307px)"></i><i style="background:linear-gradient(90deg,#1a0000 0px,#1d0000 51px,#2f0000 74px,#590000 106px,#760000 120px,#7b0000 131px,#6e0000 143px,#590000 158px,#590000 171px,#7e0000 201px,#8b0000 205px,#df0000 217px,#f70000 222px,#fc0000 226px,#f40000 230px,#e20000 234px,#660000 250px,#470000 255px,#2a0000 263px,#1d0000 274px,#1a0000 304px,#1a0000 307px)"></i><i style="background:linear-gradient(90deg,#1a0000 0px,#1d0000 51px,#2d0000 72px,#510000 100px,#810000 122px,#860000 131px,#740000 146px,#660000 154px,#5f0000 165px,#660000 178px,#7b0000 196px,#810000 202px,#900000 206px,#dd0000 218px,#ec0000 222px,#f20000 225px,#ec0000 229px,#cf0000 235px,#5f0000 250px,#470000 254px,#2f0000 261px,#200000 269px,#1a0000 286px,#1a0000 307px)"></i><i style="background:linear-gradient(90deg,#1a0000 0px,#1d0000 52px,#2f0000 75px,#510000 99px,#890000 122px,#8e0000 130px,#890000 139px,#6e0000 154px,#660000 164px,#6e0000 180px,#7b0000 191px,#830000 202px,#900000 206px,#da0000 219px,#e20000 221px,#e70000 226px,#dd0000 230px,#b50000 237px,#640000 248px,#370000 257px,#220000 266px,#1a0000 283px,#1a0000 307px)"></i><i style="background:linear-gradient(90deg,#1a0000 0px,#1d0000 53px,#2f0000 76px,#540000 100px,#640000 107px,#8e0000 121px,#980000 128px,#960000 136px,#710000 158px,#6e0000 171px,#860000 204px,#960000 208px,#c80000 217px,#da0000 223px,#d70000 227px,#c20000 233px,#590000 249px,#370000 256px,#250000 264px,#1a0000 278px,#1a0000 307px)"></i><i style="background:linear-gradient(90deg,#1a0000 0px,#1d0000 53px,#2f0000 77px,#540000 100px,#740000 111px,#930000 121px,#a00000 128px,#a30000 132px,#980000 141px,#760000 160px,#760000 175px,#830000 196px,#830000 203px,#960000 209px,#bd0000 217px,#cd0000 222px,#ca0000 227px,#b50000 233px,#4c0000 250px,#2f0000 258px,#200000 268px,#1a0000 283px,#1a0000 307px)"></i><i style="background:linear-gradient(90deg,#1a0000 0px,#1d0000 54px,#2f0000 78px,#510000 99px,#6e0000 109px,#960000 120px,#a80000 128px,#ab0000 133px,#960000 147px,#7e0000 160px,#790000 167px,#830000 194px,#830000 205px,#a50000 214px,#b30000 217px,#c00000 223px,#bd0000 227px,#a80000 233px,#510000 248px,#320000 256px,#220000 264px,#1a0000 282px,#1a0000 307px)"></i><i style="background:linear-gradient(90deg,#1a0000 0px,#1d0000 55px,#2f0000 79px,#4c0000 97px,#6c0000 108px,#9e0000 121px,#b00000 129px,#ad0000 138px,#830000 160px,#7e0000 167px,#810000 173px,#810000 202px,#7e0000 203px,#860000 208px,#ab0000 218px,#b30000 223px,#b00000 227px,#a00000 232px,#3f0000 251px,#2a0000 258px,#1d0000 269px,#1a0000 307px)"></i><i style="background:linear-gradient(90deg,#1a0000 0px,#1d0000 56px,#2f0000 80px,#4c0000 98px,#640000 106px,#a00000 121px,#b30000 129px,#b80000 133px,#ad0000 142px,#890000 160px,#830000 168px,#810000 198px,#7b0000 205px,#a30000 221px,#a30000 227px,#900000 233px,#470000 248px,#2f0000 255px,#200000 265px,#1a0000 283px,#1a0000 307px)"></i><i style="background:linear-gradient(90deg,#1a0000 0px,#1d0000 57px,#2d0000 79px,#4c0000 99px,#760000 111px,#9e0000 120px,#b80000 129px,#b80000 138px,#9e0000 152px,#8b0000 161px,#860000 171px,#830000 190px,#760000 205px,#830000 212px,#960000 220px,#960000 227px,#810000 234px,#4a0000 246px,#2f0000 254px,#200000 264px,#1a0000 282px,#1a0000 307px)"></i><i style="background:linear-gradient(90deg,#1a0000 0px,#1d0000 58px,#2d0000 80px,#440000 96px,#640000 107px,#a50000 122px,#b80000 128px,#bd0000 136px,#a50000 150px,#900000 160px,#890000 168px,#7e0000 194px,#710000 207px,#8b0000 221px,#860000 229px,#610000 239px,#3a0000 249px,#270000 257px,#1d0000 270px,#1a0000 300px,#1a0000 307px)"></i><i style="background:linear-gradient(90deg,#1a0000 0px,#1d0000 59px,#2f0000 84px,#470000 98px,#5f0000 106px,#ab0000 124px,#ba0000 130px,#bd0000 137px,#ab0000 148px,#8e0000 162px,#7b0000 193px,#6c0000 207px,#7e0000 220px,#7b0000 228px,#610000 237px,#370000 249px,#270000 256px,#1d0000 269px,#1a0000 299px,#1a0000 307px)"></i><i style="background:linear-gradient(90deg,#1a0000 0px,#1d0000 60px,#2a0000 81px,#3f0000 96px,#5f0000 107px,#a50000 123px,#b50000 128px,#ba0000 134px,#b50000 142px,#8e0000 162px,#790000 191px,#640000 207px,#740000 222px,#710000 227px,#590000 237px,#3c0000 246px,#270000 255px,#1d0000 268px,#1a0000 298px,#1a0000 307px)"></i><i style="background:linear-gradient(90deg,#1a0000 0px,#1d0000 61px,#2a0000 82px,#3f0000 97px,#4a0000 102px,#6c0000 111px,#ab0000 126px,#b80000 132px,#b50000 141px,#8b0000 162px,#760000 189px,#5f0000 207px,#690000 224px,#5c0000 233px,#2f0000 249px,#200000 261px,#1a0000 281px,#1a0000 307px)"></i><i style="background:linear-gradient(90deg,#1a0000 0px,#1d0000 63px,#2d0000 87px,#3f0000 99px,#570000 107px,#9e0000 124px,#b30000 132px,#b00000 141px,#860000 164px,#710000 188px,#570000 208px,#5f0000 225px,#4f0000 235px,#2d0000 249px,#200000 260px,#1a0000 280px,#1a0000 307px)"></i><i style="background:linear-gradient(90deg,#1a0000 0px,#1d0000 64px,#2a0000 86px,#3f0000 100px,#590000 109px,#930000 123px,#a80000 130px,#ab0000 140px,#7e0000 167px,#710000 183px,#4f0000 209px,#540000 225px,#4a0000 234px,#2a0000 249px,#1d0000 263px,#1a0000 307px)"></i><i style="background:linear-gradient(90deg,#1a0000 0px,#1d0000 66px,#2a0000 88px,#3f0000 102px,#5c0000 111px,#960000 126px,#a30000 133px,#a00000 143px,#790000 166px,#6c0000 182px,#4a0000 209px,#4a0000 229px,#270000 250px,#1d0000 264px,#1a0000 300px,#1a0000 307px)"></i><i style="background:linear-gradient(90deg,#1a0000 0px,#1d0000 67px,#2a0000 91px,#3c0000 102px,#590000 112px,#890000 125px,#980000 132px,#9b0000 138px,#890000 153px,#740000 165px,#5f0000 188px,#440000 208px,#420000 230px,#220000 253px,#1a0000 275px,#1a0000 307px)"></i><i style="background:linear-gradient(90deg,#1a0000 0px,#1d0000 69px,#2a0000 93px,#3f0000 105px,#640000 117px,#860000 127px,#900000 136px,#890000 147px,#6c0000 166px,#570000 189px,#3c0000 210px,#3f0000 223px,#320000 239px,#220000 252px,#1a0000 274px,#1a0000 307px)"></i><i style="background:linear-gradient(90deg,#1a0000 0px,#1d0000 71px,#270000 90px,#320000 100px,#440000 109px,#790000 126px,#830000 133px,#810000 145px,#610000 169px,#570000 183px,#370000 210px,#350000 232px,#200000 253px,#1a0000 278px,#1a0000 307px)"></i><i style="background:linear-gradient(90deg,#1a0000 0px,#1d0000 73px,#250000 89px,#2a0000 97px,#440000 111px,#710000 127px,#790000 135px,#760000 145px,#590000 170px,#420000 196px,#370000 205px,#320000 219px,#2f0000 234px,#200000 253px,#1a0000 277px,#1a0000 307px)"></i><i style="background:linear-gradient(90deg,#1a0000 0px,#1d0000 76px,#270000 95px,#320000 104px,#440000 113px,#660000 127px,#6e0000 136px,#690000 148px,#510000 171px,#2f0000 212px,#2d0000 232px,#1d0000 258px,#1a0000 306px,#1a0000 307px)"></i><i style="background:linear-gradient(90deg,#1a0000 0px,#1d0000 79px,#270000 98px,#3c0000 112px,#5f0000 128px,#640000 140px,#2a0000 212px,#270000 237px,#1a0000 266px,#1a0000 307px)"></i><i style="background:linear-gradient(90deg,#1a0000 0px,#1d0000 82px,#270000 101px,#440000 119px,#540000 128px,#590000 140px,#4f0000 157px,#3c0000 181px,#270000 214px,#250000 238px,#1d0000 254px,#1a0000 307px)"></i><i style="background:linear-gradient(90deg,#1a0000 0px,#1d0000 85px,#270000 104px,#4c0000 129px,#4f0000 145px,#370000 180px,#250000 214px,#220000 241px,#1a0000 269px,#1a0000 307px)"></i><i style="background:linear-gradient(90deg,#1a0000 0px,#1d0000 88px,#2a0000 109px,#440000 129px,#470000 144px,#270000 200px,#1a0000 267px,#1a0000 307px)"></i><i style="background:linear-gradient(90deg,#1a0000 0px,#1d0000 91px,#2a0000 112px,#3c0000 128px,#3f0000 145px,#270000 193px,#200000 229px,#1a0000 280px,#1a0000 307px)"></i><i style="background:linear-gradient(90deg,#1a0000 0px,#1d0000 94px,#2a0000 115px,#370000 130px,#350000 156px,#2d0000 172px,#200000 214px,#1a0000 287px,#1a0000 307px)"></i><i style="background:linear-gradient(90deg,#1a0000 0px,#1d0000 97px,#320000 134px,#2d0000 165px,#270000 177px,#1d0000 234px,#1a0000 307px)"></i><i style="background:linear-gradient(90deg,#1a0000 0px,#1d0000 100px,#2d0000 132px,#2a0000 161px,#270000 167px,#1d0000 225px,#1a0000 307px)"></i><i style="background:linear-gradient(90deg,#1a0000 0px,#1a0000 86px,#1d0000 92px,#220000 117px,#270000 127px,#2a0000 143px,#270000 149px,#1d0000 222px,#1a0000 307px)"></i><i style="background:linear-gradient(90deg,#1a0000 0px,#1a0000 90px,#1d0000 96px,#250000 136px,#1a0000 256px,#1a0000 307px)"></i><i style="background:linear-gradient(90deg,#1a0000 0px,#1a0000 94px,#1d0000 100px,#220000 144px,#1a0000 282px,#1a0000 307px)"></i><i style="background:linear-gradient(90deg,#1a0000 0px,#1a0000 97px,#1d0000 103px,#200000 175px,#1d0000 181px,#1a0000 307px)"></i><i style="background:linear-gradient(90deg,#1a0000 0px,#1d0000 123px,#200000 129px,#1a0000 261px,#1a0000 307px)"></i><i style="background:linear-gradient(90deg,#1a0000 0px,#1d0000 150px,#1a0000 300px,#1a0000 307px)"></i><i style="background:linear-gradient(90deg,#1a0000 0px,#1d0000 150px,#1a0000 300px,#1a0000 307px)"></i><i style="background:linear-gradient(90deg,#1a0000 0px,#1d0000 150px,#1a0000 276px,#1a0000 307px)"></i><i style="background:linear-gradient(90deg,#1a0000 0px,#1a0000 127px,#1d0000 133px,#1a0000 223px,#1a0000 307px)"></i><i style="background:linear-gradient(90deg,#1a0000 0px,#1a0000 150px,#1a0000 300px,#1a0000 307px)"></i><i style="background:linear-gradient(90deg,#1a0000 0px,#1a0000 150px,#1a0000 300px,#1a0000 307px)"></i><i style="background:linear-gradient(90deg,#1a0000 0px,#1a0000 150px,#1a0000 300px,#1a0000 307px)"></i><i style="background:linear-gradient(90deg,#1a0000 0px,#1a0000 150px,#1a0000 300px,#1a0000 307px)"></i><i style="background:linear-gradient(90deg,#1a0000 0px,#1a0000 150px,#1a0000 300px,#1a0000 307px)"></i><i style="background:linear-gradient(90deg,#1a0000 0px,#1a0000 150px,#1a0000 300px,#1a0000 307px)"></i><i style="background:linear-gradient(90deg,#1a0000 0px,#1a0000 150px,#1a0000 300px,#1a0000 307px)"></i><i style="background:linear-gradient(90deg,#1a0000 0px,#1a0000 150px,#1a0000 300px,#1a0000 307px)"></i><i style="background:linear-gradient(90deg,#1a0000 0px,#1a0000 150px,#1a0000 300px,#1a0000 307px)"></i><i style="background:linear-gradient(90deg,#1a0000 0px,#1a0000 150px,#1a0000 300px,#1a0000 307px)"></i><i style="background:linear-gradient(90deg,#1a0000 0px,#1a0000 150px,#1a0000 300px,#1a0000 307px)"></i><i style="background:linear-gradient(90deg,#1a0000 0px,#1a0000 150px,#1a0000 300px,#1a0000 307px)"></i></div>
<svg width="1306" height="491" viewBox="0 0 1306 491">
<defs>
<clipPath id="cp"><rect x="0" y="0" width="306" height="305.9"/></clipPath>
<g id="st" clip-path="url(#cp)" stroke="#00ffff" stroke-width="2.25" stroke-linejoin="round" stroke-linecap="round">
<path fill="none" d="M8.8 256.4 10.6 265.3 12.7 272.4 15.3 278.2 18.7 283.3 23.6 288.1 29.1 291.4 36.9 294.4 44.6 296.3 54.8 298 M72.9 291.4 86.6 293.3 100.5 294.5 114.4 295.3 128.3 295.8 142.2 296.1 156.1 296.1 170 296 183.9 295.6 197.8 295 211.7 294 225.5 292.5 239.2 290.4 252.7 286.9 261.7 283.3 268.8 279.1 275.2 273.7 279.8 267.8 283.5 261.2 286.6 253.7 289.2 244.6 291.4 233.5 293.2 219.8 294.4 205.9 295.3 192 295.8 178.1 296.1 164.2 296.1 150.3 296 136.4 295.6 122.5 295 108.6 294 94.7 292.6 80.9 290.4 67.2 287 53.7 283.5 44.6 279.3 37.4 273.8 31 268 26.3 261.5 22.6 253.9 19.5 244.9 16.9 233.9 14.7 220.1 12.8 206.3 11.6 192.4 10.7 178.5 10.2 164.6 9.9 150.7 9.9 136.8 10 M261.4 296.3 269.1 294.4 276.9 291.4 282.4 288.1 287.3 283.3 290.7 278.2 293.3 272.4 295.4 265.3 297.2 256.4 M296.3 44.6 294.4 36.9 291.4 29.1 288.1 23.6 283.3 18.7 278.2 15.3 272.4 12.7 265.3 10.6 256.4 8.8 M102 14.6 88.2 16.1 74.5 18.3 61 21.7 51.2 25.4 43.4 29.7 36.4 35.3 31.1 41.3 27 48 23.5 55.6 20.6 64.5 18.1 75.3 16 88.4 14.6 102.2 13.6 116.1 13 130 12.7 143.9 12.6 157.8 12.8 171.7 13.4 185.6 14.2 199.5 15.5 213.3 17.5 227.1 20.4 240.7 24 251.5 28 260 33.5 267.7 39.5 273.5 45.9 277.9 53.2 281.5 M44.6 9.7 36.9 11.6 29.1 14.6 23.6 17.9 18.7 22.7 15.3 27.8 12.7 33.6 10.6 40.7 8.8 49.6 M283.3 161.9 283.3 148 282.9 134.1 282 120.2 280.4 106.4 278.1 92.9 275.3 81.6 271.9 71.9 268 63.4 263.3 56 257.6 49.2 250.3 42.9 241 37.1 230.9 32.8 217.6 28.9 204 26.2 190.2 24.4 176.3 23.3 162.5 22.7 148.5 22.7 134.6 23 120.8 24 106.9 25.5 93.4 27.8 82 30.6 72.2 33.9 63.7 37.8 56.2 42.5 49.4 48.2 43.1 55.4 37.3 64.7 33 74.6 29 87.9 26.3 101.5 24.5 115.3 23.3 129.1 22.8 143 22.7 156.9 23 170.8 23.9 184.7 25.4 198.5 27.7 212.2 30.5 223.7 33.8 233.5 37.7 242 42.3 249.5 48 256.4 55.1 262.7 64.3 268.5 74.1 272.8 87.4 276.9 101 279.6 114.8 281.5 128.7 282.6 142.6 283.2 156.5 283.4 170.4 283 184.3 282.1 198.1 280.7 211.8 278.4 225.3 275 236.4 271 246.9 265.5 255 259.3 261.2 252.8 266.3 245.6 270.5 237.6 274 228.4 277.1 217.7 279.6 205.1 281.5 191.4 M38.3 200.2 41.3 211.6 44.9 221.5 49.2 230.3 54.3 238.1 60.4 245.3 68 251.8 77.4 257.7 87.4 262.3 100.7 266.5 112.8 269.1 M131.1 262.3 145 263.3 158.9 263.4 172.8 262.5 186.5 260.6 200.1 257.5 213.1 252.9 223.9 247.3 232.6 241.1 239.7 234.2 245.5 226.7 250.4 218.4 254.5 209.1 257.9 198.6 260.6 186.8 262.5 173.4 263.4 159.5 263.4 145.6 262.4 131.7 260.4 118 257.1 104.5 252.4 91.7 246.7 81.1 240.4 72.6 233.5 65.7 225.9 59.9 217.5 55.1 208.1 51.1 197.5 47.8 185.5 45.2 171.9 43.4 158.1 42.6 144.2 42.7 130.3 43.8 116.6 45.9 103.1 49.3 90.5 54.1 80.2 59.9 71.8 66.2 65 73.2 59.4 80.9 54.7 89.4 50.7 98.8 47.5 109.6 45 121.7 43.2 135.5 42.5 149.4 42.7 163.2 43.9 177.1 46.2 190.8 M240.5 276.1 248.6 272.3 255.8 267.8 262.3 262.3 267.8 255.8 272.3 248.6 276.1 240.5 M262.3 87.4 257.7 77.4 251.8 68 245.3 60.4 M87.4 43.7 77.4 48.3 68 54.2 60.4 60.7 M52.8 185.3 55.7 196.5 59.3 206.4 63.7 215.3 68.9 223.3 75.3 230.6 82.9 237.2 92.1 243.1 102 247.7 115.2 251.9 126.9 254.4 M145.7 247.7 159.6 247.8 173.3 246.4 186.6 243.7 198.7 239.7 209.1 234.5 217.8 228.5 225.1 221.8 231.1 214.4 236.1 206.2 240.2 197.2 243.6 187.1 246 176 247.5 163.7 247.9 150.4 247 136.7 244.7 123.2 241 110.7 236.2 99.8 230.4 90.6 223.9 82.9 216.7 76.6 208.8 71.3 200 66.9 190.2 63.3 179.4 60.6 167.5 58.8 154.5 58.1 140.8 58.6 127.2 60.5 114.3 63.7 102.9 68.3 93.2 73.8 85.1 80.1 78.3 87 72.7 94.8 68.1 103.3 64.3 112.7 61.3 123.2 59.2 134.8 58.1 147.5 58.3 161.1 59.7 174.8 M214.4 266.7 224.2 263.1 232.9 258.9 240.7 253.8 247.7 247.7 253.8 240.7 258.9 232.9 263.1 224.2 266.7 214.4 M73.8 114.1 70.1 125.4 67.7 137.7 66.8 150.2 67.1 162.4 68.6 173.8 71.1 184.2 74.5 193.7 78.9 202.3 84.1 210.1 90.5 217.2 98 223.5 107 229 116.6 233.1 127.3 236.3 138.3 238.3 150.1 239.2 162.5 238.9 175 237.2 186.8 234.1 M233.1 189.4 236.3 178.7 238.3 167.7 239.2 155.9 238.9 143.5 237.2 131 234.1 119.2 M189.4 72.9 178.7 69.7 167.7 67.7 155.9 66.8 143.5 67.1 131 68.8 119.2 71.9 M124.4 216.4 134.2 219.5 144.6 221.3 155 221.7 165 220.8 174.5 218.8 183.2 215.7 191.2 211.7 198.4 206.6 204.9 200.4 210.5 193 215.2 184.5 218.6 175 220.8 164.7 221.7 154.3 221.2 144.1 219.5 134.4 216.8 125.5 213 117.3 208.3 109.8 202.4 103.1 195.5 97.2 187.3 92.2 178.1 88.4 168 85.7 157.6 84.5 147.3 84.6 137.4 85.9 128.2 88.3 119.8 91.7 112.1 96.2 105.2 101.6 99 108.2 93.7 116 89.5 124.9 86.5 134.8 84.8 145.1 84.4 155.5 85.4 165.5 87.4 174.9 90.6 183.6 94.7 191.6 99.8 198.7 106.1 205.1 113.5 210.7 122 215.3 131.1 218.6 M131.1 204 139.6 206.6 148.2 207.9 157.1 208 166.1 206.7 174.7 204.1 182.6 200.2 189.5 195.3 195.3 189.5 M204 174.9 206.6 166.4 207.9 157.8 208 148.9 206.7 139.9 204.1 131.3 M174.9 102 166.4 99.4 157.8 98.1 148.9 98 139.9 99.3 131.3 101.9 M116.4 110.8 110.6 116.6 105.7 123.5 102 131.1 99.4 139.6 98.1 148.2 98 157.1 99.3 166.1 101.9 174.7 105.8 182.6 110.7 189.5 116.5 195.3 M187.8 177.6 191.5 171 194 163.7 195.2 156.1 195.1 148.4 193.7 141 191.1 134.1 187.4 127.8 182.6 122.2 176.7 117.6 170 114.1 162.6 111.7 155 110.7 147.3 111.1 140 112.7 133.1 115.4 127 119.3 121.6 124.2 117.1 130.2 113.7 137 111.6 144.5 110.8 152.2 111.3 159.8 113 167.1 116 173.8 120 179.9 125.1 185.1 131.1 189.4 138 192.6 145.2 194.6 152.8 195.2 160.5 194.6 168 192.7 174.9 189.4 181 185.1 M140.9 172.9 146 175.2 151.5 176.2 157.1 175.9 162.4 174.3 167.2 171.5 171.1 167.6 174.1 162.8 175.8 157.5 176.2 151.9 175.2 146.4 173.1 141.3 169.7 136.9 165.4 133.4 160.3 131 154.8 129.9 149.3 130.2 144 131.7 139.2 134.4 135.2 138.2 132.2 143 130.4 148.3 129.9 153.9 130.8 159.3 132.9 164.4 136.2 168.9 140.5 172.4 145.7 174.9 151.5 176 M153.2 163.6 157 162.8 160.1 160.8 162.4 157.8 163.5 154.2 163.2 150.5 161.6 147 159 144.4 155.6 142.8 151.8 142.6 148.2 143.7 145.3 146 143.3 149.2 142.6 152.9 143.3 156.6 145.7 160.3 149.4 162.7"/>
<path fill="none" d="M142.53 306 Q143.23 306 141.6 306 M306 163.47 Q306 162.77 306 164.4 M163.47 0 Q162.77 0 164.4 0 M0 141.87 Q0 142.57 0 140.94 M20.7 285.27 Q20.93 285.49 19.48 284.09 M295.37 189.25 Q295.4 188.55 295.34 190.18 M284.39 286.14 Q284.62 285.92 283.16 287.32 M286.14 21.61 Q285.92 21.38 287.32 22.84 M13.45 118.89 Q13.42 119.59 13.49 117.96 M21.61 19.86 Q21.38 20.08 22.84 18.68 M23.22 131.92 Q23.19 132.62 23.26 130.99 M62.5 247.08 Q63.34 247.81 62.42 247.01 M231.26 63.99 Q230.47 63.39 231.55 64.2 M264.09 260.17 Q264.58 259.6 263.55 260.8 M256.25 75.03 Q256.25 75.03 257.49 77 M75.03 49.75 Q75.03 49.75 77 48.51 M77.35 232.42 Q78.21 233.17 77.31 232.39 M221.83 81.11 Q221.07 80.43 222.05 81.3 M242.78 251.99 Q243.49 251.37 242.43 252.28 M85.98 212.19 Q86.63 212.92 85.73 211.92 M239.13 153.11 Q239.12 152.78 239.17 154.78 M153.11 66.87 Q152.78 66.88 154.78 66.83 M184.76 91.16 Q183.72 90.73 184.84 91.2 M159.88 207.57 Q160.75 207.45 159.32 207.65 M207.92 155.04 Q207.93 154.19 207.92 155.67 M155.04 98.08 Q154.19 98.07 155.67 98.08 M98.08 150.96 Q98.07 151.81 98.08 150.33 M119.89 126.46 Q119.61 126.84 120.72 125.36 M157.61 130.49 Q157.6 130.48 159.88 130.94 M155.55 142.85 Q154.61 142.79 156 142.87"/>
<path fill="#00ffff" d="M136.05 303.22 L141.6 306 L136.05 308.78 Z M303.22 169.95 L306 164.4 L308.78 169.95 Z M169.95 2.78 L164.4 0 L169.95 -2.78 Z M2.78 135.39 L0 140.94 L-2.78 135.39 Z M17.4 278.24 L19.48 284.09 L13.55 282.25 Z M292.36 195.62 L295.34 190.18 L297.91 195.83 Z M277.23 289.17 L283.16 287.32 L281.08 293.17 Z M289.17 28.77 L287.32 22.84 L293.17 24.92 Z M16.51 112.53 L13.49 117.96 L10.96 112.29 Z M28.77 16.83 L22.84 18.68 L24.92 12.83 Z M26.27 125.56 L23.26 130.99 L20.72 125.32 Z M60.03 241.27 L62.42 247.01 L56.4 245.47 Z M234.3 69.77 L231.55 64.2 L237.65 65.33 Z M257.83 263.22 L263.55 260.8 L262.06 266.83 Z M258.1 83.18 L257.49 77 L262.8 80.22 Z M83.18 47.9 L77 48.51 L80.22 43.2 Z M74.93 226.65 L77.31 232.39 L71.29 230.85 Z M224.37 87.07 L222.05 81.3 L228.05 82.9 Z M236.42 253.82 L242.43 252.28 L240.05 258.02 Z M84.09 205.93 L85.73 211.92 L79.95 209.64 Z M236.55 160.41 L239.17 154.78 L242.1 160.26 Z M160.41 69.45 L154.78 66.83 L160.26 63.9 Z M188.89 95.91 L184.84 91.2 L191.04 90.79 Z M153.43 205.68 L159.32 207.65 L154.21 211.18 Z M205.11 161.21 L207.92 155.67 L210.66 161.24 Z M161.21 100.89 L155.67 98.08 L161.24 95.34 Z M100.89 144.79 L98.08 150.33 L95.34 144.76 Z M126.28 122.59 L120.72 125.36 L121.84 119.25 Z M164.78 134.74 L159.88 130.94 L165.87 129.3 Z M161.38 145.98 L156 142.87 L161.71 140.43 Z"/>
</g>
<linearGradient id="hot" x1="0" y1="1" x2="0" y2="0">
<stop offset="0" stop-color="#0b0000"/><stop offset="0.365079" stop-color="#ff0000"/><stop offset="0.746032" stop-color="#ffff00"/><stop offset="1" stop-color="#ffffff"/>
</linearGradient>
</defs>
<use href="#st" x="60.5" y="130.5"/>
<rect x="60.5" y="434.8" width="306" height="1.1" fill="#00ffff"/>
<rect x="60.5" y="130.5" width="306" height="305.9" fill="none" stroke="#000" stroke-width="1.1"/>
<rect x="364.9" y="131" width="2" height="304.9" fill="#00ffff"/>
<text x="59.8" y="455.8" font-size="14" text-anchor="middle"  >0.0</text>
<text x="50.3" y="441.7" font-size="14" text-anchor="end"  >0.0</text>
<text x="121" y="455.8" font-size="14" text-anchor="middle"  >0.2</text>
<text x="50.3" y="380.52" font-size="14" text-anchor="end"  >0.2</text>
<text x="182.2" y="455.8" font-size="14" text-anchor="middle"  >0.4</text>
<text x="50.3" y="319.34" font-size="14" text-anchor="end"  >0.4</text>
<text x="243.4" y="455.8" font-size="14" text-anchor="middle"  >0.6</text>
<text x="50.3" y="258.16" font-size="14" text-anchor="end"  >0.6</text>
<text x="304.6" y="455.8" font-size="14" text-anchor="middle"  >0.8</text>
<text x="50.3" y="196.98" font-size="14" text-anchor="end"  >0.8</text>
<text x="365.8" y="455.8" font-size="14" text-anchor="middle"  >1.0</text>
<text x="50.3" y="135.8" font-size="14" text-anchor="end"  >1.0</text>
<path d="M60.5 436.4 v4.9 M60.5 436.4 h-4.9 M121.7 436.4 v4.9 M60.5 375.22 h-4.9 M182.9 436.4 v4.9 M60.5 314.04 h-4.9 M244.1 436.4 v4.9 M60.5 252.86 h-4.9 M305.3 436.4 v4.9 M60.5 191.68 h-4.9 M366.5 436.4 v4.9 M60.5 130.5 h-4.9" stroke="#000" stroke-width="1.1"/>
<text x="213.5" y="477.5" font-size="21" text-anchor="middle" font-style="italic" >x</text>
<text transform="translate(23,283.5) rotate(-90)" font-size="21" text-anchor="middle" font-style="italic">y</text>
<text y="122" font-size="22.5"><tspan x="154.7" font-style="italic">u</tspan><tspan x="167.6">(</tspan><tspan x="174.5" font-style="italic">t</tspan><tspan x="213">0.000</tspan><tspan x="263.8">)</tspan></text>
<text x="189.1" y="126.6" font-size="31">=</text>
<use href="#st" x="477.5" y="130.5"/>
<rect x="477.5" y="434.8" width="306" height="1.1" fill="#00ffff"/>
<rect x="477.5" y="130.5" width="306" height="305.9" fill="none" stroke="#000" stroke-width="1.1"/>
<rect x="782" y="131" width="1" height="304.9" fill="#00ffff"/>
<text x="476.8" y="455.8" font-size="14" text-anchor="middle"  >0.0</text>
<text x="467.3" y="441.7" font-size="14" text-anchor="end"  >0.0</text>
<text x="538" y="455.8" font-size="14" text-anchor="middle"  >0.2</text>
<text x="467.3" y="380.52" font-size="14" text-anchor="end"  >0.2</text>
<text x="599.2" y="455.8" font-size="14" text-anchor="middle"  >0.4</text>
<text x="467.3" y="319.34" font-size="14" text-anchor="end"  >0.4</text>
<text x="660.4" y="455.8" font-size="14" text-anchor="middle"  >0.6</text>
<text x="467.3" y="258.16" font-size="14" text-anchor="end"  >0.6</text>
<text x="721.6" y="455.8" font-size="14" text-anchor="middle"  >0.8</text>
<text x="467.3" y="196.98" font-size="14" text-anchor="end"  >0.8</text>
<text x="782.8" y="455.8" font-size="14" text-anchor="middle"  >1.0</text>
<text x="467.3" y="135.8" font-size="14" text-anchor="end"  >1.0</text>
<path d="M477.5 436.4 v4.9 M477.5 436.4 h-4.9 M538.7 436.4 v4.9 M477.5 375.22 h-4.9 M599.9 436.4 v4.9 M477.5 314.04 h-4.9 M661.1 436.4 v4.9 M477.5 252.86 h-4.9 M722.3 436.4 v4.9 M477.5 191.68 h-4.9 M783.5 436.4 v4.9 M477.5 130.5 h-4.9" stroke="#000" stroke-width="1.1"/>
<text x="630.5" y="477.5" font-size="21" text-anchor="middle" font-style="italic" >x</text>
<text transform="translate(440,283.5) rotate(-90)" font-size="21" text-anchor="middle" font-style="italic">y</text>
<text y="122" font-size="22.5"><tspan x="571.7" font-style="italic">u</tspan><tspan x="584.6">(</tspan><tspan x="591.5" font-style="italic">t</tspan><tspan x="630">0.500</tspan><tspan x="680.8">)</tspan></text>
<text x="606.1" y="126.6" font-size="31">=</text>
<use href="#st" x="922.5" y="130.5"/>
<rect x="922.5" y="434.8" width="306" height="1.1" fill="#00ffff"/>
<rect x="922.5" y="130.5" width="306" height="305.9" fill="none" stroke="#000" stroke-width="1.1"/>
<rect x="1226.5" y="131" width="1.7" height="304.9" fill="#00ffff"/>
<text x="921.8" y="455.8" font-size="14" text-anchor="middle"  >0.0</text>
<text x="912.3" y="441.7" font-size="14" text-anchor="end"  >0.0</text>
<text x="983" y="455.8" font-size="14" text-anchor="middle"  >0.2</text>
<text x="912.3" y="380.52" font-size="14" text-anchor="end"  >0.2</text>
<text x="1044.2" y="455.8" font-size="14" text-anchor="middle"  >0.4</text>
<text x="912.3" y="319.34" font-size="14" text-anchor="end"  >0.4</text>
<text x="1105.4" y="455.8" font-size="14" text-anchor="middle"  >0.6</text>
<text x="912.3" y="258.16" font-size="14" text-anchor="end"  >0.6</text>
<text x="1166.6" y="455.8" font-size="14" text-anchor="middle"  >0.8</text>
<text x="912.3" y="196.98" font-size="14" text-anchor="end"  >0.8</text>
<text x="1227.8" y="455.8" font-size="14" text-anchor="middle"  >1.0</text>
<text x="912.3" y="135.8" font-size="14" text-anchor="end"  >1.0</text>
<path d="M922.5 436.4 v4.9 M922.5 436.4 h-4.9 M983.7 436.4 v4.9 M922.5 375.22 h-4.9 M1044.9 436.4 v4.9 M922.5 314.04 h-4.9 M1106.1 436.4 v4.9 M922.5 252.86 h-4.9 M1167.3 436.4 v4.9 M922.5 191.68 h-4.9 M1228.5 436.4 v4.9 M922.5 130.5 h-4.9" stroke="#000" stroke-width="1.1"/>
<text x="1075.5" y="477.5" font-size="21" text-anchor="middle" font-style="italic" >x</text>
<text transform="translate(885,283.5) rotate(-90)" font-size="21" text-anchor="middle" font-style="italic">y</text>
<text y="122" font-size="22.5"><tspan x="1016.7" font-style="italic">u</tspan><tspan x="1029.6">(</tspan><tspan x="1036.5" font-style="italic">t</tspan><tspan x="1075">1.238</tspan><tspan x="1125.8">)</tspan></text>
<text x="1051.1" y="126.6" font-size="31">=</text>
<rect x="383.5" y="130.5" width="8" height="306" fill="url(#hot)" stroke="#000" stroke-width="1"/>
<text x="400.4" y="441.1" font-size="14" text-anchor="start"  >0.0</text>
<text x="400.4" y="377.65" font-size="14" text-anchor="start"  >0.1</text>
<text x="400.4" y="314.2" font-size="14" text-anchor="start"  >0.2</text>
<text x="400.4" y="250.75" font-size="14" text-anchor="start"  >0.3</text>
<text x="400.4" y="187.3" font-size="14" text-anchor="start"  >0.4</text>
<path d="M391.5 436.4 h4.9 M391.5 372.95 h4.9 M391.5 309.5 h4.9 M391.5 246.05 h4.9 M391.5 182.6 h4.9" stroke="#000" stroke-width="1.1"/>
<rect x="828.5" y="130.5" width="8" height="306" fill="url(#hot)" stroke="#000" stroke-width="1"/>
<text x="845.4" y="149.8" font-size="14" text-anchor="start"  >0</text>
<text y="200.42" font-size="14"><tspan x="844.4" font-size="18.5" dy="1">−</tspan><tspan x="855.4" dy="-1">1</tspan></text>
<text y="251.04" font-size="14"><tspan x="844.4" font-size="18.5" dy="1">−</tspan><tspan x="855.4" dy="-1">2</tspan></text>
<text y="301.66" font-size="14"><tspan x="844.4" font-size="18.5" dy="1">−</tspan><tspan x="855.4" dy="-1">3</tspan></text>
<text y="352.28" font-size="14"><tspan x="844.4" font-size="18.5" dy="1">−</tspan><tspan x="855.4" dy="-1">4</tspan></text>
<text y="402.9" font-size="14"><tspan x="844.4" font-size="18.5" dy="1">−</tspan><tspan x="855.4" dy="-1">5</tspan></text>
<path d="M836.5 144.3 h4.9 M836.5 194.92 h4.9 M836.5 245.54 h4.9 M836.5 296.16 h4.9 M836.5 346.78 h4.9 M836.5 397.4 h4.9" stroke="#000" stroke-width="1.1"/>
<rect x="1273.5" y="130.5" width="7" height="306" fill="url(#hot)" stroke="#000" stroke-width="1"/>
<text x="1289.4" y="433.3" font-size="14" text-anchor="start"  >0</text>
<text x="1289.4" y="373.93" font-size="14" text-anchor="start"  >1</text>
<text x="1289.4" y="314.56" font-size="14" text-anchor="start"  >2</text>
<text x="1289.4" y="255.19" font-size="14" text-anchor="start"  >3</text>
<text x="1289.4" y="195.82" font-size="14" text-anchor="start"  >4</text>
<text x="1289.4" y="136.45" font-size="14" text-anchor="start"  >5</text>
<path d="M1280.5 428.5 h4.9 M1280.5 369.13 h4.9 M1280.5 309.76 h4.9 M1280.5 250.39 h4.9 M1280.5 191.02 h4.9 M1280.5 131.65 h4.9" stroke="#000" stroke-width="1.1"/>
<text y="127.9" font-size="14"><tspan x="798.1" font-size="19" dy="2.4">×</tspan><tspan x="808.5" dy="-2.4">10</tspan><tspan x="822.6" font-size="10.8" dy="-4.9">16</tspan></text>
<text y="127.9" font-size="14"><tspan x="1243.2" font-size="19" dy="2.4">×</tspan><tspan x="1253.6" dy="-2.4">10</tspan><tspan x="1267.7" font-size="10.8" dy="-4.9">49</tspan></text>
<text x="1187.3" y="25" font-size="22.3" textLength="32.5" lengthAdjust="spacingAndGlyphs">DP</text>
<text x="1219.5" y="28.7" font-size="15.4">1</text>
<text x="1129.3" y="47" font-size="19.5" style="font-family:'DejaVu Math TeX Gyre','DejaVu Sans','DejaVu Serif',serif">𝒟</text>
<text y="50.3" font-size="15"><tspan x="1147.2" font-size="16" font-weight="bold">a</tspan><tspan x="1156.2">,</tspan><tspan x="1160.4" font-size="16.5" font-style="italic">u</tspan></text>
<text x="1175.6" y="50.6" font-size="30">=</text>
<text x="1198.6" y="47" font-size="22.3" textLength="30" lengthAdjust="spacingAndGlyphs">FE</text>
</svg>
</div></body></html>
